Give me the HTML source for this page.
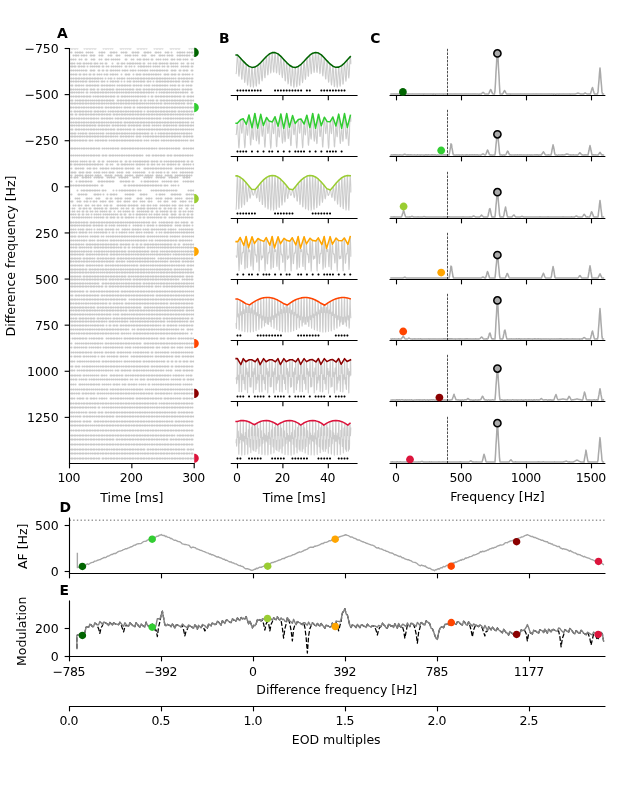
<!DOCTYPE html>
<html><head><meta charset="utf-8"><title>figure</title><style>html,body{margin:0;padding:0;background:#fff;}svg{display:block;}</style></head><body>
<svg width="629" height="800" viewBox="0 0 452.88 576" version="1.1">
 <defs>
  <style type="text/css">*{stroke-linejoin: round; stroke-linecap: butt}</style>
 </defs>
 <g id="figure_1">
  <g id="patch_1">
   <path d="M0 576 452.88 576 452.88 0 0 0z" style="fill: #ffffff"/>
  </g>
  <g id="axes_1">
   <g id="patch_2">
    <path d="M50.04 333.72 139.82 333.72 139.82 34.92 50.04 34.92z" style="fill: #ffffff"/>
   </g>
   <g id="patch_3">
    <path d="M139.82 363.6 166.76 363.6 166.76 5.04 139.82 5.04 139.82 363.6z" clip-path="url(#p271bf2d5a7)" style="fill: none"/>
   </g>
   <g id="matplotlib.axis_1">
    <g id="xtick_1">
     <g id="line2d_1">
      <defs>
       <path id="m1504cfccaf" d="M0 0 0 3.5" style="stroke: #000000; stroke-width: 0.8"/>
      </defs>
      <g>
       <use href="#m1504cfccaf" x="50.04" y="333.72" style="stroke: #000000; stroke-width: 0.8"/>
      </g>
     </g>
     <g id="text_1">
      <text style="font-size: 9px; font-family: 'DejaVu Sans', sans-serif; text-anchor: middle; letter-spacing: -0.3px" x="49.54" y="346.84" transform="rotate(-0 49.54 346.84)">100</text>
     </g>
    </g>
    <g id="xtick_2">
     <g id="line2d_2">
      <g>
       <use href="#m1504cfccaf" x="94.93" y="333.72" style="stroke: #000000; stroke-width: 0.8"/>
      </g>
     </g>
     <g id="text_2">
      <text style="font-size: 9px; font-family: 'DejaVu Sans', sans-serif; text-anchor: middle; letter-spacing: -0.3px" x="94.43" y="346.84" transform="rotate(-0 94.43 346.84)">200</text>
     </g>
    </g>
    <g id="xtick_3">
     <g id="line2d_3">
      <g>
       <use href="#m1504cfccaf" x="139.82" y="333.72" style="stroke: #000000; stroke-width: 0.8"/>
      </g>
     </g>
     <g id="text_3">
      <text style="font-size: 9px; font-family: 'DejaVu Sans', sans-serif; text-anchor: middle; letter-spacing: -0.3px" x="139.32" y="346.84" transform="rotate(-0 139.32 346.84)">300</text>
     </g>
    </g>
    <g id="text_4">
     <text style="font-size: 9px; font-family: 'DejaVu Sans', sans-serif; text-anchor: middle" x="94.93" y="361.71" transform="rotate(-0 94.93 361.71)">Time [ms]</text>
    </g>
   </g>
   <g id="matplotlib.axis_2">
    <g id="ytick_1">
     <g id="line2d_4">
      <defs>
       <path id="m5d545ce8f8" d="M0 0 -3.5 0" style="stroke: #000000; stroke-width: 0.8"/>
      </defs>
      <g>
       <use href="#m5d545ce8f8" x="50.04" y="34.92" style="stroke: #000000; stroke-width: 0.8"/>
      </g>
     </g>
     <g id="text_5">
      <text style="font-size: 9px; font-family: 'DejaVu Sans', sans-serif; text-anchor: end" x="42.32" y="38.34" transform="rotate(-0 42.32 38.34)">−750</text>
     </g>
    </g>
    <g id="ytick_2">
     <g id="line2d_5">
      <g>
       <use href="#m5d545ce8f8" x="50.04" y="68.12" style="stroke: #000000; stroke-width: 0.8"/>
      </g>
     </g>
     <g id="text_6">
      <text style="font-size: 9px; font-family: 'DejaVu Sans', sans-serif; text-anchor: end" x="42.32" y="71.54" transform="rotate(-0 42.32 71.54)">−500</text>
     </g>
    </g>
    <g id="ytick_3">
     <g id="line2d_6">
      <g>
       <use href="#m5d545ce8f8" x="50.04" y="101.32" style="stroke: #000000; stroke-width: 0.8"/>
      </g>
     </g>
     <g id="text_7">
      <text style="font-size: 9px; font-family: 'DejaVu Sans', sans-serif; text-anchor: end" x="42.32" y="104.74" transform="rotate(-0 42.32 104.74)">−250</text>
     </g>
    </g>
    <g id="ytick_4">
     <g id="line2d_7">
      <g>
       <use href="#m5d545ce8f8" x="50.04" y="134.52" style="stroke: #000000; stroke-width: 0.8"/>
      </g>
     </g>
     <g id="text_8">
      <text style="font-size: 9px; font-family: 'DejaVu Sans', sans-serif; text-anchor: end" x="42.32" y="137.94" transform="rotate(-0 42.32 137.94)">0</text>
     </g>
    </g>
    <g id="ytick_5">
     <g id="line2d_8">
      <g>
       <use href="#m5d545ce8f8" x="50.04" y="167.72" style="stroke: #000000; stroke-width: 0.8"/>
      </g>
     </g>
     <g id="text_9">
      <text style="font-size: 9px; font-family: 'DejaVu Sans', sans-serif; text-anchor: end" x="42.32" y="171.14" transform="rotate(-0 42.32 171.14)">250</text>
     </g>
    </g>
    <g id="ytick_6">
     <g id="line2d_9">
      <g>
       <use href="#m5d545ce8f8" x="50.04" y="200.92" style="stroke: #000000; stroke-width: 0.8"/>
      </g>
     </g>
     <g id="text_10">
      <text style="font-size: 9px; font-family: 'DejaVu Sans', sans-serif; text-anchor: end" x="42.32" y="204.34" transform="rotate(-0 42.32 204.34)">500</text>
     </g>
    </g>
    <g id="ytick_7">
     <g id="line2d_10">
      <g>
       <use href="#m5d545ce8f8" x="50.04" y="234.12" style="stroke: #000000; stroke-width: 0.8"/>
      </g>
     </g>
     <g id="text_11">
      <text style="font-size: 9px; font-family: 'DejaVu Sans', sans-serif; text-anchor: end" x="42.32" y="237.54" transform="rotate(-0 42.32 237.54)">750</text>
     </g>
    </g>
    <g id="ytick_8">
     <g id="line2d_11">
      <g>
       <use href="#m5d545ce8f8" x="50.04" y="267.32" style="stroke: #000000; stroke-width: 0.8"/>
      </g>
     </g>
     <g id="text_12">
      <text style="font-size: 9px; font-family: 'DejaVu Sans', sans-serif; text-anchor: end" x="42.32" y="270.74" transform="rotate(-0 42.32 270.74)">1000</text>
     </g>
    </g>
    <g id="ytick_9">
     <g id="line2d_12">
      <g>
       <use href="#m5d545ce8f8" x="50.04" y="300.52" style="stroke: #000000; stroke-width: 0.8"/>
      </g>
     </g>
     <g id="text_13">
      <text style="font-size: 9px; font-family: 'DejaVu Sans', sans-serif; text-anchor: end" x="42.32" y="303.94" transform="rotate(-0 42.32 303.94)">1250</text>
     </g>
    </g>
    <g id="text_14">
     <text style="font-size: 9px; font-family: 'DejaVu Sans', sans-serif; text-anchor: middle" x="10.94" y="184.32" transform="rotate(-90 10.94 184.32)">Difference frequency [Hz]</text>
    </g>
   </g>
   <g id="rasterpath">
    <path d="M50 34.9h0m1.5 0h0m0.7 0h0m1.4 0h0m0.8 0h0m1.4 0h0m5 0h0m1.5 0h0m0.7 0h0m1.4 0h0m0.8 0h0m1.4 0h0m1.4 0h0m0.8 0h0m5.7 0h0m1.5 0h0m0.7 0h0m1.4 0h0m1.5 0h0m1.4 0h0m5.8 0h0m0.7 0h0m1.4 0h0m1.5 0h0m1.4 0h0m1.4 0h0m0.8 0h0m5 0h0m0.7 0h0m1.5 0h0m0.7 0h0m1.4 0h0m0.7 0h0m1.5 0h0m5.7 0h0m1.5 0h0m0.7 0h0m1.4 0h0m0.8 0h0m1.4 0h0m5.8 0h0m0.7 0h0m1.4 0h0m1.5 0h0m0.7 0h0m1.4 0h0m0.7 0h0m7.2 0h0m1.5 0h0m1.4 0h0M50 37.8h0m1.5 0h0m2.9 0h0m1.4 0h0m1.4 0h0m0.8 0h0m1.4 0h0m2.9 0h0m1.4 0h0m1.5 0h0m1.4 0h0m5 0h0m1.5 0h0m0.7 0h0m1.4 0h0m4.4 0h0m0.7 0h0m1.4 0h0m0.7 0h0m1.5 0h0m3.6 0h0m1.4 0h0m1.5 0h0m0.7 0h0m4.3 0h0m0.7 0h0m1.5 0h0m1.4 0h0m0.7 0h0m4.3 0h0m0.8 0h0m1.4 0h0m0.7 0h0m1.5 0h0m3.6 0h0m0.7 0h0m1.4 0h0m1.5 0h0m3.6 0h0m1.4 0h0m0.7 0h0m2.2 0h0m4.3 0h0m1.4 0h0m0.8 0h0m1.4 0h0m1.4 0h0m2.2 0h0m1.4 0h0m1.5 0h0m0.7 0h0M52.9 40h0m1.5 0h0m0.7 0h0m1.4 0h0m2.2 0h0m1.4 0h0m0.7 0h0m1.5 0h0m2.9 0h0m0.7 0h0m1.4 0h0m0.7 0h0m3.6 0h0m1.5 0h0m0.7 0h0m4.3 0h0m1.5 0h0m0.7 0h0m3.6 0h0m0.7 0h0m1.4 0h0m4.4 0h0m1.4 0h0m1.4 0h0m0.8 0h0m2.1 0h0m1.5 0h0m1.4 0h0m3.6 0h0m1.4 0h0m0.8 0h0m4.3 0h0m0.7 0h0m1.4 0h0m3.6 0h0m0.8 0h0m1.4 0h0m1.4 0h0m2.2 0h0m1.4 0h0m1.5 0h0m0.7 0h0m3.6 0h0m1.4 0h0m0.8 0h0m1.4 0h0m1.4 0h0m1.5 0h0m0.7 0h0m1.4 0h0m2.9 0h0M50 42.8h0m1.5 0h0m1.4 0h0m1.5 0h0m2.8 0h0m1.5 0h0m2.9 0h0m0.7 0h0m3.6 0h0m1.4 0h0m0.7 0h0m3.6 0h0m1.5 0h0m2.9 0h0m0.7 0h0m1.4 0h0m2.2 0h0m1.4 0h0m1.5 0h0m1.4 0h0m1.4 0h0m4.4 0h0m0.7 0h0m3.6 0h0m1.4 0h0m2.9 0h0m1.4 0h0m0.8 0h0m2.1 0h0m0.7 0h0m1.5 0h0m1.4 0h0m2.2 0h0m0.7 0h0m2.9 0h0m1.4 0h0m1.5 0h0m2.1 0h0m1.5 0h0m1.4 0h0m2.9 0h0m0.7 0h0m1.4 0h0m2.2 0h0m1.4 0h0m0.8 0h0m2.1 0h0m1.5 0h0m1.4 0h0m2.9 0h0m0.7 0h0M50 45.7h0m1.5 0h0m0.7 0h0m1.4 0h0m2.2 0h0m1.4 0h0m0.8 0h0m2.1 0h0m0.7 0h0m1.5 0h0m1.4 0h0m1.5 0h0m0.7 0h0m2.1 0h0m0.8 0h0m1.4 0h0m2.2 0h0m1.4 0h0m2.2 0h0m0.7 0h0m4.3 0h0m3.6 0h0m0.7 0h0m2.2 0h0m0.7 0h0m1.4 0h0m2.2 0h0m1.4 0h0m0.8 0h0m1.4 0h0m0.7 0h0m1.5 0h0m1.4 0h0m1.4 0h0m0.8 0h0m2.1 0h0m0.7 0h0m2.9 0h0m1.5 0h0m2.1 0h0m1.5 0h0m0.7 0h0m2.1 0h0m0.8 0h0m1.4 0h0m1.4 0h0m1.5 0h0m0.7 0h0m2.2 0h0m0.7 0h0m1.4 0h0m1.5 0h0m1.4 0h0m2.9 0h0m1.4 0h0m2.9 0h0m0.7 0h0m2.2 0h0m1.4 0h0M50 47.9h0m1.5 0h0m0.7 0h0m1.4 0h0m0.8 0h0m2.1 0h0m0.7 0h0m1.5 0h0m1.4 0h0m0.7 0h0m2.2 0h0m2.2 0h0m1.4 0h0m1.4 0h0m1.5 0h0m1.4 0h0m0.7 0h0m2.2 0h0m0.7 0h0m2.2 0h0m1.4 0h0m2.2 0h0m1.4 0h0m1.5 0h0m1.4 0h0m1.4 0h0m1.5 0h0m2.9 0h0m0.7 0h0m2.1 0h0m1.5 0h0m2.1 0h0m2.9 0h0m1.5 0h0m0.7 0h0m1.4 0h0m0.7 0h0m1.5 0h0m1.4 0h0m1.5 0h0m2.1 0h0m1.5 0h0m1.4 0h0m1.4 0h0m2.2 0h0m1.4 0h0m2.2 0h0m0.7 0h0m2.2 0h0m1.4 0h0m1.5 0h0m1.4 0h0m2.9 0h0m1.4 0h0m1.5 0h0m1.4 0h0m0.7 0h0m2.2 0h0m0.7 0h0M50 50.8h0m1.5 0h0m1.4 0h0m1.5 0h0m1.4 0h0m1.4 0h0m1.5 0h0m1.4 0h0m1.5 0h0m0.7 0h0m2.9 0h0m0.7 0h0m1.4 0h0m0.7 0h0m2.9 0h0m0.7 0h0m2.2 0h0m0.7 0h0m2.2 0h0m0.7 0h0m2.2 0h0m0.7 0h0m1.4 0h0m1.5 0h0m1.4 0h0m1.4 0h0m2.2 0h0m1.4 0h0m0.8 0h0m1.4 0h0m2.2 0h0m1.4 0h0m0.7 0h0m1.5 0h0m2.1 0h0m1.5 0h0m1.4 0h0m1.4 0h0m0.8 0h0m1.4 0h0m2.2 0h0m1.4 0h0m1.4 0h0m1.5 0h0m0.7 0h0m1.4 0h0m0.8 0h0m1.4 0h0m1.4 0h0m1.5 0h0m0.7 0h0m2.9 0h0m0.7 0h0m1.4 0h0m0.8 0h0m2.8 0h0m0.8 0h0m2.1 0h0m0.7 0h0m1.5 0h0m0.7 0h0m2.9 0h0m0.7 0h0M50 53.6h0m1.5 0h0m1.4 0h0m1.5 0h0m0.7 0h0m2.1 0h0m0.8 0h0m2.1 0h0m0.7 0h0m1.5 0h0m2.1 0h0m0.8 0h0m2.1 0h0m0.7 0h0m2.2 0h0m1.4 0h0m1.5 0h0m2.1 0h0m1.5 0h0m0.7 0h0m2.2 0h0m1.4 0h0m0.7 0h0m1.5 0h0m1.4 0h0m2.9 0h0m2.9 0h0m0.7 0h0m1.4 0h0m0.7 0h0m2.9 0h0m2.2 0h0m0.7 0h0m1.4 0h0m0.8 0h0m2.1 0h0m0.7 0h0m1.5 0h0m1.4 0h0m0.7 0h0m1.5 0h0m1.4 0h0m1.5 0h0m0.7 0h0m1.4 0h0m1.5 0h0m2.8 0h0m0.8 0h0m1.4 0h0m0.7 0h0m2.2 0h0m0.7 0h0m1.4 0h0m0.8 0h0m2.1 0h0m0.7 0h0m2.2 0h0m0.7 0h0m1.5 0h0m1.4 0h0m1.4 0h0m2.2 0h0M50 56.5h0m1.5 0h0m1.4 0h0m1.5 0h0m0.7 0h0m1.4 0h0m0.7 0h0m1.5 0h0m1.4 0h0m0.7 0h0m1.5 0h0m0.7 0h0m1.4 0h0m0.8 0h0m1.4 0h0m1.4 0h0m0.8 0h0m1.4 0h0m0.7 0h0m1.5 0h0m1.4 0h0m2.2 0h0m2.1 0h0m1.5 0h0m0.7 0h0m2.1 0h0m2.2 0h0m1.4 0h0m1.5 0h0m0.7 0h0m1.4 0h0m2.2 0h0m1.4 0h0m1.5 0h0m1.4 0h0m1.5 0h0m1.4 0h0m0.7 0h0m1.5 0h0m0.7 0h0m1.4 0h0m0.7 0h0m1.5 0h0m1.4 0h0m0.7 0h0m1.5 0h0m0.7 0h0m1.4 0h0m1.5 0h0m0.7 0h0m1.4 0h0m0.8 0h0m1.4 0h0m1.4 0h0m0.8 0h0m1.4 0h0m1.4 0h0m1.5 0h0m1.4 0h0m1.5 0h0m2.1 0h0m0.7 0h0m1.5 0h0m1.4 0h0m0.7 0h0m1.5 0h0m0.7 0h0m1.4 0h0m1.5 0h0m0.7 0h0M50 58.7h0m1.5 0h0m1.4 0h0m1.5 0h0m0.7 0h0m1.4 0h0m1.5 0h0m1.4 0h0m0.7 0h0m1.5 0h0m0.7 0h0m2.1 0h0m0.8 0h0m1.4 0h0m1.4 0h0m1.5 0h0m1.4 0h0m2.2 0h0m0.7 0h0m1.4 0h0m2.2 0h0m2.2 0h0m1.4 0h0m0.7 0h0m1.5 0h0m1.4 0h0m0.7 0h0m2.2 0h0m2.1 0h0m2.2 0h0m1.4 0h0m0.8 0h0m2.1 0h0m0.7 0h0m1.5 0h0m1.4 0h0m1.5 0h0m0.7 0h0m1.4 0h0m0.7 0h0m2.2 0h0m0.7 0h0m1.5 0h0m2.1 0h0m2.2 0h0m0.7 0h0m1.4 0h0m0.8 0h0m1.4 0h0m1.4 0h0m0.8 0h0m1.4 0h0m0.7 0h0m1.5 0h0m0.7 0h0m1.4 0h0m1.5 0h0m0.7 0h0m1.4 0h0m0.7 0h0m2.2 0h0m0.7 0h0m1.5 0h0m1.4 0h0m0.7 0h0m2.2 0h0m0.7 0h0M50 61.6h0m1.5 0h0m0.7 0h0m2.2 0h0m0.7 0h0m1.4 0h0m0.7 0h0m1.5 0h0m1.4 0h0m2.2 0h0m0.7 0h0m1.4 0h0m0.8 0h0m1.4 0h0m1.4 0h0m0.8 0h0m1.4 0h0m0.7 0h0m2.2 0h0m0.7 0h0m1.4 0h0m1.5 0h0m0.7 0h0m1.4 0h0m0.8 0h0m1.4 0h0m1.4 0h0m2.2 0h0m1.4 0h0m1.5 0h0m0.7 0h0m1.4 0h0m0.8 0h0m1.4 0h0m1.4 0h0m0.8 0h0m2.1 0h0m0.7 0h0m1.5 0h0m1.4 0h0m1.5 0h0m0.7 0h0m2.1 0h0m1.5 0h0m1.4 0h0m0.7 0h0m2.2 0h0m1.4 0h0m1.5 0h0m0.7 0h0m1.4 0h0m0.8 0h0m1.4 0h0m1.4 0h0m0.8 0h0m1.4 0h0m2.2 0h0m1.4 0h0m1.4 0h0m0.8 0h0m2.1 0h0m0.7 0h0m2.2 0h0m0.7 0h0m2.2 0h0m1.4 0h0m1.5 0h0m0.7 0h0M50.8 64.4h0m0.7 0h0m1.4 0h0m1.5 0h0m1.4 0h0m1.4 0h0m1.5 0h0m1.4 0h0m0.7 0h0m1.5 0h0m0.7 0h0m2.2 0h0m0.7 0h0m1.4 0h0m0.7 0h0m2.2 0h0m0.7 0h0m2.2 0h0m0.7 0h0m1.4 0h0m1.5 0h0m0.7 0h0m1.4 0h0m0.8 0h0m1.4 0h0m0.7 0h0m2.2 0h0m0.7 0h0m1.4 0h0m1.5 0h0m1.4 0h0m1.5 0h0m1.4 0h0m1.4 0h0m0.8 0h0m1.4 0h0m0.7 0h0m2.2 0h0m0.7 0h0m1.4 0h0m0.8 0h0m2.1 0h0m0.7 0h0m1.5 0h0m1.4 0h0m0.7 0h0m1.5 0h0m0.7 0h0m1.4 0h0m1.5 0h0m0.7 0h0m1.4 0h0m0.8 0h0m1.4 0h0m1.4 0h0m0.8 0h0m1.4 0h0m1.4 0h0m1.5 0h0m0.7 0h0m1.4 0h0m0.8 0h0m1.4 0h0m1.4 0h0m2.2 0h0m0.7 0h0m1.5 0h0m1.4 0h0m0.7 0h0m1.5 0h0m0.7 0h0M50 66.6h0m1.5 0h0m0.7 0h0m1.4 0h0m1.5 0h0m1.4 0h0m0.7 0h0m1.5 0h0m1.4 0h0m2.2 0h0m0.7 0h0m2.2 0h0m1.4 0h0m1.4 0h0m0.8 0h0m1.4 0h0m0.7 0h0m1.5 0h0m1.4 0h0m0.7 0h0m1.5 0h0m0.7 0h0m1.4 0h0m1.5 0h0m1.4 0h0m1.4 0h0m1.5 0h0m0.7 0h0m1.4 0h0m1.5 0h0m1.4 0h0m1.5 0h0m0.7 0h0m1.4 0h0m0.7 0h0m1.5 0h0m1.4 0h0m1.5 0h0m1.4 0h0m0.7 0h0m1.5 0h0m0.7 0h0m1.4 0h0m0.7 0h0m1.5 0h0m1.4 0h0m0.7 0h0m1.5 0h0m1.4 0h0m2.2 0h0m2.1 0h0m1.5 0h0m1.4 0h0m0.7 0h0m1.5 0h0m0.7 0h0m1.4 0h0m1.5 0h0m1.4 0h0m1.5 0h0m0.7 0h0m1.4 0h0m1.5 0h0m1.4 0h0m0.7 0h0m1.5 0h0m1.4 0h0m2.9 0h0m0.7 0h0M50 69.5h0m1.5 0h0m1.4 0h0m1.5 0h0m0.7 0h0m1.4 0h0m0.7 0h0m1.5 0h0m1.4 0h0m0.7 0h0m1.5 0h0m0.7 0h0m1.4 0h0m0.8 0h0m2.1 0h0m1.5 0h0m1.4 0h0m0.7 0h0m1.5 0h0m1.4 0h0m0.7 0h0m1.5 0h0m0.7 0h0m1.4 0h0m1.5 0h0m0.7 0h0m1.4 0h0m0.7 0h0m2.2 0h0m0.7 0h0m2.2 0h0m0.7 0h0m1.4 0h0m0.8 0h0m1.4 0h0m1.4 0h0m1.5 0h0m1.4 0h0m1.5 0h0m1.4 0h0m0.7 0h0m1.5 0h0m1.4 0h0m1.4 0h0m0.8 0h0m2.1 0h0m2.2 0h0m0.7 0h0m2.2 0h0m0.7 0h0m1.4 0h0m1.5 0h0m0.7 0h0m1.4 0h0m0.7 0h0m1.5 0h0m0.7 0h0m1.4 0h0m1.5 0h0m0.7 0h0m1.4 0h0m0.8 0h0m1.4 0h0m1.4 0h0m0.8 0h0m2.1 0h0m0.7 0h0m2.2 0h0m0.7 0h0m1.5 0h0m0.7 0h0m1.4 0h0M50 72.4h0m1.5 0h0m0.7 0h0m2.2 0h0m1.4 0h0m1.4 0h0m0.8 0h0m1.4 0h0m0.7 0h0m1.5 0h0m0.7 0h0m1.4 0h0m1.5 0h0m1.4 0h0m1.4 0h0m1.5 0h0m1.4 0h0m0.7 0h0m1.5 0h0m0.7 0h0m1.4 0h0m1.5 0h0m0.7 0h0m1.4 0h0m0.8 0h0m1.4 0h0m0.7 0h0m2.9 0h0m0.7 0h0m1.5 0h0m0.7 0h0m1.4 0h0m1.5 0h0m0.7 0h0m1.4 0h0m0.7 0h0m1.5 0h0m1.4 0h0m0.7 0h0m1.5 0h0m0.7 0h0m2.2 0h0m0.7 0h0m2.1 0h0m0.8 0h0m2.1 0h0m1.5 0h0m1.4 0h0m0.7 0h0m2.2 0h0m0.7 0h0m2.2 0h0m0.7 0h0m1.4 0h0m0.7 0h0m1.5 0h0m0.7 0h0m1.4 0h0m1.5 0h0m0.7 0h0m1.4 0h0m0.8 0h0m1.4 0h0m1.4 0h0m0.8 0h0m1.4 0h0m0.7 0h0m1.5 0h0m1.4 0h0m0.7 0h0m1.5 0h0m0.7 0h0m1.4 0h0M50 74.5h0m1.5 0h0m0.7 0h0m1.4 0h0m0.8 0h0m1.4 0h0m1.4 0h0m0.8 0h0m1.4 0h0m0.7 0h0m1.5 0h0m0.7 0h0m1.4 0h0m1.5 0h0m0.7 0h0m1.4 0h0m0.7 0h0m1.5 0h0m1.4 0h0m0.7 0h0m1.5 0h0m0.7 0h0m1.4 0h0m1.5 0h0m1.4 0h0m1.5 0h0m0.7 0h0m1.4 0h0m0.7 0h0m1.5 0h0m1.4 0h0m1.5 0h0m0.7 0h0m1.4 0h0m1.5 0h0m0.7 0h0m1.4 0h0m0.7 0h0m1.5 0h0m1.4 0h0m0.7 0h0m1.5 0h0m0.7 0h0m1.4 0h0m0.8 0h0m1.4 0h0m1.4 0h0m1.5 0h0m1.4 0h0m1.5 0h0m1.4 0h0m1.4 0h0m1.5 0h0m1.4 0h0m1.5 0h0m0.7 0h0m2.1 0h0m0.8 0h0m1.4 0h0m1.4 0h0m1.5 0h0m1.4 0h0m1.5 0h0m0.7 0h0m1.4 0h0m0.7 0h0m1.5 0h0m1.4 0h0m0.7 0h0m2.2 0h0m0.7 0h0m1.5 0h0m0.7 0h0M50.8 77.4h0m0.7 0h0m1.4 0h0m1.5 0h0m0.7 0h0m1.4 0h0m0.7 0h0m1.5 0h0m1.4 0h0m0.7 0h0m1.5 0h0m1.4 0h0m1.5 0h0m0.7 0h0m1.4 0h0m0.7 0h0m1.5 0h0m1.4 0h0m0.7 0h0m1.5 0h0m0.7 0h0m2.2 0h0m0.7 0h0m1.4 0h0m1.5 0h0m0.7 0h0m1.4 0h0m0.7 0h0m1.5 0h0m0.7 0h0m1.4 0h0m1.5 0h0m2.1 0h0m0.8 0h0m1.4 0h0m1.4 0h0m0.8 0h0m2.1 0h0m0.7 0h0m2.2 0h0m1.4 0h0m0.8 0h0m1.4 0h0m1.4 0h0m0.8 0h0m1.4 0h0m0.7 0h0m1.5 0h0m1.4 0h0m0.7 0h0m1.5 0h0m0.7 0h0m1.4 0h0m1.5 0h0m0.7 0h0m1.4 0h0m0.7 0h0m1.5 0h0m0.7 0h0m1.4 0h0m1.5 0h0m0.7 0h0m1.4 0h0m0.8 0h0m1.4 0h0m1.4 0h0m0.8 0h0m1.4 0h0m0.7 0h0m1.5 0h0m1.4 0h0m0.7 0h0m1.5 0h0m0.7 0h0m1.4 0h0M50 80.3h0m1.5 0h0m2.1 0h0m0.8 0h0m1.4 0h0m1.4 0h0m0.8 0h0m1.4 0h0m0.7 0h0m1.5 0h0m0.7 0h0m1.4 0h0m1.5 0h0m0.7 0h0m2.1 0h0m0.8 0h0m1.4 0h0m0.7 0h0m1.5 0h0m1.4 0h0m0.7 0h0m1.5 0h0m2.1 0h0m1.5 0h0m1.4 0h0m0.7 0h0m1.5 0h0m1.4 0h0m0.7 0h0m1.5 0h0m0.7 0h0m1.4 0h0m1.5 0h0m0.7 0h0m1.4 0h0m1.5 0h0m1.4 0h0m0.7 0h0m1.5 0h0m1.4 0h0m0.7 0h0m1.5 0h0m0.7 0h0m2.1 0h0m2.2 0h0m0.7 0h0m1.5 0h0m1.4 0h0m0.7 0h0m1.5 0h0m0.7 0h0m1.4 0h0m1.5 0h0m0.7 0h0m1.4 0h0m0.7 0h0m1.5 0h0m0.7 0h0m1.4 0h0m1.5 0h0m0.7 0h0m1.4 0h0m0.8 0h0m2.1 0h0m0.7 0h0m1.5 0h0m1.4 0h0m0.7 0h0m1.5 0h0m0.7 0h0m1.4 0h0m1.5 0h0m0.7 0h0M50 82.4h0m1.5 0h0m0.7 0h0m2.2 0h0m0.7 0h0m2.1 0h0m0.8 0h0m1.4 0h0m0.7 0h0m1.5 0h0m0.7 0h0m1.4 0h0m1.5 0h0m0.7 0h0m1.4 0h0m0.7 0h0m1.5 0h0m1.4 0h0m0.7 0h0m1.5 0h0m0.7 0h0m1.4 0h0m1.5 0h0m0.7 0h0m1.4 0h0m0.8 0h0m2.1 0h0m0.7 0h0m1.5 0h0m0.7 0h0m1.4 0h0m1.5 0h0m0.7 0h0m1.4 0h0m0.8 0h0m1.4 0h0m1.4 0h0m0.8 0h0m1.4 0h0m0.7 0h0m1.5 0h0m1.4 0h0m0.7 0h0m1.5 0h0m0.7 0h0m1.4 0h0m0.7 0h0m1.5 0h0m1.4 0h0m0.7 0h0m1.5 0h0m0.7 0h0m1.4 0h0m1.5 0h0m0.7 0h0m1.4 0h0m0.8 0h0m1.4 0h0m1.4 0h0m0.8 0h0m1.4 0h0m0.7 0h0m1.5 0h0m0.7 0h0m1.4 0h0m1.5 0h0m1.4 0h0m1.4 0h0m0.8 0h0m1.4 0h0m0.7 0h0m1.5 0h0m1.4 0h0m0.7 0h0m1.5 0h0m0.7 0h0m1.4 0h0M50 85.3h0m1.5 0h0m0.7 0h0m1.4 0h0m1.5 0h0m1.4 0h0m0.7 0h0m1.5 0h0m1.4 0h0m0.7 0h0m1.5 0h0m1.4 0h0m1.5 0h0m0.7 0h0m1.4 0h0m0.7 0h0m1.5 0h0m1.4 0h0m2.2 0h0m0.7 0h0m1.4 0h0m1.5 0h0m0.7 0h0m1.4 0h0m0.8 0h0m1.4 0h0m2.2 0h0m1.4 0h0m0.7 0h0m1.5 0h0m0.7 0h0m1.4 0h0m1.5 0h0m0.7 0h0m1.4 0h0m0.7 0h0m1.5 0h0m1.4 0h0m0.7 0h0m1.5 0h0m0.7 0h0m1.4 0h0m0.8 0h0m1.4 0h0m1.4 0h0m1.5 0h0m1.4 0h0m0.7 0h0m1.5 0h0m0.7 0h0m1.4 0h0m1.5 0h0m0.7 0h0m1.4 0h0m0.8 0h0m2.1 0h0m1.5 0h0m1.4 0h0m0.7 0h0m1.5 0h0m0.7 0h0m1.4 0h0m1.5 0h0m1.4 0h0m1.4 0h0m0.8 0h0m1.4 0h0m0.7 0h0m1.5 0h0m1.4 0h0m0.7 0h0m1.5 0h0m1.4 0h0M50 88.2h0m1.5 0h0m1.4 0h0m1.5 0h0m0.7 0h0m1.4 0h0m0.7 0h0m1.5 0h0m1.4 0h0m0.7 0h0m1.5 0h0m1.4 0h0m1.5 0h0m0.7 0h0m1.4 0h0m0.7 0h0m1.5 0h0m1.4 0h0m0.7 0h0m1.5 0h0m0.7 0h0m1.4 0h0m1.5 0h0m1.4 0h0m1.5 0h0m0.7 0h0m1.4 0h0m1.5 0h0m1.4 0h0m0.7 0h0m1.5 0h0m0.7 0h0m2.1 0h0m0.8 0h0m1.4 0h0m1.4 0h0m0.8 0h0m1.4 0h0m0.7 0h0m1.5 0h0m1.4 0h0m0.7 0h0m1.5 0h0m0.7 0h0m1.4 0h0m0.7 0h0m1.5 0h0m1.4 0h0m0.7 0h0m1.5 0h0m0.7 0h0m1.4 0h0m1.5 0h0m0.7 0h0m1.4 0h0m0.8 0h0m1.4 0h0m1.4 0h0m0.8 0h0m1.4 0h0m0.7 0h0m1.5 0h0m0.7 0h0m1.4 0h0m1.5 0h0m1.4 0h0m1.4 0h0m0.8 0h0m1.4 0h0m0.7 0h0m1.5 0h0m1.4 0h0m0.7 0h0m2.2 0h0m1.4 0h0M50 90.4h0m1.5 0h0m0.7 0h0m1.4 0h0m1.5 0h0m1.4 0h0m0.7 0h0m1.5 0h0m1.4 0h0m0.7 0h0m1.5 0h0m0.7 0h0m1.4 0h0m0.8 0h0m1.4 0h0m1.4 0h0m0.8 0h0m2.1 0h0m0.7 0h0m1.5 0h0m0.7 0h0m1.4 0h0m1.5 0h0m0.7 0h0m1.4 0h0m2.2 0h0m0.7 0h0m1.5 0h0m1.4 0h0m0.7 0h0m1.5 0h0m1.4 0h0m1.4 0h0m0.8 0h0m2.1 0h0m0.7 0h0m1.5 0h0m1.4 0h0m0.7 0h0m1.5 0h0m0.7 0h0m1.4 0h0m0.8 0h0m2.1 0h0m0.7 0h0m1.5 0h0m1.4 0h0m0.7 0h0m2.2 0h0m1.4 0h0m1.5 0h0m1.4 0h0m1.5 0h0m2.1 0h0m0.7 0h0m1.5 0h0m0.7 0h0m1.4 0h0m1.5 0h0m1.4 0h0m1.5 0h0m0.7 0h0m2.1 0h0m0.8 0h0m1.4 0h0m0.7 0h0m1.5 0h0m1.4 0h0m0.7 0h0m1.5 0h0m0.7 0h0m1.4 0h0M50 93.2h0m1.5 0h0m0.7 0h0m2.2 0h0m0.7 0h0m1.4 0h0m0.7 0h0m1.5 0h0m1.4 0h0m0.7 0h0m1.5 0h0m1.4 0h0m1.5 0h0m0.7 0h0m1.4 0h0m0.7 0h0m1.5 0h0m1.4 0h0m1.5 0h0m1.4 0h0m0.7 0h0m1.5 0h0m0.7 0h0m1.4 0h0m1.5 0h0m0.7 0h0m1.4 0h0m0.7 0h0m2.2 0h0m0.7 0h0m1.5 0h0m0.7 0h0m1.4 0h0m1.5 0h0m1.4 0h0m1.4 0h0m0.8 0h0m2.1 0h0m0.7 0h0m2.2 0h0m1.4 0h0m0.8 0h0m1.4 0h0m1.4 0h0m1.5 0h0m1.4 0h0m0.7 0h0m1.5 0h0m0.7 0h0m1.4 0h0m1.5 0h0m0.7 0h0m1.4 0h0m0.8 0h0m1.4 0h0m1.4 0h0m0.8 0h0m1.4 0h0m0.7 0h0m1.5 0h0m0.7 0h0m1.4 0h0m1.5 0h0m0.7 0h0m1.4 0h0m1.5 0h0m1.4 0h0m0.7 0h0m1.5 0h0m1.4 0h0m1.4 0h0m1.5 0h0m1.4 0h0M50 96.1h0m1.5 0h0m0.7 0h0m1.4 0h0m0.8 0h0m2.1 0h0m1.5 0h0m1.4 0h0m0.7 0h0m1.5 0h0m0.7 0h0m2.1 0h0m0.8 0h0m1.4 0h0m1.4 0h0m1.5 0h0m1.4 0h0m1.5 0h0m1.4 0h0m0.7 0h0m2.2 0h0m1.4 0h0m1.5 0h0m0.7 0h0m1.4 0h0m0.7 0h0m1.5 0h0m0.7 0h0m1.4 0h0m1.5 0h0m0.7 0h0m1.4 0h0m0.8 0h0m1.4 0h0m1.4 0h0m1.5 0h0m1.4 0h0m0.7 0h0m1.5 0h0m0.7 0h0m1.4 0h0m0.8 0h0m1.4 0h0m1.4 0h0m0.8 0h0m1.4 0h0m0.7 0h0m2.2 0h0m0.7 0h0m2.2 0h0m2.1 0h0m1.5 0h0m0.7 0h0m1.4 0h0m0.7 0h0m1.5 0h0m0.7 0h0m1.4 0h0m1.5 0h0m0.7 0h0m1.4 0h0m0.8 0h0m1.4 0h0m1.4 0h0m1.5 0h0m1.4 0h0m0.7 0h0m1.5 0h0m0.7 0h0m1.4 0h0m1.5 0h0M50 98.3h0m1.5 0h0m0.7 0h0m1.4 0h0m0.8 0h0m1.4 0h0m1.4 0h0m0.8 0h0m1.4 0h0m1.4 0h0m1.5 0h0m0.7 0h0m1.4 0h0m0.8 0h0m1.4 0h0m1.4 0h0m0.8 0h0m1.4 0h0m0.7 0h0m1.5 0h0m1.4 0h0m0.7 0h0m1.5 0h0m0.7 0h0m1.4 0h0m1.5 0h0m0.7 0h0m1.4 0h0m1.5 0h0m1.4 0h0m2.2 0h0m0.7 0h0m1.4 0h0m1.5 0h0m0.7 0h0m1.4 0h0m0.7 0h0m1.5 0h0m1.4 0h0m2.2 0h0m0.7 0h0m1.4 0h0m0.8 0h0m2.1 0h0m1.5 0h0m1.4 0h0m0.7 0h0m1.5 0h0m1.4 0h0m0.7 0h0m1.5 0h0m0.7 0h0m1.4 0h0m1.5 0h0m0.7 0h0m1.4 0h0m0.7 0h0m1.5 0h0m0.7 0h0m1.4 0h0m1.5 0h0m0.7 0h0m1.4 0h0m0.8 0h0m1.4 0h0m1.4 0h0m0.8 0h0m2.1 0h0m0.7 0h0m1.5 0h0m0.7 0h0m1.4 0h0m1.5 0h0m0.7 0h0M50 101.2h0m1.5 0h0m0.7 0h0m1.4 0h0m0.8 0h0m1.4 0h0m1.4 0h0m0.8 0h0m1.4 0h0m0.7 0h0m1.5 0h0m0.7 0h0m2.1 0h0m0.8 0h0m1.4 0h0m2.2 0h0m1.4 0h0m0.7 0h0m1.5 0h0m1.4 0h0m0.7 0h0m1.5 0h0m0.7 0h0m2.1 0h0m1.5 0h0m1.4 0h0m0.7 0h0m1.5 0h0m0.7 0h0m1.4 0h0m1.5 0h0m0.7 0h0m1.4 0h0m0.8 0h0m1.4 0h0m1.4 0h0m0.8 0h0m1.4 0h0m0.7 0h0m1.5 0h0m1.4 0h0m0.7 0h0m1.5 0h0m0.7 0h0m2.1 0h0m1.5 0h0m1.4 0h0m2.2 0h0m1.4 0h0m1.5 0h0m0.7 0h0m1.4 0h0m2.2 0h0m1.4 0h0m0.7 0h0m1.5 0h0m1.4 0h0m1.5 0h0m0.7 0h0m1.4 0h0m1.5 0h0m0.7 0h0m1.4 0h0m0.7 0h0m1.5 0h0m1.4 0h0m1.5 0h0m1.4 0h0m2.2 0h0m0.7 0h0m1.4 0h0M50 106.9h0m1.5 0h0m0.7 0h0m1.4 0h0m0.8 0h0m1.4 0h0m1.4 0h0m1.5 0h0m1.4 0h0m0.7 0h0m1.5 0h0m1.4 0h0m1.5 0h0m0.7 0h0m1.4 0h0m0.7 0h0m1.5 0h0m1.4 0h0m0.7 0h0m2.2 0h0m1.4 0h0m1.5 0h0m1.4 0h0m1.5 0h0m1.4 0h0m0.7 0h0m1.5 0h0m1.4 0h0m0.7 0h0m2.2 0h0m0.7 0h0m1.4 0h0m0.8 0h0m1.4 0h0m1.4 0h0m0.8 0h0m1.4 0h0m0.7 0h0m1.5 0h0m1.4 0h0m0.7 0h0m1.5 0h0m1.4 0h0m1.4 0h0m1.5 0h0m1.4 0h0m0.7 0h0m1.5 0h0m0.7 0h0m1.4 0h0m1.5 0h0m2.1 0h0m0.8 0h0m1.4 0h0m1.4 0h0m1.5 0h0m0.7 0h0m1.4 0h0m1.5 0h0m1.4 0h0m1.5 0h0m0.7 0h0m1.4 0h0m0.7 0h0m2.9 0h0m0.7 0h0m1.5 0h0m1.4 0h0m1.5 0h0m0.7 0h0m1.4 0h0M50 112h0m1.5 0h0m1.4 0h0m1.5 0h0m1.4 0h0m1.4 0h0m1.5 0h0m1.4 0h0m0.7 0h0m1.5 0h0m1.4 0h0m1.5 0h0m0.7 0h0m1.4 0h0m0.7 0h0m1.5 0h0m1.4 0h0m0.7 0h0m2.2 0h0m0.7 0h0m1.5 0h0m0.7 0h0m2.1 0h0m0.8 0h0m1.4 0h0m0.7 0h0m1.5 0h0m1.4 0h0m1.4 0h0m1.5 0h0m0.7 0h0m1.4 0h0m1.5 0h0m1.4 0h0m0.7 0h0m1.5 0h0m1.4 0h0m0.7 0h0m1.5 0h0m0.7 0h0m1.4 0h0m0.8 0h0m1.4 0h0m2.9 0h0m1.4 0h0m0.7 0h0m2.2 0h0m0.7 0h0m1.5 0h0m0.7 0h0m1.4 0h0m1.5 0h0m0.7 0h0m1.4 0h0m0.7 0h0m2.2 0h0m0.7 0h0m1.5 0h0m0.7 0h0m2.1 0h0m0.8 0h0m1.4 0h0m1.4 0h0m0.8 0h0m1.4 0h0m0.7 0h0m1.5 0h0m1.4 0h0m0.7 0h0m1.5 0h0m1.4 0h0M50 116.3h0m1.5 0h0m1.4 0h0m1.5 0h0m1.4 0h0m2.2 0h0m1.4 0h0m1.4 0h0m1.5 0h0m2.1 0h0m0.8 0h0m2.1 0h0m0.7 0h0m2.9 0h0m0.7 0h0m2.2 0h0m0.7 0h0m2.9 0h0m1.4 0h0m1.5 0h0m1.4 0h0m1.5 0h0m1.4 0h0m2.2 0h0m0.7 0h0m2.9 0h0m0.7 0h0m2.1 0h0m0.8 0h0m2.1 0h0m1.5 0h0m1.4 0h0m1.4 0h0m0.8 0h0m1.4 0h0m1.4 0h0m0.8 0h0m1.4 0h0m0.7 0h0m2.2 0h0m0.7 0h0m1.4 0h0m1.5 0h0m0.7 0h0m2.2 0h0m0.7 0h0m2.1 0h0m1.5 0h0m1.4 0h0m1.5 0h0m0.7 0h0m1.4 0h0m1.5 0h0m0.7 0h0m1.4 0h0m0.7 0h0m1.5 0h0m1.4 0h0m0.7 0h0m2.2 0h0m0.7 0h0m2.2 0h0m0.7 0h0M50.8 118.4h0m0.7 0h0m2.1 0h0m0.8 0h0m1.4 0h0m1.4 0h0m0.8 0h0m1.4 0h0m1.4 0h0m1.5 0h0m0.7 0h0m1.4 0h0m0.8 0h0m1.4 0h0m1.4 0h0m0.8 0h0m1.4 0h0m0.7 0h0m1.5 0h0m1.4 0h0m2.9 0h0m0.7 0h0m2.2 0h0m1.4 0h0m3.6 0h0m0.7 0h0m2.2 0h0m0.7 0h0m1.4 0h0m0.8 0h0m1.4 0h0m1.4 0h0m1.5 0h0m1.4 0h0m2.2 0h0m0.7 0h0m1.4 0h0m0.8 0h0m1.4 0h0m1.4 0h0m2.2 0h0m0.7 0h0m2.2 0h0m0.7 0h0m1.4 0h0m2.2 0h0m1.4 0h0m2.2 0h0m1.4 0h0m2.2 0h0m0.7 0h0m1.5 0h0m0.7 0h0m1.4 0h0m1.5 0h0m2.1 0h0m0.7 0h0m2.9 0h0m0.7 0h0m1.5 0h0m1.4 0h0m1.5 0h0m2.1 0h0M50 121.3h0m1.5 0h0m2.9 0h0m0.7 0h0m1.4 0h0m1.5 0h0m1.4 0h0m0.7 0h0m2.9 0h0m1.4 0h0m0.8 0h0m2.1 0h0m0.7 0h0m1.5 0h0m2.9 0h0m1.4 0h0m0.7 0h0m1.5 0h0m0.7 0h0m1.4 0h0m2.2 0h0m1.4 0h0m0.7 0h0m1.5 0h0m0.7 0h0m1.4 0h0m1.5 0h0m0.7 0h0m2.2 0h0m0.7 0h0m1.4 0h0m1.5 0h0m1.4 0h0m0.7 0h0m2.9 0h0m1.4 0h0m3.6 0h0m0.8 0h0m1.4 0h0m0.7 0h0m1.5 0h0m1.4 0h0m0.7 0h0m1.5 0h0m0.7 0h0m1.4 0h0m1.5 0h0m0.7 0h0m1.4 0h0m0.7 0h0m1.5 0h0m1.4 0h0m1.5 0h0m0.7 0h0m2.9 0h0m0.7 0h0m1.4 0h0m1.5 0h0m1.4 0h0m0.7 0h0m1.5 0h0m1.4 0h0m1.4 0h0m1.5 0h0m1.4 0h0M51.5 124.2h0m0.7 0h0m1.4 0h0m0.8 0h0m2.8 0h0m0.8 0h0m1.4 0h0m0.7 0h0m2.2 0h0m0.7 0h0m1.4 0h0m0.8 0h0m2.8 0h0m1.5 0h0m1.4 0h0m0.7 0h0m2.2 0h0m1.4 0h0m1.5 0h0m2.1 0h0m0.8 0h0m1.4 0h0m0.7 0h0m2.9 0h0m1.4 0h0m1.5 0h0m0.7 0h0m2.9 0h0m1.4 0h0m0.7 0h0m2.9 0h0m1.5 0h0m1.4 0h0m1.4 0h0m1.5 0h0m1.4 0h0m0.7 0h0m3.6 0h0m2.2 0h0m0.7 0h0m2.2 0h0m1.4 0h0m1.5 0h0m0.7 0h0m2.1 0h0m2.2 0h0m0.7 0h0m2.9 0h0m1.4 0h0m1.5 0h0m2.9 0h0m1.4 0h0m0.7 0h0m1.5 0h0m1.4 0h0m1.4 0h0m1.5 0h0m0.7 0h0M50 126.4h0m1.5 0h0m2.9 0h0m1.4 0h0m1.4 0h0m0.8 0h0m1.4 0h0m2.2 0h0m0.7 0h0m1.4 0h0m1.5 0h0m1.4 0h0m2.2 0h0m1.4 0h0m0.7 0h0m1.5 0h0m3.6 0h0m0.7 0h0m1.4 0h0m1.5 0h0m0.7 0h0m2.9 0h0m1.4 0h0m0.7 0h0m1.5 0h0m0.7 0h0m2.9 0h0m1.4 0h0m1.4 0h0m0.8 0h0m1.4 0h0m2.9 0h0m0.7 0h0m1.4 0h0m0.8 0h0m1.4 0h0m2.2 0h0m1.4 0h0m0.7 0h0m1.5 0h0m1.4 0h0m2.9 0h0m0.7 0h0m1.4 0h0m1.5 0h0m2.9 0h0m1.4 0h0m0.7 0h0m1.5 0h0m0.7 0h0m2.9 0h0m1.4 0h0m1.4 0h0m0.8 0h0m1.4 0h0m1.4 0h0m1.5 0h0m0.7 0h0m1.4 0h0m1.5 0h0M50 127.8h0m1.5 0h0m2.1 0h0m0.8 0h0m1.4 0h0m3.6 0h0m0.7 0h0m1.5 0h0m0.7 0h0m1.4 0h0m1.5 0h0m2.8 0h0m1.5 0h0m1.4 0h0m0.7 0h0m1.5 0h0m0.7 0h0m3.6 0h0m1.4 0h0m1.5 0h0m1.4 0h0m0.7 0h0m3.6 0h0m1.5 0h0m0.7 0h0m1.4 0h0m0.8 0h0m1.4 0h0m4.3 0h0m0.7 0h0m1.5 0h0m1.4 0h0m4.3 0h0m1.5 0h0m1.4 0h0m0.7 0h0m1.5 0h0m3.6 0h0m1.4 0h0m1.5 0h0m0.7 0h0m1.4 0h0m0.7 0h0m3.6 0h0m1.5 0h0m0.7 0h0m1.4 0h0m0.8 0h0m1.4 0h0m4.3 0h0m0.7 0h0m1.5 0h0m0.7 0h0m1.4 0h0M50 130.7h0m1.5 0h0m3.6 0h0m2.1 0h0m0.8 0h0m1.4 0h0m0.7 0h0m1.5 0h0m0.7 0h0m1.4 0h0m1.5 0h0m0.7 0h0m5 0h0m0.7 0h0m1.5 0h0m0.7 0h0m1.4 0h0m1.5 0h0m0.7 0h0m1.4 0h0m0.8 0h0m1.4 0h0m0.7 0h0m5.1 0h0m0.7 0h0m1.4 0h0m1.5 0h0m0.7 0h0m1.4 0h0m0.7 0h0m2.2 0h0m0.7 0h0m5.8 0h0m2.1 0h0m0.8 0h0m1.4 0h0m0.7 0h0m1.5 0h0m1.4 0h0m0.7 0h0m1.5 0h0m1.4 0h0m3.6 0h0m1.4 0h0m1.5 0h0m1.4 0h0m1.5 0h0m0.7 0h0m2.1 0h0m0.8 0h0m1.4 0h0m4.3 0h0m1.5 0h0m1.4 0h0m0.7 0h0m1.5 0h0m0.7 0h0m1.4 0h0M50.8 133.6h0m0.7 0h0m1.4 0h0m1.5 0h0m0.7 0h0m1.4 0h0m0.7 0h0m1.5 0h0m1.4 0h0m0.7 0h0m1.5 0h0m0.7 0h0m1.4 0h0m0.8 0h0m1.4 0h0m1.4 0h0m0.8 0h0m1.4 0h0m2.9 0h0m0.7 0h0m15.8 0h0m0.8 0h0m2.1 0h0m0.7 0h0m1.5 0h0m1.4 0h0m0.7 0h0m1.5 0h0m0.7 0h0m1.4 0h0m0.8 0h0m1.4 0h0m1.4 0h0m0.8 0h0m1.4 0h0m0.7 0h0m1.5 0h0m1.4 0h0m0.7 0h0m1.5 0h0m0.7 0h0m1.4 0h0m1.5 0h0m0.7 0h0m2.1 0h0m0.8 0h0m1.4 0h0m2.9 0h0m1.4 0h0m1.5 0h0m2.1 0h0M55.8 137.2h0m2.9 0h0m1.4 0h0m0.7 0h0m1.5 0h0m0.7 0h0m1.4 0h0m0.8 0h0m1.4 0h0m1.4 0h0m0.8 0h0m1.4 0h0m1.4 0h0m2.2 0h0m0.7 0h0m1.5 0h0m5.7 0h0m2.2 0h0m2.1 0h0m1.5 0h0m0.7 0h0m1.4 0h0m0.8 0h0m1.4 0h0m1.4 0h0m0.8 0h0m1.4 0h0m0.7 0h0m1.5 0h0m2.1 0h0m1.5 0h0m7.9 0h0m1.4 0h0m1.5 0h0m0.7 0h0m1.4 0h0m1.5 0h0m0.7 0h0m1.4 0h0m0.7 0h0m1.5 0h0m0.7 0h0m1.4 0h0m1.5 0h0m1.4 0h0m1.5 0h0m0.7 0h0m8.6 0h0m1.5 0h0m0.7 0h0m1.4 0h0M50 140h0m1.5 0h0m5 0h0m0.7 0h0m1.5 0h0m1.4 0h0m1.5 0h0m0.7 0h0m5.7 0h0m0.8 0h0m1.4 0h0m0.7 0h0m1.5 0h0m2.1 0h0m2.9 0h0m2.2 0h0m0.7 0h0m1.4 0h0m0.7 0h0m1.5 0h0m6.5 0h0m1.4 0h0m1.4 0h0m0.8 0h0m1.4 0h0m0.7 0h0m5.1 0h0m0.7 0h0m1.4 0h0m0.7 0h0m1.5 0h0m7.2 0h0m2.1 0h0m0.8 0h0m1.4 0h0m1.4 0h0m5.1 0h0m0.7 0h0m1.4 0h0m0.8 0h0m1.4 0h0m1.4 0h0m0.8 0h0m4.3 0h0m0.7 0h0m1.4 0h0m1.5 0h0m1.4 0h0M50 142.9h0m4.4 0h0m1.4 0h0m1.4 0h0m5.1 0h0m0.7 0h0m1.4 0h0m1.5 0h0m3.6 0h0m1.4 0h0m0.7 0h0m5.1 0h0m0.7 0h0m2.2 0h0m0.7 0h0m2.9 0h0m1.4 0h0m0.7 0h0m1.5 0h0m0.7 0h0m2.9 0h0m1.4 0h0m1.4 0h0m0.8 0h0m5 0h0m0.7 0h0m1.5 0h0m0.7 0h0m3.6 0h0m1.4 0h0m0.7 0h0m1.5 0h0m3.6 0h0m1.4 0h0m1.5 0h0m0.7 0h0m2.9 0h0m1.4 0h0m0.7 0h0m1.5 0h0m0.7 0h0m2.9 0h0m1.4 0h0m1.4 0h0m1.5 0h0m3.6 0h0m0.7 0h0m1.4 0h0m1.5 0h0m0.7 0h0M50 145.1h0m1.5 0h0m0.7 0h0m3.6 0h0m1.4 0h0m0.8 0h0m2.8 0h0m1.5 0h0m0.7 0h0m2.2 0h0m2.1 0h0m0.7 0h0m1.5 0h0m2.9 0h0m1.4 0h0m0.7 0h0m1.5 0h0m2.8 0h0m0.8 0h0m1.4 0h0m3.6 0h0m0.7 0h0m1.5 0h0m2.8 0h0m0.8 0h0m1.4 0h0m1.4 0h0m2.9 0h0m0.7 0h0m1.5 0h0m2.9 0h0m1.4 0h0m1.4 0h0m2.9 0h0m0.7 0h0m1.5 0h0m5 0h0m1.5 0h0m2.8 0h0m0.8 0h0m1.4 0h0m3.6 0h0m1.4 0h0m0.8 0h0m3.6 0h0m1.4 0h0m0.7 0h0m1.5 0h0m2.8 0h0m1.5 0h0M50 148h0m2.9 0h0m1.5 0h0m2.1 0h0m0.7 0h0m1.5 0h0m2.9 0h0m0.7 0h0m1.4 0h0m2.9 0h0m1.4 0h0m2.2 0h0m0.7 0h0m1.5 0h0m2.8 0h0m1.5 0h0m0.7 0h0m2.2 0h0m0.7 0h0m4.3 0h0m0.7 0h0m1.5 0h0m1.4 0h0m1.4 0h0m0.8 0h0m2.1 0h0m0.7 0h0m1.5 0h0m1.4 0h0m0.7 0h0m1.5 0h0m0.7 0h0m2.9 0h0m1.4 0h0m0.7 0h0m2.2 0h0m0.7 0h0m1.5 0h0m2.1 0h0m1.5 0h0m0.7 0h0m2.9 0h0m1.4 0h0m1.4 0h0m1.5 0h0m0.7 0h0m1.4 0h0m2.2 0h0m1.4 0h0m0.8 0h0m2.8 0h0m0.8 0h0m1.4 0h0m2.2 0h0m1.4 0h0m0.7 0h0m2.2 0h0m1.4 0h0M50 150.1h0m2.2 0h0m1.4 0h0m3.6 0h0m0.8 0h0m2.1 0h0m0.7 0h0m1.5 0h0m2.1 0h0m0.8 0h0m2.8 0h0m0.8 0h0m1.4 0h0m1.4 0h0m1.5 0h0m0.7 0h0m2.2 0h0m0.7 0h0m2.9 0h0m0.7 0h0m1.4 0h0m1.5 0h0m1.4 0h0m2.9 0h0m1.4 0h0m2.2 0h0m1.4 0h0m2.9 0h0m0.7 0h0m2.9 0h0m0.7 0h0m1.5 0h0m0.7 0h0m1.4 0h0m0.7 0h0m2.2 0h0m0.7 0h0m1.5 0h0m1.4 0h0m1.4 0h0m1.5 0h0m2.1 0h0m0.8 0h0m2.8 0h0m0.8 0h0m2.1 0h0m1.5 0h0m0.7 0h0m2.1 0h0m0.8 0h0m2.8 0h0m1.5 0h0m3.6 0h0m0.7 0h0m2.9 0h0m1.4 0h0M50 152.3h0m2.2 0h0m1.4 0h0m2.2 0h0m1.4 0h0m2.2 0h0m0.7 0h0m2.2 0h0m0.7 0h0m2.2 0h0m1.4 0h0m2.2 0h0m1.4 0h0m2.2 0h0m1.4 0h0m1.4 0h0m1.5 0h0m2.1 0h0m0.8 0h0m2.8 0h0m2.9 0h0m1.5 0h0m2.1 0h0m1.5 0h0m1.4 0h0m1.4 0h0m2.2 0h0m0.7 0h0m2.9 0h0m1.4 0h0m1.5 0h0m1.4 0h0m1.5 0h0m1.4 0h0m0.7 0h0m2.2 0h0m0.7 0h0m2.9 0h0m0.7 0h0m2.2 0h0m1.4 0h0m1.4 0h0m1.5 0h0m0.7 0h0m2.2 0h0m0.7 0h0m2.1 0h0m0.8 0h0m2.8 0h0m0.8 0h0m2.1 0h0m1.5 0h0m2.1 0h0m1.5 0h0m1.4 0h0M50 154.4h0m1.5 0h0m1.4 0h0m1.5 0h0m2.1 0h0m0.7 0h0m2.2 0h0m0.7 0h0m2.2 0h0m1.4 0h0m2.2 0h0m2.1 0h0m1.5 0h0m1.4 0h0m1.5 0h0m2.1 0h0m1.5 0h0m1.4 0h0m1.4 0h0m1.5 0h0m1.4 0h0m1.5 0h0m1.4 0h0m2.2 0h0m0.7 0h0m2.1 0h0m0.8 0h0m2.8 0h0m0.8 0h0m2.1 0h0m2.2 0h0m0.7 0h0m1.4 0h0m0.8 0h0m1.4 0h0m1.4 0h0m1.5 0h0m2.1 0h0m1.5 0h0m2.1 0h0m1.5 0h0m0.7 0h0m1.4 0h0m2.2 0h0m1.4 0h0m1.5 0h0m0.7 0h0m2.9 0h0m0.7 0h0m1.4 0h0m0.8 0h0m2.8 0h0m0.8 0h0m2.1 0h0m0.7 0h0m2.2 0h0m0.7 0h0m2.2 0h0m0.7 0h0M50 156.6h0m2.2 0h0m1.4 0h0m1.5 0h0m1.4 0h0m0.7 0h0m1.5 0h0m1.4 0h0m1.5 0h0m1.4 0h0m1.4 0h0m1.5 0h0m2.1 0h0m1.5 0h0m1.4 0h0m1.5 0h0m1.4 0h0m0.7 0h0m2.2 0h0m0.7 0h0m2.2 0h0m0.7 0h0m1.4 0h0m0.7 0h0m2.2 0h0m0.7 0h0m2.2 0h0m0.7 0h0m2.2 0h0m0.7 0h0m1.4 0h0m0.7 0h0m1.5 0h0m1.4 0h0m2.2 0h0m2.1 0h0m0.8 0h0m2.1 0h0m0.7 0h0m2.2 0h0m0.7 0h0m1.5 0h0m1.4 0h0m1.4 0h0m1.5 0h0m1.4 0h0m1.5 0h0m0.7 0h0m2.1 0h0m0.8 0h0m2.8 0h0m1.5 0h0m0.7 0h0m1.4 0h0m1.5 0h0m1.4 0h0m0.7 0h0m1.5 0h0m1.4 0h0m1.5 0h0m1.4 0h0m1.4 0h0m1.5 0h0m0.7 0h0M50.8 160.2h0m0.7 0h0m1.4 0h0m1.5 0h0m0.7 0h0m1.4 0h0m0.7 0h0m1.5 0h0m1.4 0h0m0.7 0h0m1.5 0h0m0.7 0h0m2.2 0h0m0.7 0h0m1.4 0h0m0.7 0h0m1.5 0h0m1.4 0h0m0.7 0h0m1.5 0h0m0.7 0h0m1.4 0h0m1.5 0h0m0.7 0h0m1.4 0h0m0.8 0h0m1.4 0h0m0.7 0h0m1.5 0h0m1.4 0h0m0.7 0h0m1.5 0h0m0.7 0h0m1.4 0h0m1.5 0h0m1.4 0h0m1.4 0h0m0.8 0h0m1.4 0h0m0.7 0h0m1.5 0h0m1.4 0h0m1.4 0h0m1.5 0h0m1.4 0h0m0.7 0h0m1.5 0h0m1.4 0h0m0.7 0h0m2.2 0h0m0.7 0h0m1.5 0h0m2.8 0h0m1.5 0h0m1.4 0h0m0.7 0h0m1.5 0h0m0.7 0h0m1.4 0h0m1.5 0h0m0.7 0h0m2.2 0h0m0.7 0h0m1.4 0h0m2.2 0h0m1.4 0h0m0.7 0h0m1.5 0h0m0.7 0h0m2.9 0h0m0.7 0h0M50 162.4h0m1.5 0h0m0.7 0h0m1.4 0h0m0.8 0h0m1.4 0h0m1.4 0h0m1.5 0h0m1.4 0h0m0.7 0h0m1.5 0h0m0.7 0h0m1.4 0h0m0.8 0h0m2.1 0h0m0.7 0h0m1.5 0h0m1.4 0h0m0.7 0h0m1.5 0h0m0.7 0h0m2.2 0h0m0.7 0h0m2.1 0h0m1.5 0h0m1.4 0h0m0.7 0h0m2.2 0h0m1.4 0h0m1.5 0h0m1.4 0h0m1.5 0h0m0.7 0h0m2.1 0h0m2.9 0h0m1.5 0h0m1.4 0h0m0.7 0h0m1.5 0h0m0.7 0h0m2.1 0h0m2.2 0h0m0.7 0h0m1.5 0h0m1.4 0h0m0.7 0h0m2.2 0h0m2.1 0h0m0.8 0h0m1.4 0h0m1.4 0h0m0.8 0h0m1.4 0h0m0.7 0h0m1.5 0h0m0.7 0h0m2.9 0h0m1.4 0h0m1.4 0h0m0.8 0h0m2.1 0h0m0.7 0h0m1.5 0h0m0.7 0h0m1.4 0h0m2.2 0h0M50 165.2h0m1.5 0h0m1.4 0h0m1.5 0h0m2.1 0h0m1.5 0h0m1.4 0h0m0.7 0h0m2.2 0h0m0.7 0h0m1.4 0h0m1.5 0h0m2.1 0h0m2.2 0h0m1.4 0h0m1.5 0h0m0.7 0h0m2.2 0h0m0.7 0h0m1.4 0h0m1.5 0h0m1.4 0h0m0.7 0h0m2.2 0h0m1.4 0h0m2.9 0h0m1.4 0h0m0.8 0h0m1.4 0h0m1.4 0h0m2.2 0h0m0.7 0h0m1.5 0h0m1.4 0h0m0.7 0h0m1.5 0h0m2.1 0h0m1.5 0h0m1.4 0h0m0.7 0h0m2.2 0h0m0.7 0h0m1.4 0h0m1.5 0h0m1.4 0h0m1.5 0h0m1.4 0h0m1.4 0h0m0.8 0h0m2.1 0h0m1.5 0h0m0.7 0h0m1.4 0h0m1.5 0h0m2.8 0h0m1.5 0h0m1.4 0h0m1.5 0h0m1.4 0h0m1.4 0h0m1.5 0h0m0.7 0h0M50 167.4h0m1.5 0h0m0.7 0h0m1.4 0h0m1.5 0h0m2.1 0h0m0.8 0h0m1.4 0h0m0.7 0h0m1.5 0h0m0.7 0h0m2.1 0h0m1.5 0h0m2.1 0h0m1.5 0h0m1.4 0h0m1.5 0h0m1.4 0h0m0.7 0h0m1.5 0h0m0.7 0h0m2.1 0h0m2.2 0h0m0.7 0h0m2.2 0h0m2.1 0h0m1.5 0h0m0.7 0h0m1.4 0h0m1.5 0h0m2.1 0h0m1.5 0h0m1.4 0h0m2.2 0h0m0.7 0h0m1.4 0h0m1.5 0h0m2.1 0h0m1.5 0h0m1.4 0h0m0.7 0h0m1.5 0h0m0.7 0h0m2.9 0h0m2.1 0h0m1.5 0h0m2.1 0h0m0.8 0h0m1.4 0h0m0.7 0h0m1.5 0h0m0.7 0h0m1.4 0h0m1.5 0h0m1.4 0h0m1.4 0h0m1.5 0h0m1.4 0h0m0.7 0h0m1.5 0h0m0.7 0h0m1.4 0h0m1.5 0h0m1.4 0h0M50 170.3h0m1.5 0h0m0.7 0h0m1.4 0h0m0.8 0h0m2.1 0h0m0.7 0h0m1.5 0h0m1.4 0h0m1.5 0h0m1.4 0h0m2.2 0h0m1.4 0h0m1.4 0h0m0.8 0h0m1.4 0h0m0.7 0h0m2.2 0h0m1.4 0h0m2.2 0h0m1.4 0h0m1.5 0h0m1.4 0h0m0.7 0h0m1.5 0h0m1.4 0h0m1.4 0h0m1.5 0h0m0.7 0h0m1.4 0h0m0.8 0h0m1.4 0h0m1.4 0h0m1.5 0h0m1.4 0h0m0.7 0h0m1.5 0h0m1.4 0h0m1.5 0h0m0.7 0h0m1.4 0h0m0.7 0h0m2.2 0h0m0.7 0h0m1.5 0h0m1.4 0h0m1.4 0h0m1.5 0h0m1.4 0h0m1.5 0h0m1.4 0h0m1.4 0h0m1.5 0h0m0.7 0h0m2.2 0h0m1.4 0h0m1.4 0h0m0.8 0h0m1.4 0h0m1.4 0h0m2.2 0h0m0.7 0h0m1.5 0h0m1.4 0h0m1.4 0h0m1.5 0h0m1.4 0h0M50 173.2h0m1.5 0h0m1.4 0h0m1.5 0h0m1.4 0h0m1.4 0h0m1.5 0h0m1.4 0h0m0.7 0h0m1.5 0h0m2.1 0h0m0.8 0h0m1.4 0h0m1.4 0h0m2.2 0h0m0.7 0h0m1.5 0h0m1.4 0h0m0.7 0h0m1.5 0h0m1.4 0h0m2.2 0h0m0.7 0h0m1.4 0h0m0.7 0h0m1.5 0h0m1.4 0h0m1.5 0h0m0.7 0h0m1.4 0h0m1.5 0h0m1.4 0h0m1.4 0h0m1.5 0h0m1.4 0h0m1.5 0h0m1.4 0h0m0.7 0h0m1.5 0h0m0.7 0h0m1.4 0h0m0.7 0h0m1.5 0h0m2.1 0h0m1.5 0h0m0.7 0h0m2.2 0h0m1.4 0h0m1.4 0h0m0.8 0h0m1.4 0h0m1.4 0h0m0.8 0h0m1.4 0h0m0.7 0h0m1.5 0h0m0.7 0h0m1.4 0h0m1.5 0h0m0.7 0h0m2.1 0h0m0.8 0h0m1.4 0h0m0.7 0h0m1.5 0h0m1.4 0h0m1.4 0h0m1.5 0h0M50 176h0m1.5 0h0m1.4 0h0m1.5 0h0m0.7 0h0m1.4 0h0m0.7 0h0m1.5 0h0m1.4 0h0m2.2 0h0m0.7 0h0m1.4 0h0m0.8 0h0m1.4 0h0m1.4 0h0m0.8 0h0m1.4 0h0m0.7 0h0m1.5 0h0m1.4 0h0m0.7 0h0m1.5 0h0m0.7 0h0m1.4 0h0m1.5 0h0m0.7 0h0m1.4 0h0m0.7 0h0m1.5 0h0m0.7 0h0m2.2 0h0m0.7 0h0m1.4 0h0m1.5 0h0m0.7 0h0m1.4 0h0m0.7 0h0m2.2 0h0m0.7 0h0m2.2 0h0m0.7 0h0m2.2 0h0m0.7 0h0m2.1 0h0m0.8 0h0m1.4 0h0m0.7 0h0m1.5 0h0m1.4 0h0m0.7 0h0m1.5 0h0m0.7 0h0m1.4 0h0m1.5 0h0m1.4 0h0m1.4 0h0m0.8 0h0m1.4 0h0m0.7 0h0m1.5 0h0m0.7 0h0m2.1 0h0m0.8 0h0m2.1 0h0m0.7 0h0m2.9 0h0m0.7 0h0m1.5 0h0m1.4 0h0m1.5 0h0m0.7 0h0m1.4 0h0M50 178.2h0m1.5 0h0m1.4 0h0m1.5 0h0m0.7 0h0m2.1 0h0m0.8 0h0m1.4 0h0m1.4 0h0m1.5 0h0m1.4 0h0m1.5 0h0m0.7 0h0m2.1 0h0m0.8 0h0m1.4 0h0m0.7 0h0m1.5 0h0m1.4 0h0m0.7 0h0m1.5 0h0m0.7 0h0m1.4 0h0m1.5 0h0m0.7 0h0m1.4 0h0m0.7 0h0m1.5 0h0m1.4 0h0m1.5 0h0m0.7 0h0m2.1 0h0m0.8 0h0m2.1 0h0m0.7 0h0m2.2 0h0m1.4 0h0m1.5 0h0m0.7 0h0m1.4 0h0m0.8 0h0m1.4 0h0m1.4 0h0m2.2 0h0m0.7 0h0m1.5 0h0m1.4 0h0m1.4 0h0m1.5 0h0m1.4 0h0m1.5 0h0m1.4 0h0m1.4 0h0m0.8 0h0m1.4 0h0m0.7 0h0m1.5 0h0m0.7 0h0m1.4 0h0m1.5 0h0m1.4 0h0m1.4 0h0m1.5 0h0m1.4 0h0m1.5 0h0m1.4 0h0m0.7 0h0m1.5 0h0m0.7 0h0m1.4 0h0M50 181.1h0m1.5 0h0m0.7 0h0m1.4 0h0m0.8 0h0m1.4 0h0m1.4 0h0m1.5 0h0m1.4 0h0m0.7 0h0m1.5 0h0m1.4 0h0m1.5 0h0m0.7 0h0m2.1 0h0m1.5 0h0m1.4 0h0m0.7 0h0m1.5 0h0m0.7 0h0m1.4 0h0m1.5 0h0m1.4 0h0m1.5 0h0m0.7 0h0m1.4 0h0m0.7 0h0m1.5 0h0m0.7 0h0m1.4 0h0m1.5 0h0m0.7 0h0m1.4 0h0m0.8 0h0m2.1 0h0m0.7 0h0m1.5 0h0m1.4 0h0m0.7 0h0m1.5 0h0m0.7 0h0m1.4 0h0m0.8 0h0m1.4 0h0m1.4 0h0m0.8 0h0m1.4 0h0m0.7 0h0m2.2 0h0m0.7 0h0m1.4 0h0m1.5 0h0m0.7 0h0m2.2 0h0m1.4 0h0m1.4 0h0m1.5 0h0m0.7 0h0m1.4 0h0m1.5 0h0m0.7 0h0m1.4 0h0m0.8 0h0m1.4 0h0m1.4 0h0m1.5 0h0m1.4 0h0m1.5 0h0m1.4 0h0m0.7 0h0m1.5 0h0m0.7 0h0m1.4 0h0M50 183.2h0m1.5 0h0m0.7 0h0m1.4 0h0m0.8 0h0m1.4 0h0m1.4 0h0m0.8 0h0m1.4 0h0m0.7 0h0m2.2 0h0m0.7 0h0m1.4 0h0m0.8 0h0m1.4 0h0m1.4 0h0m1.5 0h0m1.4 0h0m0.7 0h0m1.5 0h0m0.7 0h0m1.4 0h0m1.5 0h0m0.7 0h0m2.2 0h0m0.7 0h0m1.4 0h0m0.7 0h0m1.5 0h0m0.7 0h0m1.4 0h0m1.5 0h0m1.4 0h0m1.5 0h0m0.7 0h0m1.4 0h0m0.7 0h0m1.5 0h0m1.4 0h0m1.5 0h0m1.4 0h0m0.7 0h0m1.5 0h0m0.7 0h0m1.4 0h0m0.7 0h0m1.5 0h0m1.4 0h0m1.5 0h0m1.4 0h0m1.4 0h0m1.5 0h0m0.7 0h0m1.4 0h0m0.8 0h0m1.4 0h0m1.4 0h0m0.8 0h0m1.4 0h0m0.7 0h0m1.5 0h0m2.1 0h0m1.5 0h0m0.7 0h0m1.4 0h0m0.7 0h0m1.5 0h0m1.4 0h0m0.7 0h0m1.5 0h0m0.7 0h0m1.4 0h0m1.5 0h0m0.7 0h0M50 186.1h0m1.5 0h0m0.7 0h0m1.4 0h0m0.8 0h0m1.4 0h0m1.4 0h0m0.8 0h0m2.1 0h0m0.7 0h0m1.5 0h0m0.7 0h0m1.4 0h0m0.8 0h0m1.4 0h0m1.4 0h0m2.2 0h0m0.7 0h0m1.5 0h0m1.4 0h0m0.7 0h0m1.5 0h0m0.7 0h0m1.4 0h0m1.5 0h0m0.7 0h0m1.4 0h0m0.7 0h0m2.2 0h0m0.7 0h0m1.5 0h0m0.7 0h0m1.4 0h0m1.5 0h0m0.7 0h0m1.4 0h0m0.7 0h0m1.5 0h0m1.4 0h0m0.7 0h0m1.5 0h0m0.7 0h0m1.4 0h0m0.8 0h0m1.4 0h0m1.4 0h0m0.8 0h0m1.4 0h0m0.7 0h0m1.5 0h0m1.4 0h0m1.4 0h0m2.9 0h0m1.5 0h0m0.7 0h0m1.4 0h0m1.5 0h0m1.4 0h0m0.7 0h0m1.5 0h0m1.4 0h0m1.4 0h0m0.8 0h0m1.4 0h0m1.4 0h0m1.5 0h0m1.4 0h0m0.7 0h0m1.5 0h0m0.7 0h0m1.4 0h0m1.5 0h0m0.7 0h0M50.8 188.3h0m0.7 0h0m1.4 0h0m1.5 0h0m0.7 0h0m1.4 0h0m0.7 0h0m1.5 0h0m1.4 0h0m0.7 0h0m1.5 0h0m0.7 0h0m1.4 0h0m1.5 0h0m1.4 0h0m0.7 0h0m1.5 0h0m1.4 0h0m0.7 0h0m1.5 0h0m0.7 0h0m1.4 0h0m1.5 0h0m0.7 0h0m1.4 0h0m0.8 0h0m1.4 0h0m0.7 0h0m2.2 0h0m0.7 0h0m1.4 0h0m1.5 0h0m0.7 0h0m1.4 0h0m2.2 0h0m1.4 0h0m0.8 0h0m1.4 0h0m0.7 0h0m1.5 0h0m1.4 0h0m1.4 0h0m0.8 0h0m1.4 0h0m1.4 0h0m0.8 0h0m1.4 0h0m0.7 0h0m1.5 0h0m1.4 0h0m0.7 0h0m1.5 0h0m0.7 0h0m1.4 0h0m1.5 0h0m1.4 0h0m1.4 0h0m0.8 0h0m1.4 0h0m2.2 0h0m0.7 0h0m1.4 0h0m1.5 0h0m0.7 0h0m1.4 0h0m0.7 0h0m2.2 0h0m0.7 0h0m1.5 0h0m1.4 0h0m0.7 0h0m1.5 0h0m0.7 0h0m1.4 0h0M50 191.2h0m1.5 0h0m0.7 0h0m1.4 0h0m0.8 0h0m1.4 0h0m1.4 0h0m0.8 0h0m1.4 0h0m0.7 0h0m2.2 0h0m0.7 0h0m1.4 0h0m0.8 0h0m1.4 0h0m1.4 0h0m1.5 0h0m1.4 0h0m0.7 0h0m1.5 0h0m0.7 0h0m2.2 0h0m0.7 0h0m1.4 0h0m1.5 0h0m1.4 0h0m0.7 0h0m1.5 0h0m1.4 0h0m0.7 0h0m1.5 0h0m1.4 0h0m1.4 0h0m0.8 0h0m1.4 0h0m1.4 0h0m1.5 0h0m1.4 0h0m0.7 0h0m1.5 0h0m0.7 0h0m2.2 0h0m0.7 0h0m1.4 0h0m0.7 0h0m1.5 0h0m1.4 0h0m1.5 0h0m1.4 0h0m0.7 0h0m1.5 0h0m1.4 0h0m1.4 0h0m0.8 0h0m1.4 0h0m1.4 0h0m0.8 0h0m1.4 0h0m1.4 0h0m1.5 0h0m0.7 0h0m1.4 0h0m1.5 0h0m1.4 0h0m0.7 0h0m1.5 0h0m1.4 0h0m0.7 0h0m2.2 0h0m0.7 0h0m1.5 0h0m0.7 0h0m1.4 0h0M50 194h0m1.5 0h0m0.7 0h0m1.4 0h0m0.8 0h0m1.4 0h0m1.4 0h0m0.8 0h0m1.4 0h0m0.7 0h0m1.5 0h0m0.7 0h0m2.1 0h0m0.8 0h0m1.4 0h0m1.4 0h0m0.8 0h0m1.4 0h0m0.7 0h0m1.5 0h0m1.4 0h0m0.7 0h0m1.5 0h0m0.7 0h0m1.4 0h0m1.5 0h0m0.7 0h0m1.4 0h0m0.7 0h0m1.5 0h0m1.4 0h0m1.5 0h0m0.7 0h0m1.4 0h0m1.5 0h0m1.4 0h0m1.4 0h0m0.8 0h0m1.4 0h0m0.7 0h0m1.5 0h0m1.4 0h0m0.7 0h0m1.5 0h0m0.7 0h0m1.4 0h0m0.7 0h0m1.5 0h0m1.4 0h0m1.5 0h0m1.4 0h0m1.4 0h0m1.5 0h0m0.7 0h0m1.4 0h0m0.8 0h0m1.4 0h0m1.4 0h0m0.8 0h0m1.4 0h0m0.7 0h0m1.5 0h0m0.7 0h0m2.1 0h0m0.8 0h0m1.4 0h0m1.4 0h0m1.5 0h0m1.4 0h0m1.5 0h0m1.4 0h0m0.7 0h0m1.5 0h0m0.7 0h0M50 196.2h0m1.5 0h0m0.7 0h0m1.4 0h0m0.8 0h0m1.4 0h0m1.4 0h0m0.8 0h0m1.4 0h0m0.7 0h0m1.5 0h0m0.7 0h0m1.4 0h0m1.5 0h0m0.7 0h0m1.4 0h0m0.7 0h0m1.5 0h0m1.4 0h0m1.5 0h0m1.4 0h0m1.4 0h0m1.5 0h0m0.7 0h0m1.4 0h0m0.8 0h0m1.4 0h0m1.4 0h0m1.5 0h0m0.7 0h0m1.4 0h0m1.5 0h0m0.7 0h0m1.4 0h0m0.8 0h0m1.4 0h0m1.4 0h0m0.8 0h0m1.4 0h0m0.7 0h0m1.5 0h0m1.4 0h0m0.7 0h0m1.5 0h0m0.7 0h0m1.4 0h0m0.7 0h0m1.5 0h0m1.4 0h0m0.7 0h0m1.5 0h0m0.7 0h0m1.4 0h0m1.5 0h0m1.4 0h0m1.5 0h0m0.7 0h0m1.4 0h0m0.7 0h0m1.5 0h0m0.7 0h0m1.4 0h0m1.5 0h0m0.7 0h0m1.4 0h0m0.8 0h0m1.4 0h0m1.4 0h0m0.8 0h0m1.4 0h0m0.7 0h0m1.5 0h0m1.4 0h0m0.7 0h0m1.5 0h0m0.7 0h0m1.4 0h0M50 199.1h0m1.5 0h0m0.7 0h0m1.4 0h0m0.8 0h0m1.4 0h0m1.4 0h0m0.8 0h0m2.1 0h0m0.7 0h0m1.5 0h0m0.7 0h0m1.4 0h0m0.8 0h0m1.4 0h0m1.4 0h0m0.8 0h0m1.4 0h0m0.7 0h0m1.5 0h0m1.4 0h0m0.7 0h0m1.5 0h0m0.7 0h0m1.4 0h0m1.5 0h0m0.7 0h0m1.4 0h0m0.7 0h0m1.5 0h0m0.7 0h0m1.4 0h0m1.5 0h0m0.7 0h0m1.4 0h0m0.8 0h0m2.1 0h0m0.7 0h0m1.5 0h0m1.4 0h0m1.5 0h0m1.4 0h0m0.7 0h0m1.5 0h0m0.7 0h0m1.4 0h0m1.5 0h0m1.4 0h0m0.7 0h0m1.5 0h0m1.4 0h0m0.7 0h0m1.5 0h0m0.7 0h0m1.4 0h0m1.5 0h0m0.7 0h0m1.4 0h0m0.7 0h0m1.5 0h0m0.7 0h0m1.4 0h0m1.5 0h0m0.7 0h0m1.4 0h0m0.8 0h0m1.4 0h0m1.4 0h0m0.8 0h0m1.4 0h0m0.7 0h0m2.2 0h0m0.7 0h0m1.4 0h0m1.5 0h0m0.7 0h0M50 201.2h0m1.5 0h0m0.7 0h0m1.4 0h0m0.8 0h0m1.4 0h0m1.4 0h0m1.5 0h0m1.4 0h0m0.7 0h0m1.5 0h0m0.7 0h0m1.4 0h0m0.8 0h0m1.4 0h0m1.4 0h0m0.8 0h0m1.4 0h0m0.7 0h0m1.5 0h0m1.4 0h0m0.7 0h0m1.5 0h0m0.7 0h0m2.1 0h0m0.8 0h0m1.4 0h0m0.7 0h0m1.5 0h0m1.4 0h0m0.7 0h0m1.5 0h0m0.7 0h0m1.4 0h0m1.5 0h0m1.4 0h0m1.4 0h0m0.8 0h0m2.1 0h0m0.7 0h0m1.5 0h0m0.7 0h0m1.4 0h0m0.8 0h0m1.4 0h0m1.4 0h0m0.8 0h0m1.4 0h0m0.7 0h0m1.5 0h0m1.4 0h0m0.7 0h0m1.5 0h0m0.7 0h0m1.4 0h0m1.5 0h0m1.4 0h0m1.4 0h0m0.8 0h0m1.4 0h0m0.7 0h0m1.5 0h0m0.7 0h0m1.4 0h0m1.5 0h0m0.7 0h0m1.4 0h0m2.9 0h0m1.4 0h0m1.5 0h0m0.7 0h0m1.4 0h0m1.5 0h0m0.7 0h0M50 204.1h0m1.5 0h0m0.7 0h0m1.4 0h0m0.8 0h0m1.4 0h0m1.4 0h0m0.8 0h0m1.4 0h0m0.7 0h0m1.5 0h0m1.4 0h0m1.4 0h0m0.8 0h0m1.4 0h0m1.4 0h0m0.8 0h0m1.4 0h0m0.7 0h0m2.9 0h0m0.7 0h0m1.5 0h0m0.7 0h0m1.4 0h0m1.5 0h0m0.7 0h0m1.4 0h0m0.7 0h0m1.5 0h0m0.7 0h0m1.4 0h0m1.5 0h0m1.4 0h0m1.5 0h0m0.7 0h0m1.4 0h0m0.7 0h0m1.5 0h0m1.4 0h0m0.7 0h0m1.5 0h0m0.7 0h0m1.4 0h0m0.8 0h0m2.1 0h0m0.7 0h0m1.5 0h0m1.4 0h0m0.7 0h0m1.5 0h0m0.7 0h0m1.4 0h0m1.5 0h0m1.4 0h0m1.5 0h0m0.7 0h0m1.4 0h0m0.7 0h0m1.5 0h0m0.7 0h0m1.4 0h0m1.5 0h0m1.4 0h0m1.5 0h0m0.7 0h0m1.4 0h0m0.7 0h0m1.5 0h0m1.4 0h0m0.7 0h0m1.5 0h0m0.7 0h0m1.4 0h0m1.5 0h0m1.4 0h0M50 206.3h0m1.5 0h0m0.7 0h0m1.4 0h0m0.8 0h0m1.4 0h0m1.4 0h0m0.8 0h0m1.4 0h0m0.7 0h0m1.5 0h0m0.7 0h0m1.4 0h0m1.5 0h0m0.7 0h0m1.4 0h0m0.7 0h0m1.5 0h0m1.4 0h0m0.7 0h0m1.5 0h0m0.7 0h0m2.2 0h0m0.7 0h0m2.1 0h0m0.8 0h0m1.4 0h0m0.7 0h0m1.5 0h0m1.4 0h0m0.7 0h0m1.5 0h0m0.7 0h0m1.4 0h0m1.5 0h0m0.7 0h0m1.4 0h0m0.7 0h0m1.5 0h0m1.4 0h0m0.7 0h0m1.5 0h0m0.7 0h0m1.4 0h0m0.8 0h0m1.4 0h0m1.4 0h0m1.5 0h0m1.4 0h0m0.7 0h0m1.5 0h0m0.7 0h0m2.2 0h0m0.7 0h0m1.4 0h0m1.5 0h0m2.1 0h0m0.7 0h0m1.5 0h0m0.7 0h0m1.4 0h0m1.5 0h0m0.7 0h0m1.4 0h0m0.8 0h0m1.4 0h0m1.4 0h0m0.8 0h0m1.4 0h0m0.7 0h0m1.5 0h0m1.4 0h0m0.7 0h0m1.5 0h0m0.7 0h0m1.4 0h0M50 209.9h0m1.5 0h0m0.7 0h0m1.4 0h0m0.8 0h0m1.4 0h0m1.4 0h0m0.8 0h0m1.4 0h0m0.7 0h0m2.2 0h0m0.7 0h0m2.2 0h0m0.7 0h0m1.4 0h0m0.7 0h0m1.5 0h0m1.4 0h0m0.7 0h0m1.5 0h0m0.7 0h0m1.4 0h0m1.5 0h0m0.7 0h0m1.4 0h0m0.8 0h0m1.4 0h0m0.7 0h0m1.5 0h0m1.4 0h0m0.7 0h0m2.2 0h0m0.7 0h0m1.4 0h0m0.8 0h0m1.4 0h0m1.4 0h0m0.8 0h0m1.4 0h0m0.7 0h0m1.5 0h0m1.4 0h0m0.7 0h0m1.5 0h0m0.7 0h0m1.4 0h0m0.7 0h0m1.5 0h0m1.4 0h0m0.7 0h0m1.5 0h0m0.7 0h0m1.4 0h0m1.5 0h0m0.7 0h0m1.4 0h0m0.8 0h0m1.4 0h0m1.4 0h0m0.8 0h0m1.4 0h0m1.4 0h0m1.5 0h0m0.7 0h0m1.4 0h0m0.8 0h0m1.4 0h0m1.4 0h0m0.8 0h0m1.4 0h0m0.7 0h0m1.5 0h0m1.4 0h0m1.4 0h0m1.5 0h0m1.4 0h0M50 212.8h0m1.5 0h0m0.7 0h0m2.2 0h0m0.7 0h0m1.4 0h0m0.7 0h0m1.5 0h0m1.4 0h0m0.7 0h0m1.5 0h0m0.7 0h0m1.4 0h0m0.8 0h0m1.4 0h0m1.4 0h0m0.8 0h0m1.4 0h0m0.7 0h0m2.2 0h0m0.7 0h0m1.4 0h0m1.5 0h0m0.7 0h0m1.4 0h0m0.8 0h0m1.4 0h0m0.7 0h0m1.5 0h0m1.4 0h0m0.7 0h0m1.5 0h0m0.7 0h0m1.4 0h0m1.5 0h0m0.7 0h0m1.4 0h0m0.7 0h0m1.5 0h0m1.4 0h0m0.7 0h0m1.5 0h0m0.7 0h0m1.4 0h0m0.8 0h0m1.4 0h0m1.4 0h0m0.8 0h0m1.4 0h0m0.7 0h0m1.5 0h0m1.4 0h0m0.7 0h0m2.2 0h0m0.7 0h0m1.4 0h0m0.8 0h0m1.4 0h0m1.4 0h0m0.8 0h0m1.4 0h0m0.7 0h0m1.5 0h0m0.7 0h0m1.4 0h0m1.5 0h0m0.7 0h0m1.4 0h0m0.7 0h0m1.5 0h0m1.4 0h0m0.7 0h0m1.5 0h0m0.7 0h0m1.4 0h0m1.5 0h0m1.4 0h0M50 215.6h0m1.5 0h0m0.7 0h0m1.4 0h0m0.8 0h0m1.4 0h0m1.4 0h0m1.5 0h0m1.4 0h0m0.7 0h0m1.5 0h0m0.7 0h0m1.4 0h0m0.8 0h0m1.4 0h0m1.4 0h0m0.8 0h0m1.4 0h0m0.7 0h0m1.5 0h0m1.4 0h0m0.7 0h0m1.5 0h0m0.7 0h0m1.4 0h0m1.5 0h0m0.7 0h0m1.4 0h0m0.7 0h0m1.5 0h0m0.7 0h0m1.4 0h0m1.5 0h0m0.7 0h0m1.4 0h0m0.8 0h0m2.8 0h0m1.5 0h0m1.4 0h0m0.7 0h0m1.5 0h0m0.7 0h0m1.4 0h0m0.8 0h0m1.4 0h0m1.4 0h0m0.8 0h0m1.4 0h0m0.7 0h0m1.5 0h0m1.4 0h0m0.7 0h0m1.5 0h0m0.7 0h0m1.4 0h0m1.5 0h0m0.7 0h0m1.4 0h0m0.7 0h0m1.5 0h0m0.7 0h0m1.4 0h0m1.5 0h0m0.7 0h0m1.4 0h0m0.8 0h0m1.4 0h0m1.4 0h0m0.8 0h0m1.4 0h0m0.7 0h0m1.5 0h0m1.4 0h0m0.7 0h0m1.5 0h0m0.7 0h0m1.4 0h0M50.8 218.5h0m0.7 0h0m1.4 0h0m1.5 0h0m0.7 0h0m1.4 0h0m0.7 0h0m1.5 0h0m1.4 0h0m1.5 0h0m0.7 0h0m1.4 0h0m1.5 0h0m1.4 0h0m1.4 0h0m0.8 0h0m1.4 0h0m0.7 0h0m1.5 0h0m1.4 0h0m0.7 0h0m1.5 0h0m0.7 0h0m2.1 0h0m0.8 0h0m2.1 0h0m0.7 0h0m1.5 0h0m0.7 0h0m1.4 0h0m1.5 0h0m0.7 0h0m2.2 0h0m0.7 0h0m1.4 0h0m0.7 0h0m1.5 0h0m1.4 0h0m0.7 0h0m1.5 0h0m0.7 0h0m1.4 0h0m0.8 0h0m1.4 0h0m1.4 0h0m0.8 0h0m1.4 0h0m0.7 0h0m1.5 0h0m1.4 0h0m0.7 0h0m1.5 0h0m0.7 0h0m1.4 0h0m1.5 0h0m0.7 0h0m1.4 0h0m0.7 0h0m1.5 0h0m0.7 0h0m2.2 0h0m0.7 0h0m1.4 0h0m1.5 0h0m0.7 0h0m1.4 0h0m0.7 0h0m1.5 0h0m1.4 0h0m0.7 0h0m1.5 0h0m0.7 0h0m1.4 0h0m1.5 0h0m0.7 0h0M50 221.4h0m1.5 0h0m0.7 0h0m1.4 0h0m0.8 0h0m1.4 0h0m1.4 0h0m0.8 0h0m1.4 0h0m0.7 0h0m1.5 0h0m0.7 0h0m1.4 0h0m1.5 0h0m0.7 0h0m1.4 0h0m0.7 0h0m2.2 0h0m0.7 0h0m1.5 0h0m1.4 0h0m0.7 0h0m1.5 0h0m0.7 0h0m1.4 0h0m1.5 0h0m0.7 0h0m1.4 0h0m1.5 0h0m1.4 0h0m0.7 0h0m1.5 0h0m0.7 0h0m1.4 0h0m1.5 0h0m0.7 0h0m1.4 0h0m0.7 0h0m1.5 0h0m1.4 0h0m0.7 0h0m1.5 0h0m0.7 0h0m1.4 0h0m0.8 0h0m2.8 0h0m0.8 0h0m1.4 0h0m0.7 0h0m1.5 0h0m1.4 0h0m1.4 0h0m1.5 0h0m0.7 0h0m1.4 0h0m0.8 0h0m1.4 0h0m1.4 0h0m1.5 0h0m0.7 0h0m1.4 0h0m1.5 0h0m1.4 0h0m1.5 0h0m0.7 0h0m1.4 0h0m0.7 0h0m1.5 0h0m1.4 0h0m0.7 0h0m1.5 0h0m0.7 0h0m1.4 0h0m1.5 0h0m0.7 0h0M50 223.6h0m1.5 0h0m1.4 0h0m1.5 0h0m0.7 0h0m1.4 0h0m0.7 0h0m1.5 0h0m1.4 0h0m0.7 0h0m1.5 0h0m0.7 0h0m1.4 0h0m0.8 0h0m1.4 0h0m1.4 0h0m0.8 0h0m1.4 0h0m1.4 0h0m1.5 0h0m0.7 0h0m1.4 0h0m1.5 0h0m0.7 0h0m1.4 0h0m0.8 0h0m1.4 0h0m0.7 0h0m1.5 0h0m1.4 0h0m0.7 0h0m1.5 0h0m0.7 0h0m1.4 0h0m1.5 0h0m0.7 0h0m2.1 0h0m0.8 0h0m1.4 0h0m0.7 0h0m1.5 0h0m1.4 0h0m0.7 0h0m1.5 0h0m0.7 0h0m1.4 0h0m0.7 0h0m1.5 0h0m1.4 0h0m0.7 0h0m1.5 0h0m0.7 0h0m1.4 0h0m1.5 0h0m0.7 0h0m1.4 0h0m0.8 0h0m1.4 0h0m1.4 0h0m0.8 0h0m1.4 0h0m0.7 0h0m1.5 0h0m1.4 0h0m1.4 0h0m0.8 0h0m1.4 0h0m1.4 0h0m0.8 0h0m1.4 0h0m0.7 0h0m2.2 0h0m0.7 0h0m1.4 0h0m1.5 0h0m1.4 0h0M50 226.4h0m1.5 0h0m0.7 0h0m1.4 0h0m0.8 0h0m1.4 0h0m1.4 0h0m0.8 0h0m1.4 0h0m0.7 0h0m1.5 0h0m1.4 0h0m1.4 0h0m0.8 0h0m1.4 0h0m1.4 0h0m1.5 0h0m1.4 0h0m0.7 0h0m1.5 0h0m0.7 0h0m1.4 0h0m1.5 0h0m0.7 0h0m1.4 0h0m0.8 0h0m2.1 0h0m1.5 0h0m1.4 0h0m0.7 0h0m2.2 0h0m0.7 0h0m1.4 0h0m0.8 0h0m1.4 0h0m1.4 0h0m1.5 0h0m1.4 0h0m0.7 0h0m1.5 0h0m0.7 0h0m1.4 0h0m0.8 0h0m1.4 0h0m1.4 0h0m1.5 0h0m1.4 0h0m0.7 0h0m1.5 0h0m0.7 0h0m1.4 0h0m1.5 0h0m0.7 0h0m1.4 0h0m0.8 0h0m1.4 0h0m1.4 0h0m0.8 0h0m1.4 0h0m0.7 0h0m1.5 0h0m0.7 0h0m1.4 0h0m1.5 0h0m0.7 0h0m1.4 0h0m0.7 0h0m1.5 0h0m1.4 0h0m0.7 0h0m1.5 0h0m0.7 0h0m1.4 0h0m1.5 0h0m1.4 0h0M50 229.3h0m1.5 0h0m1.4 0h0m1.5 0h0m0.7 0h0m2.1 0h0m0.8 0h0m1.4 0h0m0.7 0h0m1.5 0h0m0.7 0h0m1.4 0h0m1.5 0h0m0.7 0h0m1.4 0h0m0.7 0h0m2.2 0h0m0.7 0h0m1.5 0h0m1.4 0h0m0.7 0h0m1.5 0h0m0.7 0h0m1.4 0h0m1.5 0h0m2.1 0h0m0.7 0h0m1.5 0h0m0.7 0h0m1.4 0h0m1.5 0h0m0.7 0h0m1.4 0h0m0.8 0h0m1.4 0h0m1.4 0h0m0.8 0h0m1.4 0h0m0.7 0h0m1.5 0h0m1.4 0h0m0.7 0h0m1.5 0h0m0.7 0h0m1.4 0h0m0.7 0h0m1.5 0h0m1.4 0h0m0.7 0h0m1.5 0h0m0.7 0h0m1.4 0h0m1.5 0h0m0.7 0h0m1.4 0h0m0.8 0h0m2.1 0h0m0.7 0h0m1.5 0h0m0.7 0h0m1.4 0h0m1.5 0h0m0.7 0h0m1.4 0h0m0.8 0h0m1.4 0h0m1.4 0h0m0.8 0h0m1.4 0h0m0.7 0h0m1.5 0h0m1.4 0h0m0.7 0h0m2.2 0h0m0.7 0h0M50 231.5h0m1.5 0h0m0.7 0h0m1.4 0h0m0.8 0h0m1.4 0h0m1.4 0h0m0.8 0h0m1.4 0h0m0.7 0h0m1.5 0h0m0.7 0h0m1.4 0h0m1.5 0h0m0.7 0h0m1.4 0h0m0.7 0h0m1.5 0h0m1.4 0h0m0.7 0h0m1.5 0h0m0.7 0h0m1.4 0h0m1.5 0h0m2.1 0h0m0.8 0h0m1.4 0h0m0.7 0h0m1.5 0h0m1.4 0h0m1.4 0h0m1.5 0h0m0.7 0h0m1.4 0h0m0.8 0h0m1.4 0h0m2.2 0h0m1.4 0h0m0.7 0h0m1.5 0h0m1.4 0h0m1.4 0h0m0.8 0h0m1.4 0h0m1.4 0h0m0.8 0h0m1.4 0h0m0.7 0h0m1.5 0h0m1.4 0h0m0.7 0h0m1.5 0h0m0.7 0h0m1.4 0h0m1.5 0h0m0.7 0h0m1.4 0h0m0.7 0h0m2.2 0h0m1.4 0h0m1.5 0h0m0.7 0h0m1.4 0h0m0.8 0h0m1.4 0h0m1.4 0h0m0.8 0h0m1.4 0h0m1.4 0h0m1.5 0h0m0.7 0h0m2.2 0h0m0.7 0h0m1.4 0h0M51.5 234.4h0m0.7 0h0m1.4 0h0m0.8 0h0m1.4 0h0m1.4 0h0m0.8 0h0m1.4 0h0m0.7 0h0m1.5 0h0m0.7 0h0m1.4 0h0m1.5 0h0m1.4 0h0m1.4 0h0m0.8 0h0m1.4 0h0m0.7 0h0m1.5 0h0m1.4 0h0m0.7 0h0m2.2 0h0m2.1 0h0m0.8 0h0m2.1 0h0m0.7 0h0m1.5 0h0m0.7 0h0m2.2 0h0m0.7 0h0m1.4 0h0m1.5 0h0m0.7 0h0m1.4 0h0m0.7 0h0m1.5 0h0m1.4 0h0m0.7 0h0m1.5 0h0m0.7 0h0m1.4 0h0m0.8 0h0m1.4 0h0m1.4 0h0m0.8 0h0m1.4 0h0m0.7 0h0m1.5 0h0m1.4 0h0m0.7 0h0m1.5 0h0m0.7 0h0m1.4 0h0m1.5 0h0m2.1 0h0m0.7 0h0m2.2 0h0m0.7 0h0m1.5 0h0m0.7 0h0m1.4 0h0m1.5 0h0m0.7 0h0m2.1 0h0m1.5 0h0m1.4 0h0m0.7 0h0m1.5 0h0m0.7 0h0m1.4 0h0m1.5 0h0m0.7 0h0M50 237.2h0m1.5 0h0m1.4 0h0m1.5 0h0m1.4 0h0m1.4 0h0m0.8 0h0m1.4 0h0m0.7 0h0m1.5 0h0m1.4 0h0m1.4 0h0m0.8 0h0m1.4 0h0m1.4 0h0m1.5 0h0m1.4 0h0m0.7 0h0m1.5 0h0m0.7 0h0m1.4 0h0m1.5 0h0m0.7 0h0m1.4 0h0m0.8 0h0m1.4 0h0m0.7 0h0m1.5 0h0m1.4 0h0m0.7 0h0m1.5 0h0m0.7 0h0m1.4 0h0m1.5 0h0m0.7 0h0m1.4 0h0m2.9 0h0m1.4 0h0m2.2 0h0m0.7 0h0m1.5 0h0m0.7 0h0m1.4 0h0m0.7 0h0m1.5 0h0m1.4 0h0m0.7 0h0m1.5 0h0m0.7 0h0m1.4 0h0m1.5 0h0m1.4 0h0m1.5 0h0m0.7 0h0m1.4 0h0m0.7 0h0m1.5 0h0m0.7 0h0m1.4 0h0m1.5 0h0m1.4 0h0m1.5 0h0m0.7 0h0m1.4 0h0m2.2 0h0m1.4 0h0m2.9 0h0m0.7 0h0m1.5 0h0m1.4 0h0M50 240.1h0m1.5 0h0m0.7 0h0m1.4 0h0m1.5 0h0m1.4 0h0m0.7 0h0m1.5 0h0m1.4 0h0m0.7 0h0m1.5 0h0m0.7 0h0m1.4 0h0m0.8 0h0m1.4 0h0m1.4 0h0m0.8 0h0m1.4 0h0m0.7 0h0m1.5 0h0m1.4 0h0m0.7 0h0m1.5 0h0m0.7 0h0m1.4 0h0m1.5 0h0m0.7 0h0m1.4 0h0m1.5 0h0m1.4 0h0m0.7 0h0m2.2 0h0m0.7 0h0m1.4 0h0m1.5 0h0m1.4 0h0m1.5 0h0m2.1 0h0m0.7 0h0m1.5 0h0m0.7 0h0m1.4 0h0m0.8 0h0m1.4 0h0m1.4 0h0m0.8 0h0m1.4 0h0m0.7 0h0m1.5 0h0m1.4 0h0m0.7 0h0m1.5 0h0m0.7 0h0m1.4 0h0m1.5 0h0m0.7 0h0m1.4 0h0m0.7 0h0m1.5 0h0m0.7 0h0m1.4 0h0m1.5 0h0m0.7 0h0m1.4 0h0m0.8 0h0m1.4 0h0m1.4 0h0m0.8 0h0m1.4 0h0m0.7 0h0m1.5 0h0m1.4 0h0m2.9 0h0M50 243.7h0m2.2 0h0m1.4 0h0m0.8 0h0m1.4 0h0m1.4 0h0m0.8 0h0m1.4 0h0m0.7 0h0m1.5 0h0m0.7 0h0m2.1 0h0m1.5 0h0m1.4 0h0m0.7 0h0m1.5 0h0m1.4 0h0m0.7 0h0m1.5 0h0m0.7 0h0m2.9 0h0m1.4 0h0m1.5 0h0m0.7 0h0m1.4 0h0m0.7 0h0m1.5 0h0m0.7 0h0m1.4 0h0m1.5 0h0m2.1 0h0m0.8 0h0m1.4 0h0m1.4 0h0m0.8 0h0m1.4 0h0m0.7 0h0m1.5 0h0m1.4 0h0m0.7 0h0m1.5 0h0m0.7 0h0m1.4 0h0m0.7 0h0m1.5 0h0m1.4 0h0m0.7 0h0m1.5 0h0m0.7 0h0m1.4 0h0m1.5 0h0m0.7 0h0m2.2 0h0m0.7 0h0m1.4 0h0m0.7 0h0m2.2 0h0m0.7 0h0m1.5 0h0m0.7 0h0m1.4 0h0m1.5 0h0m2.1 0h0m0.7 0h0m1.5 0h0m1.4 0h0m1.5 0h0m1.4 0h0m0.7 0h0m1.5 0h0m0.7 0h0m1.4 0h0M50 247.3h0m1.5 0h0m2.9 0h0m1.4 0h0m1.4 0h0m1.5 0h0m1.4 0h0m1.5 0h0m0.7 0h0m1.4 0h0m1.5 0h0m1.4 0h0m1.4 0h0m0.8 0h0m1.4 0h0m0.7 0h0m1.5 0h0m1.4 0h0m2.2 0h0m0.7 0h0m1.4 0h0m1.5 0h0m0.7 0h0m1.4 0h0m1.5 0h0m1.4 0h0m0.7 0h0m1.5 0h0m0.7 0h0m1.4 0h0m1.5 0h0m0.7 0h0m1.4 0h0m0.7 0h0m1.5 0h0m1.4 0h0m0.7 0h0m1.5 0h0m0.7 0h0m1.4 0h0m0.8 0h0m2.8 0h0m0.8 0h0m1.4 0h0m0.7 0h0m1.5 0h0m1.4 0h0m0.7 0h0m1.5 0h0m0.7 0h0m1.4 0h0m1.5 0h0m0.7 0h0m1.4 0h0m0.7 0h0m1.5 0h0m0.7 0h0m1.4 0h0m1.5 0h0m0.7 0h0m1.4 0h0m0.8 0h0m1.4 0h0m1.4 0h0m0.8 0h0m1.4 0h0m1.4 0h0m1.5 0h0m0.7 0h0m1.4 0h0m1.5 0h0m1.4 0h0M50 250.2h0m1.5 0h0m2.1 0h0m0.8 0h0m1.4 0h0m1.4 0h0m1.5 0h0m1.4 0h0m1.5 0h0m0.7 0h0m2.1 0h0m1.5 0h0m1.4 0h0m1.5 0h0m1.4 0h0m0.7 0h0m1.5 0h0m2.1 0h0m1.5 0h0m0.7 0h0m1.4 0h0m1.5 0h0m1.4 0h0m0.7 0h0m1.5 0h0m1.4 0h0m1.4 0h0m1.5 0h0m0.7 0h0m2.2 0h0m1.4 0h0m1.4 0h0m0.8 0h0m2.1 0h0m1.5 0h0m1.4 0h0m0.7 0h0m1.5 0h0m1.4 0h0m1.4 0h0m0.8 0h0m1.4 0h0m0.7 0h0m1.5 0h0m1.4 0h0m0.7 0h0m2.2 0h0m0.7 0h0m1.4 0h0m2.2 0h0m1.4 0h0m0.8 0h0m1.4 0h0m0.7 0h0m2.2 0h0m0.7 0h0m1.4 0h0m2.2 0h0m1.4 0h0m0.8 0h0m1.4 0h0m2.2 0h0m1.4 0h0m1.4 0h0m1.5 0h0m0.7 0h0M51.5 253.8h0m1.4 0h0m1.5 0h0m1.4 0h0m1.4 0h0m0.8 0h0m1.4 0h0m0.7 0h0m1.5 0h0m0.7 0h0m1.4 0h0m1.5 0h0m0.7 0h0m2.1 0h0m0.8 0h0m1.4 0h0m1.4 0h0m1.5 0h0m0.7 0h0m2.2 0h0m0.7 0h0m1.4 0h0m1.5 0h0m0.7 0h0m1.4 0h0m0.7 0h0m2.2 0h0m0.7 0h0m1.5 0h0m0.7 0h0m1.4 0h0m1.5 0h0m1.4 0h0m1.4 0h0m0.8 0h0m2.1 0h0m1.5 0h0m1.4 0h0m0.7 0h0m1.5 0h0m0.7 0h0m1.4 0h0m1.5 0h0m1.4 0h0m0.7 0h0m2.2 0h0m0.7 0h0m2.2 0h0m0.7 0h0m1.4 0h0m1.5 0h0m1.4 0h0m1.4 0h0m0.8 0h0m1.4 0h0m0.7 0h0m2.2 0h0m1.4 0h0m1.5 0h0m0.7 0h0m1.4 0h0m0.7 0h0m1.5 0h0m1.4 0h0m1.5 0h0m1.4 0h0m1.4 0h0m1.5 0h0m0.7 0h0M50 256.7h0m1.5 0h0m2.1 0h0m0.8 0h0m1.4 0h0m1.4 0h0m0.8 0h0m2.1 0h0m0.7 0h0m1.5 0h0m1.4 0h0m1.5 0h0m1.4 0h0m1.4 0h0m0.8 0h0m2.1 0h0m2.2 0h0m0.7 0h0m1.4 0h0m2.2 0h0m1.4 0h0m1.5 0h0m1.4 0h0m0.7 0h0m1.5 0h0m0.7 0h0m2.2 0h0m0.7 0h0m1.4 0h0m1.5 0h0m1.4 0h0m2.9 0h0m1.4 0h0m0.7 0h0m1.5 0h0m0.7 0h0m1.4 0h0m0.8 0h0m1.4 0h0m1.4 0h0m0.8 0h0m1.4 0h0m0.7 0h0m1.5 0h0m1.4 0h0m2.2 0h0m0.7 0h0m1.4 0h0m1.5 0h0m0.7 0h0m1.4 0h0m0.7 0h0m1.5 0h0m0.7 0h0m1.4 0h0m1.5 0h0m0.7 0h0m2.2 0h0m0.7 0h0m1.4 0h0m0.7 0h0m2.2 0h0m0.7 0h0m1.5 0h0m1.4 0h0m0.7 0h0m1.5 0h0m0.7 0h0m1.4 0h0M50 260.3h0m1.5 0h0m0.7 0h0m1.4 0h0m2.2 0h0m1.4 0h0m0.8 0h0m1.4 0h0m1.4 0h0m1.5 0h0m1.4 0h0m1.5 0h0m0.7 0h0m1.4 0h0m0.7 0h0m1.5 0h0m1.4 0h0m0.7 0h0m2.2 0h0m0.7 0h0m1.5 0h0m0.7 0h0m1.4 0h0m1.5 0h0m0.7 0h0m1.4 0h0m0.7 0h0m1.5 0h0m0.7 0h0m1.4 0h0m1.5 0h0m2.1 0h0m0.8 0h0m1.4 0h0m1.4 0h0m1.5 0h0m1.4 0h0m0.7 0h0m1.5 0h0m0.7 0h0m1.4 0h0m0.8 0h0m2.1 0h0m0.7 0h0m1.5 0h0m1.4 0h0m0.7 0h0m1.5 0h0m0.7 0h0m1.4 0h0m1.5 0h0m0.7 0h0m1.4 0h0m1.5 0h0m1.4 0h0m0.7 0h0m2.2 0h0m0.7 0h0m2.2 0h0m0.7 0h0m2.2 0h0m0.7 0h0m2.1 0h0m0.8 0h0m2.1 0h0m0.7 0h0m1.5 0h0m0.7 0h0m2.2 0h0m0.7 0h0m1.4 0h0M50 263.9h0m1.5 0h0m0.7 0h0m2.2 0h0m0.7 0h0m1.4 0h0m0.7 0h0m2.2 0h0m1.4 0h0m1.5 0h0m0.7 0h0m1.4 0h0m0.8 0h0m1.4 0h0m1.4 0h0m1.5 0h0m1.4 0h0m1.5 0h0m1.4 0h0m0.7 0h0m1.5 0h0m0.7 0h0m1.4 0h0m1.5 0h0m0.7 0h0m1.4 0h0m0.7 0h0m1.5 0h0m0.7 0h0m1.4 0h0m1.5 0h0m1.4 0h0m1.5 0h0m0.7 0h0m1.4 0h0m0.7 0h0m1.5 0h0m1.4 0h0m0.7 0h0m1.5 0h0m0.7 0h0m1.4 0h0m0.8 0h0m1.4 0h0m1.4 0h0m0.8 0h0m1.4 0h0m0.7 0h0m2.2 0h0m0.7 0h0m1.4 0h0m1.5 0h0m0.7 0h0m1.4 0h0m0.8 0h0m1.4 0h0m1.4 0h0m0.8 0h0m1.4 0h0m0.7 0h0m2.2 0h0m0.7 0h0m2.2 0h0m0.7 0h0m1.4 0h0m0.7 0h0m1.5 0h0m1.4 0h0m0.7 0h0m1.5 0h0m0.7 0h0m1.4 0h0m1.5 0h0m0.7 0h0M50 266.8h0m1.5 0h0m0.7 0h0m1.4 0h0m2.2 0h0m1.4 0h0m1.5 0h0m1.4 0h0m0.7 0h0m1.5 0h0m0.7 0h0m1.4 0h0m0.8 0h0m1.4 0h0m1.4 0h0m1.5 0h0m1.4 0h0m0.7 0h0m1.5 0h0m1.4 0h0m1.5 0h0m0.7 0h0m1.4 0h0m1.5 0h0m1.4 0h0m2.2 0h0m1.4 0h0m0.7 0h0m2.2 0h0m0.7 0h0m1.4 0h0m0.8 0h0m1.4 0h0m1.4 0h0m0.8 0h0m2.1 0h0m0.7 0h0m1.5 0h0m0.7 0h0m1.4 0h0m1.5 0h0m1.4 0h0m0.7 0h0m1.5 0h0m1.4 0h0m1.5 0h0m1.4 0h0m0.7 0h0m1.5 0h0m0.7 0h0m1.4 0h0m1.5 0h0m0.7 0h0m1.4 0h0m2.2 0h0m1.4 0h0m1.5 0h0m0.7 0h0m2.9 0h0m1.4 0h0m1.4 0h0m0.8 0h0m2.1 0h0m0.7 0h0m1.5 0h0m0.7 0h0m1.4 0h0m1.5 0h0m0.7 0h0M50 270.4h0m1.5 0h0m0.7 0h0m1.4 0h0m0.8 0h0m1.4 0h0m1.4 0h0m0.8 0h0m2.1 0h0m0.7 0h0m1.5 0h0m1.4 0h0m1.5 0h0m1.4 0h0m1.4 0h0m1.5 0h0m1.4 0h0m2.2 0h0m0.7 0h0m1.4 0h0m1.5 0h0m2.9 0h0m0.7 0h0m1.4 0h0m0.7 0h0m1.5 0h0m0.7 0h0m1.4 0h0m1.5 0h0m0.7 0h0m2.2 0h0m0.7 0h0m1.4 0h0m1.5 0h0m1.4 0h0m0.7 0h0m1.5 0h0m1.4 0h0m0.7 0h0m1.5 0h0m0.7 0h0m1.4 0h0m0.7 0h0m1.5 0h0m1.4 0h0m0.7 0h0m1.5 0h0m0.7 0h0m1.4 0h0m1.5 0h0m0.7 0h0m1.4 0h0m0.8 0h0m1.4 0h0m1.4 0h0m0.8 0h0m1.4 0h0m0.7 0h0m1.5 0h0m2.1 0h0m1.5 0h0m0.7 0h0m1.4 0h0m0.7 0h0m1.5 0h0m1.4 0h0m2.2 0h0m1.4 0h0m1.5 0h0m0.7 0h0M50 273.2h0m1.5 0h0m1.4 0h0m1.5 0h0m0.7 0h0m2.1 0h0m1.5 0h0m1.4 0h0m1.5 0h0m0.7 0h0m2.1 0h0m1.5 0h0m1.4 0h0m0.7 0h0m1.5 0h0m1.4 0h0m1.5 0h0m1.4 0h0m1.4 0h0m1.5 0h0m0.7 0h0m1.4 0h0m1.5 0h0m1.4 0h0m1.5 0h0m1.4 0h0m1.4 0h0m1.5 0h0m0.7 0h0m1.4 0h0m0.8 0h0m1.4 0h0m2.2 0h0m1.4 0h0m2.2 0h0m1.4 0h0m2.2 0h0m0.7 0h0m1.4 0h0m0.7 0h0m2.2 0h0m0.7 0h0m1.5 0h0m1.4 0h0m0.7 0h0m1.5 0h0m0.7 0h0m1.4 0h0m1.5 0h0m0.7 0h0m1.4 0h0m0.7 0h0m1.5 0h0m1.4 0h0m2.2 0h0m1.4 0h0m1.5 0h0m1.4 0h0m1.4 0h0m0.8 0h0m2.1 0h0m0.7 0h0m2.2 0h0m0.7 0h0m1.5 0h0m0.7 0h0m1.4 0h0M50 276.8h0m1.5 0h0m1.4 0h0m1.5 0h0m2.8 0h0m0.8 0h0m1.4 0h0m1.4 0h0m1.5 0h0m1.4 0h0m1.5 0h0m0.7 0h0m1.4 0h0m0.7 0h0m1.5 0h0m1.4 0h0m0.7 0h0m2.2 0h0m1.4 0h0m1.5 0h0m1.4 0h0m1.5 0h0m2.1 0h0m0.7 0h0m1.5 0h0m0.7 0h0m1.4 0h0m2.2 0h0m1.4 0h0m0.8 0h0m2.1 0h0m0.7 0h0m1.5 0h0m1.4 0h0m0.7 0h0m1.5 0h0m2.1 0h0m1.5 0h0m1.4 0h0m1.5 0h0m2.1 0h0m0.7 0h0m2.2 0h0m1.4 0h0m1.5 0h0m1.4 0h0m1.5 0h0m0.7 0h0m1.4 0h0m1.5 0h0m1.4 0h0m0.7 0h0m1.5 0h0m0.7 0h0m1.4 0h0m1.5 0h0m1.4 0h0m1.4 0h0m0.8 0h0m2.1 0h0m1.5 0h0m1.4 0h0m1.4 0h0m1.5 0h0M50 280.4h0m1.5 0h0m1.4 0h0m1.5 0h0m1.4 0h0m1.4 0h0m1.5 0h0m1.4 0h0m0.7 0h0m1.5 0h0m0.7 0h0m1.4 0h0m1.5 0h0m1.4 0h0m1.5 0h0m1.4 0h0m1.4 0h0m1.5 0h0m0.7 0h0m1.4 0h0m1.5 0h0m0.7 0h0m2.2 0h0m1.4 0h0m0.7 0h0m1.5 0h0m1.4 0h0m0.7 0h0m1.5 0h0m0.7 0h0m1.4 0h0m1.5 0h0m1.4 0h0m1.4 0h0m1.5 0h0m1.4 0h0m0.7 0h0m1.5 0h0m0.7 0h0m1.4 0h0m0.8 0h0m1.4 0h0m2.2 0h0m1.4 0h0m1.4 0h0m1.5 0h0m1.4 0h0m1.5 0h0m0.7 0h0m1.4 0h0m1.5 0h0m1.4 0h0m1.4 0h0m0.8 0h0m1.4 0h0m0.7 0h0m1.5 0h0m0.7 0h0m1.4 0h0m1.5 0h0m1.4 0h0m1.4 0h0m0.8 0h0m1.4 0h0m1.4 0h0m1.5 0h0m0.7 0h0m1.4 0h0m1.5 0h0m0.7 0h0M50 283.3h0m1.5 0h0m0.7 0h0m1.4 0h0m1.5 0h0m1.4 0h0m0.7 0h0m2.2 0h0m0.7 0h0m1.5 0h0m0.7 0h0m1.4 0h0m1.5 0h0m0.7 0h0m1.4 0h0m0.7 0h0m2.2 0h0m0.7 0h0m1.5 0h0m1.4 0h0m1.4 0h0m1.5 0h0m1.4 0h0m1.5 0h0m0.7 0h0m1.4 0h0m1.5 0h0m1.4 0h0m0.7 0h0m1.5 0h0m0.7 0h0m1.4 0h0m1.5 0h0m0.7 0h0m1.4 0h0m0.7 0h0m1.5 0h0m1.4 0h0m0.7 0h0m1.5 0h0m1.4 0h0m1.5 0h0m0.7 0h0m1.4 0h0m0.7 0h0m1.5 0h0m1.4 0h0m0.7 0h0m1.5 0h0m0.7 0h0m2.2 0h0m0.7 0h0m1.4 0h0m1.5 0h0m0.7 0h0m1.4 0h0m0.7 0h0m1.5 0h0m0.7 0h0m1.4 0h0m1.5 0h0m2.1 0h0m0.8 0h0m1.4 0h0m1.4 0h0m1.5 0h0m1.4 0h0m0.7 0h0m1.5 0h0m0.7 0h0m1.4 0h0m1.5 0h0m0.7 0h0M50 286.9h0m1.5 0h0m0.7 0h0m1.4 0h0m2.2 0h0m1.4 0h0m0.8 0h0m1.4 0h0m0.7 0h0m2.2 0h0m0.7 0h0m2.2 0h0m0.7 0h0m1.4 0h0m0.7 0h0m1.5 0h0m2.1 0h0m1.5 0h0m0.7 0h0m1.4 0h0m1.5 0h0m2.9 0h0m0.7 0h0m1.4 0h0m1.5 0h0m1.4 0h0m0.7 0h0m1.5 0h0m0.7 0h0m1.4 0h0m1.5 0h0m1.4 0h0m1.4 0h0m0.8 0h0m1.4 0h0m0.7 0h0m2.2 0h0m0.7 0h0m1.4 0h0m0.8 0h0m1.4 0h0m1.4 0h0m0.8 0h0m1.4 0h0m0.7 0h0m1.5 0h0m1.4 0h0m0.7 0h0m1.5 0h0m0.7 0h0m1.4 0h0m1.5 0h0m0.7 0h0m2.1 0h0m0.8 0h0m1.4 0h0m0.7 0h0m1.5 0h0m0.7 0h0m1.4 0h0m1.5 0h0m1.4 0h0m1.4 0h0m0.8 0h0m2.1 0h0m0.7 0h0m1.5 0h0m0.7 0h0m1.4 0h0m1.5 0h0m0.7 0h0M50.8 290.5h0m0.7 0h0m1.4 0h0m1.5 0h0m0.7 0h0m1.4 0h0m0.7 0h0m1.5 0h0m1.4 0h0m0.7 0h0m1.5 0h0m0.7 0h0m1.4 0h0m0.8 0h0m1.4 0h0m1.4 0h0m0.8 0h0m1.4 0h0m0.7 0h0m1.5 0h0m1.4 0h0m0.7 0h0m1.5 0h0m0.7 0h0m1.4 0h0m1.5 0h0m0.7 0h0m1.4 0h0m1.5 0h0m1.4 0h0m0.7 0h0m1.5 0h0m0.7 0h0m1.4 0h0m1.5 0h0m0.7 0h0m1.4 0h0m0.7 0h0m1.5 0h0m1.4 0h0m0.7 0h0m1.5 0h0m0.7 0h0m1.4 0h0m0.8 0h0m1.4 0h0m1.4 0h0m0.8 0h0m1.4 0h0m0.7 0h0m1.5 0h0m1.4 0h0m0.7 0h0m1.5 0h0m0.7 0h0m2.1 0h0m1.5 0h0m1.4 0h0m0.7 0h0m1.5 0h0m0.7 0h0m1.4 0h0m1.5 0h0m1.4 0h0m1.5 0h0m0.7 0h0m1.4 0h0m0.7 0h0m1.5 0h0m1.4 0h0m0.7 0h0m1.5 0h0m0.7 0h0m1.4 0h0m1.5 0h0m0.7 0h0M50 293.4h0m1.5 0h0m0.7 0h0m1.4 0h0m0.8 0h0m1.4 0h0m1.4 0h0m0.8 0h0m1.4 0h0m0.7 0h0m1.5 0h0m0.7 0h0m1.4 0h0m1.5 0h0m1.4 0h0m1.4 0h0m0.8 0h0m2.1 0h0m0.7 0h0m2.2 0h0m1.4 0h0m1.5 0h0m1.4 0h0m1.5 0h0m0.7 0h0m1.4 0h0m1.5 0h0m1.4 0h0m1.4 0h0m1.5 0h0m0.7 0h0m1.4 0h0m0.8 0h0m1.4 0h0m1.4 0h0m0.8 0h0m1.4 0h0m1.4 0h0m1.5 0h0m0.7 0h0m1.4 0h0m0.8 0h0m1.4 0h0m1.4 0h0m0.8 0h0m1.4 0h0m0.7 0h0m1.5 0h0m1.4 0h0m1.4 0h0m1.5 0h0m0.7 0h0m1.4 0h0m1.5 0h0m1.4 0h0m0.7 0h0m1.5 0h0m0.7 0h0m1.4 0h0m1.5 0h0m0.7 0h0m1.4 0h0m0.8 0h0m1.4 0h0m1.4 0h0m0.8 0h0m1.4 0h0m0.7 0h0m1.5 0h0m1.4 0h0m0.7 0h0m1.5 0h0m1.4 0h0M50 297h0m1.5 0h0m0.7 0h0m1.4 0h0m1.5 0h0m1.4 0h0m0.7 0h0m1.5 0h0m1.4 0h0m1.5 0h0m0.7 0h0m2.1 0h0m0.8 0h0m1.4 0h0m1.4 0h0m0.8 0h0m2.1 0h0m0.7 0h0m1.5 0h0m0.7 0h0m2.2 0h0m0.7 0h0m1.4 0h0m1.5 0h0m0.7 0h0m1.4 0h0m0.7 0h0m1.5 0h0m0.7 0h0m1.4 0h0m1.5 0h0m0.7 0h0m1.4 0h0m0.8 0h0m1.4 0h0m1.4 0h0m0.8 0h0m1.4 0h0m0.7 0h0m1.5 0h0m1.4 0h0m1.4 0h0m0.8 0h0m1.4 0h0m1.4 0h0m0.8 0h0m1.4 0h0m1.4 0h0m1.5 0h0m0.7 0h0m1.4 0h0m1.5 0h0m0.7 0h0m1.4 0h0m0.8 0h0m1.4 0h0m1.4 0h0m0.8 0h0m1.4 0h0m1.4 0h0m1.5 0h0m0.7 0h0m1.4 0h0m0.8 0h0m2.1 0h0m0.7 0h0m1.5 0h0m1.4 0h0m0.7 0h0m1.5 0h0m0.7 0h0m1.4 0h0m1.5 0h0m0.7 0h0M50 299.9h0m1.5 0h0m1.4 0h0m1.5 0h0m1.4 0h0m1.4 0h0m0.8 0h0m2.1 0h0m0.7 0h0m1.5 0h0m0.7 0h0m1.4 0h0m0.8 0h0m1.4 0h0m1.4 0h0m1.5 0h0m1.4 0h0m0.7 0h0m1.5 0h0m0.7 0h0m1.4 0h0m1.5 0h0m0.7 0h0m1.4 0h0m0.8 0h0m1.4 0h0m0.7 0h0m2.2 0h0m0.7 0h0m1.4 0h0m1.5 0h0m0.7 0h0m1.4 0h0m0.8 0h0m1.4 0h0m1.4 0h0m0.8 0h0m1.4 0h0m0.7 0h0m1.5 0h0m1.4 0h0m0.7 0h0m1.5 0h0m0.7 0h0m1.4 0h0m0.7 0h0m1.5 0h0m1.4 0h0m0.7 0h0m1.5 0h0m0.7 0h0m1.4 0h0m1.5 0h0m0.7 0h0m1.4 0h0m1.5 0h0m1.4 0h0m0.7 0h0m1.5 0h0m0.7 0h0m1.4 0h0m1.5 0h0m0.7 0h0m1.4 0h0m0.8 0h0m1.4 0h0m1.4 0h0m0.8 0h0m1.4 0h0m0.7 0h0m1.5 0h0m1.4 0h0m0.7 0h0m1.5 0h0m0.7 0h0m1.4 0h0M50 303.5h0m1.5 0h0m0.7 0h0m1.4 0h0m0.8 0h0m1.4 0h0m1.4 0h0m0.8 0h0m2.1 0h0m0.7 0h0m1.5 0h0m0.7 0h0m1.4 0h0m0.8 0h0m2.8 0h0m0.8 0h0m1.4 0h0m0.7 0h0m1.5 0h0m1.4 0h0m0.7 0h0m1.5 0h0m0.7 0h0m1.4 0h0m1.5 0h0m0.7 0h0m1.4 0h0m0.7 0h0m1.5 0h0m0.7 0h0m1.4 0h0m1.5 0h0m0.7 0h0m1.4 0h0m0.8 0h0m1.4 0h0m1.4 0h0m0.8 0h0m1.4 0h0m0.7 0h0m1.5 0h0m1.4 0h0m0.7 0h0m1.5 0h0m0.7 0h0m1.4 0h0m0.7 0h0m1.5 0h0m1.4 0h0m0.7 0h0m1.5 0h0m0.7 0h0m1.4 0h0m1.5 0h0m0.7 0h0m1.4 0h0m0.8 0h0m1.4 0h0m1.4 0h0m1.5 0h0m0.7 0h0m1.4 0h0m1.5 0h0m0.7 0h0m2.2 0h0m0.7 0h0m1.4 0h0m0.7 0h0m1.5 0h0m1.4 0h0m0.7 0h0m1.5 0h0m0.7 0h0m1.4 0h0m1.5 0h0m0.7 0h0M50 306.4h0m1.5 0h0m0.7 0h0m1.4 0h0m0.8 0h0m1.4 0h0m1.4 0h0m0.8 0h0m1.4 0h0m0.7 0h0m1.5 0h0m0.7 0h0m1.4 0h0m1.5 0h0m1.4 0h0m1.4 0h0m1.5 0h0m1.4 0h0m0.7 0h0m1.5 0h0m0.7 0h0m1.4 0h0m1.5 0h0m0.7 0h0m1.4 0h0m0.8 0h0m1.4 0h0m0.7 0h0m1.5 0h0m1.4 0h0m0.7 0h0m1.5 0h0m0.7 0h0m1.4 0h0m1.5 0h0m0.7 0h0m1.4 0h0m0.7 0h0m1.5 0h0m1.4 0h0m0.7 0h0m1.5 0h0m0.7 0h0m1.4 0h0m0.8 0h0m1.4 0h0m1.4 0h0m0.8 0h0m1.4 0h0m1.4 0h0m1.5 0h0m0.7 0h0m1.4 0h0m1.5 0h0m0.7 0h0m1.4 0h0m0.8 0h0m1.4 0h0m1.4 0h0m0.8 0h0m1.4 0h0m0.7 0h0m1.5 0h0m1.4 0h0m1.4 0h0m0.8 0h0m1.4 0h0m1.4 0h0m0.8 0h0m1.4 0h0m0.7 0h0m1.5 0h0m1.4 0h0m1.4 0h0m1.5 0h0m0.7 0h0M50 310h0m1.5 0h0m1.4 0h0m1.5 0h0m0.7 0h0m1.4 0h0m0.7 0h0m1.5 0h0m1.4 0h0m0.7 0h0m1.5 0h0m0.7 0h0m1.4 0h0m0.8 0h0m1.4 0h0m1.4 0h0m0.8 0h0m1.4 0h0m0.7 0h0m1.5 0h0m1.4 0h0m0.7 0h0m1.5 0h0m0.7 0h0m1.4 0h0m1.5 0h0m0.7 0h0m1.4 0h0m0.7 0h0m1.5 0h0m0.7 0h0m1.4 0h0m1.5 0h0m0.7 0h0m1.4 0h0m0.8 0h0m1.4 0h0m1.4 0h0m0.8 0h0m1.4 0h0m0.7 0h0m1.5 0h0m1.4 0h0m0.7 0h0m1.5 0h0m0.7 0h0m1.4 0h0m1.5 0h0m1.4 0h0m0.7 0h0m1.5 0h0m1.4 0h0m0.7 0h0m1.5 0h0m0.7 0h0m1.4 0h0m1.5 0h0m1.4 0h0m1.4 0h0m0.8 0h0m1.4 0h0m0.7 0h0m1.5 0h0m0.7 0h0m1.4 0h0m1.5 0h0m0.7 0h0m1.4 0h0m0.7 0h0m1.5 0h0m1.4 0h0m0.7 0h0m1.5 0h0m0.7 0h0m1.4 0h0m1.5 0h0m0.7 0h0M50 313.6h0m1.5 0h0m0.7 0h0m1.4 0h0m0.8 0h0m1.4 0h0m1.4 0h0m0.8 0h0m1.4 0h0m0.7 0h0m1.5 0h0m0.7 0h0m1.4 0h0m1.5 0h0m0.7 0h0m1.4 0h0m0.7 0h0m1.5 0h0m1.4 0h0m0.7 0h0m1.5 0h0m0.7 0h0m1.4 0h0m1.5 0h0m0.7 0h0m1.4 0h0m0.8 0h0m1.4 0h0m0.7 0h0m1.5 0h0m1.4 0h0m0.7 0h0m1.5 0h0m0.7 0h0m1.4 0h0m1.5 0h0m0.7 0h0m1.4 0h0m0.7 0h0m1.5 0h0m1.4 0h0m0.7 0h0m1.5 0h0m0.7 0h0m1.4 0h0m0.8 0h0m1.4 0h0m1.4 0h0m0.8 0h0m1.4 0h0m0.7 0h0m1.5 0h0m1.4 0h0m0.7 0h0m1.5 0h0m0.7 0h0m1.4 0h0m1.5 0h0m0.7 0h0m1.4 0h0m0.7 0h0m1.5 0h0m0.7 0h0m1.4 0h0m1.5 0h0m0.7 0h0m1.4 0h0m2.2 0h0m1.4 0h0m0.8 0h0m1.4 0h0m0.7 0h0m1.5 0h0m1.4 0h0m0.7 0h0m1.5 0h0m0.7 0h0m1.4 0h0M50 316.4h0m1.5 0h0m0.7 0h0m1.4 0h0m0.8 0h0m1.4 0h0m1.4 0h0m0.8 0h0m1.4 0h0m0.7 0h0m1.5 0h0m0.7 0h0m1.4 0h0m1.5 0h0m0.7 0h0m1.4 0h0m0.7 0h0m1.5 0h0m1.4 0h0m0.7 0h0m1.5 0h0m0.7 0h0m1.4 0h0m1.5 0h0m0.7 0h0m1.4 0h0m0.8 0h0m1.4 0h0m0.7 0h0m2.2 0h0m0.7 0h0m1.4 0h0m1.5 0h0m0.7 0h0m1.4 0h0m0.8 0h0m1.4 0h0m1.4 0h0m0.8 0h0m1.4 0h0m0.7 0h0m1.5 0h0m1.4 0h0m0.7 0h0m1.5 0h0m0.7 0h0m1.4 0h0m0.7 0h0m1.5 0h0m1.4 0h0m0.7 0h0m1.5 0h0m0.7 0h0m1.4 0h0m1.5 0h0m0.7 0h0m1.4 0h0m1.5 0h0m1.4 0h0m0.7 0h0m1.5 0h0m0.7 0h0m2.2 0h0m0.7 0h0m1.4 0h0m1.5 0h0m0.7 0h0m1.4 0h0m0.7 0h0m1.5 0h0m1.4 0h0m0.7 0h0m1.5 0h0m0.7 0h0m1.4 0h0m1.5 0h0m0.7 0h0M50 320h0m1.5 0h0m0.7 0h0m1.4 0h0m0.8 0h0m1.4 0h0m1.4 0h0m0.8 0h0m1.4 0h0m0.7 0h0m1.5 0h0m0.7 0h0m1.4 0h0m1.5 0h0m0.7 0h0m1.4 0h0m0.7 0h0m1.5 0h0m1.4 0h0m0.7 0h0m1.5 0h0m0.7 0h0m1.4 0h0m1.5 0h0m0.7 0h0m1.4 0h0m0.8 0h0m1.4 0h0m0.7 0h0m1.5 0h0m1.4 0h0m0.7 0h0m1.5 0h0m0.7 0h0m1.4 0h0m1.5 0h0m0.7 0h0m1.4 0h0m0.7 0h0m1.5 0h0m1.4 0h0m0.7 0h0m1.5 0h0m0.7 0h0m1.4 0h0m0.8 0h0m1.4 0h0m1.4 0h0m0.8 0h0m1.4 0h0m1.4 0h0m1.5 0h0m0.7 0h0m1.4 0h0m1.5 0h0m0.7 0h0m1.4 0h0m0.8 0h0m1.4 0h0m1.4 0h0m0.8 0h0m1.4 0h0m0.7 0h0m1.5 0h0m0.7 0h0m1.4 0h0m1.5 0h0m0.7 0h0m1.4 0h0m0.7 0h0m1.5 0h0m1.4 0h0m0.7 0h0m1.5 0h0m0.7 0h0m1.4 0h0m1.5 0h0m0.7 0h0M50 323.6h0m1.5 0h0m0.7 0h0m1.4 0h0m0.8 0h0m1.4 0h0m1.4 0h0m0.8 0h0m1.4 0h0m0.7 0h0m1.5 0h0m0.7 0h0m1.4 0h0m1.5 0h0m0.7 0h0m1.4 0h0m0.7 0h0m1.5 0h0m1.4 0h0m0.7 0h0m1.5 0h0m0.7 0h0m1.4 0h0m1.5 0h0m0.7 0h0m1.4 0h0m1.5 0h0m1.4 0h0m0.7 0h0m1.5 0h0m0.7 0h0m1.4 0h0m1.5 0h0m0.7 0h0m1.4 0h0m0.8 0h0m1.4 0h0m1.4 0h0m0.8 0h0m1.4 0h0m0.7 0h0m1.5 0h0m1.4 0h0m0.7 0h0m1.5 0h0m0.7 0h0m1.4 0h0m0.7 0h0m2.2 0h0m0.7 0h0m1.5 0h0m1.4 0h0m0.7 0h0m1.5 0h0m0.7 0h0m1.4 0h0m1.5 0h0m1.4 0h0m1.4 0h0m0.8 0h0m1.4 0h0m0.7 0h0m1.5 0h0m0.7 0h0m1.4 0h0m1.5 0h0m0.7 0h0m1.4 0h0m0.7 0h0m1.5 0h0m1.4 0h0m0.7 0h0m2.2 0h0m0.7 0h0m1.5 0h0m0.7 0h0m1.4 0h0M50 326.5h0m1.5 0h0m0.7 0h0m1.4 0h0m0.8 0h0m1.4 0h0m1.4 0h0m0.8 0h0m1.4 0h0m0.7 0h0m1.5 0h0m0.7 0h0m1.4 0h0m1.5 0h0m1.4 0h0m1.4 0h0m0.8 0h0m1.4 0h0m0.7 0h0m1.5 0h0m1.4 0h0m0.7 0h0m1.5 0h0m0.7 0h0m1.4 0h0m1.5 0h0m0.7 0h0m1.4 0h0m0.7 0h0m1.5 0h0m0.7 0h0m1.4 0h0m1.5 0h0m0.7 0h0m1.4 0h0m0.8 0h0m1.4 0h0m1.4 0h0m0.8 0h0m1.4 0h0m0.7 0h0m1.5 0h0m1.4 0h0m0.7 0h0m1.5 0h0m1.4 0h0m1.4 0h0m0.8 0h0m1.4 0h0m0.7 0h0m1.5 0h0m1.4 0h0m0.7 0h0m1.5 0h0m0.7 0h0m1.4 0h0m1.5 0h0m0.7 0h0m1.4 0h0m0.7 0h0m1.5 0h0m0.7 0h0m1.4 0h0m1.5 0h0m0.7 0h0m1.4 0h0m1.5 0h0m1.4 0h0m0.7 0h0m1.5 0h0m1.4 0h0m0.7 0h0m1.5 0h0m0.7 0h0m1.4 0h0m1.5 0h0m0.7 0h0M50 330.1h0m1.5 0h0m0.7 0h0m1.4 0h0m0.8 0h0m1.4 0h0m1.4 0h0m0.8 0h0m1.4 0h0m0.7 0h0m1.5 0h0m0.7 0h0m1.4 0h0m1.5 0h0m0.7 0h0m1.4 0h0m0.7 0h0m1.5 0h0m1.4 0h0m0.7 0h0m2.2 0h0m0.7 0h0m1.5 0h0m0.7 0h0m1.4 0h0m1.5 0h0m0.7 0h0m1.4 0h0m0.7 0h0m1.5 0h0m0.7 0h0m1.4 0h0m1.5 0h0m0.7 0h0m1.4 0h0m0.8 0h0m1.4 0h0m1.4 0h0m0.8 0h0m1.4 0h0m0.7 0h0m1.5 0h0m1.4 0h0m0.7 0h0m1.5 0h0m0.7 0h0m1.4 0h0m0.7 0h0m1.5 0h0m1.4 0h0m0.7 0h0m1.5 0h0m0.7 0h0m1.4 0h0m1.5 0h0m0.7 0h0m1.4 0h0m0.8 0h0m1.4 0h0m1.4 0h0m0.8 0h0m1.4 0h0m1.4 0h0m1.5 0h0m0.7 0h0m1.4 0h0m0.8 0h0m1.4 0h0m1.4 0h0m0.8 0h0m1.4 0h0m0.7 0h0m1.5 0h0m1.4 0h0m0.7 0h0m1.5 0h0m0.7 0h0m1.4 0h0" clip-path="url(#p271bf2d5a7)" style="fill: none; stroke: #c8c8c8; stroke-width: 1.5; stroke-linecap: round"/>
   </g>
   <g id="patch_4">
    <path d="M50.04 333.72 50.04 34.92" style="fill: none; stroke: #000000; stroke-width: 0.8; stroke-linejoin: miter; stroke-linecap: square"/>
   </g>
   <g id="patch_5">
    <path d="M50.04 333.72 139.82 333.72" style="fill: none; stroke: #000000; stroke-width: 0.8; stroke-linejoin: miter; stroke-linecap: square"/>
   </g>
   <g id="text_15">
    <text style="font-weight: 700; font-size: 10px; font-family: 'DejaVu Sans', sans-serif; text-anchor: start" x="41.06" y="27.46" transform="rotate(-0 41.06 27.46)">A</text>
   </g>
   <g id="line2d_13">
    <defs>
     <path id="m70e3c5ad3c" d="M0 3.3 C 0.88 3.3 1.71 2.95 2.33 2.33 C 2.95 1.71 3.3 0.88 3.3 0 C 3.3 -0.88 2.95 -1.71 2.33 -2.33 C 1.71 -2.95 0.88 -3.3 0 -3.3 C -0.88 -3.3 -1.71 -2.95 -2.33 -2.33 C -2.95 -1.71 -3.3 -0.88 -3.3 0 C -3.3 0.88 -2.95 1.71 -2.33 2.33 C -1.71 2.95 -0.88 3.3 0 3.3z"/>
    </defs>
    <g clip-path="url(#p616f230173)">
     <use href="#m70e3c5ad3c" x="139.82" y="37.73" style="fill: #006400"/>
    </g>
   </g>
   <g id="line2d_14">
    <defs>
     <path id="me32dd5803a" d="M0 3.3 C 0.88 3.3 1.71 2.95 2.33 2.33 C 2.95 1.71 3.3 0.88 3.3 0 C 3.3 -0.88 2.95 -1.71 2.33 -2.33 C 1.71 -2.95 0.88 -3.3 0 -3.3 C -0.88 -3.3 -1.71 -2.95 -2.33 -2.33 C -2.95 -1.71 -3.3 -0.88 -3.3 0 C -3.3 0.88 -2.95 1.71 -2.33 2.33 C -1.71 2.95 -0.88 3.3 0 3.3z"/>
    </defs>
    <g clip-path="url(#p616f230173)">
     <use href="#me32dd5803a" x="139.82" y="77.46" style="fill: #32cd32"/>
    </g>
   </g>
   <g id="line2d_15">
    <defs>
     <path id="m8bef891245" d="M0 3.3 C 0.88 3.3 1.71 2.95 2.33 2.33 C 2.95 1.71 3.3 0.88 3.3 0 C 3.3 -0.88 2.95 -1.71 2.33 -2.33 C 1.71 -2.95 0.88 -3.3 0 -3.3 C -0.88 -3.3 -1.71 -2.95 -2.33 -2.33 C -2.95 -1.71 -3.3 -0.88 -3.3 0 C -3.3 0.88 -2.95 1.71 -2.33 2.33 C -1.71 2.95 -0.88 3.3 0 3.3z"/>
    </defs>
    <g clip-path="url(#p616f230173)">
     <use href="#m8bef891245" x="139.82" y="143.04" style="fill: #9acd32"/>
    </g>
   </g>
   <g id="line2d_16">
    <defs>
     <path id="m9c1f894305" d="M0 3.3 C 0.88 3.3 1.71 2.95 2.33 2.33 C 2.95 1.71 3.3 0.88 3.3 0 C 3.3 -0.88 2.95 -1.71 2.33 -2.33 C 1.71 -2.95 0.88 -3.3 0 -3.3 C -0.88 -3.3 -1.71 -2.95 -2.33 -2.33 C -2.95 -1.71 -3.3 -0.88 -3.3 0 C -3.3 0.88 -2.95 1.71 -2.33 2.33 C -1.71 2.95 -0.88 3.3 0 3.3z"/>
    </defs>
    <g clip-path="url(#p616f230173)">
     <use href="#m9c1f894305" x="139.82" y="181.12" style="fill: #ffa500"/>
    </g>
   </g>
   <g id="line2d_17">
    <defs>
     <path id="m23e1021102" d="M0 3.3 C 0.88 3.3 1.71 2.95 2.33 2.33 C 2.95 1.71 3.3 0.88 3.3 0 C 3.3 -0.88 2.95 -1.71 2.33 -2.33 C 1.71 -2.95 0.88 -3.3 0 -3.3 C -0.88 -3.3 -1.71 -2.95 -2.33 -2.33 C -2.95 -1.71 -3.3 -0.88 -3.3 0 C -3.3 0.88 -2.95 1.71 -2.33 2.33 C -1.71 2.95 -0.88 3.3 0 3.3z"/>
    </defs>
    <g clip-path="url(#p616f230173)">
     <use href="#m23e1021102" x="139.82" y="247.35" style="fill: #ff4500"/>
    </g>
   </g>
   <g id="line2d_18">
    <defs>
     <path id="m0df3533af2" d="M0 3.3 C 0.88 3.3 1.71 2.95 2.33 2.33 C 2.95 1.71 3.3 0.88 3.3 0 C 3.3 -0.88 2.95 -1.71 2.33 -2.33 C 1.71 -2.95 0.88 -3.3 0 -3.3 C -0.88 -3.3 -1.71 -2.95 -2.33 -2.33 C -2.95 -1.71 -3.3 -0.88 -3.3 0 C -3.3 0.88 -2.95 1.71 -2.33 2.33 C -1.71 2.95 -0.88 3.3 0 3.3z"/>
    </defs>
    <g clip-path="url(#p616f230173)">
     <use href="#m0df3533af2" x="139.82" y="283.27" style="fill: #8b0000"/>
    </g>
   </g>
   <g id="line2d_19">
    <defs>
     <path id="m02204ec422" d="M0 3.3 C 0.88 3.3 1.71 2.95 2.33 2.33 C 2.95 1.71 3.3 0.88 3.3 0 C 3.3 -0.88 2.95 -1.71 2.33 -2.33 C 1.71 -2.95 0.88 -3.3 0 -3.3 C -0.88 -3.3 -1.71 -2.95 -2.33 -2.33 C -2.95 -1.71 -3.3 -0.88 -3.3 0 C -3.3 0.88 -2.95 1.71 -2.33 2.33 C -1.71 2.95 -0.88 3.3 0 3.3z"/>
    </defs>
    <g clip-path="url(#p616f230173)">
     <use href="#m02204ec422" x="139.82" y="329.92" style="fill: #dc143c"/>
    </g>
   </g>
  </g>
  <g id="axes_2">
   <g id="patch_6">
    <path d="M166.54 68.76 257.04 68.76 257.04 34.8 166.54 34.8z" style="fill: #ffffff"/>
   </g>
   <g id="matplotlib.axis_3">
    <g id="xtick_4">
     <g id="line2d_20">
      <g>
       <use href="#m1504cfccaf" x="171" y="68.76" style="stroke: #000000; stroke-width: 0.8"/>
      </g>
     </g>
    </g>
    <g id="xtick_5">
     <g id="line2d_21">
      <g>
       <use href="#m1504cfccaf" x="203.69" y="68.76" style="stroke: #000000; stroke-width: 0.8"/>
      </g>
     </g>
    </g>
    <g id="xtick_6">
     <g id="line2d_22">
      <g>
       <use href="#m1504cfccaf" x="236.38" y="68.76" style="stroke: #000000; stroke-width: 0.8"/>
      </g>
     </g>
    </g>
   </g>
   <g id="matplotlib.axis_4"/>
   <g id="line2d_23">
    <path d="M170 53 170.1 52.6 170.2 51.7 170.3 50.5 170.3 49 170.4 47.4 170.5 45.7 170.6 44.1 170.7 42.6 170.8 41.3 170.8 40.4 170.9 39.8 171 39.7 171.1 40 171.2 40.6 171.2 41.7 171.3 43.1 171.4 44.8 171.5 46.6 171.6 48.4 171.7 50.2 171.7 51.8 171.8 53.1 171.9 54.1 172 54.7 172.1 54.9 172.1 54.6 172.2 54 172.3 53 172.4 51.6 172.5 50.1 172.6 48.5 172.6 46.8 172.7 45.2 172.8 43.9 172.9 42.8 173 42 173 41.7 173.1 41.8 173.2 42.3 173.3 43.3 173.4 44.5 173.4 46.1 173.5 47.9 173.6 49.7 173.7 51.5 173.8 53.2 173.9 54.7 173.9 55.9 174 56.7 174.1 57.1 174.2 57 174.3 56.6 174.3 55.8 174.4 54.6 174.5 53.1 174.6 51.5 174.7 49.9 174.8 48.3 174.8 46.8 174.9 45.6 175 44.7 175.1 44.1 175.2 44 175.2 44.4 175.3 45.1 175.4 46.2 175.5 47.6 175.6 49.3 175.7 51.1 175.7 53 175.8 54.7 175.9 56.3 176 57.6 176.1 58.6 176.2 59.2 176.2 59.4 176.3 59.1 176.4 58.5 176.5 57.4 176.6 56.1 176.6 54.6 176.7 52.9 176.8 51.2 176.9 49.7 177 48.3 177.1 47.2 177.1 46.5 177.2 46.2 177.3 46.3 177.4 46.8 177.4 47.8 177.5 49 177.6 50.6 177.7 52.3 177.8 54.1 177.9 55.9 177.9 57.6 178 59 178.1 60.2 178.2 61 178.3 61.3 178.3 61.2 178.4 60.7 178.5 59.8 178.6 58.6 178.7 57.1 178.8 55.5 178.8 53.8 178.9 52.1 179 50.6 179.1 49.4 179.2 48.5 179.2 47.9 179.3 47.8 179.4 48.1 179.5 48.8 179.6 49.9 179.7 51.3 179.7 52.9 179.8 54.7 179.9 56.5 180 58.2 180.1 59.7 180.2 61 180.2 61.9 180.3 62.4 180.4 62.5 180.5 62.2 180.6 61.4 180.6 60.3 180.7 58.9 180.8 57.3 180.9 55.6 181 53.9 181.1 52.2 181.1 50.8 181.2 49.7 181.3 48.9 181.4 48.5 181.5 48.6 181.5 49.1 181.6 50 181.7 51.2 181.8 52.7 181.9 54.4 181.9 56.1 182 57.8 182.1 59.4 182.2 60.8 182.3 61.8 182.4 62.5 182.4 62.8 182.5 62.6 182.6 62 182.7 61 182.8 59.7 182.8 58.2 182.9 56.4 183 54.7 183.1 52.9 183.2 51.4 183.3 50.1 183.3 49.1 183.4 48.5 183.5 48.3 183.6 48.5 183.7 49.2 183.8 50.2 183.8 51.5 183.9 53.1 184 54.8 184.1 56.5 184.2 58.1 184.2 59.6 184.3 60.7 184.4 61.6 184.5 62 184.6 62 184.7 61.6 184.7 60.7 184.8 59.5 184.9 58 185 56.3 185.1 54.5 185.1 52.8 185.2 51.1 185.3 49.6 185.4 48.4 185.5 47.6 185.6 47.1 185.6 47.1 185.7 47.6 185.8 48.4 185.9 49.6 185.9 51 186 52.6 186.1 54.3 186.2 55.9 186.3 57.5 186.4 58.7 186.4 59.7 186.5 60.3 186.6 60.5 186.7 60.2 186.8 59.5 186.8 58.5 186.9 57.1 187 55.5 187.1 53.7 187.2 51.8 187.3 50.1 187.3 48.4 187.4 47.1 187.5 46 187.6 45.4 187.7 45.2 187.8 45.4 187.8 46 187.9 47 188 48.3 188.1 49.8 188.2 51.4 188.2 53.1 188.3 54.7 188.4 56.1 188.5 57.2 188.6 57.9 188.7 58.3 188.7 58.2 188.8 57.8 188.9 56.9 189 55.6 189.1 54.1 189.1 52.3 189.2 50.5 189.3 48.7 189.4 46.9 189.5 45.4 189.6 44.2 189.6 43.4 189.7 43 189.8 42.9 189.9 43.4 190 44.2 190 45.3 190.1 46.8 190.2 48.3 190.3 50 190.4 51.6 190.4 53.1 190.5 54.4 190.6 55.3 190.7 55.9 190.8 56 190.9 55.7 190.9 55 191 53.9 191.1 52.5 191.2 50.9 191.3 49.1 191.3 47.2 191.4 45.5 191.5 43.9 191.6 42.5 191.7 41.5 191.8 40.9 191.8 40.7 191.9 40.9 192 41.5 192.1 42.5 192.2 43.9 192.2 45.4 192.3 47 192.4 48.7 192.5 50.3 192.6 51.7 192.7 52.8 192.7 53.6 192.8 53.9 192.9 53.9 193 53.4 193.1 52.5 193.2 51.2 193.2 49.7 193.3 48 193.4 46.2 193.5 44.4 193.6 42.7 193.6 41.2 193.7 40.1 193.8 39.3 193.9 38.9 194 39 194.1 39.4 194.1 40.3 194.2 41.5 194.3 43 194.4 44.6 194.4 46.3 194.5 48 194.6 49.5 194.7 50.8 194.8 51.8 194.9 52.4 194.9 52.5 195 52.3 195.1 51.6 195.2 50.5 195.3 49.2 195.3 47.6 195.4 45.8 195.5 44 195.6 42.3 195.7 40.8 195.8 39.5 195.8 38.6 195.9 38 196 37.9 196.1 38.2 196.2 38.9 196.2 40 196.3 41.4 196.4 43 196.5 44.7 196.6 46.5 196.7 48.1 196.7 49.6 196.8 50.7 196.9 51.5 197 52 197.1 52 197.2 51.5 197.2 50.7 197.3 49.5 197.4 48 197.5 46.4 197.6 44.6 197.6 42.9 197.7 41.3 197.8 39.9 197.9 38.9 198 38.2 198.1 37.9 198.1 38 198.2 38.6 198.3 39.5 198.4 40.8 198.5 42.4 198.5 44.1 198.6 45.9 198.7 47.6 198.8 49.2 198.9 50.6 198.9 51.6 199 52.2 199.1 52.5 199.2 52.3 199.3 51.7 199.4 50.7 199.4 49.4 199.5 47.8 199.6 46.2 199.7 44.5 199.8 42.8 199.8 41.4 199.9 40.2 200 39.3 200.1 38.9 200.2 38.8 200.3 39.2 200.3 40.1 200.4 41.2 200.5 42.7 200.6 44.4 200.7 46.2 200.8 48 200.8 49.7 200.9 51.2 201 52.5 201.1 53.3 201.2 53.8 201.2 53.8 201.3 53.4 201.4 52.6 201.5 51.5 201.6 50.1 201.7 48.5 201.7 46.8 201.8 45.2 201.9 43.7 202 42.4 202.1 41.4 202.1 40.8 202.2 40.5 202.3 40.8 202.4 41.4 202.5 42.5 202.5 43.8 202.6 45.4 202.7 47.2 202.8 49.1 202.9 50.9 202.9 52.5 203 53.9 203.1 54.9 203.2 55.6 203.3 55.9 203.4 55.7 203.4 55.1 203.5 54.2 203.6 52.9 203.7 51.4 203.8 49.8 203.8 48.1 203.9 46.5 204 45.1 204.1 44 204.2 43.2 204.3 42.8 204.3 42.8 204.4 43.3 204.5 44.2 204.6 45.4 204.7 46.9 204.8 48.6 204.8 50.5 204.9 52.3 205 54 205.1 55.5 205.2 56.8 205.2 57.7 205.3 58.1 205.4 58.2 205.5 57.8 205.6 57 205.7 55.9 205.7 54.5 205.8 52.9 205.9 51.2 206 49.6 206.1 48.1 206.1 46.8 206.2 45.8 206.3 45.2 206.4 45.1 206.5 45.3 206.6 46 206.6 47 206.7 48.4 206.8 50 206.9 51.8 207 53.7 207 55.4 207.1 57.1 207.2 58.4 207.3 59.5 207.4 60.1 207.4 60.4 207.5 60.2 207.6 59.5 207.7 58.6 207.8 57.3 207.9 55.7 207.9 54.1 208 52.4 208.1 50.8 208.2 49.4 208.3 48.2 208.3 47.4 208.4 47 208.5 47.1 208.6 47.5 208.7 48.4 208.8 49.6 208.8 51.1 208.9 52.8 209 54.6 209.1 56.4 209.2 58 209.2 59.5 209.3 60.7 209.4 61.5 209.5 61.9 209.6 61.9 209.7 61.5 209.7 60.6 209.8 59.4 209.9 58 210 56.3 210.1 54.6 210.2 53 210.2 51.4 210.3 50.1 210.4 49.1 210.5 48.5 210.6 48.2 210.6 48.4 210.7 49.1 210.8 50.1 210.9 51.4 211 53 211 54.7 211.1 56.5 211.2 58.2 211.3 59.8 211.4 61.1 211.4 62 211.5 62.6 211.6 62.8 211.7 62.5 211.8 61.8 211.9 60.7 211.9 59.3 212 57.7 212.1 56 212.2 54.2 212.3 52.6 212.3 51.1 212.4 49.9 212.5 49.1 212.6 48.6 212.7 48.6 212.8 49 212.8 49.8 212.9 50.9 213 52.4 213.1 54 213.2 55.7 213.2 57.4 213.3 59 213.4 60.4 213.5 61.5 213.6 62.2 213.7 62.5 213.7 62.4 213.8 61.9 213.9 61 214 59.7 214.1 58.1 214.2 56.4 214.2 54.6 214.3 52.9 214.4 51.2 214.5 49.9 214.6 48.8 214.6 48.1 214.7 47.8 214.8 48 214.9 48.6 215 49.5 215.1 50.8 215.1 52.3 215.2 54 215.3 55.7 215.4 57.3 215.5 58.8 215.5 60 215.6 60.9 215.7 61.3 215.8 61.4 215.9 61 215.9 60.2 216 59.1 216.1 57.6 216.2 55.9 216.3 54.1 216.4 52.3 216.4 50.6 216.5 49 216.6 47.8 216.7 46.9 216.8 46.4 216.8 46.3 216.9 46.6 217 47.4 217.1 48.5 217.2 49.9 217.3 51.5 217.3 53.1 217.4 54.8 217.5 56.3 217.6 57.6 217.7 58.6 217.8 59.3 217.8 59.5 217.9 59.3 218 58.7 218.1 57.7 218.2 56.4 218.2 54.8 218.3 53 218.4 51.1 218.5 49.3 218.6 47.7 218.6 46.3 218.7 45.2 218.8 44.5 218.9 44.1 219 44.3 219.1 44.8 219.1 45.8 219.2 47 219.3 48.5 219.4 50.1 219.5 51.8 219.5 53.4 219.6 54.8 219.7 55.9 219.8 56.8 219.9 57.2 219.9 57.2 220 56.8 220.1 55.9 220.2 54.7 220.3 53.2 220.4 51.5 220.4 49.7 220.5 47.9 220.6 46.1 220.7 44.6 220.8 43.3 220.8 42.4 220.9 41.9 221 41.9 221.1 42.2 221.2 43 221.3 44.1 221.3 45.5 221.4 47 221.5 48.7 221.6 50.3 221.7 51.9 221.8 53.1 221.8 54.1 221.9 54.8 222 55 222.1 54.8 222.2 54.2 222.2 53.1 222.3 51.8 222.4 50.2 222.5 48.4 222.6 46.6 222.7 44.8 222.7 43.2 222.8 41.8 222.9 40.7 223 40 223.1 39.8 223.1 39.9 223.2 40.5 223.3 41.5 223.4 42.8 223.5 44.3 223.6 45.9 223.6 47.6 223.7 49.2 223.8 50.7 223.9 51.9 224 52.7 224 53.1 224.1 53.1 224.2 52.8 224.3 51.9 224.4 50.8 224.4 49.3 224.5 47.6 224.6 45.8 224.7 44 224.8 42.3 224.9 40.9 224.9 39.6 225 38.8 225.1 38.4 225.2 38.4 225.3 38.8 225.3 39.6 225.4 40.8 225.5 42.2 225.6 43.9 225.7 45.6 225.8 47.3 225.8 48.8 225.9 50.2 226 51.2 226.1 51.9 226.2 52.2 226.2 52 226.3 51.4 226.4 50.4 226.5 49.1 226.6 47.6 226.7 45.9 226.7 44.1 226.8 42.4 226.9 40.8 227 39.5 227.1 38.5 227.1 37.9 227.2 37.8 227.3 38 227.4 38.7 227.5 39.7 227.6 41.1 227.6 42.7 227.7 44.4 227.8 46.2 227.9 47.9 228 49.4 228 50.6 228.1 51.5 228.2 52 228.3 52.1 228.4 51.7 228.4 51 228.5 49.9 228.6 48.5 228.7 46.8 228.8 45.1 228.9 43.4 228.9 41.8 229 40.4 229.1 39.3 229.2 38.5 229.3 38.2 229.3 38.3 229.4 38.8 229.5 39.7 229.6 41 229.7 42.5 229.8 44.2 229.8 46 229.9 47.8 230 49.4 230.1 50.9 230.2 52 230.2 52.7 230.3 53 230.4 52.9 230.5 52.4 230.6 51.4 230.7 50.2 230.7 48.7 230.8 47.1 230.9 45.4 231 43.7 231.1 42.3 231.2 41 231.2 40.1 231.3 39.6 231.4 39.5 231.5 39.9 231.6 40.6 231.6 41.8 231.7 43.2 231.8 44.9 231.9 46.7 232 48.5 232.1 50.3 232.1 51.8 232.2 53.1 232.3 54.1 232.4 54.6 232.5 54.7 232.5 54.4 232.6 53.7 232.7 52.6 232.8 51.3 232.9 49.7 232.9 48.1 233 46.4 233.1 44.9 233.2 43.5 233.3 42.5 233.4 41.8 233.4 41.5 233.5 41.7 233.6 42.3 233.7 43.3 233.8 44.6 233.8 46.2 233.9 48 234 49.8 234.1 51.6 234.2 53.3 234.2 54.7 234.3 55.8 234.4 56.6 234.5 56.9 234.6 56.8 234.7 56.3 234.7 55.4 234.8 54.2 234.9 52.7 235 51.1 235.1 49.5 235.2 47.9 235.2 46.4 235.3 45.2 235.4 44.4 235.5 43.9 235.6 43.9 235.6 44.3 235.7 45.1 235.8 46.2 235.9 47.7 236 49.4 236.1 51.2 236.1 53.1 236.2 54.8 236.3 56.4 236.4 57.6 236.5 58.6 236.5 59.1 236.6 59.2 236.7 58.9 236.8 58.2 236.9 57.1 236.9 55.7 237 54.2 237.1 52.5 237.2 50.9 237.3 49.3 237.4 48 237.4 47 237.5 46.3 237.6 46 237.7 46.2 237.8 46.8 237.8 47.8 237.9 49.1 238 50.7 238.1 52.4 238.2 54.3 238.3 56 238.3 57.7 238.4 59.1 238.5 60.2 238.6 60.9 238.7 61.2 238.8 61 238.8 60.5 238.9 59.5 239 58.3 239.1 56.8 239.2 55.1 239.2 53.4 239.3 51.8 239.4 50.3 239.5 49.1 239.6 48.2 239.7 47.8 239.7 47.7 239.8 48.1 239.9 48.8 240 50 240.1 51.4 240.1 53.1 240.2 54.9 240.3 56.6 240.4 58.3 240.5 59.8 240.6 61.1 240.6 61.9 240.7 62.4 240.8 62.4 240.9 62 241 61.2 241 60.1 241.1 58.6 241.2 57 241.3 55.3 241.4 53.6 241.4 52 241.5 50.6 241.6 49.5 241.7 48.8 241.8 48.5 241.9 48.6 241.9 49.2 242 50.1 242.1 51.4 242.2 52.9 242.3 54.6 242.3 56.4 242.4 58.1 242.5 59.6 242.6 61 242.7 62 242.8 62.6 242.8 62.8 242.9 62.6 243 61.9 243.1 60.9 243.2 59.5 243.2 57.9 243.3 56.2 243.4 54.4 243.5 52.7 243.6 51.2 243.7 49.9 243.7 49 243.8 48.5 243.9 48.3 244 48.6 244.1 49.4 244.1 50.4 244.2 51.8 244.3 53.4 244.4 55.1 244.5 56.8 244.6 58.4 244.6 59.8 244.7 61 244.8 61.7 244.9 62.1 245 62 245 61.6 245.1 60.7 245.2 59.4 245.3 57.9 245.4 56.2 245.4 54.4 245.5 52.6 245.6 50.9 245.7 49.5 245.8 48.4 245.9 47.6 245.9 47.2 246 47.3 246.1 47.8 246.2 48.7 246.3 49.9 246.3 51.4 246.4 53 246.5 54.7 246.6 56.3 246.7 57.8 246.8 59 246.8 60 246.9 60.5 247 60.6 247.1 60.3 247.2 59.5 247.2 58.4 247.3 57 247.4 55.4 247.5 53.5 247.6 51.7 247.7 50 247.7 48.4 247.8 47.1 247.9 46.1 248 45.5 248.1 45.3 248.2 45.6 248.2 46.3 248.3 47.3 248.4 48.7 248.5 50.2 248.6 51.9 248.6 53.5 248.7 55.1 248.8 56.4 248.9 57.5 249 58.2 249.1 58.5 249.1 58.4 249.2 57.8 249.3 56.9 249.4 55.6 249.5 54 249.5 52.2 249.6 50.4 249.7 48.6 249.8 46.9 249.9 45.4 249.9 44.2 250 43.5 250.1 43.1 250.2 43.1 250.3 43.6 250.3 44.5 250.4 45.7 250.5 47.1 250.6 48.8 250.7 50.4 250.8 52 250.8 53.5 250.9 54.7 251 55.6 251.1 56.1 251.2 56.2 251.2 55.8 251.3 55 251.4 53.9 251.5 52.5 251.6 50.8 251.7 49 251.7 47.1 251.8 45.4 251.9 43.8 252 42.5 252.1 41.5 252.2 41 252.2 40.8 252.3 41.1 252.4 41.8 252.5 42.9 252.6 44.2 252.6 45.8" clip-path="url(#pf7c9f59f91)" style="fill: none; stroke: #cccccc; stroke-width: 0.75; stroke-linecap: square"/>
   </g>
   <g id="line2d_24">
    <defs>
     <path id="mc523a5838a" d="M0 0.72 C 0.19 0.72 0.38 0.65 0.51 0.51 C 0.65 0.38 0.72 0.19 0.72 0 C 0.72 -0.19 0.65 -0.38 0.51 -0.51 C 0.38 -0.65 0.19 -0.72 0 -0.72 C -0.19 -0.72 -0.38 -0.65 -0.51 -0.51 C -0.65 -0.38 -0.72 -0.19 -0.72 0 C -0.72 0.19 -0.65 0.38 -0.51 0.51 C -0.38 0.65 -0.19 0.72 0 0.72z"/>
    </defs>
    <g clip-path="url(#pf7c9f59f91)">
     <use href="#mc523a5838a" x="171" y="65.11"/>
     <use href="#mc523a5838a" x="173.08" y="65.11"/>
     <use href="#mc523a5838a" x="175.16" y="65.11"/>
     <use href="#mc523a5838a" x="177.24" y="65.11"/>
     <use href="#mc523a5838a" x="179.33" y="65.11"/>
     <use href="#mc523a5838a" x="181.41" y="65.11"/>
     <use href="#mc523a5838a" x="183.49" y="65.11"/>
     <use href="#mc523a5838a" x="185.57" y="65.11"/>
     <use href="#mc523a5838a" x="187.66" y="65.11"/>
     <use href="#mc523a5838a" x="198.07" y="65.11"/>
     <use href="#mc523a5838a" x="200.15" y="65.11"/>
     <use href="#mc523a5838a" x="202.23" y="65.11"/>
     <use href="#mc523a5838a" x="204.31" y="65.11"/>
     <use href="#mc523a5838a" x="206.4" y="65.11"/>
     <use href="#mc523a5838a" x="208.48" y="65.11"/>
     <use href="#mc523a5838a" x="210.56" y="65.11"/>
     <use href="#mc523a5838a" x="212.64" y="65.11"/>
     <use href="#mc523a5838a" x="214.72" y="65.11"/>
     <use href="#mc523a5838a" x="216.81" y="65.11"/>
     <use href="#mc523a5838a" x="220.97" y="65.11"/>
     <use href="#mc523a5838a" x="223.05" y="65.11"/>
     <use href="#mc523a5838a" x="231.38" y="65.11"/>
     <use href="#mc523a5838a" x="233.46" y="65.11"/>
     <use href="#mc523a5838a" x="235.55" y="65.11"/>
     <use href="#mc523a5838a" x="237.63" y="65.11"/>
     <use href="#mc523a5838a" x="239.71" y="65.11"/>
     <use href="#mc523a5838a" x="241.79" y="65.11"/>
     <use href="#mc523a5838a" x="243.88" y="65.11"/>
     <use href="#mc523a5838a" x="245.96" y="65.11"/>
     <use href="#mc523a5838a" x="248.04" y="65.11"/>
    </g>
   </g>
   <g id="patch_7">
    <path d="M166.54 68.76 257.04 68.76" style="fill: none; stroke: #000000; stroke-width: 0.8; stroke-linejoin: miter; stroke-linecap: square"/>
   </g>
   <g id="text_16">
    <text style="font-weight: 700; font-size: 10px; font-family: 'DejaVu Sans', sans-serif; text-anchor: start" x="157.76" y="30.75" transform="rotate(-0 157.76 30.75)">B</text>
   </g>
   <g id="line2d_25">
    <path d="M170.02 39.66 171 39.66 173.05 41.71 175.13 44.02 177.24 46.17 179.33 47.77 181.41 48.52 183.49 48.28 185.57 47.09 187.66 45.18 189.77 42.9 191.82 40.66 193.9 38.89 195.98 37.89 198.07 37.86 200.15 38.81 202.23 40.55 204.28 42.77 206.4 45.06 208.48 47 210.56 48.23 212.64 48.53 214.72 47.84 216.81 46.28 218.92 44.15 221 41.83 223.05 39.76 225.14 38.31 227.22 37.75 229.3 38.18 231.38 39.53 233.43 41.54 235.51 43.85 237.63 46.03 239.71 47.68 241.79 48.49 243.88 48.33 245.96 47.21 248.04 45.34 250.15 43.07 252.2 40.82" clip-path="url(#pf7c9f59f91)" style="fill: none; stroke: #006400; stroke-width: 1.1; stroke-linecap: square"/>
   </g>
  </g>
  <g id="axes_3">
   <g id="patch_8">
    <path d="M280.87 68.76 435.46 68.76 435.46 34.8 280.87 34.8z" style="fill: #ffffff"/>
   </g>
   <g id="matplotlib.axis_5">
    <g id="xtick_7">
     <g id="line2d_26">
      <g>
       <use href="#m1504cfccaf" x="285.48" y="68.76" style="stroke: #000000; stroke-width: 0.8"/>
      </g>
     </g>
    </g>
    <g id="xtick_8">
     <g id="line2d_27">
      <g>
       <use href="#m1504cfccaf" x="332.28" y="68.76" style="stroke: #000000; stroke-width: 0.8"/>
      </g>
     </g>
    </g>
    <g id="xtick_9">
     <g id="line2d_28">
      <g>
       <use href="#m1504cfccaf" x="379.08" y="68.76" style="stroke: #000000; stroke-width: 0.8"/>
      </g>
     </g>
    </g>
    <g id="xtick_10">
     <g id="line2d_29">
      <g>
       <use href="#m1504cfccaf" x="425.88" y="68.76" style="stroke: #000000; stroke-width: 0.8"/>
      </g>
     </g>
    </g>
   </g>
   <g id="matplotlib.axis_6"/>
   <g id="line2d_30">
    <path d="M281.5 67.7 281.9 67.6 282.2 67.6 282.6 67.7 283 67.6 283.3 67.7 283.7 67.7 284 67.6 284.4 67.7 284.8 67.7 285.1 67.7 285.5 67.6 285.8 67.7 286.2 67.7 286.6 67.6 286.9 67.7 287.3 67.6 287.6 67.7 288 67.6 288.4 67.8 288.7 67.7 289.1 67.6 289.4 67.7 289.8 67.7 290.2 67.7 290.5 67.7 290.9 67.7 291.2 67.7 291.6 67.6 292 67.8 292.3 67.7 292.7 67.7 293 67.6 293.4 67.6 293.8 67.8 294.1 67.7 294.5 67.6 294.8 67.6 295.2 67.7 295.6 67.6 295.9 67.6 296.3 67.7 296.6 67.7 297 67.6 297.4 67.7 297.7 67.7 298.1 67.7 298.4 67.7 298.8 67.6 299.2 67.6 299.5 67.7 299.9 67.6 300.2 67.6 300.6 67.6 301 67.6 301.3 67.7 301.7 67.6 302 67.7 302.4 67.6 302.8 67.6 303.1 67.6 303.5 67.7 303.8 67.7 304.2 67.7 304.6 67.6 304.9 67.8 305.3 67.7 305.6 67.6 306 67.7 306.4 67.6 306.7 67.6 307.1 67.6 307.4 67.7 307.8 67.6 308.2 67.6 308.5 67.6 308.9 67.6 309.2 67.6 309.6 67.7 310 67.7 310.3 67.6 310.7 67.7 311 67.7 311.4 67.8 311.8 67.6 312.1 67.8 312.5 67.7 312.8 67.7 313.2 67.7 313.6 67.8 313.9 67.7 314.3 67.7 314.6 67.7 315 67.6 315.4 67.6 315.7 67.6 316.1 67.7 316.4 67.6 316.8 67.7 317.2 67.6 317.5 67.6 317.9 67.7 318.2 67.6 318.6 67.6 319 67.7 319.3 67.8 319.7 67.6 320 67.6 320.4 67.7 320.8 67.7 321.1 67.6 321.5 67.6 321.8 67.7 322.2 67.7 322.6 67.7 322.9 67.7 323.3 67.6 323.6 67.7 324 67.7 324.4 67.7 324.7 67.6 325.1 67.7 325.4 67.6 325.8 67.6 326.2 67.6 326.5 67.7 326.9 67.6 327.2 67.7 327.6 67.7 328 67.7 328.3 67.6 328.7 67.7 329 67.6 329.4 67.6 329.8 67.6 330.1 67.7 330.5 67.7 330.8 67.7 331.2 67.6 331.6 67.7 331.9 67.6 332.3 67.6 332.6 67.6 333 67.7 333.4 67.6 333.7 67.6 334.1 67.7 334.4 67.6 334.8 67.7 335.2 67.6 335.5 67.7 335.9 67.6 336.2 67.7 336.6 67.7 337 67.6 337.3 67.7 337.7 67.6 338 67.6 338.4 67.7 338.8 67.7 339.1 67.6 339.5 67.7 339.8 67.7 340.2 67.6 340.6 67.7 340.9 67.6 341.3 67.7 341.6 67.6 342 67.7 342.4 67.6 342.7 67.7 343.1 67.7 343.4 67.7 343.8 67.6 344.2 67.6 344.5 67.7 344.9 67.8 345.2 67.7 345.6 67.6 346 67.7 346.3 67.7 346.7 67.5 347 67.2 347.4 66.8 347.8 66.5 348.1 66.7 348.5 67 348.8 67.4 349.2 67.7 349.6 67.7 349.9 67.7 350.3 67.7 350.6 67.6 351 67.6 351.4 67.6 351.7 67.7 352.1 67.2 352.4 66.3 352.8 65.4 353.2 64.5 353.5 64.6 353.9 65.5 354.2 66.5 354.6 67.4 355 67.6 355.3 67.6 355.7 67.7 356 67.7 356.4 65.2 356.8 58.7 357.1 52.3 357.5 45.9 357.8 39.4 358.2 35.6 358.6 42 358.9 48.4 359.3 54.9 359.6 61.3 360 67.6 360.4 67.6 360.7 67.7 361.1 67.7 361.4 67.6 361.8 67.6 362.2 67.2 362.5 66.5 362.9 65.9 363.2 65.2 363.6 65.6 364 66.3 364.3 67 364.7 67.6 365 67.7 365.4 67.6 365.8 67.7 366.1 67.7 366.5 67.6 366.8 67.7 367.2 67.6 367.6 67.8 367.9 67.7 368.3 67.6 368.6 67.6 369 67.6 369.4 67.6 369.7 67.6 370.1 67.7 370.4 67.6 370.8 67.6 371.2 67.7 371.5 67.6 371.9 67.6 372.2 67.6 372.6 67.7 373 67.6 373.3 67.6 373.7 67.6 374 67.7 374.4 67.7 374.8 67.6 375.1 67.7 375.5 67.7 375.8 67.7 376.2 67.6 376.6 67.6 376.9 67.7 377.3 67.7 377.6 67.6 378 67.7 378.4 67.7 378.7 67.7 379.1 67.7 379.4 67.7 379.8 67.6 380.2 67.6 380.5 67.6 380.9 67.6 381.2 67.7 381.6 67.6 382 67.6 382.3 67.7 382.7 67.7 383 67.7 383.4 67.7 383.8 67.6 384.1 67.7 384.5 67.7 384.8 67.6 385.2 67.6 385.6 67.7 385.9 67.6 386.3 67.7 386.6 67.6 387 67.7 387.4 67.7 387.7 67.7 388.1 67.6 388.4 67.6 388.8 67.6 389.2 67.7 389.5 67.6 389.9 67.7 390.2 67.7 390.6 67.6 391 67.6 391.3 67.6 391.7 67.7 392 67.7 392.4 67.6 392.8 67.6 393.1 67.6 393.5 67.7 393.8 67.6 394.2 67.6 394.6 67.6 394.9 67.7 395.3 67.6 395.6 67.7 396 67.6 396.4 67.6 396.7 67.7 397.1 67.6 397.4 67.7 397.8 67.7 398.2 67.7 398.5 67.8 398.9 67.7 399.2 67.7 399.6 67.7 400 67.8 400.3 67.8 400.7 67.7 401 67.7 401.4 67.7 401.8 67.6 402.1 67.7 402.5 67.8 402.8 67.6 403.2 67.7 403.6 67.7 403.9 67.6 404.3 67.6 404.6 67.7 405 67.7 405.4 67.6 405.7 67.7 406.1 67.7 406.4 67.7 406.8 67.6 407.2 67.6 407.5 67.7 407.9 67.6 408.2 67.6 408.6 67.7 409 67.6 409.3 67.6 409.7 67.7 410 67.6 410.4 67.8 410.8 67.7 411.1 67.7 411.5 67.6 411.8 67.6 412.2 67.6 412.6 67.7 412.9 67.7 413.3 67.6 413.6 67.6 414 67.7 414.4 67.6 414.7 67.5 415.1 67.4 415.4 67.3 415.8 67.2 416.2 67 416.5 67.2 416.9 67.3 417.2 67.4 417.6 67.5 418 67.6 418.3 67.7 418.7 67.7 419 67.6 419.4 67.7 419.8 67.7 420.1 67.7 420.5 67.5 420.8 67.2 421.2 67 421.6 67 421.9 67.2 422.3 67.4 422.6 67.6 423 67.6 423.4 67.7 423.7 67.6 424.1 67.7 424.4 67.6 424.8 67.7 425.2 67.5 425.5 66.3 425.9 65 426.2 63.8 426.6 63 427 64.3 427.3 65.5 427.7 66.8 428 67.6 428.4 67.6 428.8 67.6 429.1 67.6 429.5 67.6 429.8 67.7 430.2 67.7 430.6 66 430.9 61.8 431.3 57.5 431.6 53.2 432 48.9 432.4 53.2 432.7 57.5 433.1 61.8 433.4 66 433.8 67.7 434.2 67.7 434.5 67.7" clip-path="url(#p87be5fdb95)" style="fill: none; stroke: #aaaaaa; stroke-width: 1.1; stroke-linecap: square"/>
   </g>
   <g id="line2d_31">
    <path d="M322.2 68.76 322.2 34.8" clip-path="url(#p87be5fdb95)" style="fill: none; stroke-dasharray: 1.85,0.8; stroke-dashoffset: 0; stroke: #000000; stroke-width: 0.5"/>
   </g>
   <g id="patch_9">
    <path d="M280.87 68.76 435.46 68.76" style="fill: none; stroke: #000000; stroke-width: 0.8; stroke-linejoin: miter; stroke-linecap: square"/>
   </g>
   <g id="text_17">
    <text style="font-weight: 700; font-size: 10px; font-family: 'DejaVu Sans', sans-serif; text-anchor: start" x="266.65" y="30.75" transform="rotate(-0 266.65 30.75)">C</text>
   </g>
   <g id="line2d_32">
    <defs>
     <path id="m87fcf83af1" d="M0 2.6 C 0.69 2.6 1.35 2.33 1.84 1.84 C 2.33 1.35 2.6 0.69 2.6 0 C 2.6 -0.69 2.33 -1.35 1.84 -1.84 C 1.35 -2.33 0.69 -2.6 0 -2.6 C -0.69 -2.6 -1.35 -2.33 -1.84 -1.84 C -2.33 -1.35 -2.6 -0.69 -2.6 0 C -2.6 0.69 -2.33 1.35 -1.84 1.84 C -1.35 2.33 -0.69 2.6 0 2.6z" style="stroke: #000000; stroke-width: 1.1"/>
    </defs>
    <g>
     <use href="#m87fcf83af1" x="358.13" y="38.45" style="fill: #aaaaaa; stroke: #000000; stroke-width: 1.1"/>
    </g>
   </g>
   <g id="line2d_33">
    <defs>
     <path id="mfbf8ac6b47" d="M0 2.8 C 0.74 2.8 1.45 2.5 1.98 1.98 C 2.5 1.45 2.8 0.74 2.8 0 C 2.8 -0.74 2.5 -1.45 1.98 -1.98 C 1.45 -2.5 0.74 -2.8 0 -2.8 C -0.74 -2.8 -1.45 -2.5 -1.98 -1.98 C -2.5 -1.45 -2.8 -0.74 -2.8 0 C -2.8 0.74 -2.5 1.45 -1.98 1.98 C -1.45 2.5 -0.74 2.8 0 2.8z"/>
    </defs>
    <g>
     <use href="#mfbf8ac6b47" x="290.09" y="66.17" style="fill: #006400"/>
    </g>
   </g>
  </g>
  <g id="axes_4">
   <g id="patch_10">
    <path d="M166.54 112.68 257.04 112.68 257.04 78.72 166.54 78.72z" style="fill: #ffffff"/>
   </g>
   <g id="matplotlib.axis_7">
    <g id="xtick_11">
     <g id="line2d_34">
      <g>
       <use href="#m1504cfccaf" x="171" y="112.68" style="stroke: #000000; stroke-width: 0.8"/>
      </g>
     </g>
    </g>
    <g id="xtick_12">
     <g id="line2d_35">
      <g>
       <use href="#m1504cfccaf" x="203.69" y="112.68" style="stroke: #000000; stroke-width: 0.8"/>
      </g>
     </g>
    </g>
    <g id="xtick_13">
     <g id="line2d_36">
      <g>
       <use href="#m1504cfccaf" x="236.38" y="112.68" style="stroke: #000000; stroke-width: 0.8"/>
      </g>
     </g>
    </g>
   </g>
   <g id="matplotlib.axis_8"/>
   <g id="line2d_37">
    <path d="M170 96.8 170.1 96.7 170.2 96.2 170.3 95.4 170.3 94.4 170.4 93.3 170.5 92.1 170.6 91 170.7 90 170.8 89.2 170.8 88.8 170.9 88.8 171 89.1 171.1 89.9 171.2 91 171.2 92.5 171.3 94.3 171.4 96.2 171.5 98.3 171.6 100.3 171.7 102.2 171.7 103.8 171.8 105.2 171.9 106.1 172 106.5 172.1 106.5 172.1 106 172.2 105 172.3 103.6 172.4 101.8 172.5 99.8 172.6 97.6 172.6 95.4 172.7 93.2 172.8 91.2 172.9 89.4 173 88 173 87 173.1 86.4 173.2 86.2 173.3 86.5 173.4 87.1 173.4 88.1 173.5 89.3 173.6 90.6 173.7 91.9 173.8 93.2 173.9 94.3 173.9 95.2 174 95.7 174.1 95.9 174.2 95.8 174.3 95.3 174.3 94.5 174.4 93.4 174.5 92.1 174.6 90.7 174.7 89.3 174.8 88 174.8 86.8 174.9 86 175 85.5 175.1 85.5 175.2 85.9 175.2 86.7 175.3 87.9 175.4 89.6 175.5 91.5 175.6 93.7 175.7 95.9 175.7 98.2 175.8 100.4 175.9 102.3 176 104 176.1 105.2 176.2 106 176.2 106.4 176.3 106.2 176.4 105.6 176.5 104.5 176.6 103 176.6 101.3 176.7 99.5 176.8 97.5 176.9 95.6 177 93.8 177.1 92.2 177.1 91 177.2 90.1 177.3 89.6 177.4 89.5 177.4 89.8 177.5 90.5 177.6 91.3 177.7 92.4 177.8 93.5 177.9 94.7 177.9 95.7 178 96.6 178.1 97.2 178.2 97.4 178.3 97.3 178.3 96.7 178.4 95.9 178.5 94.7 178.6 93.2 178.7 91.5 178.8 89.8 178.8 88 178.9 86.4 179 85 179.1 83.8 179.2 83.1 179.2 82.8 179.3 83 179.4 83.7 179.5 84.8 179.6 86.4 179.7 88.3 179.7 90.4 179.8 92.7 179.9 95.1 180 97.4 180.1 99.5 180.2 101.3 180.2 102.7 180.3 103.8 180.4 104.3 180.5 104.5 180.6 104.1 180.6 103.4 180.7 102.3 180.8 100.9 180.9 99.4 181 97.8 181.1 96.2 181.1 94.8 181.2 93.6 181.3 92.7 181.4 92.2 181.5 92 181.5 92.1 181.6 92.7 181.7 93.5 181.8 94.5 181.9 95.7 181.9 96.9 182 98.1 182.1 99.1 182.2 99.8 182.3 100.3 182.4 100.4 182.4 100.1 182.5 99.3 182.6 98.2 182.7 96.7 182.8 94.9 182.8 92.9 182.9 90.8 183 88.7 183.1 86.8 183.2 85 183.3 83.5 183.3 82.5 183.4 81.8 183.5 81.7 183.6 82.1 183.7 82.9 183.8 84.2 183.8 85.9 183.9 87.8 184 89.9 184.1 92.1 184.2 94.3 184.2 96.3 184.3 98 184.4 99.5 184.5 100.5 184.6 101.2 184.7 101.4 184.7 101.2 184.8 100.6 184.9 99.8 185 98.6 185.1 97.4 185.1 96.1 185.2 94.9 185.3 93.8 185.4 93 185.5 92.5 185.6 92.3 185.6 92.5 185.7 93 185.8 93.9 185.9 95.1 185.9 96.4 186 97.9 186.1 99.4 186.2 100.8 186.3 102 186.4 102.9 186.4 103.5 186.5 103.7 186.6 103.4 186.7 102.6 186.8 101.4 186.8 99.8 186.9 97.9 187 95.8 187.1 93.5 187.2 91.2 187.3 89 187.3 86.9 187.4 85.2 187.5 83.8 187.6 82.8 187.7 82.4 187.8 82.4 187.8 82.9 187.9 83.8 188 85.1 188.1 86.7 188.2 88.5 188.2 90.4 188.3 92.2 188.4 94 188.5 95.5 188.6 96.7 188.7 97.6 188.7 98 188.8 98.2 188.9 97.9 189 97.3 189.1 96.4 189.1 95.4 189.2 94.2 189.3 93.1 189.4 92 189.5 91.2 189.6 90.6 189.6 90.4 189.7 90.5 189.8 91.1 189.9 92 190 93.2 190 94.7 190.1 96.5 190.2 98.3 190.3 100.2 190.4 101.9 190.4 103.4 190.5 104.7 190.6 105.5 190.7 106 190.8 105.9 190.9 105.3 190.9 104.3 191 102.9 191.1 101.1 191.2 99 191.3 96.7 191.3 94.4 191.4 92.1 191.5 90 191.6 88.1 191.7 86.6 191.8 85.5 191.8 84.8 191.9 84.6 192 84.8 192.1 85.4 192.2 86.4 192.2 87.7 192.3 89.1 192.4 90.6 192.5 92.1 192.6 93.5 192.7 94.6 192.7 95.5 192.8 96 192.9 96.1 193 95.9 193.1 95.4 193.2 94.5 193.2 93.5 193.3 92.2 193.4 91 193.5 89.8 193.6 88.7 193.6 87.8 193.7 87.3 193.8 87.2 193.9 87.5 194 88.2 194.1 89.3 194.1 90.8 194.2 92.6 194.3 94.6 194.4 96.7 194.4 98.9 194.5 101 194.6 102.9 194.7 104.5 194.8 105.7 194.9 106.4 194.9 106.7 195 106.5 195.1 105.8 195.2 104.7 195.3 103.1 195.3 101.3 195.4 99.3 195.5 97.1 195.6 95 195.7 93 195.8 91.3 195.8 89.8 195.9 88.8 196 88.1 196.1 87.8 196.2 87.9 196.2 88.5 196.3 89.3 196.4 90.3 196.5 91.5 196.6 92.7 196.7 93.9 196.7 94.9 196.8 95.7 196.9 96.2 197 96.3 197.1 96.1 197.2 95.5 197.2 94.6 197.3 93.4 197.4 92 197.5 90.4 197.6 88.9 197.6 87.4 197.7 86.1 197.8 85 197.9 84.3 198 84.1 198.1 84.3 198.1 84.9 198.2 86 198.3 87.5 198.4 89.4 198.5 91.5 198.5 93.8 198.6 96.2 198.7 98.5 198.8 100.6 198.9 102.4 198.9 103.9 199 105 199.1 105.5 199.2 105.7 199.3 105.3 199.4 104.5 199.4 103.3 199.5 101.8 199.6 100.2 199.7 98.4 199.8 96.6 199.8 94.9 199.9 93.5 200 92.3 200.1 91.4 200.2 91 200.3 90.9 200.3 91.2 200.4 91.8 200.5 92.6 200.6 93.7 200.7 94.8 200.8 96 200.8 97 200.9 97.9 201 98.4 201.1 98.7 201.2 98.5 201.2 98 201.3 97.1 201.4 95.8 201.5 94.3 201.6 92.5 201.7 90.6 201.7 88.6 201.8 86.8 201.9 85.1 202 83.8 202.1 82.8 202.1 82.2 202.2 82.1 202.3 82.5 202.4 83.4 202.5 84.7 202.5 86.5 202.6 88.5 202.7 90.7 202.8 93 202.9 95.2 202.9 97.4 203 99.3 203.1 100.8 203.2 102 203.3 102.8 203.4 103.1 203.4 103 203.5 102.4 203.6 101.6 203.7 100.4 203.8 99 203.8 97.6 203.9 96.2 204 94.9 204.1 93.8 204.2 93 204.3 92.5 204.3 92.4 204.4 92.7 204.5 93.3 204.6 94.2 204.7 95.3 204.8 96.5 204.8 97.9 204.9 99.2 205 100.3 205.1 101.2 205.2 101.8 205.2 102 205.3 101.8 205.4 101.1 205.5 100 205.6 98.6 205.7 96.8 205.7 94.8 205.8 92.6 205.9 90.3 206 88.2 206.1 86.2 206.1 84.5 206.2 83.1 206.3 82.2 206.4 81.8 206.5 81.9 206.6 82.4 206.6 83.4 206.7 84.8 206.8 86.5 206.9 88.5 207 90.5 207 92.6 207.1 94.5 207.2 96.2 207.3 97.7 207.4 98.8 207.4 99.5 207.5 99.8 207.6 99.7 207.7 99.2 207.8 98.5 207.9 97.5 207.9 96.3 208 95.1 208.1 94 208.2 93 208.3 92.2 208.3 91.8 208.4 91.7 208.5 91.9 208.6 92.5 208.7 93.5 208.8 94.8 208.8 96.3 208.9 97.9 209 99.5 209.1 101.1 209.2 102.5 209.2 103.7 209.3 104.5 209.4 104.9 209.5 104.8 209.6 104.3 209.7 103.2 209.7 101.8 209.8 100 209.9 97.9 210 95.7 210.1 93.3 210.2 91 210.2 88.8 210.3 86.9 210.4 85.3 210.5 84.2 210.6 83.4 210.6 83.2 210.7 83.4 210.8 84.1 210.9 85.2 211 86.5 211 88.1 211.1 89.8 211.2 91.5 211.3 93.1 211.4 94.5 211.4 95.6 211.5 96.4 211.6 96.9 211.7 97 211.8 96.7 211.9 96.1 211.9 95.2 212 94.1 212.1 93 212.2 91.8 212.3 90.7 212.3 89.8 212.4 89.2 212.5 89 212.6 89.1 212.7 89.6 212.8 90.5 212.8 91.8 212.9 93.4 213 95.3 213.1 97.2 213.2 99.3 213.2 101.2 213.3 103 213.4 104.5 213.5 105.6 213.6 106.3 213.7 106.5 213.7 106.3 213.8 105.5 213.9 104.3 214 102.7 214.1 100.8 214.2 98.7 214.2 96.4 214.3 94.2 214.4 92 214.5 90.1 214.6 88.5 214.6 87.3 214.7 86.4 214.8 86 214.9 86.1 215 86.5 215.1 87.3 215.1 88.4 215.2 89.7 215.3 91 215.4 92.4 215.5 93.6 215.5 94.6 215.6 95.4 215.7 95.8 215.8 95.9 215.9 95.6 215.9 95 216 94.1 216.1 92.9 216.2 91.6 216.3 90.2 216.4 88.8 216.4 87.6 216.5 86.6 216.6 85.9 216.7 85.7 216.8 85.8 216.8 86.4 216.9 87.4 217 88.8 217.1 90.6 217.2 92.6 217.3 94.9 217.3 97.1 217.4 99.4 217.5 101.4 217.6 103.3 217.7 104.7 217.8 105.8 217.8 106.3 217.9 106.4 218 106 218.1 105.1 218.2 103.9 218.2 102.3 218.3 100.5 218.4 98.5 218.5 96.5 218.6 94.6 218.6 92.9 218.7 91.5 218.8 90.4 218.9 89.7 219 89.3 219.1 89.4 219.1 89.9 219.2 90.6 219.3 91.6 219.4 92.7 219.5 93.9 219.5 95 219.6 96 219.7 96.7 219.8 97.1 219.9 97.2 219.9 96.9 220 96.3 220.1 95.3 220.2 94 220.3 92.4 220.4 90.7 220.4 89 220.5 87.3 220.6 85.8 220.7 84.5 220.8 83.6 220.8 83 220.9 83 221 83.4 221.1 84.3 221.2 85.7 221.3 87.4 221.3 89.4 221.4 91.7 221.5 94 221.6 96.3 221.7 98.5 221.8 100.5 221.8 102.2 221.9 103.4 222 104.3 222.1 104.6 222.2 104.5 222.2 104 222.3 103 222.4 101.8 222.5 100.3 222.6 98.7 222.7 97.1 222.7 95.6 222.8 94.2 222.9 93.1 223 92.4 223.1 91.9 223.1 91.9 223.2 92.2 223.3 92.8 223.4 93.7 223.5 94.8 223.6 96 223.6 97.2 223.7 98.3 223.8 99.2 223.9 99.9 224 100.2 224 100.1 224.1 99.6 224.2 98.7 224.3 97.4 224.4 95.8 224.4 93.9 224.5 91.9 224.6 89.8 224.7 87.7 224.8 85.8 224.9 84.2 224.9 83 225 82.1 225.1 81.7 225.2 81.8 225.3 82.5 225.3 83.5 225.4 85 225.5 86.8 225.6 88.9 225.7 91 225.8 93.2 225.8 95.4 225.9 97.3 226 98.9 226.1 100.2 226.2 101.1 226.2 101.5 226.3 101.6 226.4 101.2 226.5 100.5 226.6 99.5 226.7 98.3 226.7 97 226.8 95.7 226.9 94.5 227 93.5 227.1 92.8 227.1 92.4 227.2 92.4 227.3 92.7 227.4 93.4 227.5 94.4 227.6 95.6 227.6 97 227.7 98.5 227.8 99.9 227.9 101.2 228 102.3 228 103 228.1 103.4 228.2 103.4 228.3 102.9 228.4 101.9 228.4 100.5 228.5 98.8 228.6 96.8 228.7 94.6 228.8 92.3 228.9 90 228.9 87.8 229 85.9 229.1 84.3 229.2 83.2 229.3 82.5 229.3 82.2 229.4 82.5 229.5 83.2 229.6 84.3 229.7 85.8 229.8 87.5 229.8 89.4 229.9 91.3 230 93.1 230.1 94.8 230.2 96.2 230.2 97.3 230.3 98 230.4 98.3 230.5 98.3 230.6 97.8 230.7 97.1 230.7 96.2 230.8 95.1 230.9 93.9 231 92.8 231.1 91.8 231.2 91.1 231.2 90.7 231.3 90.6 231.4 90.9 231.5 91.6 231.6 92.6 231.6 94 231.7 95.6 231.8 97.3 231.9 99.2 232 101 232.1 102.6 232.1 104 232.2 105 232.3 105.7 232.4 105.9 232.5 105.6 232.5 104.8 232.6 103.6 232.7 101.9 232.8 100 232.9 97.8 232.9 95.5 233 93.1 233.1 90.9 233.2 88.9 233.3 87.2 233.4 85.8 233.4 84.9 233.5 84.5 233.6 84.5 233.7 84.9 233.8 85.7 233.8 86.8 233.9 88.2 234 89.7 234.1 91.2 234.2 92.7 234.2 94 234.3 95 234.4 95.8 234.5 96.2 234.6 96.2 234.7 95.8 234.7 95.2 234.8 94.2 234.9 93.1 235 91.8 235.1 90.6 235.2 89.5 235.2 88.5 235.3 87.8 235.4 87.4 235.5 87.5 235.6 88 235.6 88.8 235.7 90.1 235.8 91.7 235.9 93.6 236 95.7 236.1 97.9 236.1 100 236.2 102 236.3 103.7 236.4 105.1 236.5 106.1 236.5 106.6 236.6 106.7 236.7 106.2 236.8 105.3 236.9 103.9 236.9 102.2 237 100.3 237.1 98.2 237.2 96 237.3 94 237.4 92 237.4 90.4 237.5 89.1 237.6 88.2 237.7 87.7 237.8 87.6 237.8 87.9 237.9 88.6 238 89.5 238.1 90.6 238.2 91.9 238.3 93.1 238.3 94.2 238.4 95.2 238.5 95.9 238.6 96.2 238.7 96.2 238.8 95.8 238.8 95.1 238.9 94.1 239 92.8 239.1 91.3 239.2 89.8 239.2 88.3 239.3 86.9 239.4 85.7 239.5 84.8 239.6 84.3 239.7 84.3 239.7 84.7 239.8 85.6 239.9 86.9 240 88.5 240.1 90.5 240.1 92.8 240.2 95.1 240.3 97.4 240.4 99.6 240.5 101.6 240.6 103.3 240.6 104.6 240.7 105.4 240.8 105.8 240.9 105.7 241 105.1 241 104.1 241.1 102.7 241.2 101.1 241.3 99.4 241.4 97.5 241.4 95.8 241.5 94.2 241.6 92.8 241.7 91.7 241.8 91 241.9 90.7 241.9 90.8 242 91.2 242.1 91.9 242.2 92.9 242.3 94 242.3 95.1 242.4 96.2 242.5 97.2 242.6 98 242.7 98.4 242.8 98.5 242.8 98.2 242.9 97.5 243 96.4 243.1 95 243.2 93.4 243.2 91.5 243.3 89.6 243.4 87.7 243.5 86 243.6 84.5 243.7 83.3 243.7 82.5 243.8 82.2 243.9 82.3 244 83 244.1 84.1 244.1 85.6 244.2 87.5 244.3 89.6 244.4 91.9 244.5 94.2 244.6 96.4 244.6 98.5 244.7 100.2 244.8 101.7 244.9 102.7 245 103.2 245 103.3 245.1 103 245.2 102.2 245.3 101.2 245.4 100 245.4 98.5 245.5 97.1 245.6 95.7 245.7 94.5 245.8 93.5 245.9 92.8 245.9 92.4 246 92.5 246.1 92.8 246.2 93.5 246.3 94.5 246.3 95.7 246.4 97 246.5 98.3 246.6 99.5 246.7 100.5 246.8 101.3 246.8 101.7 246.9 101.7 247 101.3 247.1 100.5 247.2 99.2 247.2 97.6 247.3 95.7 247.4 93.6 247.5 91.4 247.6 89.2 247.7 87.1 247.7 85.3 247.8 83.7 247.9 82.6 248 81.9 248.1 81.7 248.2 82 248.2 82.8 248.3 84 248.4 85.6 248.5 87.5 248.6 89.5 248.6 91.6 248.7 93.6 248.8 95.5 248.9 97.1 249 98.4 249.1 99.4 249.1 99.9 249.2 100 249.3 99.8 249.4 99.2 249.5 98.3 249.5 97.2 249.6 96 249.7 94.8 249.8 93.7 249.9 92.8 249.9 92.1 250 91.8 250.1 91.8 250.2 92.2 250.3 93 250.3 94.1 250.4 95.4 250.5 97 250.6 98.6 250.7 100.2 250.8 101.7 250.8 103 250.9 104 251 104.6 251.1 104.8 251.2 104.5 251.2 103.7 251.3 102.5 251.4 100.8 251.5 98.9 251.6 96.7 251.7 94.4 251.7 92 251.8 89.8 251.9 87.7 252 86 252.1 84.6 252.2 83.6 252.2 83.1 252.3 83.1 252.4 83.6 252.5 84.4 252.6 85.7 252.6 87.2" clip-path="url(#p42d4b5cf04)" style="fill: none; stroke: #cccccc; stroke-width: 0.75; stroke-linecap: square"/>
   </g>
   <g id="line2d_38">
    <g clip-path="url(#p42d4b5cf04)">
     <use href="#mc523a5838a" x="171" y="109.03"/>
     <use href="#mc523a5838a" x="173.08" y="109.03"/>
     <use href="#mc523a5838a" x="175.16" y="109.03"/>
     <use href="#mc523a5838a" x="177.24" y="109.03"/>
     <use href="#mc523a5838a" x="181.41" y="109.03"/>
     <use href="#mc523a5838a" x="185.57" y="109.03"/>
     <use href="#mc523a5838a" x="189.74" y="109.03"/>
     <use href="#mc523a5838a" x="193.9" y="109.03"/>
     <use href="#mc523a5838a" x="195.98" y="109.03"/>
     <use href="#mc523a5838a" x="200.15" y="109.03"/>
     <use href="#mc523a5838a" x="204.31" y="109.03"/>
     <use href="#mc523a5838a" x="208.48" y="109.03"/>
     <use href="#mc523a5838a" x="212.64" y="109.03"/>
     <use href="#mc523a5838a" x="214.72" y="109.03"/>
     <use href="#mc523a5838a" x="216.81" y="109.03"/>
     <use href="#mc523a5838a" x="218.89" y="109.03"/>
     <use href="#mc523a5838a" x="223.05" y="109.03"/>
     <use href="#mc523a5838a" x="227.22" y="109.03"/>
     <use href="#mc523a5838a" x="231.38" y="109.03"/>
     <use href="#mc523a5838a" x="235.55" y="109.03"/>
     <use href="#mc523a5838a" x="237.63" y="109.03"/>
     <use href="#mc523a5838a" x="239.71" y="109.03"/>
     <use href="#mc523a5838a" x="241.79" y="109.03"/>
     <use href="#mc523a5838a" x="245.96" y="109.03"/>
    </g>
   </g>
   <g id="patch_11">
    <path d="M166.54 112.68 257.04 112.68" style="fill: none; stroke: #000000; stroke-width: 0.8; stroke-linejoin: miter; stroke-linecap: square"/>
   </g>
   <g id="line2d_39">
    <path d="M170.02 88.77 170.9 88.77 173.18 86.23 175.07 85.45 177.34 89.53 179.26 82.83 181.47 91.97 183.49 81.69 185.54 92.31 187.72 82.33 189.64 90.39 191.92 84.58 193.77 87.2 196.11 87.8 197.97 84.08 200.25 90.87 202.2 82.09 204.31 92.44 206.43 81.77 208.41 91.66 210.63 83.21 212.54 88.97 214.82 86.02 216.71 85.66 218.99 89.33 220.91 82.96 223.12 91.86 225.14 81.72 227.19 92.37 229.33 82.24 231.28 90.57 233.56 84.39 235.42 87.42 237.76 87.58 239.61 84.25 241.89 90.7 243.84 82.17 245.99 92.4 248.04 81.74 250.06 91.78 252.27 83.07" clip-path="url(#p42d4b5cf04)" style="fill: none; stroke: #32cd32; stroke-width: 1.1; stroke-linecap: square"/>
   </g>
  </g>
  <g id="axes_5">
   <g id="patch_12">
    <path d="M280.87 112.68 435.46 112.68 435.46 78.72 280.87 78.72z" style="fill: #ffffff"/>
   </g>
   <g id="matplotlib.axis_9">
    <g id="xtick_14">
     <g id="line2d_40">
      <g>
       <use href="#m1504cfccaf" x="285.48" y="112.68" style="stroke: #000000; stroke-width: 0.8"/>
      </g>
     </g>
    </g>
    <g id="xtick_15">
     <g id="line2d_41">
      <g>
       <use href="#m1504cfccaf" x="332.28" y="112.68" style="stroke: #000000; stroke-width: 0.8"/>
      </g>
     </g>
    </g>
    <g id="xtick_16">
     <g id="line2d_42">
      <g>
       <use href="#m1504cfccaf" x="379.08" y="112.68" style="stroke: #000000; stroke-width: 0.8"/>
      </g>
     </g>
    </g>
    <g id="xtick_17">
     <g id="line2d_43">
      <g>
       <use href="#m1504cfccaf" x="425.88" y="112.68" style="stroke: #000000; stroke-width: 0.8"/>
      </g>
     </g>
    </g>
   </g>
   <g id="matplotlib.axis_10"/>
   <g id="line2d_44">
    <path d="M281.5 111.7 281.9 111.5 282.2 111.5 282.6 111.7 283 111.5 283.3 111.5 283.7 111.5 284 111.5 284.4 111.5 284.8 111.5 285.1 111.5 285.5 111.5 285.8 111.6 286.2 111.6 286.6 111.5 286.9 111.6 287.3 111.7 287.6 111.5 288 111.5 288.4 111.6 288.7 111.6 289.1 111.6 289.4 111.7 289.8 111.6 290.2 111.6 290.5 111.4 290.9 111.2 291.2 111.1 291.6 111.1 292 111.3 292.3 111.5 292.7 111.6 293 111.6 293.4 111.5 293.8 111.5 294.1 111.5 294.5 111.6 294.8 111.5 295.2 111.6 295.6 111.5 295.9 111.5 296.3 111.5 296.6 111.6 297 111.6 297.4 111.6 297.7 111.6 298.1 111.6 298.4 111.5 298.8 111.6 299.2 111.6 299.5 111.7 299.9 111.6 300.2 111.5 300.6 111.5 301 111.6 301.3 111.6 301.7 111.6 302 111.5 302.4 111.7 302.8 111.7 303.1 111.5 303.5 111.6 303.8 111.6 304.2 111.6 304.6 111.6 304.9 111.7 305.3 111.6 305.6 111.7 306 111.6 306.4 111.5 306.7 111.5 307.1 111.5 307.4 111.7 307.8 111.6 308.2 111.5 308.5 111.5 308.9 111.5 309.2 111.6 309.6 111.6 310 111.6 310.3 111.6 310.7 111.5 311 111.5 311.4 111.5 311.8 111.6 312.1 111.5 312.5 111.6 312.8 111.5 313.2 111.6 313.6 111.5 313.9 111.6 314.3 111.7 314.6 111.6 315 111.6 315.4 111.5 315.7 111.6 316.1 111.7 316.4 111.6 316.8 111.6 317.2 111.6 317.5 111.5 317.9 111.6 318.2 111.5 318.6 111.6 319 111.6 319.3 111.5 319.7 111.5 320 111.5 320.4 111.5 320.8 111.6 321.1 111.7 321.5 111.5 321.8 111.6 322.2 111.5 322.6 111.6 322.9 111.5 323.3 111.6 323.6 110.3 324 108.1 324.4 105.8 324.7 103.6 325.1 104 325.4 106.3 325.8 108.5 326.2 110.8 326.5 111.6 326.9 111.6 327.2 111.5 327.6 111.7 328 111.6 328.3 111.5 328.7 111.6 329 111.7 329.4 111.5 329.8 111.7 330.1 111.6 330.5 111.5 330.8 111.7 331.2 111.6 331.6 111.6 331.9 111.7 332.3 111.6 332.6 111.6 333 111.5 333.4 111.6 333.7 111.7 334.1 111.6 334.4 111.6 334.8 111.6 335.2 111.7 335.5 111.5 335.9 111.5 336.2 111.7 336.6 111.5 337 111.5 337.3 111.6 337.7 111.7 338 111.5 338.4 111.5 338.8 111.6 339.1 111.6 339.5 111.5 339.8 111.6 340.2 111.5 340.6 111.6 340.9 111.6 341.3 111.5 341.6 111.5 342 111.5 342.4 111.6 342.7 111.6 343.1 111.5 343.4 111.6 343.8 111.5 344.2 111.6 344.5 111.7 344.9 111.6 345.2 111.6 345.6 111.6 346 111.7 346.3 111.6 346.7 111.5 347 111.2 347.4 111 347.8 110.8 348.1 111 348.5 111.2 348.8 111.5 349.2 111.6 349.6 111.6 349.9 110.9 350.3 109.9 350.6 109 351 108 351.4 108.6 351.7 109.5 352.1 110.5 352.4 111.5 352.8 111.6 353.2 111.5 353.5 111.7 353.9 111.5 354.2 111.6 354.6 111.7 355 111.5 355.3 111.6 355.7 111.6 356 111.7 356.4 111.5 356.8 108.1 357.1 104.5 357.5 100.9 357.8 97.3 358.2 95.1 358.6 98.7 358.9 102.3 359.3 105.9 359.6 109.5 360 111.6 360.4 111.6 360.7 111.5 361.1 111.6 361.4 111.6 361.8 111.7 362.2 111.6 362.5 111.6 362.9 111.5 363.2 111.7 363.6 111.6 364 111.5 364.3 111.2 364.7 110.4 365 109.6 365.4 108.8 365.8 109 366.1 109.8 366.5 110.6 366.8 111.4 367.2 111.6 367.6 111.5 367.9 111.5 368.3 111.7 368.6 111.6 369 111.6 369.4 111.6 369.7 111.6 370.1 111.6 370.4 111.7 370.8 111.5 371.2 111.6 371.5 111.6 371.9 111.6 372.2 111.5 372.6 111.5 373 111.6 373.3 111.6 373.7 111.6 374 111.5 374.4 111.5 374.8 111.6 375.1 111.6 375.5 111.5 375.8 111.6 376.2 111.6 376.6 111.6 376.9 111.5 377.3 111.7 377.6 111.6 378 111.6 378.4 111.6 378.7 111.6 379.1 111.6 379.4 111.7 379.8 111.5 380.2 111.6 380.5 111.6 380.9 111.6 381.2 111.6 381.6 111.5 382 111.7 382.3 111.7 382.7 111.5 383 111.7 383.4 111.6 383.8 111.6 384.1 111.6 384.5 111.6 384.8 111.5 385.2 111.5 385.6 111.5 385.9 111.6 386.3 111.5 386.6 111.5 387 111.5 387.4 111.5 387.7 111.7 388.1 111.6 388.4 111.6 388.8 111.5 389.2 111.6 389.5 111.5 389.9 111.5 390.2 110.9 390.6 110.3 391 109.7 391.3 109.3 391.7 109.9 392 110.5 392.4 111.2 392.8 111.5 393.1 111.6 393.5 111.6 393.8 111.6 394.2 111.6 394.6 111.5 394.9 111.5 395.3 111.5 395.6 111.6 396 111.6 396.4 111.6 396.7 111.6 397.1 110.1 397.4 108.2 397.8 106.3 398.2 104.3 398.5 105.5 398.9 107.4 399.2 109.4 399.6 111.3 400 111.6 400.3 111.6 400.7 111.5 401 111.6 401.4 111.7 401.8 111.6 402.1 111.5 402.5 111.6 402.8 111.6 403.2 111.6 403.6 111.6 403.9 111.5 404.3 111.6 404.6 111.5 405 111.5 405.4 111.6 405.7 111.6 406.1 111.5 406.4 111.5 406.8 111.4 407.2 111.2 407.5 111.1 407.9 111 408.2 110.8 408.6 111 409 111.1 409.3 111.2 409.7 111.4 410 111.5 410.4 111.6 410.8 111.5 411.1 111.7 411.5 111.5 411.8 111.6 412.2 111.6 412.6 111.5 412.9 111.5 413.3 111.6 413.6 111.6 414 111.6 414.4 111.6 414.7 111.5 415.1 111.6 415.4 111.7 415.8 111.6 416.2 111.5 416.5 111.1 416.9 110.7 417.2 110.2 417.6 110 418 110.4 418.3 110.9 418.7 111.3 419 111.5 419.4 111.5 419.8 111.6 420.1 111.6 420.5 111.7 420.8 111.5 421.2 111.6 421.6 111.5 421.9 111.5 422.3 111.6 422.6 111.5 423 111.5 423.4 111.6 423.7 109.9 424.1 108.2 424.4 106.5 424.8 104.8 425.2 106.5 425.5 108.2 425.9 109.9 426.2 111.6 426.6 111.5 427 111.5 427.3 111.5 427.7 111.6 428 111.6 428.4 111.5 428.8 111.5 429.1 111.6 429.5 111.6 429.8 111.6 430.2 111.6 430.6 111.6 430.9 111.2 431.3 110.7 431.6 110.2 432 109.7 432.4 110.2 432.7 110.7 433.1 111.2 433.4 111.5 433.8 111.5 434.2 111.6 434.5 111.6" clip-path="url(#p72076c1b64)" style="fill: none; stroke: #aaaaaa; stroke-width: 1.1; stroke-linecap: square"/>
   </g>
   <g id="line2d_45">
    <path d="M322.2 112.68 322.2 78.72" clip-path="url(#p72076c1b64)" style="fill: none; stroke-dasharray: 1.85,0.8; stroke-dashoffset: 0; stroke: #000000; stroke-width: 0.5"/>
   </g>
   <g id="patch_13">
    <path d="M280.87 112.68 435.46 112.68" style="fill: none; stroke: #000000; stroke-width: 0.8; stroke-linejoin: miter; stroke-linecap: square"/>
   </g>
   <g id="line2d_46">
    <g>
     <use href="#m87fcf83af1" x="358.13" y="96.7" style="fill: #aaaaaa; stroke: #000000; stroke-width: 1.1"/>
    </g>
   </g>
   <g id="line2d_47">
    <defs>
     <path id="mb9d067981e" d="M0 2.8 C 0.74 2.8 1.45 2.5 1.98 1.98 C 2.5 1.45 2.8 0.74 2.8 0 C 2.8 -0.74 2.5 -1.45 1.98 -1.98 C 1.45 -2.5 0.74 -2.8 0 -2.8 C -0.74 -2.8 -1.45 -2.5 -1.98 -1.98 C -2.5 -1.45 -2.8 -0.74 -2.8 0 C -2.8 0.74 -2.5 1.45 -1.98 1.98 C -1.45 2.5 -0.74 2.8 0 2.8z"/>
    </defs>
    <g>
     <use href="#mb9d067981e" x="317.66" y="108.29" style="fill: #32cd32"/>
    </g>
   </g>
  </g>
  <g id="axes_6">
   <g id="patch_14">
    <path d="M166.54 157.32 257.04 157.32 257.04 123.36 166.54 123.36z" style="fill: #ffffff"/>
   </g>
   <g id="matplotlib.axis_11">
    <g id="xtick_18">
     <g id="line2d_48">
      <g>
       <use href="#m1504cfccaf" x="171" y="157.32" style="stroke: #000000; stroke-width: 0.8"/>
      </g>
     </g>
    </g>
    <g id="xtick_19">
     <g id="line2d_49">
      <g>
       <use href="#m1504cfccaf" x="203.69" y="157.32" style="stroke: #000000; stroke-width: 0.8"/>
      </g>
     </g>
    </g>
    <g id="xtick_20">
     <g id="line2d_50">
      <g>
       <use href="#m1504cfccaf" x="236.38" y="157.32" style="stroke: #000000; stroke-width: 0.8"/>
      </g>
     </g>
    </g>
   </g>
   <g id="matplotlib.axis_12"/>
   <g id="line2d_51">
    <path d="M170 150.7 170.1 149.4 170.2 147.5 170.3 144.9 170.3 142 170.4 138.9 170.5 135.8 170.6 132.9 170.7 130.4 170.8 128.4 170.8 127.2 170.9 126.7 171 126.9 171.1 128 171.2 129.7 171.2 132 171.3 134.8 171.4 137.7 171.5 140.8 171.6 143.7 171.7 146.3 171.7 148.3 171.8 149.8 171.9 150.5 172 150.5 172.1 149.8 172.1 148.3 172.2 146.2 172.3 143.7 172.4 140.9 172.5 138 172.6 135.1 172.6 132.5 172.7 130.4 172.8 128.8 172.9 127.8 173 127.6 173 128.1 173.1 129.3 173.2 131.1 173.3 133.4 173.4 136 173.4 138.7 173.5 141.4 173.6 144 173.7 146.2 173.8 147.8 173.9 148.9 173.9 149.3 174 149.1 174.1 148.2 174.2 146.7 174.3 144.7 174.3 142.4 174.4 139.9 174.5 137.3 174.6 134.9 174.7 132.8 174.8 131 174.8 129.8 174.9 129.2 175 129.3 175.1 129.9 175.2 131.1 175.2 132.7 175.3 134.8 175.4 137 175.5 139.3 175.6 141.6 175.7 143.6 175.7 145.3 175.8 146.6 175.9 147.3 176 147.5 176.1 147.2 176.2 146.3 176.2 144.9 176.3 143.2 176.4 141.3 176.5 139.2 176.6 137.2 176.6 135.3 176.7 133.7 176.8 132.4 176.9 131.6 177 131.2 177.1 131.4 177.1 132 177.2 133 177.3 134.4 177.4 136 177.4 137.7 177.5 139.5 177.6 141.2 177.7 142.7 177.8 143.9 177.9 144.7 177.9 145.2 178 145.2 178.1 144.9 178.2 144.2 178.3 143.2 178.3 141.9 178.4 140.5 178.5 139 178.6 137.6 178.7 136.3 178.8 135.2 178.8 134.4 178.9 133.9 179 133.7 179.1 133.8 179.2 134.2 179.2 134.9 179.3 135.8 179.4 136.8 179.5 137.9 179.6 139.1 179.7 140.1 179.7 141.1 179.8 141.8 179.9 142.3 180 142.7 180.1 142.7 180.2 142.6 180.2 142.2 180.3 141.7 180.4 141 180.5 140.2 180.6 139.4 180.6 138.7 180.7 138 180.8 137.3 180.9 136.8 181 136.5 181.1 136.3 181.1 136.2 181.2 136.3 181.3 136.5 181.4 136.8 181.5 137.2 181.5 137.6 181.6 138 181.7 138.5 181.8 138.9 181.9 139.3 181.9 139.7 182 140 182.1 140.2 182.2 140.4 182.3 140.5 182.4 140.6 182.4 140.6 182.5 140.5 182.6 140.4 182.7 140.3 182.8 140.1 182.8 139.8 182.9 139.5 183 139.2 183.1 138.8 183.2 138.4 183.3 138.1 183.3 137.7 183.4 137.3 183.5 136.9 183.6 136.7 183.7 136.5 183.8 136.4 183.8 136.5 183.9 136.6 184 136.9 184.1 137.4 184.2 137.9 184.2 138.6 184.3 139.3 184.4 140 184.5 140.7 184.6 141.4 184.7 141.9 184.7 142.3 184.8 142.5 184.9 142.5 185 142.2 185.1 141.8 185.1 141.1 185.2 140.3 185.3 139.3 185.4 138.2 185.5 137.2 185.6 136.2 185.6 135.3 185.7 134.6 185.8 134.1 185.9 133.9 185.9 134 186 134.4 186.1 135.1 186.2 136.1 186.3 137.3 186.4 138.6 186.4 140.1 186.5 141.4 186.6 142.7 186.7 143.8 186.8 144.5 186.8 145 186.9 145 187 144.7 187.1 144 187.2 142.9 187.3 141.6 187.3 140 187.4 138.3 187.5 136.6 187.6 134.9 187.7 133.5 187.8 132.4 187.8 131.7 187.9 131.4 188 131.6 188.1 132.3 188.2 133.4 188.2 134.9 188.3 136.6 188.4 138.6 188.5 140.6 188.6 142.6 188.7 144.3 188.7 145.7 188.8 146.8 188.9 147.3 189 147.3 189.1 146.7 189.1 145.7 189.2 144.1 189.3 142.2 189.4 140 189.5 137.8 189.6 135.5 189.6 133.4 189.7 131.7 189.8 130.3 189.9 129.6 190 129.3 190 129.7 190.1 130.7 190.2 132.3 190.3 134.3 190.4 136.6 190.4 139.1 190.5 141.6 190.6 143.9 190.7 146 190.8 147.7 190.9 148.8 190.9 149.2 191 149 191.1 148.1 191.2 146.7 191.3 144.6 191.3 142.2 191.4 139.6 191.5 136.8 191.6 134.2 191.7 131.8 191.8 129.9 191.8 128.5 191.9 127.8 192 127.8 192.1 128.5 192.2 129.9 192.2 131.8 192.3 134.3 192.4 137 192.5 139.9 192.6 142.8 192.7 145.4 192.7 147.6 192.8 149.3 192.9 150.3 193 150.5 193.1 150 193.2 148.8 193.2 146.9 193.3 144.5 193.4 141.7 193.5 138.7 193.6 135.7 193.6 132.9 193.7 130.4 193.8 128.5 193.9 127.2 194 126.7 194.1 127 194.1 128 194.2 129.7 194.3 132.1 194.4 134.8 194.4 137.9 194.5 141 194.6 144 194.7 146.7 194.8 148.8 194.9 150.4 194.9 151.2 195 151.2 195.1 150.3 195.2 148.8 195.3 146.6 195.3 143.9 195.4 140.8 195.5 137.7 195.6 134.6 195.7 131.8 195.8 129.4 195.8 127.6 195.9 126.6 196 126.3 196.1 126.9 196.2 128.2 196.2 130.2 196.3 132.8 196.4 135.8 196.5 138.9 196.6 142.1 196.7 145 196.7 147.6 196.8 149.5 196.9 150.8 197 151.3 197.1 151 197.2 149.9 197.2 148.1 197.3 145.7 197.4 142.9 197.5 139.8 197.6 136.6 197.6 133.7 197.7 131 197.8 128.9 197.9 127.4 198 126.7 198.1 126.7 198.1 127.5 198.2 129.1 198.3 131.3 198.4 133.9 198.5 136.9 198.5 140 198.6 142.9 198.7 145.6 198.8 147.9 198.9 149.5 198.9 150.5 199 150.7 199.1 150.1 199.2 148.8 199.3 146.9 199.4 144.5 199.4 141.7 199.5 138.8 199.6 135.8 199.7 133.2 199.8 130.8 199.8 129.1 199.9 127.9 200 127.5 200.1 127.8 200.2 128.8 200.3 130.5 200.3 132.6 200.4 135.2 200.5 137.9 200.6 140.7 200.7 143.3 200.8 145.7 200.8 147.5 200.9 148.8 201 149.4 201.1 149.4 201.2 148.6 201.2 147.3 201.3 145.4 201.4 143.1 201.5 140.6 201.6 138 201.7 135.5 201.7 133.2 201.8 131.3 201.9 130 202 129.2 202.1 129 202.1 129.5 202.2 130.6 202.3 132.1 202.4 134.1 202.5 136.3 202.5 138.7 202.6 141.1 202.7 143.2 202.8 145 202.9 146.4 202.9 147.3 203 147.7 203.1 147.5 203.2 146.7 203.3 145.4 203.4 143.8 203.4 141.9 203.5 139.8 203.6 137.7 203.7 135.7 203.8 134 203.8 132.6 203.9 131.6 204 131.1 204.1 131.1 204.2 131.6 204.3 132.6 204.3 133.9 204.4 135.5 204.5 137.2 204.6 139.1 204.7 140.8 204.8 142.4 204.8 143.7 204.9 144.7 205 145.3 205.1 145.5 205.2 145.2 205.2 144.6 205.3 143.6 205.4 142.3 205.5 140.9 205.6 139.4 205.7 137.9 205.7 136.5 205.8 135.3 205.9 134.4 206 133.8 206.1 133.5 206.1 133.5 206.2 133.9 206.3 134.5 206.4 135.4 206.5 136.5 206.6 137.7 206.6 138.8 206.7 140 206.8 141 206.9 141.8 207 142.4 207 142.8 207.1 142.9 207.2 142.8 207.3 142.5 207.4 141.9 207.4 141.2 207.5 140.4 207.6 139.6 207.7 138.8 207.8 138 207.9 137.3 207.9 136.7 208 136.3 208.1 136.1 208.2 136 208.3 136.1 208.3 136.3 208.4 136.6 208.5 137 208.6 137.5 208.7 138 208.8 138.5 208.8 139 208.9 139.4 209 139.8 209.1 140.1 209.2 140.4 209.2 140.5 209.3 140.6 209.4 140.6 209.5 140.6 209.6 140.5 209.7 140.4 209.7 140.2 209.8 139.9 209.9 139.7 210 139.4 210.1 139.1 210.2 138.7 210.2 138.4 210.3 138 210.4 137.7 210.5 137.3 210.6 137 210.6 136.8 210.7 136.7 210.8 136.6 210.9 136.6 211 136.8 211 137.1 211.1 137.5 211.2 138 211.3 138.6 211.4 139.2 211.4 139.9 211.5 140.5 211.6 141.1 211.7 141.7 211.8 142 211.9 142.2 211.9 142.3 212 142.1 212.1 141.7 212.2 141.1 212.3 140.4 212.3 139.5 212.4 138.5 212.5 137.5 212.6 136.5 212.7 135.6 212.8 134.9 212.8 134.4 212.9 134.1 213 134.1 213.1 134.5 213.2 135.1 213.2 136 213.3 137.1 213.4 138.3 213.5 139.7 213.6 141 213.7 142.3 213.7 143.3 213.8 144.2 213.9 144.7 214 144.8 214.1 144.6 214.2 144 214.2 143.1 214.3 141.8 214.4 140.3 214.5 138.7 214.6 137 214.6 135.4 214.7 134 214.8 132.8 214.9 132 215 131.7 215.1 131.7 215.1 132.2 215.2 133.2 215.3 134.6 215.4 136.2 215.5 138.1 215.5 140.1 215.6 142 215.7 143.8 215.8 145.3 215.9 146.4 215.9 147 216 147.2 216.1 146.8 216.2 145.8 216.3 144.4 216.4 142.7 216.4 140.6 216.5 138.4 216.6 136.2 216.7 134.1 216.8 132.2 216.8 130.8 216.9 129.9 217 129.5 217.1 129.7 217.2 130.5 217.3 131.9 217.3 133.8 217.4 136 217.5 138.4 217.6 140.9 217.7 143.3 217.8 145.4 217.8 147.2 217.9 148.4 218 149 218.1 149 218.2 148.3 218.2 147 218.3 145.2 218.4 142.9 218.5 140.3 218.6 137.6 218.6 135 218.7 132.5 218.8 130.5 218.9 129 219 128.1 219.1 127.8 219.1 128.3 219.2 129.5 219.3 131.3 219.4 133.6 219.5 136.3 219.5 139.1 219.6 142 219.7 144.7 219.8 147 219.9 148.8 219.9 150 220 150.4 220.1 150.2 220.2 149.2 220.3 147.5 220.4 145.2 220.4 142.5 220.5 139.6 220.6 136.6 220.7 133.7 220.8 131.1 220.8 129 220.9 127.6 221 126.8 221.1 126.9 221.2 127.7 221.3 129.2 221.3 131.4 221.4 134.1 221.5 137 221.6 140.2 221.7 143.2 221.8 146 221.8 148.3 221.9 150 222 151 222.1 151.2 222.2 150.6 222.2 149.3 222.3 147.2 222.4 144.7 222.5 141.7 222.6 138.6 222.7 135.4 222.7 132.5 222.8 130 222.9 128 223 126.8 223.1 126.3 223.1 126.7 223.2 127.8 223.3 129.6 223.4 132.1 223.5 134.9 223.6 138.1 223.6 141.2 223.7 144.2 223.8 146.9 223.9 149.1 224 150.5 224 151.3 224.1 151.2 224.2 150.3 224.3 148.7 224.4 146.4 224.4 143.7 224.5 140.7 224.6 137.5 224.7 134.4 224.8 131.7 224.9 129.4 224.9 127.7 225 126.7 225.1 126.6 225.2 127.2 225.3 128.6 225.3 130.6 225.4 133.1 225.5 136 225.6 139.1 225.7 142.2 225.8 145 225.8 147.4 225.9 149.2 226 150.4 226.1 150.8 226.2 150.4 226.2 149.3 226.3 147.6 226.4 145.2 226.5 142.5 226.6 139.6 226.7 136.6 226.7 133.8 226.8 131.4 226.9 129.4 227 128.1 227.1 127.5 227.1 127.6 227.2 128.4 227.3 129.9 227.4 131.9 227.5 134.4 227.6 137.2 227.6 140 227.7 142.7 227.8 145.1 227.9 147.2 228 148.6 228 149.4 228.1 149.6 228.2 149 228.3 147.8 228.4 146 228.4 143.8 228.5 141.3 228.6 138.7 228.7 136.1 228.8 133.7 228.9 131.7 228.9 130.2 229 129.2 229.1 128.9 229.2 129.2 229.3 130.1 229.3 131.6 229.4 133.5 229.5 135.7 229.6 138.1 229.7 140.5 229.8 142.7 229.8 144.7 229.9 146.2 230 147.3 230.1 147.8 230.2 147.8 230.2 147.1 230.3 146 230.4 144.4 230.5 142.5 230.6 140.4 230.7 138.2 230.7 136.2 230.8 134.3 230.9 132.8 231 131.6 231.1 131 231.2 130.9 231.2 131.2 231.3 132.1 231.4 133.4 231.5 134.9 231.6 136.7 231.6 138.6 231.7 140.4 231.8 142.1 231.9 143.6 232 144.7 232.1 145.4 232.1 145.7 232.2 145.5 232.3 144.9 232.4 144 232.5 142.8 232.5 141.4 232.6 139.8 232.7 138.3 232.8 136.8 232.9 135.5 232.9 134.4 233 133.7 233.1 133.3 233.2 133.3 233.3 133.6 233.4 134.2 233.4 135.1 233.5 136.1 233.6 137.3 233.7 138.6 233.8 139.8 233.8 140.9 233.9 141.8 234 142.5 234.1 143 234.2 143.2 234.2 143.1 234.3 142.8 234.4 142.2 234.5 141.5 234.6 140.7 234.7 139.8 234.7 138.9 234.8 138 234.9 137.3 235 136.7 235.1 136.2 235.2 135.9 235.2 135.8 235.3 135.9 235.4 136.1 235.5 136.4 235.6 136.9 235.6 137.4 235.7 138 235.8 138.5 235.9 139.1 236 139.5 236.1 139.9 236.1 140.3 236.2 140.5 236.3 140.7 236.4 140.8 236.5 140.7 236.5 140.7 236.6 140.5 236.7 140.3 236.8 140.1 236.9 139.8 236.9 139.6 237 139.2 237.1 138.9 237.2 138.6 237.3 138.3 237.4 137.9 237.4 137.6 237.5 137.4 237.6 137.1 237.7 136.9 237.8 136.8 237.8 136.8 237.9 136.8 238 137 238.1 137.2 238.2 137.6 238.3 138 238.3 138.6 238.4 139.2 238.5 139.8 238.6 140.4 238.7 140.9 238.8 141.4 238.8 141.8 238.9 142 239 142.1 239.1 141.9 239.2 141.6 239.2 141.1 239.3 140.4 239.4 139.6 239.5 138.7 239.6 137.7 239.7 136.8 239.7 135.9 239.8 135.2 239.9 134.7 240 134.4 240.1 134.3 240.1 134.6 240.2 135.1 240.3 135.9 240.4 136.9 240.5 138.1 240.6 139.3 240.6 140.7 240.7 141.9 240.8 143 240.9 143.8 241 144.4 241 144.6 241.1 144.5 241.2 144 241.3 143.2 241.4 142.1 241.4 140.7 241.5 139.1 241.6 137.5 241.7 135.9 241.8 134.5 241.9 133.3 241.9 132.4 242 131.9 242.1 131.8 242.2 132.2 242.3 133.1 242.3 134.3 242.4 135.8 242.5 137.6 242.6 139.5 242.7 141.4 242.8 143.2 242.8 144.8 242.9 146 243 146.7 243.1 147 243.2 146.8 243.2 146 243.3 144.7 243.4 143.1 243.5 141.1 243.6 139 243.7 136.8 243.7 134.7 243.8 132.8 243.9 131.3 244 130.2 244.1 129.7 244.1 129.8 244.2 130.4 244.3 131.6 244.4 133.3 244.5 135.4 244.6 137.7 244.6 140.2 244.7 142.6 244.8 144.8 244.9 146.6 245 148 245 148.8 245.1 148.9 245.2 148.4 245.3 147.3 245.4 145.6 245.4 143.5 245.5 141 245.6 138.4 245.7 135.7 245.8 133.2 245.9 131.1 245.9 129.4 246 128.4 246.1 128 246.2 128.2 246.3 129.2 246.3 130.8 246.4 133 246.5 135.6 246.6 138.3 246.7 141.2 246.8 143.9 246.8 146.3 246.9 148.3 247 149.6 247.1 150.3 247.2 150.2 247.2 149.4 247.3 147.9 247.4 145.8 247.5 143.3 247.6 140.4 247.7 137.4 247.7 134.5 247.8 131.8 247.9 129.6 248 128 248.1 127 248.2 126.8 248.2 127.5 248.3 128.8 248.4 130.8 248.5 133.3 248.6 136.2 248.6 139.3 248.7 142.3 248.8 145.2 248.9 147.7 249 149.5 249.1 150.7 249.1 151.2 249.2 150.8 249.3 149.7 249.4 147.8 249.5 145.4 249.5 142.6 249.6 139.4 249.7 136.3 249.8 133.3 249.9 130.7 249.9 128.5 250 127.1 250.1 126.4 250.2 126.5 250.3 127.4 250.3 129.1 250.4 131.3 250.5 134.1 250.6 137.2 250.7 140.4 250.8 143.4 250.8 146.2 250.9 148.5 251 150.2 251.1 151.2 251.2 151.3 251.2 150.6 251.3 149.2 251.4 147.1 251.5 144.5 251.6 141.5 251.7 138.4 251.7 135.3 251.8 132.4 251.9 129.9 252 128.1 252.1 126.9 252.2 126.5 252.2 126.9 252.3 128.1 252.4 129.9 252.5 132.3 252.6 135.2 252.6 138.2" clip-path="url(#p31e8495adc)" style="fill: none; stroke: #cccccc; stroke-width: 0.75; stroke-linecap: square"/>
   </g>
   <g id="line2d_52">
    <g clip-path="url(#p31e8495adc)">
     <use href="#mc523a5838a" x="171" y="153.67"/>
     <use href="#mc523a5838a" x="173.08" y="153.67"/>
     <use href="#mc523a5838a" x="175.16" y="153.67"/>
     <use href="#mc523a5838a" x="177.24" y="153.67"/>
     <use href="#mc523a5838a" x="179.33" y="153.67"/>
     <use href="#mc523a5838a" x="181.41" y="153.67"/>
     <use href="#mc523a5838a" x="183.49" y="153.67"/>
     <use href="#mc523a5838a" x="198.07" y="153.67"/>
     <use href="#mc523a5838a" x="200.15" y="153.67"/>
     <use href="#mc523a5838a" x="202.23" y="153.67"/>
     <use href="#mc523a5838a" x="204.31" y="153.67"/>
     <use href="#mc523a5838a" x="206.4" y="153.67"/>
     <use href="#mc523a5838a" x="208.48" y="153.67"/>
     <use href="#mc523a5838a" x="210.56" y="153.67"/>
     <use href="#mc523a5838a" x="225.14" y="153.67"/>
     <use href="#mc523a5838a" x="227.22" y="153.67"/>
     <use href="#mc523a5838a" x="229.3" y="153.67"/>
     <use href="#mc523a5838a" x="231.38" y="153.67"/>
     <use href="#mc523a5838a" x="233.46" y="153.67"/>
     <use href="#mc523a5838a" x="235.55" y="153.67"/>
     <use href="#mc523a5838a" x="237.63" y="153.67"/>
    </g>
   </g>
   <g id="patch_15">
    <path d="M166.54 157.32 257.04 157.32" style="fill: none; stroke: #000000; stroke-width: 0.8; stroke-linejoin: miter; stroke-linecap: square"/>
   </g>
   <g id="line2d_53">
    <path d="M170.02 126.64 170.93 126.64 172.95 127.61 174.97 129.17 176.98 131.23 179.03 133.66 181.12 136.21 183.75 136.41 185.9 133.88 187.92 131.42 189.93 129.33 191.95 127.73 193.97 126.7 195.98 126.31 198 126.59 200.02 127.51 202.04 129.02 204.05 131.04 206.1 133.45 208.19 136.01 210.82 136.6 212.97 134.09 214.98 131.62 217.03 129.49 219.05 127.84 221.04 126.77 223.05 126.33 225.07 126.54 227.09 127.41 229.1 128.87 231.12 130.86 233.17 133.24 235.25 135.8 237.86 136.77 240.04 134.31 242.09 131.82 244.1 129.65 246.12 127.95 248.14 126.83 250.15 126.34 252.14 126.51" clip-path="url(#p31e8495adc)" style="fill: none; stroke: #9acd32; stroke-width: 1.1; stroke-linecap: square"/>
   </g>
  </g>
  <g id="axes_7">
   <g id="patch_16">
    <path d="M280.87 157.32 435.46 157.32 435.46 123.36 280.87 123.36z" style="fill: #ffffff"/>
   </g>
   <g id="matplotlib.axis_13">
    <g id="xtick_21">
     <g id="line2d_54">
      <g>
       <use href="#m1504cfccaf" x="285.48" y="157.32" style="stroke: #000000; stroke-width: 0.8"/>
      </g>
     </g>
    </g>
    <g id="xtick_22">
     <g id="line2d_55">
      <g>
       <use href="#m1504cfccaf" x="332.28" y="157.32" style="stroke: #000000; stroke-width: 0.8"/>
      </g>
     </g>
    </g>
    <g id="xtick_23">
     <g id="line2d_56">
      <g>
       <use href="#m1504cfccaf" x="379.08" y="157.32" style="stroke: #000000; stroke-width: 0.8"/>
      </g>
     </g>
    </g>
    <g id="xtick_24">
     <g id="line2d_57">
      <g>
       <use href="#m1504cfccaf" x="425.88" y="157.32" style="stroke: #000000; stroke-width: 0.8"/>
      </g>
     </g>
    </g>
   </g>
   <g id="matplotlib.axis_14"/>
   <g id="line2d_58">
    <path d="M281.5 156.2 281.9 156.2 282.2 156.2 282.6 156.2 283 156.2 283.3 156.3 283.7 156.1 284 156.2 284.4 156.3 284.8 156.2 285.1 156.2 285.5 156.2 285.8 156.2 286.2 156.2 286.6 156.3 286.9 156.2 287.3 156.2 287.6 156.2 288 156.2 288.4 156.2 288.7 156.2 289.1 156.1 289.4 155.3 289.8 154 290.2 152.8 290.5 151.5 290.9 152.3 291.2 153.5 291.6 154.8 292 156.1 292.3 156.2 292.7 156.2 293 156.2 293.4 156.3 293.8 156.2 294.1 156.2 294.5 156.3 294.8 156.1 295.2 156.2 295.6 156.2 295.9 156 296.3 155.9 296.6 155.7 297 155.9 297.4 156 297.7 156.2 298.1 156.2 298.4 156.3 298.8 156.3 299.2 156.2 299.5 156.3 299.9 156.2 300.2 156.2 300.6 156.2 301 156.1 301.3 156.2 301.7 156.3 302 156.2 302.4 156.3 302.8 156.3 303.1 156.2 303.5 156.2 303.8 156.3 304.2 156.2 304.6 156.1 304.9 156 305.3 155.9 305.6 156 306 156.1 306.4 156.2 306.7 156.3 307.1 156.2 307.4 156.2 307.8 156.2 308.2 156.3 308.5 156.2 308.9 156.2 309.2 156.2 309.6 156.3 310 156.2 310.3 156.2 310.7 156.3 311 156.2 311.4 156.2 311.8 156.2 312.1 156.2 312.5 156.2 312.8 156.3 313.2 156.3 313.6 156.2 313.9 156.2 314.3 156.2 314.6 156.2 315 156.2 315.4 156.2 315.7 156.2 316.1 156.2 316.4 156.2 316.8 156.2 317.2 156.2 317.5 156.2 317.9 156.2 318.2 156.2 318.6 156.2 319 156.2 319.3 156.2 319.7 156.1 320 156.3 320.4 156.2 320.8 156.2 321.1 156.2 321.5 156.2 321.8 156.2 322.2 156.1 322.6 156.2 322.9 156.1 323.3 156.1 323.6 156.1 324 156.3 324.4 156.3 324.7 156.2 325.1 156.3 325.4 156.2 325.8 156.2 326.2 156.2 326.5 156.3 326.9 156.2 327.2 156.2 327.6 156.2 328 156.2 328.3 156.2 328.7 156.2 329 156.2 329.4 156.2 329.8 156.2 330.1 156.2 330.5 156.2 330.8 156.3 331.2 156.2 331.6 156.2 331.9 156.2 332.3 156.2 332.6 156.2 333 156.3 333.4 156.1 333.7 156.2 334.1 156.3 334.4 156.3 334.8 156.3 335.2 156.2 335.5 156.2 335.9 156.3 336.2 156.3 336.6 156.3 337 156.3 337.3 156.2 337.7 156.3 338 156.2 338.4 156.1 338.8 156.2 339.1 156.2 339.5 156.2 339.8 156.2 340.2 155.9 340.6 155.7 340.9 155.5 341.3 155.5 341.6 155.8 342 156 342.4 156.2 342.7 156.3 343.1 156.2 343.4 156.2 343.8 156.3 344.2 156.3 344.5 156.3 344.9 156.3 345.2 156.3 345.6 156 346 155.7 346.3 155.3 346.7 154.9 347 155.2 347.4 155.5 347.8 155.9 348.1 156.2 348.5 156.2 348.8 156.2 349.2 156.3 349.6 156.2 349.9 156.2 350.3 156.2 350.6 156.2 351 156.3 351.4 155.6 351.7 153.9 352.1 152.2 352.4 150.5 352.8 150.2 353.2 151.9 353.5 153.6 353.9 155.3 354.2 156.2 354.6 156.2 355 156.2 355.3 156.2 355.7 156.2 356 156.2 356.4 156.2 356.8 152.3 357.1 148.2 357.5 144.2 357.8 140.1 358.2 137.7 358.6 141.7 358.9 145.8 359.3 149.8 359.6 153.9 360 156.2 360.4 156.2 360.7 156.2 361.1 156.2 361.4 156.1 361.8 156.2 362.2 156.2 362.5 156.2 362.9 154.5 363.2 152.6 363.6 150.8 364 149 364.3 150.8 364.7 152.6 365 154.5 365.4 156.2 365.8 156.1 366.1 156.2 366.5 156.2 366.8 156.2 367.2 156.2 367.6 156.2 367.9 156.2 368.3 156.2 368.6 156.2 369 155.7 369.4 155.3 369.7 154.9 370.1 154.8 370.4 155.2 370.8 155.7 371.2 156.1 371.5 156.3 371.9 156.2 372.2 156.3 372.6 156.2 373 156.2 373.3 156.3 373.7 156.2 374 156.2 374.4 156.2 374.8 156.2 375.1 156 375.5 155.9 375.8 155.7 376.2 155.9 376.6 156 376.9 156.2 377.3 156.2 377.6 156.2 378 156.2 378.4 156.3 378.7 156.2 379.1 156.2 379.4 156.2 379.8 156.3 380.2 156.2 380.5 156.2 380.9 156.3 381.2 156.2 381.6 156.2 382 156.3 382.3 156.3 382.7 156.3 383 156.3 383.4 156.2 383.8 156.2 384.1 156.2 384.5 156.3 384.8 156.2 385.2 156.2 385.6 156.2 385.9 156.2 386.3 156.2 386.6 156.2 387 156.3 387.4 156.3 387.7 156.3 388.1 156.2 388.4 156.2 388.8 156.1 389.2 156.2 389.5 156.2 389.9 156.2 390.2 156.3 390.6 156.2 391 156.2 391.3 156.2 391.7 156.2 392 156.2 392.4 156.3 392.8 156.2 393.1 156.2 393.5 156.2 393.8 156.2 394.2 156.3 394.6 156.1 394.9 156.2 395.3 156.2 395.6 156.3 396 156.2 396.4 156.3 396.7 156.2 397.1 156.2 397.4 156.3 397.8 156.3 398.2 156.2 398.5 156.2 398.9 156.2 399.2 156.2 399.6 156.2 400 156.2 400.3 156.2 400.7 156.2 401 156.2 401.4 156.2 401.8 156.3 402.1 156.2 402.5 156.2 402.8 156.3 403.2 156.3 403.6 156.2 403.9 156.2 404.3 156.2 404.6 156.2 405 156.3 405.4 156.1 405.7 156.2 406.1 156.3 406.4 156.3 406.8 156.2 407.2 156.2 407.5 156.2 407.9 156.3 408.2 156.3 408.6 156.2 409 156.2 409.3 156.2 409.7 156.2 410 156.3 410.4 156.2 410.8 156.3 411.1 156.3 411.5 156.1 411.8 156.2 412.2 156.2 412.6 156.2 412.9 156.2 413.3 156.2 413.6 156.2 414 156 414.4 155.8 414.7 155.5 415.1 155.5 415.4 155.7 415.8 155.9 416.2 156.2 416.5 156.2 416.9 156.2 417.2 156.3 417.6 156.2 418 156.2 418.3 156.3 418.7 156.2 419 156.3 419.4 156 419.8 155.4 420.1 154.9 420.5 154.3 420.8 154.4 421.2 155 421.6 155.5 421.9 156.1 422.3 156.3 422.6 156.2 423 156.1 423.4 156.3 423.7 156.2 424.1 156.2 424.4 156.2 424.8 155.7 425.2 154.6 425.5 153.6 425.9 152.5 426.2 152.7 426.6 153.8 427 154.8 427.3 155.9 427.7 156.2 428 156.2 428.4 156.2 428.8 156.2 429.1 156.2 429.5 156.3 429.8 156.2 430.2 156.2 430.6 156.1 430.9 153.3 431.3 150.3 431.6 147.3 432 144.3 432.4 147.3 432.7 150.3 433.1 153.3 433.4 156.3 433.8 156.2 434.2 156.2 434.5 156.2" clip-path="url(#pe9352b81fd)" style="fill: none; stroke: #aaaaaa; stroke-width: 1.1; stroke-linecap: square"/>
   </g>
   <g id="line2d_59">
    <path d="M322.2 157.32 322.2 123.36" clip-path="url(#pe9352b81fd)" style="fill: none; stroke-dasharray: 1.85,0.8; stroke-dashoffset: 0; stroke: #000000; stroke-width: 0.5"/>
   </g>
   <g id="patch_17">
    <path d="M280.87 157.32 435.46 157.32" style="fill: none; stroke: #000000; stroke-width: 0.8; stroke-linejoin: miter; stroke-linecap: square"/>
   </g>
   <g id="line2d_60">
    <g>
     <use href="#m87fcf83af1" x="358.13" y="138.38" style="fill: #aaaaaa; stroke: #000000; stroke-width: 1.1"/>
    </g>
   </g>
   <g id="line2d_61">
    <defs>
     <path id="m748fce21f1" d="M0 2.8 C 0.74 2.8 1.45 2.5 1.98 1.98 C 2.5 1.45 2.8 0.74 2.8 0 C 2.8 -0.74 2.5 -1.45 1.98 -1.98 C 1.45 -2.5 0.74 -2.8 0 -2.8 C -0.74 -2.8 -1.45 -2.5 -1.98 -1.98 C -2.5 -1.45 -2.8 -0.74 -2.8 0 C -2.8 0.74 -2.5 1.45 -1.98 1.98 C -1.45 2.5 -0.74 2.8 0 2.8z"/>
    </defs>
    <g>
     <use href="#m748fce21f1" x="290.59" y="148.68" style="fill: #9acd32"/>
    </g>
   </g>
  </g>
  <g id="axes_8">
   <g id="patch_18">
    <path d="M166.54 201.24 257.04 201.24 257.04 167.28 166.54 167.28z" style="fill: #ffffff"/>
   </g>
   <g id="matplotlib.axis_15">
    <g id="xtick_25">
     <g id="line2d_62">
      <g>
       <use href="#m1504cfccaf" x="171" y="201.24" style="stroke: #000000; stroke-width: 0.8"/>
      </g>
     </g>
    </g>
    <g id="xtick_26">
     <g id="line2d_63">
      <g>
       <use href="#m1504cfccaf" x="203.69" y="201.24" style="stroke: #000000; stroke-width: 0.8"/>
      </g>
     </g>
    </g>
    <g id="xtick_27">
     <g id="line2d_64">
      <g>
       <use href="#m1504cfccaf" x="236.38" y="201.24" style="stroke: #000000; stroke-width: 0.8"/>
      </g>
     </g>
    </g>
   </g>
   <g id="matplotlib.axis_16"/>
   <g id="line2d_65">
    <path d="M170 184.4 170.1 184.3 170.2 184.5 170.3 184.8 170.3 185.1 170.4 185.3 170.5 185.3 170.6 184.9 170.7 184.1 170.8 182.8 170.8 181.2 170.9 179.4 171 177.6 171.1 175.9 171.2 174.7 171.2 174 171.3 174.1 171.4 175.1 171.5 176.8 171.6 179.3 171.7 182.2 171.7 185.5 171.8 188.6 171.9 191.4 172 193.5 172.1 194.7 172.1 194.9 172.2 194 172.3 192.1 172.4 189.3 172.5 185.9 172.6 182.3 172.6 178.7 172.7 175.6 172.8 173.1 172.9 171.5 173 171 173 171.5 173.1 173 173.2 175.2 173.3 178 173.4 180.9 173.4 183.9 173.5 186.4 173.6 188.4 173.7 189.7 173.8 190.3 173.9 190.2 173.9 189.4 174 188.2 174.1 186.8 174.2 185.3 174.3 184 174.3 182.9 174.4 182.2 174.5 181.8 174.6 181.7 174.7 181.8 174.8 182 174.8 182.1 174.9 182.1 175 181.8 175.1 181.1 175.2 180.3 175.2 179.3 175.3 178.2 175.4 177.4 175.5 176.8 175.6 176.8 175.7 177.4 175.7 178.6 175.8 180.4 175.9 182.7 176 185.2 176.1 187.9 176.2 190.3 176.2 192.2 176.3 193.4 176.4 193.7 176.5 193 176.6 191.4 176.6 188.9 176.7 185.7 176.8 182.2 176.9 178.6 177 175.4 177.1 172.7 177.1 171 177.2 170.3 177.3 170.7 177.4 172.1 177.4 174.5 177.5 177.5 177.6 180.9 177.7 184.3 177.8 187.5 177.9 190 177.9 191.8 178 192.7 178.1 192.7 178.2 191.8 178.3 190.2 178.3 188.2 178.4 185.9 178.5 183.7 178.6 181.7 178.7 180.1 178.8 179 178.8 178.4 178.9 178.4 179 178.7 179.1 179.3 179.2 180 179.2 180.6 179.3 181 179.4 181.2 179.5 181.1 179.6 180.8 179.7 180.5 179.7 180.2 179.8 180 179.9 180.2 180 180.8 180.1 181.8 180.2 183.2 180.2 185 180.3 186.8 180.4 188.7 180.5 190.2 180.6 191.3 180.6 191.6 180.7 191.2 180.8 189.9 180.9 187.9 181 185.2 181.1 182.1 181.1 178.8 181.2 175.7 181.3 173.2 181.4 171.4 181.5 170.6 181.5 170.8 181.6 172.1 181.7 174.4 181.8 177.4 181.9 181 181.9 184.6 182 188.1 182.1 191 182.2 193.1 182.3 194.3 182.4 194.4 182.4 193.5 182.5 191.7 182.6 189.2 182.7 186.4 182.8 183.4 182.8 180.7 182.9 178.3 183 176.6 183.1 175.6 183.2 175.3 183.3 175.7 183.3 176.6 183.4 177.9 183.5 179.3 183.6 180.8 183.7 182 183.8 182.9 183.8 183.4 183.9 183.7 184 183.7 184.1 183.5 184.2 183.3 184.2 183.3 184.3 183.5 184.4 183.9 184.5 184.7 184.6 185.7 184.7 186.7 184.7 187.7 184.8 188.5 184.9 188.8 185 188.7 185.1 187.8 185.1 186.4 185.2 184.3 185.3 181.9 185.4 179.2 185.5 176.6 185.6 174.3 185.6 172.7 185.7 171.8 185.8 171.9 185.9 173 185.9 175 186 177.8 186.1 181.1 186.2 184.7 186.3 188.2 186.4 191.3 186.4 193.6 186.5 194.9 186.6 195.2 186.7 194.4 186.8 192.6 186.8 189.9 186.9 186.7 187 183.3 187.1 179.9 187.2 177 187.3 174.8 187.3 173.3 187.4 172.8 187.5 173.2 187.6 174.3 187.7 176.1 187.8 178.2 187.8 180.5 187.9 182.7 188 184.5 188.1 185.9 188.2 186.7 188.2 187.1 188.3 186.9 188.4 186.5 188.5 185.9 188.6 185.3 188.7 184.8 188.7 184.4 188.8 184.4 188.9 184.6 189 184.9 189.1 185.3 189.1 185.5 189.2 185.6 189.3 185.2 189.4 184.5 189.5 183.2 189.6 181.7 189.6 179.8 189.7 177.9 189.8 176.1 189.9 174.7 190 173.9 190 173.9 190.1 174.6 190.2 176.2 190.3 178.6 190.4 181.5 190.4 184.7 190.5 187.9 190.6 190.8 190.7 193.2 190.8 194.6 190.9 195 190.9 194.3 191 192.6 191.1 190 191.2 186.8 191.3 183.2 191.3 179.5 191.4 176.3 191.5 173.6 191.6 171.9 191.7 171.1 191.8 171.4 191.8 172.7 191.9 174.7 192 177.3 192.1 180.3 192.2 183.2 192.2 185.8 192.3 187.9 192.4 189.3 192.5 190.1 192.6 190.1 192.7 189.4 192.7 188.4 192.8 187 192.9 185.6 193 184.3 193.1 183.2 193.2 182.4 193.2 182 193.3 181.9 193.4 182 193.5 182.2 193.6 182.3 193.6 182.3 193.7 181.9 193.8 181.3 193.9 180.5 194 179.4 194.1 178.3 194.1 177.4 194.2 176.7 194.3 176.6 194.4 177 194.4 178.1 194.5 179.8 194.6 182.1 194.7 184.6 194.8 187.3 194.9 189.8 194.9 191.9 195 193.3 195.1 193.8 195.2 193.4 195.3 191.9 195.3 189.6 195.4 186.5 195.5 183 195.6 179.4 195.7 176.1 195.8 173.3 195.8 171.3 195.9 170.3 196 170.5 196.1 171.7 196.2 173.9 196.2 176.8 196.3 180.1 196.4 183.5 196.5 186.7 196.6 189.4 196.7 191.4 196.7 192.4 196.8 192.6 196.9 191.9 197 190.5 197.1 188.6 197.2 186.4 197.2 184.2 197.3 182.2 197.4 180.5 197.5 179.3 197.6 178.7 197.6 178.6 197.7 178.8 197.8 179.3 197.9 179.9 198 180.5 198.1 180.9 198.1 181.1 198.2 181 198.3 180.8 198.4 180.4 198.5 180 198.5 179.8 198.6 179.9 198.7 180.4 198.8 181.4 198.9 182.8 198.9 184.6 199 186.5 199.1 188.4 199.2 190.1 199.3 191.2 199.4 191.8 199.4 191.5 199.5 190.4 199.6 188.5 199.7 185.9 199.8 182.8 199.8 179.5 199.9 176.4 200 173.7 200.1 171.7 200.2 170.6 200.3 170.6 200.3 171.7 200.4 173.8 200.5 176.7 200.6 180.1 200.7 183.8 200.8 187.3 200.8 190.3 200.9 192.7 201 194 201.1 194.4 201.2 193.7 201.2 192.1 201.3 189.8 201.4 187 201.5 184.1 201.6 181.3 201.7 178.9 201.7 177 201.8 175.9 201.9 175.5 202 175.7 202.1 176.5 202.1 177.7 202.2 179.1 202.3 180.5 202.4 181.7 202.5 182.6 202.5 183.2 202.6 183.4 202.7 183.5 202.8 183.3 202.9 183.2 202.9 183.1 203 183.3 203.1 183.7 203.2 184.5 203.3 185.5 203.4 186.6 203.4 187.7 203.5 188.5 203.6 189 203.7 188.9 203.8 188.2 203.8 186.9 203.9 184.9 204 182.5 204.1 179.8 204.2 177.2 204.3 174.8 204.3 172.9 204.4 171.8 204.5 171.7 204.6 172.5 204.7 174.4 204.8 177 204.8 180.3 204.9 183.9 205 187.4 205.1 190.6 205.2 193.1 205.2 194.7 205.3 195.2 205.4 194.7 205.5 193 205.6 190.6 205.7 187.5 205.7 184.1 205.8 180.7 205.9 177.7 206 175.3 206.1 173.7 206.1 173 206.2 173.1 206.3 174.1 206.4 175.8 206.5 177.8 206.6 180 206.6 182.1 206.7 184 206.8 185.4 206.9 186.4 207 186.8 207 186.8 207.1 186.4 207.2 185.9 207.3 185.3 207.4 184.8 207.4 184.5 207.5 184.4 207.6 184.6 207.7 185 207.8 185.4 207.9 185.7 207.9 185.8 208 185.5 208.1 184.8 208.2 183.7 208.3 182.1 208.3 180.2 208.4 178.3 208.5 176.4 208.6 174.9 208.7 173.9 208.8 173.7 208.8 174.2 208.9 175.7 209 177.9 209.1 180.8 209.2 183.9 209.2 187.2 209.3 190.3 209.4 192.7 209.5 194.4 209.6 195.1 209.7 194.6 209.7 193.2 209.8 190.7 209.9 187.6 210 184 210.1 180.4 210.2 177 210.2 174.2 210.3 172.2 210.4 171.3 210.5 171.3 210.6 172.4 210.6 174.2 210.7 176.8 210.8 179.6 210.9 182.5 211 185.2 211 187.4 211.1 188.9 211.2 189.8 211.3 189.9 211.4 189.4 211.4 188.5 211.5 187.2 211.6 185.8 211.7 184.6 211.8 183.5 211.9 182.7 211.9 182.3 212 182.1 212.1 182.2 212.2 182.4 212.3 182.5 212.3 182.4 212.4 182.2 212.5 181.5 212.6 180.7 212.7 179.6 212.8 178.4 212.8 177.4 212.9 176.7 213 176.4 213.1 176.7 213.2 177.7 213.2 179.3 213.3 181.4 213.4 184 213.5 186.8 213.6 189.4 213.7 191.6 213.7 193.2 213.8 193.9 213.9 193.7 214 192.4 214.1 190.2 214.2 187.3 214.2 183.9 214.3 180.2 214.4 176.8 214.5 173.8 214.6 171.7 214.6 170.5 214.7 170.4 214.8 171.4 214.9 173.4 215 176.1 215.1 179.3 215.1 182.7 215.2 186 215.3 188.8 215.4 190.9 215.5 192.2 215.5 192.5 215.6 192 215.7 190.8 215.8 189 215.9 186.8 215.9 184.7 216 182.6 216.1 180.9 216.2 179.7 216.3 179 216.4 178.8 216.4 178.9 216.5 179.4 216.6 180 216.7 180.5 216.8 180.9 216.8 181.1 216.9 181 217 180.7 217.1 180.3 217.2 179.9 217.3 179.6 217.3 179.7 217.4 180.1 217.5 181 217.6 182.4 217.7 184.1 217.8 186.1 217.8 188.1 217.9 189.8 218 191.2 218.1 191.9 218.2 191.8 218.2 190.9 218.3 189.1 218.4 186.6 218.5 183.6 218.6 180.3 218.6 177.1 218.7 174.2 218.8 172 218.9 170.7 219 170.5 219.1 171.3 219.1 173.2 219.2 175.9 219.3 179.3 219.4 182.9 219.5 186.5 219.5 189.7 219.6 192.1 219.7 193.7 219.8 194.3 219.9 193.9 219.9 192.5 220 190.3 220.1 187.7 220.2 184.8 220.3 182 220.4 179.5 220.4 177.5 220.5 176.2 220.6 175.7 220.7 175.8 220.8 176.5 220.8 177.6 220.9 178.9 221 180.2 221.1 181.4 221.2 182.3 221.3 182.9 221.3 183.2 221.4 183.3 221.5 183.1 221.6 183 221.7 182.9 221.8 183.1 221.8 183.5 221.9 184.3 222 185.3 222.1 186.4 222.2 187.6 222.2 188.5 222.3 189.1 222.4 189.2 222.5 188.6 222.6 187.4 222.7 185.5 222.7 183.1 222.8 180.4 222.9 177.7 223 175.2 223.1 173.2 223.1 171.9 223.2 171.5 223.3 172.2 223.4 173.8 223.5 176.3 223.6 179.5 223.6 183 223.7 186.6 223.8 189.9 223.9 192.6 224 194.4 224 195.2 224.1 194.8 224.2 193.5 224.3 191.2 224.4 188.2 224.4 184.9 224.5 181.5 224.6 178.4 224.7 175.9 224.8 174.1 224.9 173.2 224.9 173.2 225 174 225.1 175.4 225.2 177.4 225.3 179.5 225.3 181.7 225.4 183.5 225.5 185 225.6 186 225.7 186.6 225.8 186.6 225.8 186.3 225.9 185.8 226 185.3 226.1 184.8 226.2 184.5 226.2 184.5 226.3 184.7 226.4 185.1 226.5 185.5 226.6 185.9 226.7 186 226.7 185.8 226.8 185.2 226.9 184.1 227 182.5 227.1 180.7 227.1 178.7 227.2 176.7 227.3 175 227.4 173.9 227.5 173.5 227.6 173.9 227.6 175.2 227.7 177.2 227.8 180 227.9 183.2 228 186.5 228 189.6 228.1 192.3 228.2 194.2 228.3 195.1 228.4 194.9 228.4 193.6 228.5 191.4 228.6 188.4 228.7 184.9 228.8 181.2 228.9 177.8 228.9 174.8 229 172.7 229.1 171.5 229.2 171.3 229.3 172.1 229.3 173.8 229.4 176.2 229.5 179 229.6 181.8 229.7 184.5 229.8 186.8 229.8 188.5 229.9 189.5 230 189.8 230.1 189.4 230.2 188.6 230.2 187.4 230.3 186.1 230.4 184.8 230.5 183.8 230.6 183 230.7 182.5 230.7 182.3 230.8 182.4 230.9 182.6 231 182.7 231.1 182.7 231.2 182.4 231.2 181.8 231.3 180.9 231.4 179.8 231.5 178.6 231.6 177.4 231.6 176.6 231.7 176.2 231.8 176.4 231.9 177.2 232 178.7 232.1 180.8 232.1 183.4 232.2 186.1 232.3 188.8 232.4 191.2 232.5 193 232.5 193.9 232.6 193.9 232.7 192.9 232.8 190.9 232.9 188.1 232.9 184.7 233 181.1 233.1 177.6 233.2 174.5 233.3 172.1 233.4 170.7 233.4 170.3 233.5 171.1 233.6 172.9 233.7 175.4 233.8 178.6 233.8 181.9 233.9 185.2 234 188.1 234.1 190.4 234.2 191.8 234.2 192.4 234.3 192.1 234.4 191 234.5 189.3 234.6 187.3 234.7 185.2 234.7 183.1 234.8 181.4 234.9 180.1 235 179.3 235.1 179 235.2 179.1 235.2 179.5 235.3 180 235.4 180.5 235.5 180.9 235.6 181 235.6 180.9 235.7 180.6 235.8 180.2 235.9 179.7 236 179.4 236.1 179.4 236.1 179.8 236.2 180.6 236.3 181.9 236.4 183.7 236.5 185.6 236.5 187.7 236.6 189.6 236.7 191.1 236.8 191.9 236.9 192.1 236.9 191.3 237 189.7 237.1 187.3 237.2 184.3 237.3 181.1 237.4 177.8 237.4 174.8 237.5 172.4 237.6 170.9 237.7 170.4 237.8 171 237.8 172.7 237.9 175.2 238 178.5 238.1 182.1 238.2 185.7 238.3 188.9 238.3 191.6 238.4 193.4 238.5 194.2 238.6 194 238.7 192.8 238.8 190.8 238.8 188.3 238.9 185.4 239 182.6 239.1 180.1 239.2 178.1 239.2 176.6 239.3 175.9 239.4 175.9 239.5 176.4 239.6 177.4 239.7 178.7 239.7 180 239.8 181.1 239.9 182.1 240 182.7 240.1 183 240.1 183.1 240.2 182.9 240.3 182.8 240.4 182.7 240.5 182.9 240.6 183.3 240.6 184.1 240.7 185.1 240.8 186.3 240.9 187.5 241 188.5 241 189.2 241.1 189.4 241.2 189 241.3 187.9 241.4 186.1 241.4 183.8 241.5 181.1 241.6 178.3 241.7 175.7 241.8 173.5 241.9 172 241.9 171.4 242 171.8 242.1 173.3 242.2 175.6 242.3 178.7 242.3 182.2 242.4 185.8 242.5 189.2 242.6 192 242.7 194.1 242.8 195.1 242.8 195 242.9 193.8 243 191.7 243.1 188.9 243.2 185.7 243.2 182.3 243.3 179.1 243.4 176.5 243.5 174.5 243.6 173.4 243.7 173.2 243.7 173.9 243.8 175.2 243.9 177 244 179.1 244.1 181.2 244.1 183.1 244.2 184.6 244.3 185.7 244.4 186.3 244.5 186.4 244.6 186.2 244.6 185.8 244.7 185.2 244.8 184.8 244.9 184.5 245 184.5 245 184.7 245.1 185.1 245.2 185.6 245.3 186 245.4 186.2 245.4 186.1 245.5 185.5 245.6 184.5 245.7 183 245.8 181.1 245.9 179.1 245.9 177 246 175.2 246.1 174 246.2 173.4 246.3 173.6 246.3 174.7 246.4 176.6 246.5 179.3 246.6 182.4 246.7 185.7 246.8 189 246.8 191.8 246.9 193.8 247 195 247.1 195 247.2 194 247.2 192 247.3 189.1 247.4 185.7 247.5 182.1 247.6 178.6 247.7 175.5 247.7 173.2 247.8 171.7 247.9 171.3 248 171.9 248.1 173.5 248.2 175.7 248.2 178.3 248.3 181.2 248.4 183.9 248.5 186.2 248.6 188 248.6 189.2 248.7 189.6 248.8 189.4 248.9 188.6 249 187.6 249.1 186.3 249.1 185.1 249.2 184 249.3 183.2 249.4 182.7 249.5 182.6 249.5 182.6 249.6 182.8 249.7 182.9 249.8 182.9 249.9 182.6 249.9 182 250 181.1 250.1 180 250.2 178.7 250.3 177.5 250.3 176.6 250.4 176.1 250.5 176.1 250.6 176.8 250.7 178.2 250.8 180.2 250.8 182.7 250.9 185.5 251 188.3 251.1 190.8 251.2 192.7 251.2 193.9 251.3 194.1 251.4 193.3 251.5 191.5 251.6 188.8 251.7 185.5 251.7 181.9 251.8 178.4 251.9 175.1 252 172.6 252.1 170.9 252.2 170.4 252.2 170.9 252.3 172.4 252.4 174.8 252.5 177.8 252.6 181.2 252.6 184.5" clip-path="url(#pb8cc3a810f)" style="fill: none; stroke: #cccccc; stroke-width: 0.75; stroke-linecap: square"/>
   </g>
   <g id="line2d_66">
    <g clip-path="url(#pb8cc3a810f)">
     <use href="#mc523a5838a" x="171" y="197.59"/>
     <use href="#mc523a5838a" x="175.16" y="197.59"/>
     <use href="#mc523a5838a" x="179.33" y="197.59"/>
     <use href="#mc523a5838a" x="181.41" y="197.59"/>
     <use href="#mc523a5838a" x="185.57" y="197.59"/>
     <use href="#mc523a5838a" x="189.74" y="197.59"/>
     <use href="#mc523a5838a" x="191.82" y="197.59"/>
     <use href="#mc523a5838a" x="193.9" y="197.59"/>
     <use href="#mc523a5838a" x="198.07" y="197.59"/>
     <use href="#mc523a5838a" x="202.23" y="197.59"/>
     <use href="#mc523a5838a" x="206.4" y="197.59"/>
     <use href="#mc523a5838a" x="208.48" y="197.59"/>
     <use href="#mc523a5838a" x="214.72" y="197.59"/>
     <use href="#mc523a5838a" x="216.81" y="197.59"/>
     <use href="#mc523a5838a" x="220.97" y="197.59"/>
     <use href="#mc523a5838a" x="225.14" y="197.59"/>
     <use href="#mc523a5838a" x="229.3" y="197.59"/>
     <use href="#mc523a5838a" x="233.46" y="197.59"/>
     <use href="#mc523a5838a" x="235.55" y="197.59"/>
     <use href="#mc523a5838a" x="237.63" y="197.59"/>
     <use href="#mc523a5838a" x="239.71" y="197.59"/>
     <use href="#mc523a5838a" x="243.88" y="197.59"/>
     <use href="#mc523a5838a" x="248.04" y="197.59"/>
     <use href="#mc523a5838a" x="252.2" y="197.59"/>
    </g>
   </g>
   <g id="patch_19">
    <path d="M166.54 201.24 257.04 201.24" style="fill: none; stroke: #000000; stroke-width: 0.8; stroke-linejoin: miter; stroke-linecap: square"/>
   </g>
   <g id="line2d_67">
    <path d="M170.02 173.96 171.26 173.96 172.95 171 175.55 176.77 177.21 170.27 178.9 178.36 181.47 170.51 183.17 175.28 185.74 171.72 187.43 172.79 190 173.8 191.69 171.08 194.26 176.58 195.95 170.28 197.61 178.57 200.21 170.46 201.91 175.47 204.48 171.61 206.17 172.93 208.74 173.64 210.43 171.16 213 176.38 214.69 170.3 216.35 178.78 218.95 170.42 220.65 175.66 223.22 171.51 224.91 173.07 227.48 173.49 229.17 171.25 231.74 176.18 233.43 170.33 235.09 178.99 237.69 170.39 239.35 175.84 241.96 171.42 243.65 173.23 246.22 173.34 247.91 171.35 250.48 175.99 252.14 170.38" clip-path="url(#pb8cc3a810f)" style="fill: none; stroke: #ffa500; stroke-width: 1.1; stroke-linecap: square"/>
   </g>
  </g>
  <g id="axes_9">
   <g id="patch_20">
    <path d="M280.87 201.24 435.46 201.24 435.46 167.28 280.87 167.28z" style="fill: #ffffff"/>
   </g>
   <g id="matplotlib.axis_17">
    <g id="xtick_28">
     <g id="line2d_68">
      <g>
       <use href="#m1504cfccaf" x="285.48" y="201.24" style="stroke: #000000; stroke-width: 0.8"/>
      </g>
     </g>
    </g>
    <g id="xtick_29">
     <g id="line2d_69">
      <g>
       <use href="#m1504cfccaf" x="332.28" y="201.24" style="stroke: #000000; stroke-width: 0.8"/>
      </g>
     </g>
    </g>
    <g id="xtick_30">
     <g id="line2d_70">
      <g>
       <use href="#m1504cfccaf" x="379.08" y="201.24" style="stroke: #000000; stroke-width: 0.8"/>
      </g>
     </g>
    </g>
    <g id="xtick_31">
     <g id="line2d_71">
      <g>
       <use href="#m1504cfccaf" x="425.88" y="201.24" style="stroke: #000000; stroke-width: 0.8"/>
      </g>
     </g>
    </g>
   </g>
   <g id="matplotlib.axis_18"/>
   <g id="line2d_72">
    <path d="M281.5 200.1 281.9 200.1 282.2 200.2 282.6 200.1 283 200.2 283.3 200.1 283.7 200.1 284 200.2 284.4 200.2 284.8 200.1 285.1 200.1 285.5 200.1 285.8 200.2 286.2 200.1 286.6 200.2 286.9 200.2 287.3 200.1 287.6 200.1 288 200.1 288.4 200.2 288.7 200.1 289.1 200.1 289.4 200.2 289.8 200.2 290.2 200.1 290.5 199.9 290.9 199.8 291.2 199.6 291.6 199.6 292 199.8 292.3 200 292.7 200.1 293 200.1 293.4 200.1 293.8 200.1 294.1 200.1 294.5 200.2 294.8 200.1 295.2 200.1 295.6 200.2 295.9 200.1 296.3 200.1 296.6 200.1 297 200.1 297.4 200.1 297.7 200.2 298.1 200.1 298.4 200.1 298.8 200.1 299.2 200.2 299.5 200.2 299.9 200.2 300.2 200.2 300.6 200.2 301 200.2 301.3 200.2 301.7 200.1 302 200.2 302.4 200.2 302.8 200.1 303.1 200.2 303.5 200.1 303.8 200.1 304.2 200.1 304.6 200.1 304.9 200.2 305.3 200.1 305.6 200.2 306 200.2 306.4 200.2 306.7 200.2 307.1 200.2 307.4 200.2 307.8 200.2 308.2 200.2 308.5 200.1 308.9 200.1 309.2 200.2 309.6 200.1 310 200.2 310.3 200.1 310.7 200.1 311 200.2 311.4 200.1 311.8 200.1 312.1 200.2 312.5 200.2 312.8 200.2 313.2 200.1 313.6 200.2 313.9 200.1 314.3 200.1 314.6 200.2 315 200.2 315.4 200.1 315.7 200.2 316.1 200.1 316.4 200.1 316.8 200.2 317.2 200.1 317.5 200.2 317.9 200.1 318.2 200.2 318.6 200.1 319 200.2 319.3 200.1 319.7 200.2 320 200.1 320.4 200.1 320.8 200.2 321.1 200.2 321.5 200.1 321.8 200.2 322.2 200.1 322.6 200.1 322.9 200.1 323.3 200.2 323.6 198.8 324 196.4 324.4 194 324.7 191.6 325.1 192.1 325.4 194.5 325.8 196.9 326.2 199.3 326.5 200.1 326.9 200.2 327.2 200.2 327.6 200.1 328 200.2 328.3 200.2 328.7 200.2 329 200.1 329.4 200.1 329.8 200.2 330.1 200.2 330.5 200.2 330.8 200.2 331.2 200.1 331.6 200.2 331.9 200.1 332.3 200.1 332.6 200.2 333 200.1 333.4 200.2 333.7 200.2 334.1 200.2 334.4 200.2 334.8 200.2 335.2 200.2 335.5 200.2 335.9 200.2 336.2 200.1 336.6 200.2 337 200.1 337.3 200.2 337.7 200.1 338 200.2 338.4 200.1 338.8 200.2 339.1 200.2 339.5 200.2 339.8 200.2 340.2 200.1 340.6 200.1 340.9 200.2 341.3 200.1 341.6 200.2 342 200.2 342.4 200.2 342.7 200.2 343.1 200.1 343.4 200.2 343.8 200.1 344.2 200.1 344.5 200.2 344.9 200.2 345.2 200.2 345.6 200.2 346 200.2 346.3 200.1 346.7 200 347 199.8 347.4 199.6 347.8 199.4 348.1 199.6 348.5 199.8 348.8 200 349.2 200.2 349.6 200.1 349.9 199.2 350.3 198 350.6 196.8 351 195.5 351.4 196.3 351.7 197.5 352.1 198.7 352.4 200 352.8 200.2 353.2 200.2 353.5 200.1 353.9 200.1 354.2 200.2 354.6 200.1 355 200.2 355.3 200.1 355.7 200.2 356 200.2 356.4 200.1 356.8 196.5 357.1 192.7 357.5 189 357.8 185.2 358.2 183 358.6 186.7 358.9 190.5 359.3 194.2 359.6 198 360 200.1 360.4 200.1 360.7 200.2 361.1 200.2 361.4 200.2 361.8 200.2 362.2 200.1 362.5 200.2 362.9 200.1 363.2 200.2 363.6 200.2 364 199.9 364.3 198.9 364.7 198 365 197.1 365.4 196.9 365.8 197.8 366.1 198.8 366.5 199.7 366.8 200.2 367.2 200.2 367.6 200.1 367.9 200.1 368.3 200.2 368.6 200.1 369 200.1 369.4 200.1 369.7 200.2 370.1 200.2 370.4 200.2 370.8 200.1 371.2 200.2 371.5 200.2 371.9 200.1 372.2 200.1 372.6 200.1 373 200.2 373.3 200.2 373.7 200.2 374 200.2 374.4 200.1 374.8 200.1 375.1 200.1 375.5 200.1 375.8 200.2 376.2 200.2 376.6 200.1 376.9 200.2 377.3 200.2 377.6 200.1 378 200.1 378.4 200.2 378.7 200.1 379.1 200.1 379.4 200.2 379.8 200.1 380.2 200.2 380.5 200.2 380.9 200.2 381.2 200.1 381.6 200.1 382 200.2 382.3 200.1 382.7 200.1 383 200.1 383.4 200.1 383.8 200.1 384.1 200.1 384.5 200.2 384.8 200.1 385.2 200.1 385.6 200.1 385.9 200.1 386.3 200.1 386.6 200.2 387 200.2 387.4 200.1 387.7 200.2 388.1 200.2 388.4 200.2 388.8 200.2 389.2 200.2 389.5 200.2 389.9 200.1 390.2 199.1 390.6 198.2 391 197.3 391.3 196.7 391.7 197.7 392 198.6 392.4 199.5 392.8 200.1 393.1 200.1 393.5 200.2 393.8 200.2 394.2 200.1 394.6 200.2 394.9 200.2 395.3 200.1 395.6 200.1 396 200.1 396.4 200.1 396.7 200.1 397.1 198.5 397.4 196.3 397.8 194.1 398.2 191.9 398.5 193.2 398.9 195.4 399.2 197.6 399.6 199.8 400 200.2 400.3 200.1 400.7 200.1 401 200.1 401.4 200.1 401.8 200.1 402.1 200.2 402.5 200.1 402.8 200.2 403.2 200.2 403.6 200.2 403.9 200.2 404.3 200.1 404.6 200.1 405 200.2 405.4 200.2 405.7 200.2 406.1 200.1 406.4 200.2 406.8 200.2 407.2 200.1 407.5 200.1 407.9 200.1 408.2 200.1 408.6 200.1 409 200.2 409.3 200.2 409.7 200.1 410 200.1 410.4 200.2 410.8 200.2 411.1 200.1 411.5 200.2 411.8 200.1 412.2 200.1 412.6 200.2 412.9 200.2 413.3 200.1 413.6 200.1 414 200.1 414.4 200.1 414.7 200.2 415.1 200.2 415.4 200.1 415.8 200.1 416.2 200.1 416.5 199.7 416.9 199.2 417.2 198.7 417.6 198.4 418 198.9 418.3 199.4 418.7 199.9 419 200.2 419.4 200.2 419.8 200.1 420.1 200.2 420.5 200.2 420.8 200.2 421.2 200.1 421.6 200.1 421.9 200.1 422.3 200.1 422.6 200.1 423 200.1 423.4 200.1 423.7 198 424.1 195.8 424.4 193.6 424.8 191.4 425.2 193.6 425.5 195.8 425.9 198 426.2 200.2 426.6 200.2 427 200.2 427.3 200.2 427.7 200.1 428 200.2 428.4 200.2 428.8 200.2 429.1 200.2 429.5 200.1 429.8 200.1 430.2 200.2 430.6 200.2 430.9 199.4 431.3 198.7 431.6 197.9 432 197.1 432.4 197.9 432.7 198.7 433.1 199.4 433.4 200.1 433.8 200.2 434.2 200.2 434.5 200.2" clip-path="url(#p96d05946dd)" style="fill: none; stroke: #aaaaaa; stroke-width: 1.1; stroke-linecap: square"/>
   </g>
   <g id="line2d_73">
    <path d="M322.2 201.24 322.2 167.28" clip-path="url(#p96d05946dd)" style="fill: none; stroke-dasharray: 1.85,0.8; stroke-dashoffset: 0; stroke: #000000; stroke-width: 0.5"/>
   </g>
   <g id="patch_21">
    <path d="M280.87 201.24 435.46 201.24" style="fill: none; stroke: #000000; stroke-width: 0.8; stroke-linejoin: miter; stroke-linecap: square"/>
   </g>
   <g id="line2d_74">
    <g>
     <use href="#m87fcf83af1" x="358.13" y="183.6" style="fill: #aaaaaa; stroke: #000000; stroke-width: 1.1"/>
    </g>
   </g>
   <g id="line2d_75">
    <defs>
     <path id="mb712ac3bd1" d="M0 2.8 C 0.74 2.8 1.45 2.5 1.98 1.98 C 2.5 1.45 2.8 0.74 2.8 0 C 2.8 -0.74 2.5 -1.45 1.98 -1.98 C 1.45 -2.5 0.74 -2.8 0 -2.8 C -0.74 -2.8 -1.45 -2.5 -1.98 -1.98 C -2.5 -1.45 -2.8 -0.74 -2.8 0 C -2.8 0.74 -2.5 1.45 -1.98 1.98 C -1.45 2.5 -0.74 2.8 0 2.8z"/>
    </defs>
    <g>
     <use href="#mb712ac3bd1" x="317.66" y="196.27" style="fill: #ffa500"/>
    </g>
   </g>
  </g>
  <g id="axes_10">
   <g id="patch_22">
    <path d="M166.54 245.16 257.04 245.16 257.04 211.2 166.54 211.2z" style="fill: #ffffff"/>
   </g>
   <g id="matplotlib.axis_19">
    <g id="xtick_32">
     <g id="line2d_76">
      <g>
       <use href="#m1504cfccaf" x="171" y="245.16" style="stroke: #000000; stroke-width: 0.8"/>
      </g>
     </g>
    </g>
    <g id="xtick_33">
     <g id="line2d_77">
      <g>
       <use href="#m1504cfccaf" x="203.69" y="245.16" style="stroke: #000000; stroke-width: 0.8"/>
      </g>
     </g>
    </g>
    <g id="xtick_34">
     <g id="line2d_78">
      <g>
       <use href="#m1504cfccaf" x="236.38" y="245.16" style="stroke: #000000; stroke-width: 0.8"/>
      </g>
     </g>
    </g>
   </g>
   <g id="matplotlib.axis_20"/>
   <g id="line2d_79">
    <path d="M170 233 170.1 235.2 170.2 236.5 170.3 236.3 170.3 234.5 170.4 231.3 170.5 227.1 170.6 222.6 170.7 218.8 170.8 216.2 170.8 215.2 170.9 216 171 218.2 171.1 221.1 171.2 224.1 171.2 226.6 171.3 228 171.4 228.3 171.5 227.8 171.6 226.8 171.7 226 171.7 225.9 171.8 226.9 171.9 228.9 172 231.6 172.1 234.4 172.1 236.6 172.2 237.6 172.3 237 172.4 234.7 172.5 231 172.6 226.6 172.6 222.3 172.7 218.7 172.8 216.6 172.9 216.2 173 217.2 173 219.5 173.1 222.1 173.2 224.6 173.3 226.3 173.4 226.9 173.4 226.6 173.5 225.7 173.6 224.8 173.7 224.3 173.8 224.9 173.9 226.7 173.9 229.4 174 232.6 174.1 235.6 174.2 237.8 174.3 238.4 174.3 237.3 174.4 234.6 174.5 230.6 174.6 226.2 174.7 222.1 174.8 219 174.8 217.4 174.9 217.4 175 218.8 175.1 220.9 175.2 223.1 175.2 224.9 175.3 225.8 175.4 225.6 175.5 224.8 175.6 223.6 175.7 222.8 175.7 222.9 175.8 224.2 175.9 226.6 176 230 176.1 233.6 176.2 236.7 176.2 238.6 176.3 238.8 176.4 237.3 176.5 234.2 176.6 230.1 176.6 225.9 176.7 222.2 176.8 219.7 176.9 218.6 177 219 177.1 220.4 177.1 222.3 177.2 224 177.3 225 177.4 225 177.4 224.2 177.5 222.9 177.6 221.6 177.7 221.1 177.8 221.7 177.9 223.7 177.9 226.8 178 230.6 178.1 234.4 178.2 237.4 178.3 239 178.3 238.9 178.4 236.9 178.5 233.6 178.6 229.6 178.7 225.6 178.8 222.5 178.8 220.6 178.9 220.1 179 220.8 179.1 222.2 179.2 223.7 179.2 224.8 179.3 224.9 179.4 224.1 179.5 222.6 179.6 221 179.7 219.8 179.7 219.6 179.8 220.8 179.9 223.4 180 227.1 180.1 231.3 180.2 235.1 180.2 237.9 180.3 239.1 180.4 238.5 180.5 236.2 180.6 232.8 180.6 229.1 180.7 225.6 180.8 223.1 180.9 221.8 181 221.8 181.1 222.8 181.1 224 181.2 225 181.3 225.3 181.4 224.6 181.5 223.1 181.5 221.1 181.6 219.2 181.7 218.2 181.8 218.4 181.9 220.2 181.9 223.4 182 227.5 182.1 231.8 182.2 235.6 182.3 238 182.4 238.8 182.4 237.8 182.5 235.3 182.6 232 182.7 228.6 182.8 225.7 182.8 223.9 182.9 223.3 183 223.8 183.1 224.8 183.2 225.8 183.3 226.2 183.3 225.7 183.4 224.2 183.5 221.9 183.6 219.5 183.7 217.6 183.8 216.8 183.8 217.6 183.9 219.9 184 223.6 184.1 228 184.2 232.3 184.2 235.8 184.3 237.8 184.4 238.1 184.5 236.7 184.6 234.2 184.7 231.1 184.7 228.2 184.8 226.1 184.9 225 185 225.1 185.1 225.8 185.1 226.8 185.2 227.4 185.3 227.2 185.4 225.8 185.5 223.5 185.6 220.7 185.6 218.1 185.7 216.2 185.8 215.8 185.9 217 185.9 219.9 186 223.9 186.1 228.4 186.2 232.5 186.3 235.6 186.4 237.2 186.4 237 186.5 235.4 186.6 233 186.7 230.3 186.8 228 186.8 226.7 186.9 226.4 187 226.9 187.1 227.9 187.2 228.8 187.3 228.9 187.3 227.9 187.4 225.8 187.5 222.8 187.6 219.6 187.7 216.8 187.8 215.2 187.8 215.2 187.9 216.9 188 220.1 188.1 224.3 188.2 228.7 188.2 232.6 188.3 235.1 188.4 236.2 188.5 235.6 188.6 233.9 188.7 231.7 188.7 229.5 188.8 228 188.9 227.5 189 227.9 189.1 228.9 189.1 230 189.2 230.6 189.3 230.1 189.4 228.4 189.5 225.5 189.6 222.1 189.6 218.6 189.7 215.8 189.8 214.5 189.9 214.9 190 217.1 190 220.6 190.1 224.8 190.2 229 190.3 232.3 190.4 234.3 190.4 234.8 190.5 234 190.6 232.3 190.7 230.4 190.8 228.9 190.9 228.2 190.9 228.5 191 229.6 191.1 230.9 191.2 232 191.3 232.1 191.3 231 191.4 228.6 191.5 225.2 191.6 221.3 191.7 217.7 191.8 215.1 191.8 214.2 191.9 215 192 217.5 192.1 221.2 192.2 225.3 192.2 229 192.3 231.8 192.4 233.2 192.5 233.2 192.6 232.2 192.7 230.6 192.7 229.2 192.8 228.4 192.9 228.6 193 229.7 193.1 231.3 193.2 232.8 193.2 233.7 193.3 233.4 193.4 231.7 193.5 228.7 193.6 224.7 193.6 220.6 193.7 217 193.8 214.8 193.9 214.2 194 215.5 194.1 218.2 194.1 221.9 194.2 225.7 194.3 228.9 194.4 230.9 194.4 231.7 194.5 231.3 194.6 230.2 194.7 229 194.8 228.2 194.9 228.2 194.9 229.2 195 231 195.1 233 195.2 234.6 195.3 235.2 195.3 234.4 195.4 232.1 195.5 228.5 195.6 224.2 195.7 220 195.8 216.7 195.8 214.8 195.9 214.7 196 216.3 196.1 219.2 196.2 222.6 196.2 225.9 196.3 228.5 196.4 229.8 196.5 230 196.6 229.3 196.7 228.2 196.7 227.4 196.8 227.3 196.9 228.1 197 229.9 197.1 232.3 197.2 234.6 197.2 236.2 197.3 236.4 197.4 235.1 197.5 232.2 197.6 228.2 197.6 223.7 197.7 219.7 197.8 216.6 197.9 215.2 198 215.6 198.1 217.4 198.1 220.2 198.2 223.3 198.3 226.1 198.4 227.8 198.5 228.5 198.5 228.2 198.6 227.2 198.7 226.3 198.8 226 198.9 226.6 198.9 228.3 199 230.8 199.1 233.6 199.2 236 199.3 237.4 199.4 237.3 199.4 235.4 199.5 232.1 199.6 227.8 199.7 223.3 199.8 219.5 199.8 216.9 199.9 216 200 216.7 200.1 218.7 200.2 221.4 200.3 224 200.3 226 200.4 226.9 200.5 226.9 200.6 226.1 200.7 225.1 200.8 224.5 200.8 224.8 200.9 226.2 201 228.6 201.1 231.7 201.2 234.8 201.2 237.3 201.3 238.3 201.4 237.7 201.5 235.4 201.6 231.7 201.7 227.4 201.7 223.1 201.8 219.7 201.9 217.6 202 217.2 202.1 218.2 202.1 220.2 202.2 222.5 202.3 224.5 202.4 225.7 202.5 225.8 202.5 225.2 202.6 224.1 202.7 223.1 202.8 222.9 202.9 223.8 202.9 225.9 203 229.1 203.1 232.6 203.2 235.9 203.3 238.2 203.4 238.9 203.4 237.8 203.5 235.1 203.6 231.2 203.7 226.9 203.8 223 203.8 220.1 203.9 218.6 204 218.7 204.1 219.9 204.2 221.7 204.3 223.6 204.3 224.8 204.4 225.2 204.5 224.6 204.6 223.4 204.7 222.1 204.8 221.3 204.8 221.5 204.9 223.1 205 225.9 205.1 229.6 205.2 233.5 205.2 236.8 205.3 238.8 205.4 239.1 205.5 237.6 205.6 234.6 205.7 230.7 205.7 226.6 205.8 223.1 205.9 220.8 206 220 206.1 220.4 206.1 221.7 206.2 223.2 206.3 224.5 206.4 224.9 206.5 224.5 206.6 223.2 206.6 221.5 206.7 220.2 206.8 219.6 206.9 220.4 207 222.7 207 226.1 207.1 230.2 207.2 234.2 207.3 237.3 207.4 239 207.4 238.8 207.5 237 207.6 233.8 207.7 230.1 207.8 226.4 207.9 223.5 207.9 221.9 208 221.6 208.1 222.3 208.2 223.6 208.3 224.7 208.3 225.3 208.4 224.9 208.5 223.6 208.6 221.7 208.7 219.8 208.8 218.4 208.8 218.3 208.9 219.7 209 222.5 209.1 226.4 209.2 230.7 209.2 234.7 209.3 237.6 209.4 238.8 209.5 238.2 209.6 236.1 209.7 232.9 209.7 229.4 209.8 226.3 209.9 224.2 210 223.2 210.1 223.4 210.2 224.3 210.2 225.4 210.3 226.1 210.4 225.9 210.5 224.6 210.6 222.6 210.6 220.2 210.7 218.1 210.8 217 210.9 217.3 211 219.2 211 222.5 211.1 226.8 211.2 231.2 211.3 235 211.4 237.5 211.4 238.2 211.5 237.3 211.6 235 211.7 232 211.8 228.9 211.9 226.5 211.9 225.1 212 224.8 212.1 225.4 212.2 226.4 212.3 227.2 212.3 227.2 212.4 226.2 212.5 224.2 212.6 221.6 212.7 218.8 212.8 216.7 212.8 215.8 212.9 216.6 213 219 213.1 222.8 213.2 227.2 213.2 231.6 213.3 235 213.4 237 213.5 237.3 213.6 236.1 213.7 233.7 213.7 231 213.8 228.6 213.9 226.9 214 226.2 214.1 226.6 214.2 227.5 214.2 228.4 214.3 228.8 214.4 228.2 214.5 226.4 214.6 223.7 214.6 220.5 214.7 217.5 214.8 215.5 214.9 215.1 215 216.3 215.1 219.2 215.1 223.2 215.2 227.6 215.3 231.7 215.4 234.7 215.5 236.1 215.5 236 215.6 234.6 215.7 232.4 215.8 230.1 215.9 228.3 215.9 227.5 216 227.6 216.1 228.5 216.2 229.6 216.3 230.3 216.4 230.2 216.4 228.9 216.5 226.3 216.6 223 216.7 219.5 216.8 216.5 216.8 214.7 216.9 214.6 217 216.3 217.1 219.6 217.2 223.7 217.3 228 217.3 231.6 217.4 234 217.5 234.9 217.6 234.4 217.7 232.9 217.8 231 217.8 229.3 217.9 228.3 218 228.3 218.1 229.1 218.2 230.4 218.2 231.6 218.3 232.1 218.4 231.4 218.5 229.3 218.6 226.1 218.6 222.3 218.7 218.6 218.8 215.7 218.9 214.3 219 214.6 219.1 216.7 219.1 220.2 219.2 224.2 219.3 228.2 219.4 231.2 219.5 233.1 219.5 233.4 219.6 232.6 219.7 231.2 219.8 229.6 219.9 228.6 219.9 228.5 220 229.3 220.1 230.7 220.2 232.3 220.3 233.4 220.4 233.5 220.4 232.2 220.5 229.5 220.6 225.8 220.7 221.7 220.8 217.9 220.8 215.2 220.9 214.2 221 215 221.1 217.4 221.2 220.9 221.3 224.7 221.3 228.2 221.4 230.6 221.5 231.8 221.6 231.7 221.7 230.7 221.8 229.4 221.8 228.4 221.9 228.1 222 228.8 222.1 230.4 222.2 232.3 222.2 234.1 222.3 235.1 222.4 234.7 222.5 232.8 222.6 229.5 222.7 225.3 222.7 221.1 222.8 217.4 222.9 215.1 223 214.5 223.1 215.7 223.1 218.3 223.2 221.7 223.3 225.1 223.4 228 223.5 229.7 223.6 230.2 223.6 229.7 223.7 228.7 223.8 227.7 223.9 227.3 224 227.8 224 229.4 224.1 231.6 224.2 233.9 224.3 235.7 224.4 236.4 224.4 235.5 224.5 233.1 224.6 229.3 224.7 224.9 224.8 220.6 224.9 217.3 224.9 215.4 225 215.2 225.1 216.7 225.2 219.4 225.3 222.5 225.3 225.4 225.4 227.5 225.5 228.5 225.6 228.5 225.7 227.7 225.8 226.7 225.8 226.1 225.9 226.4 226 227.8 226.1 230.1 226.2 232.8 226.2 235.4 226.3 237.1 226.4 237.4 226.5 236 226.6 233 226.7 228.9 226.7 224.5 226.8 220.4 226.9 217.4 227 216 227.1 216.3 227.1 218 227.2 220.6 227.3 223.3 227.4 225.6 227.5 226.9 227.6 227.1 227.6 226.5 227.7 225.6 227.8 224.8 227.9 224.7 228 225.8 228 227.9 228.1 230.8 228.2 234 228.3 236.7 228.4 238.2 228.4 238 228.5 236.2 228.6 232.8 228.7 228.5 228.8 224.1 228.9 220.4 228.9 217.9 229 217 229.1 217.7 229.2 219.5 229.3 221.8 229.3 224 229.4 225.5 229.5 226 229.6 225.6 229.7 224.5 229.8 223.5 229.8 223 229.9 223.6 230 225.3 230.1 228.2 230.2 231.7 230.2 235.1 230.3 237.7 230.4 238.9 230.5 238.3 230.6 236 230.7 232.3 230.7 228.1 230.8 223.9 230.9 220.7 231 218.8 231.1 218.4 231.2 219.3 231.2 221.1 231.3 223 231.4 224.5 231.5 225.2 231.6 224.9 231.6 223.8 231.7 222.5 231.8 221.5 231.9 221.5 232 222.6 232.1 225.1 232.1 228.6 232.2 232.5 232.3 236 232.4 238.4 232.5 239.2 232.5 238.2 232.6 235.5 232.7 231.7 232.8 227.6 232.9 223.9 232.9 221.2 233 219.9 233.1 220 233.2 221.1 233.3 222.7 233.4 224.2 233.4 224.9 233.5 224.7 233.6 223.7 233.7 222.1 233.8 220.6 233.8 219.8 233.9 220.2 234 222 234.1 225.1 234.2 229.1 234.2 233.2 234.3 236.6 234.4 238.7 234.5 239.1 234.6 237.7 234.7 234.8 234.7 231.1 234.8 227.3 234.9 224.1 235 222.1 235.1 221.4 235.2 221.9 235.2 223.1 235.3 224.3 235.4 225.1 235.5 225.1 235.6 224.1 235.6 222.3 235.7 220.3 235.8 218.8 235.9 218.3 236 219.2 236.1 221.7 236.1 225.3 236.2 229.6 236.3 233.8 236.4 237 236.5 238.7 236.5 238.6 236.6 236.9 236.7 233.9 236.8 230.4 236.9 227.1 236.9 224.6 237 223.3 237.1 223.1 237.2 223.9 237.3 225 237.4 225.8 237.4 225.9 237.5 225.1 237.6 223.2 237.7 220.9 237.8 218.7 237.8 217.3 237.9 217.1 238 218.6 238.1 221.6 238.2 225.7 238.3 230.1 238.3 234.1 238.4 237 238.5 238.3 238.6 237.8 238.7 235.8 238.8 232.9 238.8 229.7 238.9 227 239 225.3 239.1 224.7 239.2 225.1 239.2 226 239.3 226.9 239.4 227.2 239.5 226.5 239.6 224.8 239.7 222.3 239.7 219.6 239.8 217.2 239.9 216 240 216.3 240.1 218.3 240.1 221.7 240.2 226.1 240.3 230.5 240.4 234.2 240.5 236.7 240.6 237.4 240.6 236.6 240.7 234.5 240.8 231.8 240.9 229.2 241 227.2 241 226.2 241.1 226.3 241.2 227.1 241.3 228.1 241.4 228.7 241.4 228.3 241.5 226.9 241.6 224.4 241.7 221.4 241.8 218.3 241.9 216 241.9 215.1 242 215.8 242.1 218.3 242.2 222.1 242.3 226.5 242.3 230.7 242.4 234.1 242.5 236 242.6 236.3 242.7 235.2 242.8 233.1 242.8 230.7 242.9 228.7 243 227.6 243.1 227.4 243.2 228.1 243.2 229.2 243.3 230.1 243.4 230.2 243.5 229.3 243.6 227.1 243.7 223.9 243.7 220.4 243.8 217.2 243.9 215.1 244 214.5 244.1 215.8 244.1 218.6 244.2 222.6 244.3 226.9 244.4 230.8 244.5 233.6 244.6 234.9 244.6 234.8 244.7 233.5 244.8 231.6 244.9 229.7 245 228.5 245 228.1 245.1 228.7 245.2 229.9 245.3 231.2 245.4 231.9 245.4 231.6 245.5 229.9 245.6 227 245.7 223.3 245.8 219.5 245.9 216.4 245.9 214.5 246 214.4 246.1 216 246.2 219.2 246.3 223.1 246.3 227.2 246.4 230.6 246.5 232.8 246.6 233.6 246.7 233.1 246.8 231.7 246.8 230.1 246.9 228.8 247 228.4 247.1 228.9 247.2 230.2 247.2 231.8 247.3 233.1 247.4 233.5 247.5 232.6 247.6 230.3 247.7 226.8 247.7 222.7 247.8 218.8 247.9 215.8 248 214.3 248.1 214.6 248.2 216.6 248.2 219.9 248.3 223.7 248.4 227.4 248.5 230.2 248.6 231.7 248.6 231.9 248.7 231.2 248.8 229.9 248.9 228.7 249 228.2 249.1 228.6 249.1 229.8 249.2 231.7 249.3 233.6 249.4 234.8 249.5 234.8 249.5 233.3 249.6 230.4 249.7 226.5 249.8 222.2 249.9 218.3 249.9 215.5 250 214.5 250.1 215.2 250.2 217.5 250.3 220.7 250.3 224.3 250.4 227.4 250.5 229.5 250.6 230.3 250.7 230.1 250.8 229.1 250.8 228.1 250.9 227.4 251 227.6 251.1 228.9 251.2 230.9 251.2 233.2 251.3 235.2 251.4 236.3 251.5 235.8 251.6 233.8 251.7 230.3 251.7 226.1 251.8 221.7 251.9 218 252 215.7 252.1 215.1 252.2 216.1 252.2 218.6 252.3 221.7 252.4 224.7 252.5 227.1 252.6 228.5 252.6 228.7" clip-path="url(#p84a15dad44)" style="fill: none; stroke: #cccccc; stroke-width: 0.75; stroke-linecap: square"/>
   </g>
   <g id="line2d_80">
    <g clip-path="url(#p84a15dad44)">
     <use href="#mc523a5838a" x="171" y="241.51"/>
     <use href="#mc523a5838a" x="173.08" y="241.51"/>
     <use href="#mc523a5838a" x="185.57" y="241.51"/>
     <use href="#mc523a5838a" x="187.66" y="241.51"/>
     <use href="#mc523a5838a" x="189.74" y="241.51"/>
     <use href="#mc523a5838a" x="191.82" y="241.51"/>
     <use href="#mc523a5838a" x="193.9" y="241.51"/>
     <use href="#mc523a5838a" x="195.98" y="241.51"/>
     <use href="#mc523a5838a" x="198.07" y="241.51"/>
     <use href="#mc523a5838a" x="200.15" y="241.51"/>
     <use href="#mc523a5838a" x="202.23" y="241.51"/>
     <use href="#mc523a5838a" x="214.72" y="241.51"/>
     <use href="#mc523a5838a" x="216.81" y="241.51"/>
     <use href="#mc523a5838a" x="218.89" y="241.51"/>
     <use href="#mc523a5838a" x="220.97" y="241.51"/>
     <use href="#mc523a5838a" x="223.05" y="241.51"/>
     <use href="#mc523a5838a" x="225.14" y="241.51"/>
     <use href="#mc523a5838a" x="227.22" y="241.51"/>
     <use href="#mc523a5838a" x="229.3" y="241.51"/>
     <use href="#mc523a5838a" x="241.79" y="241.51"/>
     <use href="#mc523a5838a" x="243.88" y="241.51"/>
     <use href="#mc523a5838a" x="245.96" y="241.51"/>
     <use href="#mc523a5838a" x="248.04" y="241.51"/>
     <use href="#mc523a5838a" x="250.12" y="241.51"/>
    </g>
   </g>
   <g id="patch_23">
    <path d="M166.54 245.16 257.04 245.16" style="fill: none; stroke: #000000; stroke-width: 0.8; stroke-linejoin: miter; stroke-linecap: square"/>
   </g>
   <g id="line2d_81">
    <path d="M170.02 215.22 170.84 215.22 172.85 216.12 174.87 217.26 176.89 218.6 179.72 219.51 181.73 218.07 183.75 216.8 185.77 215.76 187.79 214.96 189.8 214.45 191.85 214.19 193.87 214.21 195.89 214.54 197.9 215.16 199.92 216.05 201.94 217.17 203.99 218.49 206.79 219.64 208.8 218.18 210.82 216.9 212.84 215.84 214.85 215.03 216.9 214.47 218.92 214.18 220.94 214.2 222.96 214.51 224.97 215.11 227.02 215.98 229.04 217.06 231.06 218.36 233.85 219.77 235.87 218.31 237.89 217.01 239.91 215.93 241.96 215.09 243.97 214.5 245.99 214.19 248.01 214.19 250.02 214.48 252.07 215.06" clip-path="url(#p84a15dad44)" style="fill: none; stroke: #ff4500; stroke-width: 1.1; stroke-linecap: square"/>
   </g>
  </g>
  <g id="axes_11">
   <g id="patch_24">
    <path d="M280.87 245.16 435.46 245.16 435.46 211.2 280.87 211.2z" style="fill: #ffffff"/>
   </g>
   <g id="matplotlib.axis_21">
    <g id="xtick_35">
     <g id="line2d_82">
      <g>
       <use href="#m1504cfccaf" x="285.48" y="245.16" style="stroke: #000000; stroke-width: 0.8"/>
      </g>
     </g>
    </g>
    <g id="xtick_36">
     <g id="line2d_83">
      <g>
       <use href="#m1504cfccaf" x="332.28" y="245.16" style="stroke: #000000; stroke-width: 0.8"/>
      </g>
     </g>
    </g>
    <g id="xtick_37">
     <g id="line2d_84">
      <g>
       <use href="#m1504cfccaf" x="379.08" y="245.16" style="stroke: #000000; stroke-width: 0.8"/>
      </g>
     </g>
    </g>
    <g id="xtick_38">
     <g id="line2d_85">
      <g>
       <use href="#m1504cfccaf" x="425.88" y="245.16" style="stroke: #000000; stroke-width: 0.8"/>
      </g>
     </g>
    </g>
   </g>
   <g id="matplotlib.axis_22"/>
   <g id="line2d_86">
    <path d="M281.5 244.1 281.9 244.2 282.2 244.1 282.6 244 283 244 283.3 244.1 283.7 244.1 284 244 284.4 244 284.8 244.1 285.1 244.1 285.5 244.1 285.8 244.1 286.2 244.1 286.6 244 286.9 244 287.3 244 287.6 244.1 288 244.1 288.4 244.1 288.7 244.1 289.1 243.8 289.4 243.3 289.8 242.8 290.2 242.2 290.5 242.3 290.9 242.9 291.2 243.4 291.6 243.9 292 244.1 292.3 244.1 292.7 244 293 244.1 293.4 244 293.8 243.8 294.1 243.6 294.5 243.4 294.8 243.6 295.2 243.8 295.6 244 295.9 244.1 296.3 244.1 296.6 244.1 297 244.2 297.4 244 297.7 244.1 298.1 244 298.4 244 298.8 244.2 299.2 244 299.5 244.1 299.9 244.1 300.2 244.1 300.6 244 301 244.1 301.3 244 301.7 244 302 244.1 302.4 244 302.8 244 303.1 244 303.5 244.1 303.8 244.2 304.2 244.1 304.6 244.1 304.9 244.1 305.3 244.1 305.6 244.1 306 244 306.4 244.1 306.7 244.1 307.1 244.1 307.4 244 307.8 244.1 308.2 244 308.5 244 308.9 244.1 309.2 244.2 309.6 244 310 244.1 310.3 244 310.7 244.1 311 244.1 311.4 244 311.8 244.1 312.1 244 312.5 244.1 312.8 244 313.2 244.1 313.6 244 313.9 244.1 314.3 244.1 314.6 244.1 315 244.1 315.4 244 315.7 244.1 316.1 244.1 316.4 244 316.8 244.1 317.2 244.1 317.5 244.1 317.9 244.1 318.2 244 318.6 244.1 319 244 319.3 244 319.7 244 320 244 320.4 244 320.8 244 321.1 244 321.5 244.1 321.8 244.1 322.2 244 322.6 244 322.9 244 323.3 244 323.6 244 324 244 324.4 244 324.7 244 325.1 244 325.4 244 325.8 244 326.2 244.1 326.5 244.1 326.9 244.1 327.2 244 327.6 244.1 328 244.2 328.3 244 328.7 244.1 329 244.1 329.4 244 329.8 244.1 330.1 244 330.5 244 330.8 244.2 331.2 244 331.6 244 331.9 244.1 332.3 244 332.6 244.1 333 244 333.4 244.1 333.7 244.1 334.1 244.1 334.4 244 334.8 244.2 335.2 244 335.5 244 335.9 244 336.2 244 336.6 244 337 244 337.3 244.1 337.7 244.1 338 244 338.4 244.1 338.8 244 339.1 244.1 339.5 244.1 339.8 244.1 340.2 244.1 340.6 244 340.9 244.1 341.3 244.1 341.6 244.1 342 244 342.4 244 342.7 244.1 343.1 244 343.4 244.1 343.8 244.1 344.2 244 344.5 244.1 344.9 244.1 345.2 244 345.6 243.8 346 243.4 346.3 243 346.7 242.6 347 242.8 347.4 243.2 347.8 243.7 348.1 244 348.5 244.1 348.8 244.1 349.2 244.1 349.6 244.1 349.9 244 350.3 244 350.6 244 351 244.1 351.4 243.7 351.7 242.5 352.1 241.3 352.4 240.1 352.8 239.8 353.2 241 353.5 242.2 353.9 243.4 354.2 244.1 354.6 244 355 244 355.3 244 355.7 244.1 356 244 356.4 244.1 356.8 238 357.1 231.8 357.5 225.7 357.8 219.6 358.2 215.9 358.6 222 358.9 228.2 359.3 234.3 359.6 240.5 360 244 360.4 244.1 360.7 244 361.1 244.1 361.4 244 361.8 244.1 362.2 243.4 362.5 241.7 362.9 239.9 363.2 238.1 363.6 237.7 364 239.5 364.3 241.3 364.7 243.1 365 244 365.4 244 365.8 244.1 366.1 244.1 366.5 244.1 366.8 244 367.2 244.1 367.6 244 367.9 244.1 368.3 244 368.6 244 369 244.1 369.4 244.1 369.7 244 370.1 244.1 370.4 244.1 370.8 244 371.2 244.1 371.5 244 371.9 244 372.2 244 372.6 244.1 373 244 373.3 244 373.7 244 374 244 374.4 244 374.8 244.1 375.1 244.2 375.5 244 375.8 244.1 376.2 244.1 376.6 244.1 376.9 244.1 377.3 244 377.6 244 378 244.1 378.4 244 378.7 244.1 379.1 244.1 379.4 244.1 379.8 244 380.2 244 380.5 244 380.9 244 381.2 244 381.6 244.1 382 244 382.3 244.1 382.7 244.1 383 244.1 383.4 244.2 383.8 244 384.1 244.1 384.5 244 384.8 244 385.2 244 385.6 244 385.9 244.1 386.3 244.1 386.6 244.1 387 244 387.4 244 387.7 244 388.1 244 388.4 244.1 388.8 244.1 389.2 244 389.5 244.2 389.9 244.1 390.2 244.1 390.6 244.1 391 244 391.3 244.1 391.7 244 392 244.1 392.4 244.1 392.8 244 393.1 244.1 393.5 244 393.8 244.1 394.2 244.1 394.6 244.1 394.9 244 395.3 244.1 395.6 244.1 396 244.2 396.4 244.1 396.7 244.1 397.1 244 397.4 244.1 397.8 244.1 398.2 244.1 398.5 244.1 398.9 244.1 399.2 244 399.6 244.1 400 244.1 400.3 244.1 400.7 244 401 244.1 401.4 244 401.8 244.1 402.1 244 402.5 244.1 402.8 244 403.2 244 403.6 244 403.9 244 404.3 244 404.6 244.1 405 244.1 405.4 244 405.7 244.1 406.1 244.2 406.4 244.1 406.8 244 407.2 244.1 407.5 244 407.9 244 408.2 244.1 408.6 244 409 244 409.3 244.1 409.7 244.1 410 244.1 410.4 244.1 410.8 244.1 411.1 244.1 411.5 244.1 411.8 244 412.2 244 412.6 244.1 412.9 244 413.3 244.1 413.6 244 414 244.1 414.4 244 414.7 244.1 415.1 244.1 415.4 244.1 415.8 244.1 416.2 244.1 416.5 244.1 416.9 244 417.2 244.2 417.6 244.1 418 244.1 418.3 244.1 418.7 244 419 244 419.4 244 419.8 243.6 420.1 243.3 420.5 243 420.8 243.1 421.2 243.4 421.6 243.7 421.9 244 422.3 244.1 422.6 244 423 244.1 423.4 244.1 423.7 244 424.1 244.1 424.4 244.1 424.8 244.1 425.2 243.8 425.5 242.3 425.9 240.8 426.2 239.3 426.6 238.3 427 239.9 427.3 241.4 427.7 242.9 428 244 428.4 244.1 428.8 244.1 429.1 244 429.5 244 429.8 244.1 430.2 244.1 430.6 242.1 430.9 237.1 431.3 232.1 431.6 227.1 432 222.1 432.4 227.1 432.7 232.1 433.1 237.1 433.4 242.1 433.8 244.1 434.2 244.1 434.5 244.1" clip-path="url(#peea9d7d8ad)" style="fill: none; stroke: #aaaaaa; stroke-width: 1.1; stroke-linecap: square"/>
   </g>
   <g id="line2d_87">
    <path d="M322.2 245.16 322.2 211.2" clip-path="url(#peea9d7d8ad)" style="fill: none; stroke-dasharray: 1.85,0.8; stroke-dashoffset: 0; stroke: #000000; stroke-width: 0.5"/>
   </g>
   <g id="patch_25">
    <path d="M280.87 245.16 435.46 245.16" style="fill: none; stroke: #000000; stroke-width: 0.8; stroke-linejoin: miter; stroke-linecap: square"/>
   </g>
   <g id="line2d_88">
    <g>
     <use href="#m87fcf83af1" x="358.13" y="216.29" style="fill: #aaaaaa; stroke: #000000; stroke-width: 1.1"/>
    </g>
   </g>
   <g id="line2d_89">
    <defs>
     <path id="m0d6b4caa35" d="M0 2.8 C 0.74 2.8 1.45 2.5 1.98 1.98 C 2.5 1.45 2.8 0.74 2.8 0 C 2.8 -0.74 2.5 -1.45 1.98 -1.98 C 1.45 -2.5 0.74 -2.8 0 -2.8 C -0.74 -2.8 -1.45 -2.5 -1.98 -1.98 C -2.5 -1.45 -2.8 -0.74 -2.8 0 C -2.8 0.74 -2.5 1.45 -1.98 1.98 C -1.45 2.5 -0.74 2.8 0 2.8z"/>
    </defs>
    <g>
     <use href="#m0d6b4caa35" x="290.3" y="238.68" style="fill: #ff4500"/>
    </g>
   </g>
  </g>
  <g id="axes_12">
   <g id="patch_26">
    <path d="M166.54 289.08 257.04 289.08 257.04 255.12 166.54 255.12z" style="fill: #ffffff"/>
   </g>
   <g id="matplotlib.axis_23">
    <g id="xtick_39">
     <g id="line2d_90">
      <g>
       <use href="#m1504cfccaf" x="171" y="289.08" style="stroke: #000000; stroke-width: 0.8"/>
      </g>
     </g>
    </g>
    <g id="xtick_40">
     <g id="line2d_91">
      <g>
       <use href="#m1504cfccaf" x="203.69" y="289.08" style="stroke: #000000; stroke-width: 0.8"/>
      </g>
     </g>
    </g>
    <g id="xtick_41">
     <g id="line2d_92">
      <g>
       <use href="#m1504cfccaf" x="236.38" y="289.08" style="stroke: #000000; stroke-width: 0.8"/>
      </g>
     </g>
    </g>
   </g>
   <g id="matplotlib.axis_24"/>
   <g id="line2d_93">
    <path d="M170 272.7 170.1 271.8 170.2 272.3 170.3 273.8 170.3 275.5 170.4 276.2 170.5 275.4 170.6 272.6 170.7 268.5 170.8 264 170.8 260.3 170.9 258.3 171 258.7 171.1 261.1 171.2 264.9 171.2 268.8 171.3 271.9 171.4 273.4 171.5 273.2 171.6 272 171.7 270.6 171.7 270 171.8 270.8 171.9 273.2 172 276.6 172.1 279.8 172.1 281.9 172.2 282 172.3 279.9 172.4 276 172.5 271.2 172.6 266.7 172.6 263.7 172.7 262.6 172.8 263.4 172.9 265.3 173 267.4 173 268.7 173.1 268.6 173.2 267.2 173.3 265 173.4 263.1 173.4 262.5 173.5 263.8 173.6 267 173.7 271.6 173.8 276.4 173.9 280.2 173.9 282.1 174 281.8 174.1 279.5 174.2 276.2 174.3 272.9 174.3 270.7 174.4 270.1 174.5 270.8 174.6 272.2 174.7 273.4 174.8 273.4 174.8 271.7 174.9 268.5 175 264.5 175.1 260.8 175.2 258.5 175.2 258.4 175.3 260.6 175.4 264.4 175.5 268.9 175.6 272.9 175.7 275.4 175.7 276.1 175.8 275.2 175.9 273.5 176 272.1 176.1 271.7 176.2 272.9 176.2 275.2 176.3 278 176.4 280.2 176.5 280.7 176.6 279.1 176.6 275.6 176.7 270.9 176.8 266 176.9 262.3 177 260.6 177.1 260.9 177.1 263 177.2 265.7 177.3 268.1 177.4 269.4 177.4 269.1 177.5 267.8 177.6 266.1 177.7 265 177.8 265.6 177.9 267.9 177.9 271.8 178 276.4 178.1 280.3 178.2 282.7 178.3 282.8 178.3 280.7 178.4 277.1 178.5 273.1 178.6 269.8 178.7 268 178.8 267.8 178.8 268.9 178.9 270.4 179 271.2 179.1 270.6 179.2 268.5 179.2 265.3 179.3 261.9 179.4 259.6 179.5 259 179.6 260.7 179.7 264.4 179.7 269.1 179.8 273.7 179.9 277.1 180 278.6 180.1 278.1 180.2 276.3 180.2 274.1 180.3 272.6 180.4 272.4 180.5 273.6 180.6 275.7 180.6 277.7 180.7 278.7 180.8 277.8 180.9 274.9 181 270.5 181.1 265.7 181.1 261.6 181.2 259.3 181.3 259.2 181.4 261.1 181.5 264.3 181.5 267.7 181.6 270.2 181.7 271.1 181.8 270.6 181.9 269.3 181.9 268 182 267.7 182.1 269.1 182.2 272 182.3 276 182.4 279.8 182.4 282.4 182.5 282.9 182.6 281.2 182.7 277.6 182.8 273.1 182.8 268.9 182.9 266.1 183 265.1 183.1 265.7 183.2 267.3 183.3 268.9 183.3 269.5 183.4 268.6 183.5 266.5 183.6 263.7 183.7 261.4 183.8 260.4 183.8 261.6 183.9 264.8 184 269.4 184.1 274.3 184.2 278.3 184.2 280.5 184.3 280.5 184.4 278.7 184.5 276 184.6 273.4 184.7 271.9 184.7 271.9 184.8 273.1 184.9 274.8 185 276 185.1 275.8 185.1 273.8 185.2 270.2 185.3 265.7 185.4 261.5 185.5 258.8 185.6 258.2 185.6 260 185.7 263.4 185.8 267.4 185.9 270.9 185.9 273.1 186 273.5 186.1 272.6 186.2 271.1 186.3 270.1 186.4 270.4 186.4 272.2 186.5 275.2 186.6 278.6 186.7 281.3 186.8 282.2 186.8 280.9 186.9 277.6 187 273 187.1 268.2 187.2 264.6 187.3 262.7 187.3 262.8 187.4 264.5 187.5 266.6 187.6 268.4 187.7 268.9 187.8 267.9 187.8 265.9 187.9 263.8 188 262.6 188.1 263.1 188.2 265.7 188.2 269.8 188.3 274.6 188.4 278.9 188.5 281.6 188.6 282.2 188.7 280.6 188.7 277.5 188.8 274.1 188.9 271.4 189 270.1 189.1 270.3 189.1 271.6 189.2 273 189.3 273.5 189.4 272.5 189.5 269.8 189.6 266 189.6 262.1 189.7 259.1 189.8 258.2 189.9 259.5 190 262.8 190 267.2 190.1 271.6 190.2 274.7 190.3 276.1 190.4 275.8 190.4 274.3 190.5 272.6 190.6 271.7 190.7 272.3 190.8 274.2 190.9 276.9 190.9 279.5 191 280.7 191.1 279.9 191.2 277.1 191.3 272.7 191.3 267.7 191.4 263.5 191.5 260.9 191.6 260.5 191.7 262 191.8 264.6 191.8 267.3 191.9 269.1 192 269.4 192.1 268.4 192.2 266.7 192.2 265.4 192.3 265.2 192.4 266.9 192.5 270.3 192.6 274.7 192.7 279 192.7 282 192.8 283 192.9 281.7 193 278.6 193.1 274.6 193.2 270.9 193.2 268.4 193.3 267.6 193.4 268.3 193.5 269.8 193.6 270.9 193.6 271 193.7 269.4 193.8 266.6 193.9 263.2 194 260.3 194.1 259 194.1 259.9 194.2 262.9 194.3 267.3 194.4 272.1 194.4 276.1 194.5 278.3 194.6 278.6 194.7 277.1 194.8 275 194.9 273.1 194.9 272.3 195 273 195.1 274.8 195.2 277 195.3 278.4 195.3 278.3 195.4 276.1 195.5 272.2 195.6 267.4 195.7 263 195.8 259.9 195.8 258.9 195.9 260.2 196 263 196.1 266.5 196.2 269.4 196.2 271 196.3 271.1 196.4 269.9 196.5 268.5 196.6 267.7 196.7 268.4 196.7 270.8 196.8 274.4 196.9 278.4 197 281.6 197.1 283 197.2 282.1 197.2 279.1 197.3 274.8 197.4 270.4 197.5 266.9 197.6 265.2 197.6 265.2 197.7 266.6 197.8 268.3 197.9 269.4 198 269.1 198.1 267.4 198.1 264.8 198.2 262.2 198.3 260.6 198.4 261 198.5 263.4 198.5 267.6 198.6 272.6 198.7 277 198.8 279.9 198.9 280.8 198.9 279.6 199 277.1 199.1 274.3 199.2 272.3 199.3 271.7 199.4 272.5 199.4 274.1 199.5 275.6 199.6 276 199.7 274.7 199.8 271.6 199.8 267.4 199.9 262.9 200 259.6 200.1 258.2 200.2 259.1 200.3 261.9 200.3 265.9 200.4 269.7 200.5 272.5 200.6 273.6 200.7 273.1 200.8 271.8 200.8 270.4 200.9 270.1 201 271.4 201.1 274 201.2 277.4 201.2 280.4 201.3 282.1 201.4 281.7 201.5 279 201.6 274.8 201.7 269.9 201.7 265.7 201.8 263.1 201.9 262.5 202 263.7 202.1 265.8 202.1 267.8 202.2 268.8 202.3 268.4 202.4 266.8 202.5 264.6 202.5 263 202.6 262.8 202.7 264.5 202.8 268.1 202.9 272.9 202.9 277.5 203 280.9 203.1 282.3 203.2 281.4 203.3 278.8 203.4 275.4 203.4 272.2 203.5 270.4 203.6 270 203.7 271 203.8 272.4 203.8 273.4 203.9 273 204 270.9 204.1 267.5 204.2 263.5 204.3 260.1 204.3 258.3 204.4 258.8 204.5 261.4 204.6 265.6 204.7 270.1 204.8 273.8 204.8 275.9 204.9 276.1 205 275 205.1 273.2 205.2 272 205.2 271.9 205.3 273.4 205.4 275.9 205.5 278.6 205.6 280.4 205.7 280.4 205.7 278.4 205.8 274.4 205.9 269.6 206 264.9 206.1 261.6 206.1 260.4 206.2 261.2 206.3 263.6 206.4 266.4 206.5 268.6 206.6 269.5 206.6 269 206.7 267.5 206.8 265.9 206.9 265.1 207 266.1 207 268.9 207.1 273 207.2 277.5 207.3 281.1 207.4 282.9 207.4 282.5 207.5 279.9 207.6 276.1 207.7 272.1 207.8 269.1 207.9 267.6 207.9 267.8 208 269.1 208.1 270.5 208.2 271.1 208.3 270.2 208.3 267.8 208.4 264.5 208.5 261.3 208.6 259.3 208.7 259.3 208.8 261.5 208.8 265.6 208.9 270.4 209 274.8 209.1 277.8 209.2 278.8 209.2 277.9 209.3 275.9 209.4 273.7 209.5 272.5 209.6 272.6 209.7 274 209.7 276.1 209.8 278 209.9 278.5 210 277.1 210.1 273.8 210.2 269.2 210.2 264.5 210.3 260.8 210.4 259 210.5 259.4 210.6 261.8 210.6 265.2 210.7 268.4 210.8 270.6 210.9 271.3 211 270.5 211 269.1 211.1 267.9 211.2 268 211.3 269.8 211.4 273 211.4 277 211.5 280.6 211.6 282.7 211.7 282.7 211.8 280.4 211.9 276.5 211.9 271.9 212 268 212.1 265.5 212.2 264.9 212.3 265.9 212.3 267.6 212.4 269 212.5 269.4 212.6 268.2 212.7 265.9 212.8 263.1 212.8 261.1 212.9 260.6 213 262.3 213.1 265.9 213.2 270.7 213.2 275.5 213.3 279.1 213.4 280.8 213.5 280.3 213.6 278.2 213.7 275.4 213.7 272.9 213.8 271.7 213.9 272 214 273.4 214.1 275.1 214.2 276 214.2 275.4 214.3 272.9 214.4 269 214.5 264.5 214.6 260.6 214.6 258.4 214.7 258.5 214.8 260.7 214.9 264.3 215 268.4 215.1 271.7 215.1 273.4 215.2 273.5 215.3 272.4 215.4 270.9 215.5 270.2 215.5 270.7 215.6 272.9 215.7 276.1 215.8 279.4 215.9 281.7 215.9 282.1 216 280.2 216.1 276.5 216.2 271.7 216.3 267.1 216.4 263.8 216.4 262.4 216.5 263 216.6 264.9 216.7 267.1 216.8 268.6 216.8 268.8 216.9 267.6 217 265.5 217.1 263.5 217.2 262.7 217.3 263.7 217.3 266.6 217.4 271.1 217.5 275.9 217.6 279.9 217.7 282.1 217.8 282 217.8 279.9 217.9 276.7 218 273.3 218.1 270.9 218.2 269.9 218.2 270.4 218.3 271.8 218.4 273.1 218.5 273.3 218.6 271.9 218.6 268.9 218.7 265 218.8 261.2 218.9 258.7 219 258.3 219.1 260.2 219.1 263.9 219.2 268.4 219.3 272.6 219.4 275.4 219.5 276.3 219.5 275.6 219.6 274 219.7 272.4 219.8 271.8 219.9 272.6 219.9 274.8 220 277.6 220.1 279.8 220.2 280.6 220.3 279.3 220.4 276 220.4 271.4 220.5 266.5 220.6 262.6 220.7 260.6 220.8 260.6 220.8 262.5 220.9 265.3 221 267.9 221.1 269.4 221.2 269.4 221.3 268.2 221.3 266.5 221.4 265.3 221.5 265.6 221.6 267.7 221.7 271.4 221.8 275.8 221.8 279.9 221.9 282.5 222 282.9 222.1 281.1 222.2 277.6 222.2 273.6 222.3 270 222.4 267.9 222.5 267.5 222.6 268.5 222.7 270 222.7 270.9 222.8 270.7 222.9 268.8 223 265.8 223.1 262.4 223.1 259.9 223.2 259.1 223.3 260.5 223.4 263.9 223.5 268.6 223.6 273.3 223.6 276.9 223.7 278.7 223.8 278.5 223.9 276.8 224 274.5 224 272.8 224.1 272.4 224.2 273.3 224.3 275.3 224.4 277.3 224.4 278.4 224.5 277.8 224.6 275.2 224.7 271 224.8 266.2 224.9 262 224.9 259.4 225 259 225.1 260.7 225.2 263.8 225.3 267.3 225.3 270 225.4 271.3 225.5 271 225.6 269.7 225.7 268.3 225.8 267.9 225.8 268.9 225.9 271.6 226 275.5 226.1 279.3 226.2 282.1 226.2 283 226.3 281.5 226.4 278.1 226.5 273.6 226.6 269.3 226.7 266.2 226.7 264.9 226.8 265.3 226.9 266.9 227 268.5 227.1 269.4 227.1 268.8 227.2 266.9 227.3 264.2 227.4 261.8 227.5 260.6 227.6 261.5 227.6 264.4 227.7 268.9 227.8 273.8 227.9 278 228 280.4 228 280.8 228.1 279.1 228.2 276.5 228.3 273.8 228.4 272 228.4 271.7 228.5 272.7 228.6 274.4 228.7 275.7 228.8 275.8 228.9 274 228.9 270.6 229 266.2 229.1 262 229.2 259 229.3 258.2 229.3 259.6 229.4 262.8 229.5 266.9 229.6 270.6 229.7 273 229.8 273.8 229.8 273 229.9 271.6 230 270.4 230.1 270.4 230.2 271.9 230.2 274.8 230.3 278.2 230.4 280.9 230.5 282.1 230.6 281.1 230.7 278 230.7 273.5 230.8 268.7 230.9 264.8 231 262.7 231.1 262.5 231.2 264 231.2 266.2 231.3 268.1 231.4 268.9 231.5 268.2 231.6 266.4 231.6 264.2 231.7 262.9 231.8 263.1 231.9 265.4 232 269.3 232.1 274.1 232.1 278.5 232.2 281.5 232.3 282.3 232.4 280.9 232.5 278 232.5 274.5 232.6 271.6 232.7 270 232.8 270 232.9 271.2 232.9 272.6 233 273.3 233.1 272.6 233.2 270.1 233.3 266.5 233.4 262.5 233.4 259.5 233.5 258.2 233.6 259.2 233.7 262.4 233.8 266.7 233.8 271.2 233.9 274.6 234 276.2 234.1 276.1 234.2 274.7 234.2 273 234.3 271.9 234.4 272.2 234.5 273.9 234.6 276.5 234.7 279 234.7 280.5 234.8 280 234.9 277.4 235 273.2 235.1 268.3 235.2 263.9 235.2 261 235.3 260.3 235.4 261.6 235.5 264.2 235.6 267 235.6 269 235.7 269.6 235.8 268.8 235.9 267.2 236 265.7 236.1 265.3 236.1 266.7 236.2 269.9 236.3 274.1 236.4 278.5 236.5 281.8 236.5 283.1 236.6 282 236.7 279.1 236.8 275.1 236.9 271.2 236.9 268.5 237 267.4 237.1 267.9 237.2 269.3 237.3 270.6 237.4 270.9 237.4 269.7 237.5 267 237.6 263.7 237.7 260.7 237.8 259.1 237.8 259.7 237.9 262.4 238 266.8 238.1 271.6 238.2 275.8 238.3 278.3 238.3 278.8 238.4 277.6 238.5 275.4 238.6 273.4 238.7 272.4 238.8 272.8 238.8 274.4 238.9 276.6 239 278.1 239.1 278.2 239.2 276.4 239.2 272.7 239.3 268 239.4 263.4 239.5 260.1 239.6 258.8 239.7 259.8 239.7 262.6 239.8 266 239.9 269.1 240 271 240.1 271.3 240.1 270.3 240.2 268.9 240.3 268 240.4 268.4 240.5 270.5 240.6 274 240.6 277.9 240.7 281.3 240.8 282.9 240.9 282.3 241 279.5 241 275.3 241.1 270.8 241.2 267.1 241.3 265.1 241.4 264.9 241.4 266.1 241.5 267.9 241.6 269.2 241.7 269.2 241.8 267.8 241.9 265.3 241.9 262.6 242 260.9 242.1 260.9 242.2 263.1 242.3 267.1 242.3 272 242.4 276.6 242.5 279.8 242.6 280.9 242.7 280 242.8 277.6 242.8 274.7 242.9 272.5 243 271.6 243.1 272.1 243.2 273.6 243.2 275.2 243.3 275.9 243.4 274.9 243.5 272 243.6 267.9 243.7 263.4 243.7 259.9 243.8 258.2 243.9 258.8 244 261.5 244.1 265.4 244.1 269.3 244.2 272.4 244.3 273.7 244.4 273.5 244.5 272.2 244.6 270.8 244.6 270.3 244.7 271.2 244.8 273.6 244.9 276.9 245 280 245 281.9 245.1 281.8 245.2 279.4 245.3 275.3 245.4 270.4 245.4 266.1 245.5 263.2 245.6 262.3 245.7 263.2 245.8 265.3 245.9 267.5 245.9 268.8 246 268.6 246.1 267.2 246.2 265.1 246.3 263.3 246.3 262.9 246.4 264.4 246.5 267.7 246.6 272.3 246.7 277 246.8 280.6 246.8 282.3 246.9 281.7 247 279.3 247.1 275.8 247.2 272.6 247.2 270.4 247.3 269.8 247.4 270.6 247.5 272 247.6 273.1 247.7 273 247.7 271.2 247.8 267.9 247.9 264 248 260.5 248.1 258.4 248.2 258.6 248.2 261 248.3 265 248.4 269.6 248.5 273.5 248.6 275.9 248.6 276.4 248.7 275.4 248.8 273.7 248.9 272.2 249 271.9 249.1 273.1 249.1 275.4 249.2 278.1 249.3 280.1 249.4 280.4 249.5 278.6 249.5 274.9 249.6 270.1 249.7 265.4 249.8 261.8 249.9 260.3 249.9 260.9 250 263.1 250.1 265.9 250.2 268.4 250.3 269.6 250.3 269.3 250.4 267.9 250.5 266.2 250.6 265.4 250.7 266 250.8 268.5 250.8 272.5 250.9 276.9 251 280.8 251.1 282.9 251.2 282.7 251.2 280.4 251.3 276.6 251.4 272.6 251.5 269.3 251.6 267.6 251.7 267.5 251.7 268.7 251.8 270.1 251.9 270.9 252 270.3 252.1 268.1 252.2 265 252.2 261.7 252.3 259.5 252.4 259.3 252.5 261.2 252.6 265.1 252.6 269.9" clip-path="url(#p2ca5e432f3)" style="fill: none; stroke: #cccccc; stroke-width: 0.75; stroke-linecap: square"/>
   </g>
   <g id="line2d_94">
    <g clip-path="url(#p2ca5e432f3)">
     <use href="#mc523a5838a" x="171" y="285.43"/>
     <use href="#mc523a5838a" x="173.08" y="285.43"/>
     <use href="#mc523a5838a" x="175.16" y="285.43"/>
     <use href="#mc523a5838a" x="179.33" y="285.43"/>
     <use href="#mc523a5838a" x="183.49" y="285.43"/>
     <use href="#mc523a5838a" x="185.57" y="285.43"/>
     <use href="#mc523a5838a" x="187.66" y="285.43"/>
     <use href="#mc523a5838a" x="189.74" y="285.43"/>
     <use href="#mc523a5838a" x="193.9" y="285.43"/>
     <use href="#mc523a5838a" x="198.07" y="285.43"/>
     <use href="#mc523a5838a" x="200.15" y="285.43"/>
     <use href="#mc523a5838a" x="202.23" y="285.43"/>
     <use href="#mc523a5838a" x="204.31" y="285.43"/>
     <use href="#mc523a5838a" x="208.48" y="285.43"/>
     <use href="#mc523a5838a" x="212.64" y="285.43"/>
     <use href="#mc523a5838a" x="214.72" y="285.43"/>
     <use href="#mc523a5838a" x="216.81" y="285.43"/>
     <use href="#mc523a5838a" x="218.89" y="285.43"/>
     <use href="#mc523a5838a" x="223.05" y="285.43"/>
     <use href="#mc523a5838a" x="227.22" y="285.43"/>
     <use href="#mc523a5838a" x="229.3" y="285.43"/>
     <use href="#mc523a5838a" x="231.38" y="285.43"/>
     <use href="#mc523a5838a" x="233.46" y="285.43"/>
     <use href="#mc523a5838a" x="237.63" y="285.43"/>
     <use href="#mc523a5838a" x="241.79" y="285.43"/>
     <use href="#mc523a5838a" x="243.88" y="285.43"/>
     <use href="#mc523a5838a" x="245.96" y="285.43"/>
     <use href="#mc523a5838a" x="248.04" y="285.43"/>
    </g>
   </g>
   <g id="patch_27">
    <path d="M166.54 289.08 257.04 289.08" style="fill: none; stroke: #000000; stroke-width: 0.8; stroke-linejoin: miter; stroke-linecap: square"/>
   </g>
   <g id="line2d_95">
    <path d="M170.02 258.21 170.93 258.21 173.44 262.5 175.2 258.21 176.98 260.48 179.49 258.97 181.25 258.98 183.75 260.46 185.51 258.21 187.3 262.54 189.8 258.21 191.56 260.44 194.07 258.99 195.82 258.96 198.33 260.5 200.12 258.2 201.87 262.47 204.38 258.21 206.14 260.4 208.64 259.01 210.43 258.94 212.9 260.55 214.69 258.17 216.45 262.41 218.95 258.21 220.71 260.36 223.22 259.04 225.01 258.9 227.48 260.6 229.27 258.15 231.02 262.36 233.53 258.21 235.32 260.33 237.79 259.07 239.58 258.86 242.05 260.65 243.84 258.14 245.6 262.3 248.1 258.22 249.89 260.27 252.37 259.1" clip-path="url(#p2ca5e432f3)" style="fill: none; stroke: #8b0000; stroke-width: 1.1; stroke-linecap: square"/>
   </g>
  </g>
  <g id="axes_13">
   <g id="patch_28">
    <path d="M280.87 289.08 435.46 289.08 435.46 255.12 280.87 255.12z" style="fill: #ffffff"/>
   </g>
   <g id="matplotlib.axis_25">
    <g id="xtick_42">
     <g id="line2d_96">
      <g>
       <use href="#m1504cfccaf" x="285.48" y="289.08" style="stroke: #000000; stroke-width: 0.8"/>
      </g>
     </g>
    </g>
    <g id="xtick_43">
     <g id="line2d_97">
      <g>
       <use href="#m1504cfccaf" x="332.28" y="289.08" style="stroke: #000000; stroke-width: 0.8"/>
      </g>
     </g>
    </g>
    <g id="xtick_44">
     <g id="line2d_98">
      <g>
       <use href="#m1504cfccaf" x="379.08" y="289.08" style="stroke: #000000; stroke-width: 0.8"/>
      </g>
     </g>
    </g>
    <g id="xtick_45">
     <g id="line2d_99">
      <g>
       <use href="#m1504cfccaf" x="425.88" y="289.08" style="stroke: #000000; stroke-width: 0.8"/>
      </g>
     </g>
    </g>
   </g>
   <g id="matplotlib.axis_26"/>
   <g id="line2d_100">
    <path d="M281.5 288.1 281.9 288 282.2 287.9 282.6 288.1 283 287.9 283.3 288 283.7 288 284 288 284.4 288 284.8 288.1 285.1 288 285.5 287.9 285.8 287.9 286.2 288 286.6 287.9 286.9 288 287.3 287.9 287.6 287.9 288 288 288.4 288 288.7 287.9 289.1 287.9 289.4 287.9 289.8 287.9 290.2 288 290.5 288 290.9 288 291.2 288 291.6 288.1 292 287.9 292.3 287.9 292.7 288.1 293 288 293.4 288 293.8 287.9 294.1 288 294.5 288 294.8 287.9 295.2 288 295.6 288 295.9 288 296.3 287.9 296.6 287.9 297 288.1 297.4 288.1 297.7 288.1 298.1 288 298.4 288 298.8 288 299.2 288 299.5 288 299.9 287.9 300.2 288 300.6 288 301 287.9 301.3 288 301.7 287.9 302 288.1 302.4 287.9 302.8 288 303.1 288 303.5 288 303.8 287.9 304.2 288 304.6 288.1 304.9 288 305.3 287.9 305.6 287.9 306 288 306.4 288.1 306.7 288 307.1 288 307.4 288 307.8 287.9 308.2 288.1 308.5 288 308.9 288.1 309.2 288 309.6 287.9 310 288 310.3 288 310.7 287.9 311 287.9 311.4 288 311.8 287.9 312.1 287.9 312.5 288 312.8 288 313.2 288 313.6 288 313.9 288 314.3 288 314.6 288 315 288.1 315.4 287.9 315.7 288 316.1 288.1 316.4 288 316.8 288.1 317.2 287.9 317.5 288 317.9 288 318.2 288 318.6 287.9 319 288.1 319.3 288 319.7 288 320 287.9 320.4 288 320.8 288 321.1 288 321.5 288 321.8 288.1 322.2 287.9 322.6 288 322.9 288 323.3 288 323.6 288 324 288.1 324.4 287.9 324.7 288 325.1 287.9 325.4 287.9 325.8 287 326.2 285.9 326.5 284.9 326.9 283.8 327.2 284.9 327.6 285.9 328 287 328.3 287.9 328.7 287.9 329 287.9 329.4 288 329.8 288 330.1 287.9 330.5 288 330.8 288 331.2 288.1 331.6 288 331.9 288.1 332.3 288 332.6 287.9 333 288 333.4 288 333.7 288.1 334.1 288 334.4 287.9 334.8 287.9 335.2 287.9 335.5 287.9 335.9 287.8 336.2 287.5 336.6 287.2 337 286.9 337.3 287.2 337.7 287.5 338 287.8 338.4 287.9 338.8 288 339.1 288 339.5 288 339.8 287.9 340.2 288.1 340.6 288.1 340.9 288 341.3 288.1 341.6 288.1 342 287.9 342.4 287.9 342.7 288 343.1 288 343.4 288 343.8 288 344.2 288.1 344.5 287.9 344.9 288 345.2 288 345.6 287.9 346 287.9 346.3 287.5 346.7 286.7 347 286 347.4 285.3 347.8 285.7 348.1 286.4 348.5 287.2 348.8 287.9 349.2 287.9 349.6 288 349.9 287.9 350.3 288 350.6 288 351 288.1 351.4 288 351.7 287.9 352.1 287.9 352.4 288 352.8 288.1 353.2 288 353.5 288 353.9 288 354.2 288 354.6 287.9 355 287.9 355.3 288 355.7 288 356 287.9 356.4 287.9 356.8 283.1 357.1 278 357.5 273 357.8 268 358.2 265 358.6 270 358.9 275 359.3 280 359.6 285.1 360 287.9 360.4 288 360.7 288 361.1 287.9 361.4 287.9 361.8 288 362.2 288.1 362.5 288.1 362.9 288 363.2 288.1 363.6 288 364 288.1 364.3 288 364.7 288 365 288 365.4 287.9 365.8 288 366.1 288 366.5 288 366.8 288 367.2 288 367.6 288 367.9 288.1 368.3 288 368.6 287.9 369 287.9 369.4 288 369.7 287.9 370.1 288.1 370.4 288 370.8 288 371.2 288 371.5 287.9 371.9 288 372.2 288 372.6 288.1 373 287.9 373.3 288 373.7 288 374 288 374.4 288 374.8 288 375.1 288 375.5 287.9 375.8 287.9 376.2 288.1 376.6 288.1 376.9 288 377.3 288.1 377.6 288 378 288 378.4 287.9 378.7 287.9 379.1 288 379.4 288 379.8 288 380.2 288 380.5 287.9 380.9 288 381.2 287.9 381.6 288 382 288 382.3 288 382.7 287.9 383 288 383.4 288.1 383.8 287.9 384.1 288.1 384.5 287.9 384.8 287.9 385.2 288 385.6 288 385.9 288 386.3 287.9 386.6 287.9 387 288 387.4 288 387.7 287.9 388.1 288 388.4 288 388.8 287.7 389.2 287.4 389.5 287.1 389.9 287 390.2 287.3 390.6 287.6 391 287.9 391.3 288 391.7 288 392 287.9 392.4 287.9 392.8 287.9 393.1 287.9 393.5 287.9 393.8 287.9 394.2 288.1 394.6 288 394.9 287.9 395.3 288 395.6 287.9 396 288 396.4 287.9 396.7 287.9 397.1 288.1 397.4 288 397.8 288.1 398.2 287.9 398.5 288.1 398.9 287.9 399.2 286.8 399.6 285.7 400 284.7 400.3 284 400.7 285.1 401 286.2 401.4 287.2 401.8 287.9 402.1 287.9 402.5 287.8 402.8 287.7 403.2 287.6 403.6 287.6 403.9 287.5 404.3 287.4 404.6 287.4 405 287.3 405.4 287.2 405.7 287.3 406.1 287.4 406.4 287.4 406.8 287.5 407.2 287.6 407.5 287.6 407.9 287.7 408.2 287.8 408.6 287.6 409 286.9 409.3 286.1 409.7 285.4 410 285.6 410.4 286.3 410.8 287 411.1 287.8 411.5 288.1 411.8 288 412.2 287.9 412.6 287.9 412.9 287.8 413.3 287.7 413.6 287.6 414 287.6 414.4 287.5 414.7 287.4 415.1 287.3 415.4 287.2 415.8 287.3 416.2 287.4 416.5 287.5 416.9 287.6 417.2 287.6 417.6 287.7 418 287.8 418.3 287.9 418.7 288 419 288 419.4 288 419.8 286.9 420.1 285.4 420.5 283.8 420.8 282.3 421.2 283.2 421.6 284.8 421.9 286.3 422.3 287.8 422.6 287.9 423 288 423.4 288 423.7 287.9 424.1 288 424.4 287.9 424.8 288 425.2 288 425.5 288 425.9 288 426.2 288 426.6 288 427 288 427.3 287.9 427.7 287.9 428 287.9 428.4 288 428.8 288 429.1 288 429.5 287.9 429.8 287.9 430.2 288 430.6 288 430.9 286 431.3 284 431.6 282 432 279.9 432.4 282 432.7 284 433.1 286 433.4 288.1 433.8 287.9 434.2 288.1 434.5 287.9" clip-path="url(#p71861681be)" style="fill: none; stroke: #aaaaaa; stroke-width: 1.1; stroke-linecap: square"/>
   </g>
   <g id="line2d_101">
    <path d="M322.2 289.08 322.2 255.12" clip-path="url(#p71861681be)" style="fill: none; stroke-dasharray: 1.85,0.8; stroke-dashoffset: 0; stroke: #000000; stroke-width: 0.5"/>
   </g>
   <g id="patch_29">
    <path d="M280.87 289.08 435.46 289.08" style="fill: none; stroke: #000000; stroke-width: 0.8; stroke-linejoin: miter; stroke-linecap: square"/>
   </g>
   <g id="line2d_102">
    <g>
     <use href="#m87fcf83af1" x="358.13" y="265.39" style="fill: #aaaaaa; stroke: #000000; stroke-width: 1.1"/>
    </g>
   </g>
   <g id="line2d_103">
    <defs>
     <path id="mcfef1c7f4e" d="M0 2.8 C 0.74 2.8 1.45 2.5 1.98 1.98 C 2.5 1.45 2.8 0.74 2.8 0 C 2.8 -0.74 2.5 -1.45 1.98 -1.98 C 1.45 -2.5 0.74 -2.8 0 -2.8 C -0.74 -2.8 -1.45 -2.5 -1.98 -1.98 C -2.5 -1.45 -2.8 -0.74 -2.8 0 C -2.8 0.74 -2.5 1.45 -1.98 1.98 C -1.45 2.5 -0.74 2.8 0 2.8z"/>
    </defs>
    <g>
     <use href="#mcfef1c7f4e" x="316.37" y="286.27" style="fill: #8b0000"/>
    </g>
   </g>
  </g>
  <g id="axes_14">
   <g id="patch_30">
    <path d="M166.54 333.72 257.04 333.72 257.04 299.76 166.54 299.76z" style="fill: #ffffff"/>
   </g>
   <g id="matplotlib.axis_27">
    <g id="xtick_46">
     <g id="line2d_104">
      <g>
       <use href="#m1504cfccaf" x="171" y="333.72" style="stroke: #000000; stroke-width: 0.8"/>
      </g>
     </g>
     <g id="text_18">
      <text style="font-size: 9px; font-family: 'DejaVu Sans', sans-serif; text-anchor: middle; letter-spacing: -0.3px" x="170.50" y="346.84" transform="rotate(-0 170.50 346.84)">0</text>
     </g>
    </g>
    <g id="xtick_47">
     <g id="line2d_105">
      <g>
       <use href="#m1504cfccaf" x="203.69" y="333.72" style="stroke: #000000; stroke-width: 0.8"/>
      </g>
     </g>
     <g id="text_19">
      <text style="font-size: 9px; font-family: 'DejaVu Sans', sans-serif; text-anchor: middle; letter-spacing: -0.3px" x="203.19" y="346.84" transform="rotate(-0 203.19 346.84)">20</text>
     </g>
    </g>
    <g id="xtick_48">
     <g id="line2d_106">
      <g>
       <use href="#m1504cfccaf" x="236.38" y="333.72" style="stroke: #000000; stroke-width: 0.8"/>
      </g>
     </g>
     <g id="text_20">
      <text style="font-size: 9px; font-family: 'DejaVu Sans', sans-serif; text-anchor: middle; letter-spacing: -0.3px" x="235.88" y="346.84" transform="rotate(-0 235.88 346.84)">40</text>
     </g>
    </g>
    <g id="text_21">
     <text style="font-size: 9px; font-family: 'DejaVu Sans', sans-serif; text-anchor: middle" x="211.79" y="361.71" transform="rotate(-0 211.79 361.71)">Time [ms]</text>
    </g>
   </g>
   <g id="matplotlib.axis_28"/>
   <g id="line2d_107">
    <path d="M170 318.7 170.1 316.4 170.2 316.2 170.3 317.9 170.3 320.2 170.4 321.2 170.5 319.8 170.6 315.9 170.7 310.8 170.8 306.1 170.8 303.6 170.9 304.1 171 307 171.1 310.9 171.2 314 171.2 315 171.3 313.9 171.4 311.8 171.5 310.3 171.6 310.9 171.7 314.1 171.7 319 171.8 323.9 171.9 326.9 172 327.1 172.1 324.5 172.1 320.4 172.2 316.7 172.3 314.8 172.4 315.3 172.5 317.2 172.6 318.9 172.6 319 172.7 316.6 172.8 312.2 172.9 307.3 173 303.7 173 302.9 173.1 305.1 173.2 309.1 173.3 313.4 173.4 316 173.4 316.4 173.5 314.9 173.6 312.9 173.7 312.2 173.8 313.8 173.9 317.6 173.9 322.4 174 326.3 174.1 327.8 174.2 326.2 174.3 322.2 174.3 317.7 174.4 314.3 174.5 313.1 174.6 314.1 174.7 316.1 174.8 317.4 174.8 316.6 174.9 313.5 175 308.9 175.1 304.8 175.2 302.8 175.2 303.8 175.3 307.4 175.4 312.1 175.5 316.2 175.6 318.2 175.7 317.8 175.7 315.9 175.8 314.2 175.9 314.2 176 316.6 176.1 320.6 176.2 324.9 176.2 327.4 176.3 327.1 176.4 323.9 176.5 319.1 176.6 314.5 176.6 311.7 176.7 311.4 176.8 313 176.9 315 177 315.7 177.1 314.2 177.1 310.7 177.2 306.6 177.3 303.6 177.4 303.3 177.4 305.9 177.5 310.6 177.6 315.6 177.7 319.2 177.8 320.2 177.9 319 177.9 316.8 178 315.5 178.1 316.1 178.2 318.9 178.3 322.9 178.3 326.1 178.4 327 178.5 325 178.6 320.6 178.7 315.3 178.8 311.1 178.8 309.4 178.9 310.1 179 312.2 179.1 314.1 179.2 314.3 179.2 312.2 179.3 308.7 179.4 305.3 179.5 303.8 179.6 305.2 179.7 309.2 179.7 314.6 179.8 319.3 179.9 321.8 180 321.8 180.1 319.7 180.2 317.4 180.2 316.5 180.3 317.6 180.4 320.6 180.5 324 180.6 326 180.6 325.3 180.7 321.8 180.8 316.6 180.9 311.4 181 308.1 181.1 307.6 181.1 309.3 181.2 311.9 181.3 313.6 181.4 313.2 181.5 310.9 181.5 307.7 181.6 305.3 181.7 305.4 181.8 308.3 181.9 313.3 181.9 318.7 182 322.6 182.1 323.9 182.2 322.6 182.3 319.9 182.4 317.6 182.4 317 182.5 318.6 182.6 321.5 182.7 324.1 182.8 324.7 182.8 322.4 182.9 317.8 183 312.3 183.1 307.9 183.2 305.9 183.3 306.6 183.3 309.3 183.4 312.1 183.5 313.5 183.6 312.7 183.7 310.3 183.8 307.6 183.8 306.5 183.9 308 184 312.1 184.1 317.6 184.2 322.4 184.2 325.1 184.3 324.9 184.4 322.5 184.5 319.3 184.6 317.1 184.7 317.1 184.7 318.9 184.8 321.5 184.9 323.1 185 322.3 185.1 318.8 185.1 313.6 185.2 308.4 185.3 305.1 185.4 304.6 185.5 306.8 185.6 310.1 185.6 313 185.7 313.9 185.8 312.8 185.9 310.4 185.9 308.5 186 308.6 186.1 311.4 186.2 316.2 186.3 321.6 186.4 325.4 186.4 326.6 186.5 324.9 186.6 321.4 186.7 318 186.8 316.2 186.8 316.6 186.9 318.6 187 320.7 187.1 321.2 187.2 319.2 187.3 314.9 187.3 309.6 187.4 305.3 187.5 303.5 187.6 304.6 187.7 308 187.8 311.8 187.8 314.4 187.9 314.9 188 313.3 188.1 311.2 188.2 310.1 188.2 311.4 188.3 315.1 188.4 320.2 188.5 324.8 188.6 327.2 188.7 326.7 188.7 323.6 188.8 319.4 188.9 316.1 189 314.8 189.1 315.7 189.1 317.8 189.2 319.3 189.3 318.8 189.4 315.8 189.5 311.1 189.6 306.3 189.6 303.3 189.7 303.2 189.8 305.9 189.9 310.2 190 314.1 190 316.2 190.1 316 190.2 314.2 190.3 312.4 190.4 312.2 190.4 314.4 190.5 318.7 190.6 323.4 190.7 326.9 190.8 327.6 190.9 325.4 190.9 321.2 191 316.8 191.1 313.8 191.2 313.3 191.3 314.7 191.3 316.7 191.4 317.5 191.5 316.1 191.6 312.5 191.7 307.9 191.8 304.1 191.8 302.7 191.9 304.4 192 308.4 192.1 313.2 192.2 316.8 192.2 318.2 192.3 317.3 192.4 315.3 192.5 313.9 192.6 314.5 192.7 317.4 192.7 321.7 192.8 325.7 192.9 327.6 193 326.6 193.1 322.9 193.2 317.9 193.2 313.7 193.3 311.5 193.4 311.8 193.5 313.6 193.6 315.5 193.6 315.7 193.7 313.6 193.8 309.7 193.9 305.7 194 303.2 194.1 303.6 194.1 306.9 194.2 311.8 194.3 316.6 194.4 319.5 194.4 320 194.5 318.4 194.6 316.3 194.7 315.3 194.8 316.6 194.9 319.8 194.9 323.8 195 326.6 195.1 326.9 195.2 324.2 195.3 319.4 195.3 314.2 195.4 310.6 195.5 309.4 195.6 310.6 195.7 312.8 195.8 314.4 195.8 314 195.9 311.5 196 307.8 196.1 304.7 196.2 303.8 196.2 305.9 196.3 310.4 196.4 315.7 196.5 320 196.6 321.9 196.7 321.3 196.7 319.1 196.8 317 196.9 316.5 197 318.2 197.1 321.5 197.2 324.8 197.2 326.2 197.3 324.8 197.4 320.7 197.5 315.3 197.6 310.5 197.6 307.9 197.7 307.9 197.8 310 197.9 312.5 198 313.7 198.1 312.8 198.1 310.1 198.2 306.9 198.3 305 198.4 305.7 198.5 309.2 198.5 314.5 198.6 319.7 198.7 323.1 198.8 323.7 198.9 321.9 198.9 319.2 199 317.2 199.1 317.2 199.2 319.3 199.3 322.3 199.4 324.6 199.4 324.5 199.5 321.6 199.6 316.6 199.7 311.2 199.8 307.2 199.8 305.9 199.9 307.2 200 310.1 200.1 312.6 200.2 313.5 200.3 312.2 200.3 309.5 200.4 307.1 200.5 306.5 200.6 308.7 200.7 313.3 200.8 318.8 200.8 323.2 200.9 325.3 201 324.4 201.1 321.7 201.2 318.6 201.2 316.9 201.3 317.4 201.4 319.6 201.5 322.1 201.6 323.2 201.7 321.8 201.7 317.8 201.8 312.4 201.9 307.5 202 304.8 202.1 305 202.1 307.6 202.2 311 202.3 313.4 202.4 313.8 202.5 312.2 202.5 309.7 202.6 308.2 202.7 308.9 202.8 312.3 202.9 317.5 202.9 322.6 203 325.9 203.1 326.3 203.2 324.1 203.3 320.5 203.4 317.4 203.4 316.1 203.5 317.1 203.6 319.3 203.7 321.1 203.8 321.1 203.8 318.4 203.9 313.7 204 308.4 204.1 304.6 204.2 303.5 204.3 305.3 204.3 308.9 204.4 312.6 204.5 314.7 204.6 314.5 204.7 312.7 204.8 310.6 204.8 310.1 204.9 312 205 316.2 205.1 321.3 205.2 325.6 205.2 327.3 205.3 326.1 205.4 322.6 205.5 318.5 205.6 315.6 205.7 315 205.7 316.3 205.8 318.4 205.9 319.5 206 318.4 206.1 314.8 206.1 309.9 206.2 305.4 206.3 303 206.4 303.6 206.5 306.9 206.6 311.2 206.6 314.8 206.7 316.3 206.8 315.6 206.9 313.6 207 312.1 207 312.4 207.1 315.2 207.2 319.8 207.3 324.4 207.4 327.3 207.4 327.4 207.5 324.5 207.6 320.1 207.7 315.9 207.8 313.6 207.9 313.6 207.9 315.3 208 317.1 208.1 317.5 208.2 315.5 208.3 311.5 208.3 306.9 208.4 303.5 208.5 302.8 208.6 305.2 208.7 309.5 208.8 314.1 208.8 317.3 208.9 318 209 316.7 209.1 314.7 209.2 313.7 209.2 314.9 209.3 318.3 209.4 322.7 209.5 326.4 209.6 327.7 209.7 325.9 209.7 321.8 209.8 316.9 209.9 313 210 311.5 210.1 312.3 210.2 314.3 210.2 315.8 210.3 315.4 210.4 312.8 210.5 308.7 210.6 304.9 210.6 303 210.7 304.1 210.8 307.9 210.9 313 211 317.4 211 319.8 211.1 319.6 211.2 317.7 211.3 315.8 211.4 315.4 211.4 317.2 211.5 320.8 211.6 324.6 211.7 327 211.8 326.5 211.9 323.2 211.9 318.2 212 313.3 212.1 310.2 212.2 309.6 212.3 311.2 212.3 313.4 212.4 314.6 212.5 313.6 212.6 310.7 212.7 306.9 212.8 304.2 212.8 304 212.9 306.7 213 311.6 213.1 316.8 213.2 320.6 213.2 321.9 213.3 320.7 213.4 318.4 213.5 316.6 213.6 316.7 213.7 318.9 213.7 322.4 213.8 325.4 213.9 326.2 214 324.1 214.1 319.6 214.2 314.1 214.2 309.7 214.3 307.7 214.4 308.4 214.5 310.7 214.6 313 214.6 313.7 214.7 312.3 214.8 309.3 214.9 306.2 215 304.8 215.1 306.2 215.1 310.3 215.2 315.8 215.3 320.6 215.4 323.4 215.5 323.3 215.5 321.2 215.6 318.5 215.7 317 215.8 317.6 215.9 320 215.9 323.1 216 324.9 216.1 324.1 216.2 320.6 216.3 315.4 216.4 310.1 216.4 306.7 216.5 306.1 216.6 307.9 216.7 310.8 216.8 313.1 216.8 313.4 216.9 311.6 217 308.8 217.1 306.6 217.2 306.6 217.3 309.5 217.3 314.5 217.4 319.9 217.5 323.9 217.6 325.2 217.7 323.8 217.8 320.8 217.8 318 217.9 316.9 218 317.9 218.1 320.3 218.2 322.7 218.2 323.3 218.3 321.1 218.4 316.6 218.5 311.1 218.6 306.6 218.6 304.6 218.7 305.5 218.8 308.4 218.9 311.7 219 313.7 219.1 313.5 219.1 311.5 219.2 309.1 219.3 308 219.4 309.4 219.5 313.4 219.5 318.7 219.6 323.5 219.7 326.2 219.8 325.9 219.9 323.2 219.9 319.6 220 316.9 220.1 316.2 220.2 317.6 220.3 319.9 220.4 321.5 220.4 320.8 220.5 317.5 220.6 312.5 220.7 307.4 220.8 304.1 220.8 303.8 220.9 306.1 221 309.9 221.1 313.2 221.2 314.8 221.3 314.1 221.3 312.1 221.4 310.2 221.5 310.2 221.6 312.7 221.7 317.3 221.8 322.4 221.8 326.2 221.9 327.3 222 325.4 222.1 321.6 222.2 317.7 222.2 315.3 222.3 315.2 222.4 316.9 222.5 318.9 222.6 319.6 222.7 317.8 222.7 313.8 222.8 308.8 222.9 304.6 223 302.9 223.1 304.2 223.1 307.9 223.2 312.1 223.3 315.3 223.4 316.2 223.5 315.1 223.6 313 223.6 311.8 223.7 312.8 223.8 316.1 223.9 320.9 224 325.3 224 327.6 224.1 326.9 224.2 323.6 224.3 319.1 224.4 315.2 224.4 313.5 224.5 314 224.6 315.9 224.7 317.5 224.8 317.3 224.9 314.8 224.9 310.4 225 305.9 225.1 303.1 225.2 303.1 225.3 306.1 225.3 310.6 225.4 315 225.5 317.6 225.6 317.8 225.7 316.1 225.8 314.2 225.8 313.7 225.9 315.5 226 319.3 226.1 323.7 226.2 327 226.2 327.6 226.3 325.1 226.4 320.7 226.5 315.9 226.6 312.5 226.7 311.6 226.7 312.8 226.8 314.9 226.9 316 227 315.1 227.1 311.9 227.1 307.7 227.2 304.2 227.3 303 227.4 304.8 227.5 309 227.6 314.1 227.6 318.1 227.7 319.8 227.8 319.1 227.9 317.1 228 315.4 228 315.5 228.1 317.9 228.2 321.7 228.3 325.4 228.4 327.2 228.4 326 228.5 322.2 228.6 317 228.7 312.4 228.8 309.9 228.9 310 228.9 311.9 229 314 229.1 314.6 229.2 313.1 229.3 309.8 229.3 306.1 229.4 303.8 229.5 304.3 229.6 307.7 229.7 312.8 229.8 317.8 229.8 321.1 229.9 321.7 230 320.1 230.1 317.8 230.2 316.4 230.2 317 230.3 319.7 230.4 323.3 230.5 325.9 230.6 326 230.7 323.3 230.7 318.4 230.8 313 230.9 309.1 231 307.8 231.1 308.9 231.2 311.4 231.2 313.4 231.3 313.6 231.4 311.6 231.5 308.4 231.6 305.6 231.6 304.8 231.7 306.9 231.8 311.5 231.9 316.9 232 321.4 232.1 323.5 232.1 322.9 232.2 320.4 232.3 317.9 232.4 316.9 232.5 318 232.5 320.8 232.6 323.7 232.7 325 232.8 323.6 232.9 319.6 232.9 314.1 233 309.2 233.1 306.4 233.2 306.4 233.3 308.7 233.4 311.5 233.4 313.4 233.5 313.1 233.6 310.9 233.7 308 233.8 306.3 233.8 307 233.9 310.5 234 315.7 234.1 321 234.2 324.4 234.2 325 234.3 323.1 234.4 320 234.5 317.5 234.6 316.9 234.7 318.4 234.7 321.1 234.8 323.1 234.9 323.1 235 320.3 235.1 315.4 235.2 310 235.2 306 235.3 304.7 235.4 306.1 235.5 309.3 235.6 312.4 235.6 313.8 235.7 313.1 235.8 310.8 235.9 308.6 236 308 236.1 310.1 236.1 314.5 236.2 319.9 236.3 324.4 236.4 326.4 236.5 325.4 236.5 322.4 236.6 318.9 236.7 316.6 236.8 316.5 236.9 318.2 236.9 320.5 237 321.6 237.1 320.3 237.2 316.5 237.3 311.3 237.4 306.5 237.4 303.8 237.5 304.1 237.6 307 237.7 310.8 237.8 313.8 237.8 314.7 237.9 313.6 238 311.4 238.1 309.9 238.2 310.4 238.3 313.6 238.3 318.5 238.4 323.5 238.5 326.7 238.6 327 238.7 324.6 238.8 320.6 238.8 317 238.9 315.2 239 315.6 239.1 317.5 239.2 319.4 239.2 319.5 239.3 317.1 239.4 312.7 239.5 307.7 239.6 304 239.7 303 239.7 304.9 239.8 308.9 239.9 313 240 315.6 240.1 316 240.1 314.5 240.2 312.5 240.3 311.7 240.4 313.3 240.5 317.1 240.6 322 240.6 326.1 240.7 327.7 240.8 326.3 240.9 322.6 241 318.1 241 314.7 241.1 313.5 241.2 314.5 241.3 316.5 241.4 317.8 241.4 317 241.5 313.9 241.6 309.3 241.7 305 241.8 302.8 241.9 303.6 241.9 307 242 311.7 242.1 315.8 242.2 317.7 242.3 317.4 242.3 315.5 242.4 313.8 242.5 313.8 242.6 316.2 242.7 320.3 242.8 324.7 242.8 327.4 242.9 327.2 243 324.2 243.1 319.5 243.2 315 243.2 312.2 243.3 311.8 243.4 313.4 243.5 315.4 243.6 316.1 243.7 314.6 243.7 311 243.8 306.7 243.9 303.6 244 303.1 244.1 305.6 244.1 310.2 244.2 315.1 244.3 318.7 244.4 319.7 244.5 318.6 244.6 316.5 244.6 315.1 244.7 315.8 244.8 318.7 244.9 322.7 245 326.1 245 327.2 245.1 325.4 245.2 321.1 245.3 315.9 245.4 311.7 245.4 309.8 245.5 310.4 245.6 312.5 245.7 314.4 245.8 314.5 245.9 312.4 245.9 308.8 246 305.3 246.1 303.6 246.2 304.8 246.3 308.7 246.3 314 246.4 318.7 246.5 321.4 246.6 321.4 246.7 319.4 246.8 317.2 246.8 316.3 246.9 317.5 247 320.6 247.1 324.1 247.2 326.2 247.2 325.7 247.3 322.3 247.4 317.1 247.5 312 247.6 308.6 247.7 308 247.7 309.6 247.8 312.1 247.9 313.7 248 313.3 248.1 310.9 248.2 307.6 248.2 305.1 248.3 305 248.4 307.8 248.5 312.7 248.6 318.1 248.6 322.1 248.7 323.5 248.8 322.3 248.9 319.7 249 317.5 249.1 317 249.1 318.6 249.2 321.6 249.3 324.3 249.4 325.1 249.5 323 249.5 318.4 249.6 312.9 249.7 308.4 249.8 306.3 249.9 306.9 249.9 309.4 250 312.2 250.1 313.5 250.2 312.7 250.3 310.1 250.3 307.4 250.4 306.1 250.5 307.5 250.6 311.5 250.7 317 250.8 321.9 250.8 324.7 250.9 324.7 251 322.4 251.1 319.3 251.2 317.2 251.2 317.2 251.3 319.1 251.4 321.8 251.5 323.5 251.6 322.8 251.7 319.4 251.7 314.2 251.8 308.9 251.9 305.5 252 304.9 252.1 306.9 252.2 310.1 252.2 312.9 252.3 313.8 252.4 312.6 252.5 310.1 252.6 308.1 252.6 308.1" clip-path="url(#pc1dec3c6b7)" style="fill: none; stroke: #cccccc; stroke-width: 0.75; stroke-linecap: square"/>
   </g>
   <g id="line2d_108">
    <g clip-path="url(#pc1dec3c6b7)">
     <use href="#mc523a5838a" x="171" y="330.07"/>
     <use href="#mc523a5838a" x="173.08" y="330.07"/>
     <use href="#mc523a5838a" x="179.33" y="330.07"/>
     <use href="#mc523a5838a" x="181.41" y="330.07"/>
     <use href="#mc523a5838a" x="183.49" y="330.07"/>
     <use href="#mc523a5838a" x="185.57" y="330.07"/>
     <use href="#mc523a5838a" x="187.66" y="330.07"/>
     <use href="#mc523a5838a" x="195.98" y="330.07"/>
     <use href="#mc523a5838a" x="198.07" y="330.07"/>
     <use href="#mc523a5838a" x="200.15" y="330.07"/>
     <use href="#mc523a5838a" x="202.23" y="330.07"/>
     <use href="#mc523a5838a" x="204.31" y="330.07"/>
     <use href="#mc523a5838a" x="210.56" y="330.07"/>
     <use href="#mc523a5838a" x="212.64" y="330.07"/>
     <use href="#mc523a5838a" x="214.72" y="330.07"/>
     <use href="#mc523a5838a" x="216.81" y="330.07"/>
     <use href="#mc523a5838a" x="218.89" y="330.07"/>
     <use href="#mc523a5838a" x="220.97" y="330.07"/>
     <use href="#mc523a5838a" x="229.3" y="330.07"/>
     <use href="#mc523a5838a" x="231.38" y="330.07"/>
     <use href="#mc523a5838a" x="233.46" y="330.07"/>
     <use href="#mc523a5838a" x="235.55" y="330.07"/>
     <use href="#mc523a5838a" x="237.63" y="330.07"/>
     <use href="#mc523a5838a" x="243.88" y="330.07"/>
     <use href="#mc523a5838a" x="245.96" y="330.07"/>
     <use href="#mc523a5838a" x="248.04" y="330.07"/>
     <use href="#mc523a5838a" x="250.12" y="330.07"/>
    </g>
   </g>
   <g id="patch_31">
    <path d="M166.54 333.72 257.04 333.72" style="fill: none; stroke: #000000; stroke-width: 0.8; stroke-linejoin: miter; stroke-linecap: square"/>
   </g>
   <g id="line2d_109">
    <path d="M170.02 303.41 170.87 303.41 173.02 302.85 175.2 302.77 177.34 303.06 179.49 303.85 181.67 304.99 183.2 305.82 185.35 304.46 187.53 303.47 189.67 302.86 191.82 302.76 194 303.03 196.15 303.78 198.33 304.93 199.86 305.93 202 304.52 204.18 303.55 206.33 302.88 208.48 302.73 210.66 303.02 212.81 303.71 214.98 304.88 216.48 306.04 218.66 304.59 220.81 303.58 222.99 302.92 225.14 302.72 227.32 303.02 229.46 303.66 231.61 304.78 233.14 306.11 235.32 304.67 237.47 303.61 239.65 302.97 241.79 302.71 243.94 302.97 246.12 303.61 248.27 304.68 250.45 306.12 251.98 304.77" clip-path="url(#pc1dec3c6b7)" style="fill: none; stroke: #dc143c; stroke-width: 1.1; stroke-linecap: square"/>
   </g>
  </g>
  <g id="axes_15">
   <g id="patch_32">
    <path d="M280.87 333.72 435.46 333.72 435.46 299.76 280.87 299.76z" style="fill: #ffffff"/>
   </g>
   <g id="matplotlib.axis_29">
    <g id="xtick_49">
     <g id="line2d_110">
      <g>
       <use href="#m1504cfccaf" x="285.48" y="333.72" style="stroke: #000000; stroke-width: 0.8"/>
      </g>
     </g>
     <g id="text_22">
      <text style="font-size: 9px; font-family: 'DejaVu Sans', sans-serif; text-anchor: middle; letter-spacing: -0.3px" x="284.98" y="346.84" transform="rotate(-0 284.98 346.84)">0</text>
     </g>
    </g>
    <g id="xtick_50">
     <g id="line2d_111">
      <g>
       <use href="#m1504cfccaf" x="332.28" y="333.72" style="stroke: #000000; stroke-width: 0.8"/>
      </g>
     </g>
     <g id="text_23">
      <text style="font-size: 9px; font-family: 'DejaVu Sans', sans-serif; text-anchor: middle; letter-spacing: -0.3px" x="331.78" y="346.84" transform="rotate(-0 331.78 346.84)">500</text>
     </g>
    </g>
    <g id="xtick_51">
     <g id="line2d_112">
      <g>
       <use href="#m1504cfccaf" x="379.08" y="333.72" style="stroke: #000000; stroke-width: 0.8"/>
      </g>
     </g>
     <g id="text_24">
      <text style="font-size: 9px; font-family: 'DejaVu Sans', sans-serif; text-anchor: middle; letter-spacing: -0.3px" x="378.58" y="346.84" transform="rotate(-0 378.58 346.84)">1000</text>
     </g>
    </g>
    <g id="xtick_52">
     <g id="line2d_113">
      <g>
       <use href="#m1504cfccaf" x="425.88" y="333.72" style="stroke: #000000; stroke-width: 0.8"/>
      </g>
     </g>
     <g id="text_25">
      <text style="font-size: 9px; font-family: 'DejaVu Sans', sans-serif; text-anchor: middle; letter-spacing: -0.3px" x="425.38" y="346.84" transform="rotate(-0 425.38 346.84)">1500</text>
     </g>
    </g>
    <g id="text_26">
     <text style="font-size: 9px; font-family: 'DejaVu Sans', sans-serif; text-anchor: middle" x="358.16" y="361.06" transform="rotate(-0 358.16 361.06)">Frequency [Hz]</text>
    </g>
   </g>
   <g id="matplotlib.axis_30"/>
   <g id="line2d_114">
    <path d="M281.5 332.6 281.9 332.7 282.2 332.5 282.6 332.5 283 332.6 283.3 332.6 283.7 332.6 284 332.6 284.4 332.6 284.8 332.6 285.1 332.6 285.5 332.6 285.8 332.5 286.2 332.5 286.6 332.6 286.9 332.7 287.3 332.7 287.6 332.6 288 332.5 288.4 332.5 288.7 332.6 289.1 332.6 289.4 332.7 289.8 332.6 290.2 332.7 290.5 332.7 290.9 332.7 291.2 332.6 291.6 332.6 292 332.7 292.3 332.6 292.7 332.6 293 332.5 293.4 332.6 293.8 332.6 294.1 332.6 294.5 332.6 294.8 332.6 295.2 332.7 295.6 332.5 295.9 332.6 296.3 332.6 296.6 332.6 297 332.6 297.4 332.7 297.7 332.6 298.1 332.6 298.4 332.7 298.8 332.6 299.2 332.7 299.5 332.7 299.9 332.7 300.2 332.6 300.6 332.6 301 332.6 301.3 332.6 301.7 332.5 302 332.7 302.4 332.6 302.8 332.5 303.1 332.4 303.5 332.2 303.8 332.2 304.2 332.3 304.6 332.5 304.9 332.6 305.3 332.6 305.6 332.7 306 332.7 306.4 332.7 306.7 332.6 307.1 332.6 307.4 332.6 307.8 332.6 308.2 332.6 308.5 332.6 308.9 332.6 309.2 332.5 309.6 332.6 310 332.6 310.3 332.7 310.7 332.5 311 332.7 311.4 332.6 311.8 332.6 312.1 332.7 312.5 332.6 312.8 332.6 313.2 332.6 313.6 332.6 313.9 332.6 314.3 332.6 314.6 332.7 315 332.6 315.4 332.6 315.7 332.7 316.1 332.5 316.4 332.6 316.8 332.6 317.2 332.7 317.5 332.6 317.9 332.6 318.2 332.6 318.6 332.7 319 332.5 319.3 332.7 319.7 332.6 320 332.6 320.4 332.6 320.8 332.6 321.1 332.6 321.5 332.6 321.8 332.7 322.2 332.7 322.6 332.6 322.9 332.6 323.3 332.6 323.6 332.6 324 332.6 324.4 332.6 324.7 332.6 325.1 332.6 325.4 332.7 325.8 332.6 326.2 332.7 326.5 332.6 326.9 332.7 327.2 332.6 327.6 332.6 328 332.6 328.3 332.6 328.7 332.7 329 332.6 329.4 332.6 329.8 332.6 330.1 332.7 330.5 332.6 330.8 332.6 331.2 332.5 331.6 332.6 331.9 332.5 332.3 332.6 332.6 332.6 333 332.7 333.4 332.6 333.7 332.7 334.1 332.6 334.4 332.6 334.8 332.6 335.2 332.7 335.5 332.6 335.9 332.7 336.2 332.6 336.6 332.6 337 332.6 337.3 332.6 337.7 332.6 338 332.4 338.4 332.1 338.8 331.9 339.1 331.8 339.5 332.1 339.8 332.3 340.2 332.6 340.6 332.5 340.9 332.6 341.3 332.6 341.6 332.6 342 332.7 342.4 332.7 342.7 332.5 343.1 332.6 343.4 332.6 343.8 332.6 344.2 332.6 344.5 332.7 344.9 332.7 345.2 332.6 345.6 332.6 346 332.6 346.3 332.6 346.7 332.6 347 332.7 347.4 331.5 347.8 330 348.1 328.5 348.5 327 348.8 327.9 349.2 329.4 349.6 330.9 349.9 332.4 350.3 332.7 350.6 332.6 351 332.7 351.4 332.7 351.7 332.6 352.1 332.7 352.4 332.6 352.8 332.6 353.2 332.6 353.5 332.6 353.9 332.6 354.2 332.6 354.6 332.7 355 332.7 355.3 332.6 355.7 332.7 356 332.6 356.4 332.7 356.8 326.6 357.1 320.6 357.5 314.5 357.8 308.4 358.2 304.8 358.6 310.8 358.9 316.9 359.3 323 359.6 329.1 360 332.6 360.4 332.6 360.7 332.6 361.1 332.6 361.4 332.6 361.8 332.6 362.2 332.6 362.5 332.6 362.9 332.6 363.2 332.6 363.6 332.7 364 332.7 364.3 332.7 364.7 332.6 365 332.7 365.4 332.6 365.8 332.6 366.1 332.6 366.5 332.6 366.8 332.2 367.2 331.7 367.6 331.3 367.9 331 368.3 331.4 368.6 331.9 369 332.4 369.4 332.6 369.7 332.6 370.1 332.7 370.4 332.6 370.8 332.6 371.2 332.5 371.5 332.6 371.9 332.6 372.2 332.6 372.6 332.6 373 332.7 373.3 332.6 373.7 332.6 374 332.6 374.4 332.6 374.8 332.6 375.1 332.7 375.5 332.6 375.8 332.6 376.2 332.6 376.6 332.6 376.9 332.6 377.3 332.7 377.6 332.6 378 332.6 378.4 332.7 378.7 332.5 379.1 332.6 379.4 332.6 379.8 332.6 380.2 332.7 380.5 332.6 380.9 332.7 381.2 332.7 381.6 332.6 382 332.7 382.3 332.6 382.7 332.7 383 332.6 383.4 332.6 383.8 332.6 384.1 332.6 384.5 332.6 384.8 332.6 385.2 332.6 385.6 332.7 385.9 332.7 386.3 332.7 386.6 332.6 387 332.7 387.4 332.5 387.7 332.6 388.1 332.5 388.4 332.6 388.8 332.6 389.2 332.6 389.5 332.6 389.9 332.7 390.2 332.7 390.6 332.6 391 332.5 391.3 332.5 391.7 332.6 392 332.6 392.4 332.7 392.8 332.6 393.1 332.7 393.5 332.7 393.8 332.7 394.2 332.6 394.6 332.6 394.9 332.7 395.3 332.6 395.6 332.7 396 332.7 396.4 332.6 396.7 332.6 397.1 332.6 397.4 332.7 397.8 332.7 398.2 332.6 398.5 332.7 398.9 332.7 399.2 332.5 399.6 332.7 400 332.6 400.3 332.6 400.7 332.6 401 332.7 401.4 332.7 401.8 332.7 402.1 332.6 402.5 332.7 402.8 332.7 403.2 332.7 403.6 332.7 403.9 332.6 404.3 332.6 404.6 332.6 405 332.7 405.4 332.6 405.7 332.5 406.1 332.5 406.4 332.4 406.8 332.2 407.2 332.1 407.5 332 407.9 332.1 408.2 332.2 408.6 332.4 409 332.5 409.3 332.6 409.7 332.6 410 332.5 410.4 332.7 410.8 332.6 411.1 332.6 411.5 332.7 411.8 332.7 412.2 332.6 412.6 332.6 412.9 332.5 413.3 332.4 413.6 332.2 414 332 414.4 331.8 414.7 331.6 415.1 331.4 415.4 331.3 415.8 331.4 416.2 331.6 416.5 331.8 416.9 332 417.2 332.2 417.6 332.4 418 332.5 418.3 332.6 418.7 332.6 419 332.6 419.4 332.6 419.8 332.6 420.1 332.5 420.5 332.7 420.8 330.6 421.2 328.4 421.6 326.3 421.9 324.1 422.3 326.3 422.6 328.4 423 330.6 423.4 332.6 423.7 332.6 424.1 332.5 424.4 332.6 424.8 332.6 425.2 332.6 425.5 332.7 425.9 332.6 426.2 332.6 426.6 332.6 427 332.7 427.3 332.7 427.7 332.7 428 332.6 428.4 332.6 428.8 332.6 429.1 332.6 429.5 332.7 429.8 332.6 430.2 332.6 430.6 331.1 430.9 327.1 431.3 323.1 431.6 319.1 432 315.1 432.4 319.1 432.7 323.1 433.1 327.1 433.4 331.1 433.8 332.5 434.2 332.6 434.5 332.6" clip-path="url(#p839522bdb6)" style="fill: none; stroke: #aaaaaa; stroke-width: 1.1; stroke-linecap: square"/>
   </g>
   <g id="line2d_115">
    <path d="M322.2 333.72 322.2 299.76" clip-path="url(#p839522bdb6)" style="fill: none; stroke-dasharray: 1.85,0.8; stroke-dashoffset: 0; stroke: #000000; stroke-width: 0.5"/>
   </g>
   <g id="patch_33">
    <path d="M280.87 333.72 435.46 333.72" style="fill: none; stroke: #000000; stroke-width: 0.8; stroke-linejoin: miter; stroke-linecap: square"/>
   </g>
   <g id="line2d_116">
    <g>
     <use href="#m87fcf83af1" x="358.13" y="304.7" style="fill: #aaaaaa; stroke: #000000; stroke-width: 1.1"/>
    </g>
   </g>
   <g id="line2d_117">
    <defs>
     <path id="mc2f94d2e61" d="M0 2.8 C 0.74 2.8 1.45 2.5 1.98 1.98 C 2.5 1.45 2.8 0.74 2.8 0 C 2.8 -0.74 2.5 -1.45 1.98 -1.98 C 1.45 -2.5 0.74 -2.8 0 -2.8 C -0.74 -2.8 -1.45 -2.5 -1.98 -1.98 C -2.5 -1.45 -2.8 -0.74 -2.8 0 C -2.8 0.74 -2.5 1.45 -1.98 1.98 C -1.45 2.5 -0.74 2.8 0 2.8z"/>
    </defs>
    <g>
     <use href="#mc2f94d2e61" x="295.2" y="330.77" style="fill: #dc143c"/>
    </g>
   </g>
  </g>
  <g id="axes_16">
   <g id="patch_34">
    <path d="M50.04 412.92 435.53 412.92 435.53 373.03 50.04 373.03z" style="fill: #ffffff"/>
   </g>
   <g id="matplotlib.axis_31">
    <g id="xtick_53">
     <g id="line2d_118">
      <g>
       <use href="#m1504cfccaf" x="50.04" y="412.92" style="stroke: #000000; stroke-width: 0.8"/>
      </g>
     </g>
    </g>
    <g id="xtick_54">
     <g id="line2d_119">
      <g>
       <use href="#m1504cfccaf" x="116.28" y="412.92" style="stroke: #000000; stroke-width: 0.8"/>
      </g>
     </g>
    </g>
    <g id="xtick_55">
     <g id="line2d_120">
      <g>
       <use href="#m1504cfccaf" x="182.52" y="412.92" style="stroke: #000000; stroke-width: 0.8"/>
      </g>
     </g>
    </g>
    <g id="xtick_56">
     <g id="line2d_121">
      <g>
       <use href="#m1504cfccaf" x="248.76" y="412.92" style="stroke: #000000; stroke-width: 0.8"/>
      </g>
     </g>
    </g>
    <g id="xtick_57">
     <g id="line2d_122">
      <g>
       <use href="#m1504cfccaf" x="315" y="412.92" style="stroke: #000000; stroke-width: 0.8"/>
      </g>
     </g>
    </g>
    <g id="xtick_58">
     <g id="line2d_123">
      <g>
       <use href="#m1504cfccaf" x="381.24" y="412.92" style="stroke: #000000; stroke-width: 0.8"/>
      </g>
     </g>
    </g>
   </g>
   <g id="matplotlib.axis_32">
    <g id="ytick_10">
     <g id="line2d_124">
      <g>
       <use href="#m5d545ce8f8" x="50.04" y="411.48" style="stroke: #000000; stroke-width: 0.8"/>
      </g>
     </g>
     <g id="text_27">
      <text style="font-size: 9px; font-family: 'DejaVu Sans', sans-serif; text-anchor: end" x="42.32" y="414.90" transform="rotate(-0 42.32 414.90)">0</text>
     </g>
    </g>
    <g id="ytick_11">
     <g id="line2d_125">
      <g>
       <use href="#m5d545ce8f8" x="50.04" y="378.36" style="stroke: #000000; stroke-width: 0.8"/>
      </g>
     </g>
     <g id="text_28">
      <text style="font-size: 9px; font-family: 'DejaVu Sans', sans-serif; text-anchor: end" x="42.32" y="381.78" transform="rotate(-0 42.32 381.78)">500</text>
     </g>
    </g>
    <g id="text_29">
     <text style="font-size: 9px; font-family: 'DejaVu Sans', sans-serif; text-anchor: middle" x="19.20" y="393.34" transform="rotate(-90 19.20 393.34)">AF [Hz]</text>
    </g>
   </g>
   <g id="line2d_126">
    <path d="M55.7 398.4 55.7 408.7 59.3 407.9 60 407.5 60.8 407.3 61.5 407.1 62.2 406.5 62.9 405.9 63.6 406.4 64.4 405.9 65.1 405.4 65.8 405.1 66.5 404.9 67.2 404.9 68 404.1 68.7 404 69.4 403.8 70.1 403.4 70.8 403.3 71.6 402.9 72.3 402.9 73 402.3 73.7 402 74.5 401.6 75.2 401.4 75.9 401.5 76.6 401.1 77.3 400.5 78 400.4 78.8 400 79.5 399.6 80.2 399.2 80.9 399.2 81.7 398.7 82.4 398.4 83.1 398.6 83.8 398.1 84.5 397.6 85.2 397.2 86 396.8 86.7 396.8 87.4 396.5 88.1 396.3 88.8 395.7 89.6 395.5 90.3 395.1 91 395.1 91.7 394.9 92.5 394.5 93.2 394.3 93.9 393.8 94.6 393.7 95.3 393.4 96 392.9 96.8 392.5 97.5 392.5 98.2 391.9 98.9 391.6 99.7 391.5 100.4 391.4 101.1 391.4 101.8 391.2 102.5 390.6 103.2 390 104 389.8 104.7 389.7 105.4 389.5 106.1 388.9 106.8 388.6 107.6 388.2 108.3 388.1 109 387.9 109.7 387.4 110.5 387.2 111.2 387 111.9 387.1 112.6 386.2 113.3 386.1 114 386 114.8 385.3 115.5 385.3 116.2 384.8 116.9 385.5 117.7 385.6 118.4 385.6 119.1 386.3 119.8 386.1 120.5 386.7 121.2 386.9 122 386.9 122.7 387.7 123.4 387.7 124.1 388.1 124.8 388.6 125.6 389.1 126.3 388.9 127 389.2 127.7 389.6 128.4 390 129.2 390 129.9 390.4 130.6 390.9 131.3 391.6 132.1 391.8 132.8 392 133.5 392 134.2 392.1 134.9 392.3 135.7 392.5 136.4 392.9 137.1 394 137.8 394.4 138.5 394 139.2 393.9 140 394.3 140.7 394.3 141.4 395.2 142.1 395.2 142.8 395.6 143.6 395.8 144.3 396.3 145 396.3 145.7 396.7 146.4 397 147.2 397.2 147.9 397.6 148.6 397.9 149.3 398.1 150.1 398.3 150.8 398.9 151.5 398.8 152.2 399.4 152.9 399.4 153.7 399.7 154.4 400 155.1 400.4 155.8 400.9 156.5 401 157.2 400.9 158 401.5 158.7 401.6 159.4 401.9 160.1 402.3 160.8 402.7 161.6 402.7 162.3 403.4 163 403.3 163.7 403.6 164.4 404.1 165.2 404.5 165.9 404.6 166.6 404.6 167.3 405.3 168.1 405.3 168.8 405.8 169.5 406 170.2 406.1 170.9 406.6 171.7 407 172.4 407.3 173.1 407.1 173.8 407.8 174.5 407.8 175.2 408.2 176 409 176.7 409.5 177.4 409.5 178.1 409.4 178.8 409.7 179.6 409.9 180.3 410.3 181 410.7 181.7 410.6 182.4 410.3 183.2 409.9 183.9 409.9 184.6 409.1 185.3 409.4 186.1 408.9 186.8 408.4 187.5 408.4 188.2 408.5 188.9 408 189.7 407.8 190.4 407.1 191.1 407.1 191.8 406.9 192.5 406.5 193.2 406.3 194 405.9 194.7 405.8 195.4 405.1 196.1 405 196.8 405 197.6 404.5 198.3 404.5 199 404 199.7 403.8 200.4 403.4 201.2 403.2 201.9 403 202.6 402.7 203.3 402.2 204.1 402.1 204.8 402.1 205.5 401.4 206.2 401.3 206.9 400.9 207.7 400.6 208.4 400.4 209.1 400.3 209.8 400 210.5 399.6 211.2 399.3 212 399.2 212.7 398.8 213.4 398.4 214.1 398 214.8 397.8 215.6 397.3 216.3 397.5 217 397.3 217.7 396.9 218.4 396.6 219.2 396.1 219.9 396 220.6 395.6 221.3 395.4 222.1 394.6 222.8 394.3 223.5 394 224.2 394 224.9 393.9 225.7 394 226.4 393.3 227.1 393.3 227.8 393 228.5 392.9 229.2 392.6 230 392.3 230.7 391.9 231.4 391.5 232.1 391.3 232.8 391.4 233.6 390.6 234.3 390.5 235 390.4 235.7 390.2 236.4 389.8 237.2 389.3 237.9 389.4 238.6 389 239.3 388.6 240.1 387.9 240.8 387.9 241.5 387.8 242.2 387.8 242.9 387.2 243.7 386.9 244.4 386.5 245.1 386.4 245.8 386 246.5 385.9 247.2 385.6 248 385.4 248.7 385 249.4 385.2 250.1 385.5 250.8 385.7 251.6 386.1 252.3 386.7 253 386.6 253.7 386.7 254.4 387.2 255.2 387.6 255.9 387.7 256.6 388.2 257.3 388.7 258.1 388.8 258.8 388.8 259.5 389.4 260.2 389.6 260.9 390.1 261.6 390.1 262.4 390.5 263.1 390.7 263.8 391.2 264.5 391.3 265.2 391.6 266 391.9 266.7 392.2 267.4 392.5 268.1 392.5 268.9 392.9 269.6 393.2 270.3 393.9 271 394.4 271.7 394.6 272.4 394.3 273.2 395 273.9 395.2 274.6 395.3 275.3 395.5 276.1 396.1 276.8 396.3 277.5 396.4 278.2 397 278.9 397 279.6 397.3 280.4 397.8 281.1 398.1 281.8 398.2 282.5 398.3 283.2 398.7 284 399.4 284.7 399.4 285.4 399.7 286.1 400 286.9 400.4 287.6 400.8 288.3 400.5 289 401 289.7 401.7 290.4 401.6 291.2 402.2 291.9 402.5 292.6 402.7 293.3 403 294.1 403 294.8 403.4 295.5 403.6 296.2 403.9 296.9 404.5 297.6 404.7 298.4 404.9 299.1 405 299.8 405.4 300.5 405.9 301.2 406.6 302 407.1 302.7 407.4 303.4 406.8 304.1 407.2 304.9 407.3 305.6 407.7 306.3 407.5 307 408.4 307.7 408.6 308.4 409.1 309.2 409.1 309.9 409.2 310.6 410 311.3 410.3 312.1 410.4 312.8 410.9 313.5 410.2 314.2 410.3 314.9 409.8 315.6 409.5 316.4 409.7 317.1 408.9 317.8 408.7 318.5 408.8 319.2 407.8 320 408.1 320.7 407.9 321.4 407.2 322.1 406.9 322.9 406.9 323.6 406.7 324.3 406 325 406 325.7 405.7 326.4 405.2 327.2 405.4 327.9 404.6 328.6 404.8 329.3 404.3 330.1 403.9 330.8 403.8 331.5 403.2 332.2 403.4 332.9 402.7 333.6 402.9 334.4 402.5 335.1 401.8 335.8 401.9 336.5 401.5 337.2 401.5 338 400.9 338.7 400.8 339.4 400.6 340.1 400.2 340.9 399.6 341.6 399.7 342.3 399.4 343 399.1 343.7 398.7 344.4 398.5 345.2 398.1 345.9 397.1 346.6 397.5 347.3 396.9 348.1 397.1 348.8 397.1 349.5 396.6 350.2 396.5 350.9 396 351.6 396 352.4 395.4 353.1 395 353.8 395 354.5 394.5 355.2 394.7 356 394.1 356.7 394.1 357.4 393.7 358.1 393.2 358.9 392.9 359.6 392.8 360.3 392.3 361 392.5 361.7 392.3 362.4 392.1 363.2 391.4 363.9 390.7 364.6 390.7 365.3 390.8 366.1 390.1 366.8 389.9 367.5 389.5 368.2 389.4 368.9 389.2 369.6 389 370.4 388.4 371.1 388.1 371.8 387.8 372.5 387.8 373.2 387.5 374 387.3 374.7 387.1 375.4 386.6 376.1 386.6 376.9 386.3 377.6 385.8 378.3 385.5 379 385.4 379.7 384.9 380.4 385.3 381.2 385.6 381.9 386 382.6 386.4 383.3 386.2 384.1 386.8 384.8 387 385.5 387 386.2 387.5 386.9 387.6 387.6 388.1 388.4 388.3 389.1 388.6 389.8 389 390.5 388.9 391.2 389.3 392 389.8 392.7 389.9 393.4 390.1 394.1 390.1 394.9 391 395.6 391.1 396.3 391.3 397 391.7 397.7 391.7 398.4 392.5 399.2 392.5 399.9 392.8 400.6 393.1 401.3 393.6 402.1 393.4 402.8 393.5 403.5 394.6 404.2 394.7 404.9 395.3 405.6 395 406.4 395.3 407.1 395.5 407.8 395.6 408.5 395.9 409.2 396.3 410 396.9 410.7 396.3 411.4 397.1 412.1 397.3 412.9 397.9 413.6 398.1 414.3 398.2 415 398.6 415.7 399.3 416.4 399.1 417.2 399.3 417.9 399.6 418.6 400.1 419.3 400.3 420.1 400.9 420.8 400.6 421.5 401.1 422.2 401.3 422.9 401.7 423.6 401.8 424.4 402 425.1 402.5 425.8 402.8 426.5 402.9 427.2 403.3 428 403.7 428.7 404.1 429.4 404.1 430.1 404.6 430.9 404.7 431.6 405.1 432.3 405.1 433 405.1 433.7 405.9 434.4 406.4" clip-path="url(#pc1760db614)" style="fill: none; stroke: #a6a6a6; stroke-linecap: square"/>
   </g>
   <g id="line2d_127">
    <path d="M50.04 374.62 435.53 374.62" clip-path="url(#pc1760db614)" style="fill: none; stroke-dasharray: 1,1.65; stroke-dashoffset: 0; stroke: #999999"/>
   </g>
   <g id="patch_35">
    <path d="M50.04 412.92 50.04 373.03" style="fill: none; stroke: #000000; stroke-width: 0.8; stroke-linejoin: miter; stroke-linecap: square"/>
   </g>
   <g id="patch_36">
    <path d="M50.04 412.92 435.53 412.92" style="fill: none; stroke: #000000; stroke-width: 0.8; stroke-linejoin: miter; stroke-linecap: square"/>
   </g>
   <g id="text_30">
    <text style="font-weight: 700; font-size: 10px; font-family: 'DejaVu Sans', sans-serif; text-anchor: start" x="42.83" y="368.36" transform="rotate(-0 42.83 368.36)">D</text>
   </g>
   <g id="line2d_128">
    <defs>
     <path id="m0359ef42ae" d="M0 2.7 C 0.72 2.7 1.4 2.42 1.91 1.91 C 2.42 1.4 2.7 0.72 2.7 0 C 2.7 -0.72 2.42 -1.4 1.91 -1.91 C 1.4 -2.42 0.72 -2.7 0 -2.7 C -0.72 -2.7 -1.4 -2.42 -1.91 -1.91 C -2.42 -1.4 -2.7 -0.72 -2.7 0 C -2.7 0.72 -2.42 1.4 -1.91 1.91 C -1.4 2.42 -0.72 2.7 0 2.7z"/>
    </defs>
    <g clip-path="url(#pc1760db614)">
     <use href="#m0359ef42ae" x="59.33" y="407.81" style="fill: #006400"/>
    </g>
   </g>
   <g id="line2d_129">
    <defs>
     <path id="m39bf4ff570" d="M0 2.7 C 0.72 2.7 1.4 2.42 1.91 1.91 C 2.42 1.4 2.7 0.72 2.7 0 C 2.7 -0.72 2.42 -1.4 1.91 -1.91 C 1.4 -2.42 0.72 -2.7 0 -2.7 C -0.72 -2.7 -1.4 -2.42 -1.91 -1.91 C -2.42 -1.4 -2.7 -0.72 -2.7 0 C -2.7 0.72 -2.42 1.4 -1.91 1.91 C -1.4 2.42 -0.72 2.7 0 2.7z"/>
    </defs>
    <g clip-path="url(#pc1760db614)">
     <use href="#m39bf4ff570" x="109.58" y="388.22" style="fill: #32cd32"/>
    </g>
   </g>
   <g id="line2d_130">
    <defs>
     <path id="m40aa7412dc" d="M0 2.7 C 0.72 2.7 1.4 2.42 1.91 1.91 C 2.42 1.4 2.7 0.72 2.7 0 C 2.7 -0.72 2.42 -1.4 1.91 -1.91 C 1.4 -2.42 0.72 -2.7 0 -2.7 C -0.72 -2.7 -1.4 -2.42 -1.91 -1.91 C -2.42 -1.4 -2.7 -0.72 -2.7 0 C -2.7 0.72 -2.42 1.4 -1.91 1.91 C -1.4 2.42 -0.72 2.7 0 2.7z"/>
    </defs>
    <g clip-path="url(#pc1760db614)">
     <use href="#m40aa7412dc" x="192.74" y="407.66" style="fill: #9acd32"/>
    </g>
   </g>
   <g id="line2d_131">
    <defs>
     <path id="m8d4cf7706d" d="M0 2.7 C 0.72 2.7 1.4 2.42 1.91 1.91 C 2.42 1.4 2.7 0.72 2.7 0 C 2.7 -0.72 2.42 -1.4 1.91 -1.91 C 1.4 -2.42 0.72 -2.7 0 -2.7 C -0.72 -2.7 -1.4 -2.42 -1.91 -1.91 C -2.42 -1.4 -2.7 -0.72 -2.7 0 C -2.7 0.72 -2.42 1.4 -1.91 1.91 C -1.4 2.42 -0.72 2.7 0 2.7z"/>
    </defs>
    <g clip-path="url(#pc1760db614)">
     <use href="#m8d4cf7706d" x="241.34" y="388.22" style="fill: #ffa500"/>
    </g>
   </g>
   <g id="line2d_132">
    <defs>
     <path id="md631be18a3" d="M0 2.7 C 0.72 2.7 1.4 2.42 1.91 1.91 C 2.42 1.4 2.7 0.72 2.7 0 C 2.7 -0.72 2.42 -1.4 1.91 -1.91 C 1.4 -2.42 0.72 -2.7 0 -2.7 C -0.72 -2.7 -1.4 -2.42 -1.91 -1.91 C -2.42 -1.4 -2.7 -0.72 -2.7 0 C -2.7 0.72 -2.42 1.4 -1.91 1.91 C -1.4 2.42 -0.72 2.7 0 2.7z"/>
    </defs>
    <g clip-path="url(#pc1760db614)">
     <use href="#md631be18a3" x="324.86" y="407.66" style="fill: #ff4500"/>
    </g>
   </g>
   <g id="line2d_133">
    <defs>
     <path id="m2dcc20f5ee" d="M0 2.7 C 0.72 2.7 1.4 2.42 1.91 1.91 C 2.42 1.4 2.7 0.72 2.7 0 C 2.7 -0.72 2.42 -1.4 1.91 -1.91 C 1.4 -2.42 0.72 -2.7 0 -2.7 C -0.72 -2.7 -1.4 -2.42 -1.91 -1.91 C -2.42 -1.4 -2.7 -0.72 -2.7 0 C -2.7 0.72 -2.42 1.4 -1.91 1.91 C -1.4 2.42 -0.72 2.7 0 2.7z"/>
    </defs>
    <g clip-path="url(#pc1760db614)">
     <use href="#m2dcc20f5ee" x="371.95" y="390.02" style="fill: #8b0000"/>
    </g>
   </g>
   <g id="line2d_134">
    <defs>
     <path id="mf98a6dce66" d="M0 2.7 C 0.72 2.7 1.4 2.42 1.91 1.91 C 2.42 1.4 2.7 0.72 2.7 0 C 2.7 -0.72 2.42 -1.4 1.91 -1.91 C 1.4 -2.42 0.72 -2.7 0 -2.7 C -0.72 -2.7 -1.4 -2.42 -1.91 -1.91 C -2.42 -1.4 -2.7 -0.72 -2.7 0 C -2.7 0.72 -2.42 1.4 -1.91 1.91 C -1.4 2.42 -0.72 2.7 0 2.7z"/>
    </defs>
    <g clip-path="url(#pc1760db614)">
     <use href="#mf98a6dce66" x="430.92" y="404.21" style="fill: #dc143c"/>
    </g>
   </g>
  </g>
  <g id="axes_17">
   <g id="patch_37">
    <path d="M50.04 472.68 435.53 472.68 435.53 432.72 50.04 432.72z" style="fill: #ffffff"/>
   </g>
   <g id="matplotlib.axis_33">
    <g id="xtick_59">
     <g id="line2d_135">
      <g>
       <use href="#m1504cfccaf" x="50.04" y="472.68" style="stroke: #000000; stroke-width: 0.8"/>
      </g>
     </g>
     <g id="text_31">
      <text style="font-size: 9px; font-family: 'DejaVu Sans', sans-serif; text-anchor: middle; letter-spacing: -0.3px" x="49.54" y="486.52" transform="rotate(-0 49.54 486.52)">−785</text>
     </g>
    </g>
    <g id="xtick_60">
     <g id="line2d_136">
      <g>
       <use href="#m1504cfccaf" x="116.28" y="472.68" style="stroke: #000000; stroke-width: 0.8"/>
      </g>
     </g>
     <g id="text_32">
      <text style="font-size: 9px; font-family: 'DejaVu Sans', sans-serif; text-anchor: middle; letter-spacing: -0.3px" x="115.78" y="486.52" transform="rotate(-0 115.78 486.52)">−392</text>
     </g>
    </g>
    <g id="xtick_61">
     <g id="line2d_137">
      <g>
       <use href="#m1504cfccaf" x="182.52" y="472.68" style="stroke: #000000; stroke-width: 0.8"/>
      </g>
     </g>
     <g id="text_33">
      <text style="font-size: 9px; font-family: 'DejaVu Sans', sans-serif; text-anchor: middle; letter-spacing: -0.3px" x="182.02" y="486.52" transform="rotate(-0 182.02 486.52)">0</text>
     </g>
    </g>
    <g id="xtick_62">
     <g id="line2d_138">
      <g>
       <use href="#m1504cfccaf" x="248.76" y="472.68" style="stroke: #000000; stroke-width: 0.8"/>
      </g>
     </g>
     <g id="text_34">
      <text style="font-size: 9px; font-family: 'DejaVu Sans', sans-serif; text-anchor: middle; letter-spacing: -0.3px" x="248.26" y="486.52" transform="rotate(-0 248.26 486.52)">392</text>
     </g>
    </g>
    <g id="xtick_63">
     <g id="line2d_139">
      <g>
       <use href="#m1504cfccaf" x="315" y="472.68" style="stroke: #000000; stroke-width: 0.8"/>
      </g>
     </g>
     <g id="text_35">
      <text style="font-size: 9px; font-family: 'DejaVu Sans', sans-serif; text-anchor: middle; letter-spacing: -0.3px" x="314.50" y="486.52" transform="rotate(-0 314.50 486.52)">785</text>
     </g>
    </g>
    <g id="xtick_64">
     <g id="line2d_140">
      <g>
       <use href="#m1504cfccaf" x="381.24" y="472.68" style="stroke: #000000; stroke-width: 0.8"/>
      </g>
     </g>
     <g id="text_36">
      <text style="font-size: 9px; font-family: 'DejaVu Sans', sans-serif; text-anchor: middle; letter-spacing: -0.3px" x="380.74" y="486.52" transform="rotate(-0 380.74 486.52)">1177</text>
     </g>
    </g>
    <g id="text_37">
     <text style="font-size: 9px; font-family: 'DejaVu Sans', sans-serif; text-anchor: middle" x="242.42" y="499.95" transform="rotate(-0 242.42 499.95)">Difference frequency [Hz]</text>
    </g>
   </g>
   <g id="matplotlib.axis_34">
    <g id="ytick_12">
     <g id="line2d_141">
      <g>
       <use href="#m5d545ce8f8" x="50.04" y="472.68" style="stroke: #000000; stroke-width: 0.8"/>
      </g>
     </g>
     <g id="text_38">
      <text style="font-size: 9px; font-family: 'DejaVu Sans', sans-serif; text-anchor: end" x="42.32" y="476.10" transform="rotate(-0 42.32 476.10)">0</text>
     </g>
    </g>
    <g id="ytick_13">
     <g id="line2d_142">
      <g>
       <use href="#m5d545ce8f8" x="50.04" y="452.52" style="stroke: #000000; stroke-width: 0.8"/>
      </g>
     </g>
     <g id="text_39">
      <text style="font-size: 9px; font-family: 'DejaVu Sans', sans-serif; text-anchor: end" x="42.32" y="455.94" transform="rotate(-0 42.32 455.94)">200</text>
     </g>
    </g>
    <g id="text_40">
     <text style="font-size: 9px; font-family: 'DejaVu Sans', sans-serif; text-anchor: middle" x="18.55" y="454.50" transform="rotate(-90 18.55 454.50)">Modulation</text>
    </g>
   </g>
   <g id="line2d_143">
    <path d="M55.4 466.9 55.3 457.5 59.3 455.8 60.2 456 61.1 455.5 62 451.6 62.9 451.5 63.8 451.7 64.7 449.5 65.6 449.9 66.5 451.1 67.4 451.1 68.3 448.6 69.2 449.1 70.1 450.8 71 452.6 71.9 456.1 72.8 451.9 73.7 450.6 74.6 447.9 75.5 448.2 76.4 448.7 77.3 449.3 78.2 450.4 79.1 448.2 80 449.1 80.9 450.1 81.8 448.5 82.7 449 83.6 449.4 84.5 449.5 85.4 449.8 86.3 448 87.2 449.8 88.1 452.4 89 455 89.9 451.4 90.8 450.4 91.7 450.4 92.6 450.7 93.5 448.4 94.4 449.3 95.3 450.1 96.2 450.8 97.1 451.2 98 448.3 98.9 449.4 99.8 450.8 100.7 451.5 101.6 449.4 102.5 450.3 103.4 450.8 104.3 451.5 105.2 448 106.1 450 107 450.9 107.9 451.7 108.8 452.1 109.7 449.3 110.6 451.4 111.5 453.6 112.4 453.6 113.3 458.3 114.2 451.3 115.1 447.8 116 442.9 116.9 440 117.8 444.9 118.7 449.9 119.6 450.6 120.5 449.6 121.4 450 122.3 450.3 123.2 451.2 124.1 449.3 125 450.5 125.9 452.3 126.8 450 127.7 449.9 128.6 450.4 129.5 450.9 130.4 451.3 131.3 450.5 132.2 453.6 133.1 457.8 134 454.3 134.9 453 135.8 449.9 136.7 450.7 137.6 451.1 138.5 451.7 139.4 452.3 140.3 449.9 141.2 450.9 142.1 453.1 143 450.3 143.9 451.2 144.8 451.9 145.7 450.3 146.6 452 147.5 454.3 148.4 452.8 149.3 452.4 150.2 449.2 151.1 450 152 450.6 152.9 448.4 153.8 449.1 154.7 449.7 155.6 449.4 156.5 447.2 157.4 447.9 158.3 449 159.2 450 160.1 446.9 161 447.9 161.9 448.9 162.8 446.5 163.7 446.5 164.6 447.3 165.5 448 166.4 448.3 167.3 445.4 168.2 446.5 169.1 446.6 170 447.3 170.9 445 171.8 445.9 172.7 446.7 173.6 444.6 174.5 445.5 175.4 445.2 176.3 445.9 177.2 443.9 178.1 446.6 179 449.1 179.9 447.2 180.8 449.2 181.7 452.1 182.6 450.2 183.5 450.5 184.4 449.4 185.3 446.1 186.2 446.6 187.1 446.1 188 447.1 188.9 446.7 189.8 449.2 190.7 453.6 191.6 449.2 192.5 447.4 193.4 448.8 194.3 454.3 195.2 449.5 196.1 447.6 197 444.8 197.9 445.8 198.8 446.2 199.7 444.1 200.6 445.6 201.5 446.5 202.4 447 203.3 452.1 204.2 459.4 205.1 452.7 206 449.4 206.9 444.7 207.8 446 208.7 449.3 209.6 454 210.5 461.5 211.4 452.9 212.3 450 213.2 449.8 214.1 447.5 215 448.1 215.9 448.4 216.8 449.2 217.7 449.7 218.6 448.3 219.5 451.7 220.4 458.8 221.3 470.2 222.2 457.9 223.1 452.7 224 450.5 224.9 448.3 225.8 449.2 226.7 450.2 227.6 450.8 228.5 448.9 229.4 450 230.3 450.9 231.2 448.9 232.1 450.2 233 451 233.9 452.4 234.8 450 235.7 450.4 236.6 450.9 237.5 451.4 238.4 451.2 239.3 448.6 240.2 450 241.1 450.4 242 448.2 242.9 450.5 243.8 454.3 244.7 450.7 245.6 447.3 246.5 441.5 247.4 440 248.3 438.2 249.2 442 250.1 442.7 251 446.7 251.9 450.4 252.8 451.8 253.7 449.8 254.6 450.2 255.5 450.9 256.4 451.8 257.3 449.5 258.2 450.7 259.1 451.9 260 449.9 260.9 450 261.8 450.8 262.7 451 263.6 451.8 264.5 449.4 265.4 450.4 266.3 451 267.2 451.4 268.1 450.4 269 450.6 269.9 451.6 270.8 453.9 271.7 457.2 272.6 453.4 273.5 451.6 274.4 451.1 275.3 448.7 276.2 449.9 277.1 450.6 278 452 278.9 452.2 279.8 449.4 280.7 449.9 281.6 450.9 282.5 450.6 283.4 451.8 284.3 449.1 285.2 450.7 286.1 452.3 287 448.9 287.9 450.8 288.8 451.7 289.7 450.9 290.6 454 291.5 459.4 292.4 454.8 293.3 450.1 294.2 450.1 295.1 451.1 296 448.6 296.9 448.9 297.8 449.8 298.7 452.2 299.6 456.4 300.5 463 301.4 455.3 302.3 452.2 303.2 448.2 304.1 448.8 305 449.7 305.9 450.1 306.8 447 307.7 447.8 308.6 448.3 309.5 449.3 310.4 452.4 311.3 452.6 312.2 454.9 313.1 457.5 314 459.7 314.9 460.4 315.8 455.6 316.7 452.5 317.6 451.4 318.5 451.6 319.4 452 320.3 449.5 321.2 449.6 322.1 449.4 323 449.8 323.9 449.8 324.8 447.4 325.7 447.9 326.6 448.3 327.5 449.1 328.4 449.6 329.3 447.6 330.2 447.7 331.1 448.8 332 449.6 332.9 450 333.8 447.3 334.7 448.2 335.6 449.8 336.5 450 337.4 447.7 338.3 450.4 339.2 453.8 340.1 458.6 341 453.4 341.9 451.2 342.8 449.9 343.7 450.7 344.6 451.2 345.5 450.1 346.4 450.4 347.3 452.5 348.2 455.1 349.1 457.9 350 454.6 350.9 454.4 351.8 451.3 352.7 452.4 353.6 453.5 354.5 451.6 355.4 452.6 356.3 453.7 357.2 454.3 358.1 452.1 359 453.4 359.9 454.1 360.8 454.8 361.7 455.6 362.6 453.1 363.5 454.2 364.4 455.5 365.3 455.9 366.2 457.3 367.1 454.7 368 455.5 368.9 456.1 369.8 456.9 370.7 455.2 371.6 455.7 372.5 456.1 373.4 457 374.3 456.6 375.2 453.5 376.1 454.1 377 453.8 377.9 454.2 378.8 456.2 379.7 461.5 380.6 456.2 381.5 455.7 382.4 455.8 383.3 456.5 384.2 453.8 385.1 454.2 386 454.6 386.9 455.4 387.8 456 388.7 453.4 389.6 453.8 390.5 454.2 391.4 455.4 392.3 452.9 393.2 454.4 394.1 455.9 395 453.1 395.9 454 396.8 455.1 397.7 453.3 398.6 453.2 399.5 453.9 400.4 454.3 401.3 454.4 402.2 454.2 403.1 458.4 404 465.8 404.9 459.6 405.8 457.2 406.7 453.3 407.6 453.9 408.5 454.6 409.4 455.2 410.3 452.5 411.2 453.3 412.1 454.5 413 455.8 413.9 456.4 414.8 454 415.7 454.8 416.6 456 417.5 456 418.4 453.8 419.3 454.6 420.2 455.9 421.1 456.4 422 457 422.9 455.2 423.8 457 424.7 459.9 425.6 464.4 426.5 460.4 427.4 456.4 428.3 456.7 429.2 458.4 430.1 460.8 431 459.3 431.9 456.5 432.8 455.4 433.7 456.4 434.6 461.7" clip-path="url(#pcfaa63ee3c)" style="fill: none; stroke-dasharray: 3.33,1.44; stroke-dashoffset: 0; stroke: #000000; stroke-width: 0.9"/>
   </g>
   <g id="line2d_144">
    <path d="M55.4 466.9 55.3 457.5 59.3 455.8 60.2 456 61.1 455.5 62 451.6 62.9 451.5 63.8 451.7 64.7 449.5 65.6 449.9 66.5 451.1 67.4 451.1 68.3 448.6 69.2 449.1 70.1 449.9 71 449.8 71.9 447.5 72.8 448.4 73.7 449.6 74.6 447.9 75.5 448.2 76.4 448.7 77.3 449.3 78.2 450.4 79.1 448.2 80 449.1 80.9 450.1 81.8 448.5 82.7 449 83.6 449.4 84.5 449.5 85.4 449.8 86.3 448 87.2 448.9 88.1 450.2 89 450.9 89.9 448.3 90.8 449.6 91.7 450.4 92.6 450.7 93.5 448.4 94.4 449.3 95.3 450.1 96.2 450.8 97.1 451.2 98 448.3 98.9 449.4 99.8 450.8 100.7 451.5 101.6 449.4 102.5 450.3 103.4 450.8 104.3 451.5 105.2 448 106.1 450 107 450.9 107.9 451.7 108.8 452.1 109.7 449.3 110.6 451.4 111.5 452.8 112.4 449.8 113.3 445.4 114.2 445.5 115.1 445.9 116 442.9 116.9 440 117.8 444.9 118.7 449.9 119.6 450.6 120.5 449.6 121.4 450 122.3 450.3 123.2 451.2 124.1 449.3 125 450.5 125.9 452.3 126.8 450 127.7 449.9 128.6 450.4 129.5 450.9 130.4 451.3 131.3 449.3 132.2 450.1 133.1 451 134 451.4 134.9 452.1 135.8 449.9 136.7 450.7 137.6 451.1 138.5 451.7 139.4 452.3 140.3 449.9 141.2 450.9 142.1 453.1 143 450.3 143.9 451.2 144.8 451.9 145.7 449.6 146.6 450.1 147.5 450.5 148.4 451.6 149.3 452.1 150.2 449.2 151.1 450 152 450.6 152.9 448.4 153.8 449.1 154.7 449.7 155.6 449.4 156.5 447.2 157.4 447.9 158.3 449 159.2 450 160.1 446.9 161 447.9 161.9 448.9 162.8 446.5 163.7 446.5 164.6 447.3 165.5 448 166.4 448.3 167.3 445.4 168.2 446.5 169.1 446.6 170 447.3 170.9 445 171.8 445.9 172.7 446.7 173.6 444.6 174.5 445.5 175.4 445.2 176.3 445.9 177.2 443.9 178.1 446.6 179 449.1 179.9 447.2 180.8 449.2 181.7 452.1 182.6 450.2 183.5 450.5 184.4 449.4 185.3 446.1 186.2 446.6 187.1 446.1 188 447.1 188.9 445.5 189.8 445.7 190.7 445.9 191.6 445.7 192.5 446.2 193.4 444.2 194.3 445 195.2 445.6 196.1 446.5 197 444.8 197.9 445.8 198.8 446.2 199.7 444.1 200.6 445.6 201.5 446.5 202.4 444.8 203.3 446.2 204.2 445.8 205.1 447.3 206 447.6 206.9 444.7 207.8 446 208.7 447.1 209.6 447.8 210.5 448.8 211.4 445.9 212.3 448 213.2 449.8 214.1 447.5 215 448.1 215.9 448.4 216.8 449.2 217.7 449.7 218.6 448.3 219.5 448.4 220.4 449.5 221.3 450.1 222.2 447.9 223.1 449.6 224 450.5 224.9 448.3 225.8 449.2 226.7 450.2 227.6 450.8 228.5 448.9 229.4 450 230.3 450.9 231.2 448.9 232.1 450.2 233 451 233.9 452.4 234.8 450 235.7 450.4 236.6 450.9 237.5 451.4 238.4 451.2 239.3 448.6 240.2 450 241.1 450.4 242 447.1 242.9 447.4 243.8 447.4 244.7 447.7 245.6 446 246.5 441.5 247.4 440 248.3 438.2 249.2 442 250.1 442.7 251 446.7 251.9 450.4 252.8 451.8 253.7 449.8 254.6 450.2 255.5 450.9 256.4 451.8 257.3 449.5 258.2 450.7 259.1 451.9 260 449.9 260.9 450 261.8 450.8 262.7 451 263.6 451.8 264.5 449.4 265.4 450.4 266.3 451 267.2 451.4 268.1 450.4 269 450.6 269.9 450.6 270.8 451.1 271.7 451.7 272.6 450.3 273.5 450.6 274.4 451.1 275.3 448.7 276.2 449.9 277.1 450.6 278 452 278.9 452.2 279.8 449.4 280.7 449.9 281.6 450.9 282.5 450.6 283.4 451.8 284.3 449.1 285.2 450.7 286.1 452.3 287 448.9 287.9 450.8 288.8 451.7 289.7 449.5 290.6 449.6 291.5 450.5 292.4 451 293.3 448.5 294.2 450.1 295.1 451.1 296 448.6 296.9 448.9 297.8 449.8 298.7 450.3 299.6 451 300.5 448.1 301.4 449.1 302.3 450.3 303.2 448.2 304.1 448.8 305 449.7 305.9 450.1 306.8 447 307.7 447.8 308.6 448.3 309.5 449.3 310.4 452.4 311.3 452.6 312.2 454.9 313.1 457.5 314 459.7 314.9 460.4 315.8 455.6 316.7 452.5 317.6 451.4 318.5 451.6 319.4 452 320.3 449.5 321.2 449.6 322.1 449.4 323 449.8 323.9 449.8 324.8 447.4 325.7 447.9 326.6 448.3 327.5 449.1 328.4 449.6 329.3 447.6 330.2 447.7 331.1 448.8 332 449.6 332.9 450 333.8 447.3 334.7 448.2 335.6 449.8 336.5 450 337.4 447.7 338.3 448.9 339.2 449.8 340.1 450.9 341 449.2 341.9 449.9 342.8 449.9 343.7 450.7 344.6 451.2 345.5 450.1 346.4 450.4 347.3 451.5 348.2 452.7 349.1 450.3 350 451.9 350.9 453.8 351.8 451.3 352.7 452.4 353.6 453.5 354.5 451.6 355.4 452.6 356.3 453.7 357.2 454.3 358.1 452.1 359 453.4 359.9 454.1 360.8 454.8 361.7 455.6 362.6 453.1 363.5 454.2 364.4 455.5 365.3 455.9 366.2 457.3 367.1 454.7 368 455.5 368.9 456.1 369.8 456.9 370.7 455.2 371.6 455.7 372.5 456.1 373.4 457 374.3 456.6 375.2 453.5 376.1 454.1 377 453.8 377.9 453 378.8 451.8 379.7 449.7 380.6 451.8 381.5 454.6 382.4 455.8 383.3 456.5 384.2 453.8 385.1 454.2 386 454.6 386.9 455.4 387.8 456 388.7 453.4 389.6 453.8 390.5 454.2 391.4 455.4 392.3 452.9 393.2 454.4 394.1 455.9 395 453.1 395.9 454 396.8 455.1 397.7 453.3 398.6 453.2 399.5 453.9 400.4 454.3 401.3 454.4 402.2 452.1 403.1 452.4 404 453.7 404.9 454.6 405.8 455.7 406.7 453.3 407.6 453.9 408.5 454.6 409.4 455.2 410.3 452.5 411.2 453.3 412.1 454.5 413 455.8 413.9 456.4 414.8 454 415.7 454.8 416.6 456 417.5 456 418.4 453.8 419.3 454.6 420.2 455.9 421.1 456.4 422 457 422.9 455.2 423.8 455.7 424.7 456.2 425.6 456.7 426.5 457 427.4 455.1 428.3 455.9 429.2 456.5 430.1 457.5 431 458.1 431.9 455.7 432.8 455.4 433.7 456.4 434.6 461.7" clip-path="url(#pcfaa63ee3c)" style="fill: none; stroke: #808080; stroke-linecap: square"/>
   </g>
   <g id="patch_38">
    <path d="M50.04 472.68 50.04 432.72" style="fill: none; stroke: #000000; stroke-width: 0.8; stroke-linejoin: miter; stroke-linecap: square"/>
   </g>
   <g id="patch_39">
    <path d="M50.04 472.68 435.53 472.68" style="fill: none; stroke: #000000; stroke-width: 0.8; stroke-linejoin: miter; stroke-linecap: square"/>
   </g>
   <g id="text_41">
    <text style="font-weight: 700; font-size: 10px; font-family: 'DejaVu Sans', sans-serif; text-anchor: start" x="42.83" y="428.04" transform="rotate(-0 42.83 428.04)">E</text>
   </g>
   <g id="line2d_145">
    <g clip-path="url(#pcfaa63ee3c)">
     <use href="#m0359ef42ae" x="59.33" y="457.49" style="fill: #006400"/>
    </g>
   </g>
   <g id="line2d_146">
    <g clip-path="url(#pcfaa63ee3c)">
     <use href="#m39bf4ff570" x="109.58" y="451.58" style="fill: #32cd32"/>
    </g>
   </g>
   <g id="line2d_147">
    <g clip-path="url(#pcfaa63ee3c)">
     <use href="#m40aa7412dc" x="192.6" y="445.32" style="fill: #9acd32"/>
    </g>
   </g>
   <g id="line2d_148">
    <g clip-path="url(#pcfaa63ee3c)">
     <use href="#m8d4cf7706d" x="241.42" y="451.08" style="fill: #ffa500"/>
    </g>
   </g>
   <g id="line2d_149">
    <g clip-path="url(#pcfaa63ee3c)">
     <use href="#md631be18a3" x="324.94" y="448.27" style="fill: #ff4500"/>
    </g>
   </g>
   <g id="line2d_150">
    <g clip-path="url(#pcfaa63ee3c)">
     <use href="#m2dcc20f5ee" x="371.95" y="456.77" style="fill: #8b0000"/>
    </g>
   </g>
   <g id="line2d_151">
    <g clip-path="url(#pcfaa63ee3c)">
     <use href="#mf98a6dce66" x="430.7" y="456.77" style="fill: #dc143c"/>
    </g>
   </g>
  </g>
  <g id="axes_18">
   <g id="patch_40">
    <path d="M50.04 508.68 435.53 508.68 435.53 504 50.04 504 50.04 508.68z" style="fill: none; opacity: 0"/>
   </g>
   <g id="matplotlib.axis_35">
    <g id="xtick_65">
     <g id="line2d_152">
      <g>
       <use href="#m1504cfccaf" x="50.04" y="508.68" style="stroke: #000000; stroke-width: 0.8"/>
      </g>
     </g>
     <g id="text_42">
      <text style="font-size: 9px; font-family: 'DejaVu Sans', sans-serif; text-anchor: middle; letter-spacing: -0.3px" x="49.54" y="521.80" transform="rotate(-0 49.54 521.80)">0.0</text>
     </g>
    </g>
    <g id="xtick_66">
     <g id="line2d_153">
      <g>
       <use href="#m1504cfccaf" x="116.28" y="508.68" style="stroke: #000000; stroke-width: 0.8"/>
      </g>
     </g>
     <g id="text_43">
      <text style="font-size: 9px; font-family: 'DejaVu Sans', sans-serif; text-anchor: middle; letter-spacing: -0.3px" x="115.78" y="521.80" transform="rotate(-0 115.78 521.80)">0.5</text>
     </g>
    </g>
    <g id="xtick_67">
     <g id="line2d_154">
      <g>
       <use href="#m1504cfccaf" x="182.52" y="508.68" style="stroke: #000000; stroke-width: 0.8"/>
      </g>
     </g>
     <g id="text_44">
      <text style="font-size: 9px; font-family: 'DejaVu Sans', sans-serif; text-anchor: middle; letter-spacing: -0.3px" x="182.02" y="521.80" transform="rotate(-0 182.02 521.80)">1.0</text>
     </g>
    </g>
    <g id="xtick_68">
     <g id="line2d_155">
      <g>
       <use href="#m1504cfccaf" x="248.76" y="508.68" style="stroke: #000000; stroke-width: 0.8"/>
      </g>
     </g>
     <g id="text_45">
      <text style="font-size: 9px; font-family: 'DejaVu Sans', sans-serif; text-anchor: middle; letter-spacing: -0.3px" x="248.26" y="521.80" transform="rotate(-0 248.26 521.80)">1.5</text>
     </g>
    </g>
    <g id="xtick_69">
     <g id="line2d_156">
      <g>
       <use href="#m1504cfccaf" x="315" y="508.68" style="stroke: #000000; stroke-width: 0.8"/>
      </g>
     </g>
     <g id="text_46">
      <text style="font-size: 9px; font-family: 'DejaVu Sans', sans-serif; text-anchor: middle; letter-spacing: -0.3px" x="314.50" y="521.80" transform="rotate(-0 314.50 521.80)">2.0</text>
     </g>
    </g>
    <g id="xtick_70">
     <g id="line2d_157">
      <g>
       <use href="#m1504cfccaf" x="381.24" y="508.68" style="stroke: #000000; stroke-width: 0.8"/>
      </g>
     </g>
     <g id="text_47">
      <text style="font-size: 9px; font-family: 'DejaVu Sans', sans-serif; text-anchor: middle; letter-spacing: -0.3px" x="380.74" y="521.80" transform="rotate(-0 380.74 521.80)">2.5</text>
     </g>
    </g>
    <g id="text_48">
     <text style="font-size: 9px; font-family: 'DejaVu Sans', sans-serif; text-anchor: middle" x="242.06" y="536.02" transform="rotate(-0 242.06 536.02)">EOD multiples</text>
    </g>
   </g>
   <g id="matplotlib.axis_36"/>
   <g id="patch_41">
    <path d="M50.04 508.68 435.53 508.68" style="fill: none; stroke: #000000; stroke-width: 0.8; stroke-linejoin: miter; stroke-linecap: square"/>
   </g>
  </g>
 </g>
 <defs>
  <clipPath id="p271bf2d5a7">
   <rect x="50.04" y="34.92" width="89.78" height="298.8"/>
  </clipPath>
  <clipPath id="p616f230173">
   <rect x="139.82" y="5.04" width="26.94" height="358.56"/>
  </clipPath>
  <clipPath id="pf7c9f59f91">
   <rect x="166.54" y="34.8" width="90.5" height="33.96"/>
  </clipPath>
  <clipPath id="p87be5fdb95">
   <rect x="280.87" y="34.8" width="154.58" height="33.96"/>
  </clipPath>
  <clipPath id="p42d4b5cf04">
   <rect x="166.54" y="78.72" width="90.5" height="33.96"/>
  </clipPath>
  <clipPath id="p72076c1b64">
   <rect x="280.87" y="78.72" width="154.58" height="33.96"/>
  </clipPath>
  <clipPath id="p31e8495adc">
   <rect x="166.54" y="123.36" width="90.5" height="33.96"/>
  </clipPath>
  <clipPath id="pe9352b81fd">
   <rect x="280.87" y="123.36" width="154.58" height="33.96"/>
  </clipPath>
  <clipPath id="pb8cc3a810f">
   <rect x="166.54" y="167.28" width="90.5" height="33.96"/>
  </clipPath>
  <clipPath id="p96d05946dd">
   <rect x="280.87" y="167.28" width="154.58" height="33.96"/>
  </clipPath>
  <clipPath id="p84a15dad44">
   <rect x="166.54" y="211.2" width="90.5" height="33.96"/>
  </clipPath>
  <clipPath id="peea9d7d8ad">
   <rect x="280.87" y="211.2" width="154.58" height="33.96"/>
  </clipPath>
  <clipPath id="p2ca5e432f3">
   <rect x="166.54" y="255.12" width="90.5" height="33.96"/>
  </clipPath>
  <clipPath id="p71861681be">
   <rect x="280.87" y="255.12" width="154.58" height="33.96"/>
  </clipPath>
  <clipPath id="pc1dec3c6b7">
   <rect x="166.54" y="299.76" width="90.5" height="33.96"/>
  </clipPath>
  <clipPath id="p839522bdb6">
   <rect x="280.87" y="299.76" width="154.58" height="33.96"/>
  </clipPath>
  <clipPath id="pc1760db614">
   <rect x="50.04" y="373.03" width="385.49" height="39.89"/>
  </clipPath>
  <clipPath id="pcfaa63ee3c">
   <rect x="50.04" y="432.72" width="385.49" height="39.96"/>
  </clipPath>
 </defs>
</svg>

</body></html>
